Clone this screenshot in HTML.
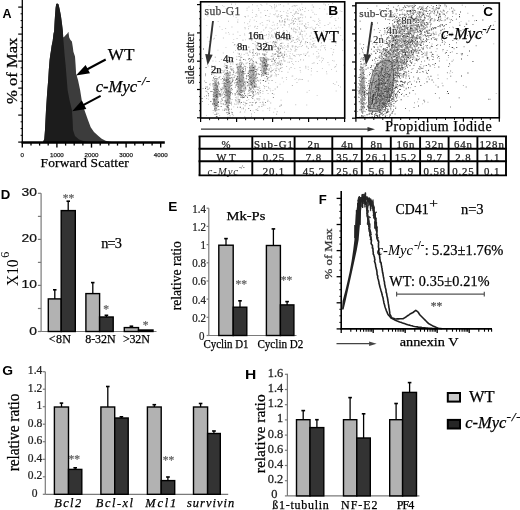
<!DOCTYPE html>
<html><head><meta charset="utf-8"><style>
html,body{margin:0;padding:0;background:#fff;}
svg{display:block;filter:blur(0.4px);}
</style></head><body>
<svg width="520" height="510" viewBox="0 0 520 510">
<rect width="520" height="510" fill="#fff"/>
<text transform="translate(2.6,17.8) scale(0.98,1)" font-family='"Liberation Sans", sans-serif' font-size="12.8" font-weight="bold">A</text>
<polygon points="40,142.5 43,142 44.3,139 45,130 46,110 47.2,92 48.2,80 48.8,70 49.6,60 50.4,54 50.8,51.8 51.6,46 52.7,40.8 53.5,33.7 54.1,31.4 54.6,22 55,15.7 55.6,8 56.2,3.9 57.2,3.6 58.5,4.2 59.6,9 60.9,15.7 62,24 62.9,31.4 63.2,37.6 64.5,36.5 66,34.8 67.2,33.7 68.4,31.8 69.2,37.6 70.5,40 71.9,41.6 72.8,47 73.4,51.8 75,56.5 75.6,65 76.1,73.7 78,80 80.1,90 81.7,100 84.4,110 87.8,119.6 90.7,127.3 94,132.1 98.4,136 101.7,138.8 105.6,140.8 110,141.8 116,142.5" fill="#3c3c3c"/>
<polygon points="40,142.5 43,142 44.3,139 45,130 46,110 47.2,92 48.2,80 48.8,70 49.6,60 50.4,54 50.8,51.8 51.6,46 52.7,40.8 53.5,33.7 54.1,31.4 54.6,22 55,15.7 55.6,8 56.2,3.9 57.2,3.6 58.5,4.2 59.6,9 60.9,15.7 62,24 62.9,31.4 63.2,37.6 63.8,45 64.6,55 65.6,65 66.8,80 67.6,90 69.5,100 71.9,110 72.6,120 73,130 75,136 79,139.5 85,141.5 92,142.5" fill="#1c1c1c"/>
<line x1="22.3" y1="0" x2="22.3" y2="143.3" stroke="#000" stroke-width="1.3"/>
<line x1="18.2" y1="7.1" x2="22.3" y2="7.1" stroke="#000" stroke-width="1.2"/>
<line x1="20.6" y1="13.8" x2="22.3" y2="13.8" stroke="#000" stroke-width="1.0"/>
<line x1="20.6" y1="20.6" x2="22.3" y2="20.6" stroke="#000" stroke-width="1.0"/>
<line x1="20.6" y1="27.4" x2="22.3" y2="27.4" stroke="#000" stroke-width="1.0"/>
<line x1="18.2" y1="34.1" x2="22.3" y2="34.1" stroke="#000" stroke-width="1.2"/>
<line x1="20.6" y1="40.9" x2="22.3" y2="40.9" stroke="#000" stroke-width="1.0"/>
<line x1="20.6" y1="47.6" x2="22.3" y2="47.6" stroke="#000" stroke-width="1.0"/>
<line x1="20.6" y1="54.4" x2="22.3" y2="54.4" stroke="#000" stroke-width="1.0"/>
<line x1="18.2" y1="61.1" x2="22.3" y2="61.1" stroke="#000" stroke-width="1.2"/>
<line x1="20.6" y1="67.8" x2="22.3" y2="67.8" stroke="#000" stroke-width="1.0"/>
<line x1="20.6" y1="74.6" x2="22.3" y2="74.6" stroke="#000" stroke-width="1.0"/>
<line x1="20.6" y1="81.3" x2="22.3" y2="81.3" stroke="#000" stroke-width="1.0"/>
<line x1="18.2" y1="88.1" x2="22.3" y2="88.1" stroke="#000" stroke-width="1.2"/>
<line x1="20.6" y1="94.8" x2="22.3" y2="94.8" stroke="#000" stroke-width="1.0"/>
<line x1="20.6" y1="101.6" x2="22.3" y2="101.6" stroke="#000" stroke-width="1.0"/>
<line x1="20.6" y1="108.3" x2="22.3" y2="108.3" stroke="#000" stroke-width="1.0"/>
<line x1="18.2" y1="115.1" x2="22.3" y2="115.1" stroke="#000" stroke-width="1.2"/>
<line x1="20.6" y1="121.8" x2="22.3" y2="121.8" stroke="#000" stroke-width="1.0"/>
<line x1="20.6" y1="128.6" x2="22.3" y2="128.6" stroke="#000" stroke-width="1.0"/>
<line x1="20.6" y1="135.3" x2="22.3" y2="135.3" stroke="#000" stroke-width="1.0"/>
<line x1="18.2" y1="142.1" x2="22.3" y2="142.1" stroke="#000" stroke-width="1.2"/>
<line x1="21.6" y1="142.5" x2="164.8" y2="142.5" stroke="#000" stroke-width="2.3"/>
<line x1="22.3" y1="142.5" x2="22.3" y2="147.6" stroke="#000" stroke-width="1.4"/>
<line x1="31" y1="142.5" x2="31" y2="145.6" stroke="#000" stroke-width="1.3"/>
<line x1="39.6" y1="142.5" x2="39.6" y2="145.6" stroke="#000" stroke-width="1.3"/>
<line x1="48.2" y1="142.5" x2="48.2" y2="145.6" stroke="#000" stroke-width="1.3"/>
<text x="22.3" y="156.5" font-family='"Liberation Sans", sans-serif' font-size="6.2" fill="#222" text-anchor="middle" stroke="#222" stroke-width="0.25">0</text>
<line x1="56.9" y1="142.5" x2="56.9" y2="147.6" stroke="#000" stroke-width="1.4"/>
<line x1="65.6" y1="142.5" x2="65.6" y2="145.6" stroke="#000" stroke-width="1.3"/>
<line x1="74.2" y1="142.5" x2="74.2" y2="145.6" stroke="#000" stroke-width="1.3"/>
<line x1="82.9" y1="142.5" x2="82.9" y2="145.6" stroke="#000" stroke-width="1.3"/>
<text x="56.9" y="156.5" font-family='"Liberation Sans", sans-serif' font-size="6.2" fill="#222" text-anchor="middle" stroke="#222" stroke-width="0.25">1000</text>
<line x1="91.5" y1="142.5" x2="91.5" y2="147.6" stroke="#000" stroke-width="1.4"/>
<line x1="100.2" y1="142.5" x2="100.2" y2="145.6" stroke="#000" stroke-width="1.3"/>
<line x1="108.8" y1="142.5" x2="108.8" y2="145.6" stroke="#000" stroke-width="1.3"/>
<line x1="117.5" y1="142.5" x2="117.5" y2="145.6" stroke="#000" stroke-width="1.3"/>
<text x="91.5" y="156.5" font-family='"Liberation Sans", sans-serif' font-size="6.2" fill="#222" text-anchor="middle" stroke="#222" stroke-width="0.25">2000</text>
<line x1="126.1" y1="142.5" x2="126.1" y2="147.6" stroke="#000" stroke-width="1.4"/>
<line x1="134.8" y1="142.5" x2="134.8" y2="145.6" stroke="#000" stroke-width="1.3"/>
<line x1="143.4" y1="142.5" x2="143.4" y2="145.6" stroke="#000" stroke-width="1.3"/>
<line x1="152.1" y1="142.5" x2="152.1" y2="145.6" stroke="#000" stroke-width="1.3"/>
<text x="126.1" y="156.5" font-family='"Liberation Sans", sans-serif' font-size="6.2" fill="#222" text-anchor="middle" stroke="#222" stroke-width="0.25">3000</text>
<line x1="160.7" y1="142.5" x2="160.7" y2="147.6" stroke="#000" stroke-width="1.4"/>
<text x="160.7" y="156.5" font-family='"Liberation Sans", sans-serif' font-size="6.2" fill="#222" text-anchor="middle" stroke="#222" stroke-width="0.25">4000</text>
<text x="40.6" y="166.6" font-family='"Liberation Serif", serif' font-size="13.4" fill="#000" textLength="88.2" lengthAdjust="spacing" stroke="#000" stroke-width="0.25">Forward Scatter</text>
<text transform="translate(16.9,104) rotate(-90)" font-family='"Liberation Serif", serif' font-size="15" fill="#000" textLength="66.3" lengthAdjust="spacingAndGlyphs" stroke="#000" stroke-width="0.25">% of Max</text>
<text x="107.7" y="60.2" font-family='"Liberation Serif", serif' font-size="17.2" fill="#000" stroke="#000" stroke-width="0.25">WT</text>
<text x="95.7" y="92" font-family='"Liberation Serif", serif' font-size="16.6" fill="#000" font-style="italic" stroke="#000" stroke-width="0.25">c-Myc<tspan font-size="12.5" dy="-6.8" letter-spacing="0.6">-/-</tspan></text>
<line x1="105.7" y1="59.5" x2="86.9" y2="69.5" stroke="#000" stroke-width="2.0"/>
<polygon points="75.9,75.4 85.6,64.9 90,73.2" fill="#000"/>
<line x1="100.6" y1="95.8" x2="83.2" y2="105.2" stroke="#000" stroke-width="2.0"/>
<polygon points="72.2,111.2 81.8,100.6 86.3,108.9" fill="#000"/>
<ellipse cx="215.6" cy="96" rx="2.2" ry="16" fill="#999" opacity="0.45"/>
<ellipse cx="227.3" cy="90" rx="2.7" ry="19" fill="#999" opacity="0.45"/>
<ellipse cx="240" cy="80" rx="2.6" ry="16" fill="#999" opacity="0.45"/>
<ellipse cx="252" cy="76" rx="2.7" ry="12" fill="#999" opacity="0.45"/>
<ellipse cx="264" cy="66" rx="2.8" ry="9" fill="#999" opacity="0.45"/>
<path d="M215.6 98.7h0.9v0.9h-0.9zM215.2 88.0h0.9v0.9h-0.9zM212.6 84.4h0.9v0.9h-0.9zM213.6 98.4h0.9v0.9h-0.9zM215.9 94.3h0.9v0.9h-0.9zM211.6 91.2h0.9v0.9h-0.9zM217.3 88.7h0.9v0.9h-0.9zM215.5 104.0h0.9v0.9h-0.9zM215.7 101.2h0.9v0.9h-0.9zM215.3 102.1h0.9v0.9h-0.9zM217.9 89.9h0.9v0.9h-0.9zM215.8 85.3h0.9v0.9h-0.9zM214.9 95.1h0.9v0.9h-0.9zM213.5 99.1h0.9v0.9h-0.9zM215.9 116.2h0.9v0.9h-0.9zM213.8 99.3h0.9v0.9h-0.9zM212.2 103.6h0.9v0.9h-0.9zM214.2 103.0h0.9v0.9h-0.9zM215.5 93.5h0.9v0.9h-0.9zM215.3 87.2h0.9v0.9h-0.9zM217.4 91.1h0.9v0.9h-0.9zM214.6 84.5h0.9v0.9h-0.9zM214.5 93.1h0.9v0.9h-0.9zM214.7 96.1h0.9v0.9h-0.9zM213.4 88.7h0.9v0.9h-0.9zM217.9 82.9h0.9v0.9h-0.9zM215.3 90.3h0.9v0.9h-0.9zM216.5 103.0h0.9v0.9h-0.9zM216.9 86.9h0.9v0.9h-0.9zM216.0 96.4h0.9v0.9h-0.9zM215.3 87.3h0.9v0.9h-0.9zM213.0 100.6h0.9v0.9h-0.9zM215.5 99.7h0.9v0.9h-0.9zM215.9 89.0h0.9v0.9h-0.9zM216.2 99.1h0.9v0.9h-0.9zM214.5 78.3h0.9v0.9h-0.9zM210.4 91.2h0.9v0.9h-0.9zM217.4 97.4h0.9v0.9h-0.9zM213.9 100.6h0.9v0.9h-0.9zM214.5 105.8h0.9v0.9h-0.9zM213.6 94.8h0.9v0.9h-0.9zM215.6 84.1h0.9v0.9h-0.9zM215.3 96.5h0.9v0.9h-0.9zM215.5 90.8h0.9v0.9h-0.9zM214.6 110.4h0.9v0.9h-0.9zM215.0 94.0h0.9v0.9h-0.9zM215.2 97.0h0.9v0.9h-0.9zM218.7 94.2h0.9v0.9h-0.9zM217.1 87.5h0.9v0.9h-0.9zM216.1 94.2h0.9v0.9h-0.9zM215.9 98.7h0.9v0.9h-0.9zM215.9 95.2h0.9v0.9h-0.9zM216.5 96.5h0.9v0.9h-0.9zM216.6 116.3h0.9v0.9h-0.9zM215.9 89.0h0.9v0.9h-0.9zM215.3 85.6h0.9v0.9h-0.9zM215.8 85.6h0.9v0.9h-0.9zM216.4 94.8h0.9v0.9h-0.9zM216.9 94.3h0.9v0.9h-0.9zM215.9 105.0h0.9v0.9h-0.9zM215.0 105.3h0.9v0.9h-0.9zM214.1 103.2h0.9v0.9h-0.9zM217.7 92.5h0.9v0.9h-0.9zM218.1 90.2h0.9v0.9h-0.9zM215.0 104.9h0.9v0.9h-0.9zM216.1 86.6h0.9v0.9h-0.9zM213.2 96.0h0.9v0.9h-0.9zM215.4 96.5h0.9v0.9h-0.9zM213.9 89.3h0.9v0.9h-0.9zM214.3 89.5h0.9v0.9h-0.9zM216.5 89.2h0.9v0.9h-0.9zM218.6 93.1h0.9v0.9h-0.9zM215.1 82.4h0.9v0.9h-0.9zM214.0 108.5h0.9v0.9h-0.9zM215.5 95.2h0.9v0.9h-0.9zM215.5 107.6h0.9v0.9h-0.9zM227.8 88.0h0.9v0.9h-0.9zM225.8 79.6h0.9v0.9h-0.9zM227.8 90.0h0.9v0.9h-0.9zM226.7 67.2h0.9v0.9h-0.9zM226.6 79.3h0.9v0.9h-0.9zM228.2 92.7h0.9v0.9h-0.9zM228.6 94.7h0.9v0.9h-0.9zM227.0 62.1h0.9v0.9h-0.9zM227.8 109.2h0.9v0.9h-0.9zM225.9 94.7h0.9v0.9h-0.9zM229.3 81.5h0.9v0.9h-0.9zM228.5 101.8h0.9v0.9h-0.9zM228.0 79.0h0.9v0.9h-0.9zM226.1 80.5h0.9v0.9h-0.9zM229.1 94.2h0.9v0.9h-0.9zM226.1 89.8h0.9v0.9h-0.9zM229.6 93.4h0.9v0.9h-0.9zM227.2 106.2h0.9v0.9h-0.9zM226.0 73.3h0.9v0.9h-0.9zM225.6 92.3h0.9v0.9h-0.9zM227.4 92.4h0.9v0.9h-0.9zM225.3 91.3h0.9v0.9h-0.9zM228.3 80.2h0.9v0.9h-0.9zM225.8 86.1h0.9v0.9h-0.9zM228.4 97.5h0.9v0.9h-0.9zM223.2 97.0h0.9v0.9h-0.9zM228.7 86.2h0.9v0.9h-0.9zM222.7 103.4h0.9v0.9h-0.9zM228.0 73.4h0.9v0.9h-0.9zM226.4 89.1h0.9v0.9h-0.9zM225.1 85.9h0.9v0.9h-0.9zM226.9 100.1h0.9v0.9h-0.9zM227.5 84.3h0.9v0.9h-0.9zM228.6 96.7h0.9v0.9h-0.9zM225.5 67.2h0.9v0.9h-0.9zM227.9 107.5h0.9v0.9h-0.9zM226.0 68.2h0.9v0.9h-0.9zM228.0 91.2h0.9v0.9h-0.9zM227.1 82.1h0.9v0.9h-0.9zM226.4 80.8h0.9v0.9h-0.9zM226.3 66.9h0.9v0.9h-0.9zM224.4 85.5h0.9v0.9h-0.9zM223.8 84.9h0.9v0.9h-0.9zM228.9 96.1h0.9v0.9h-0.9zM227.1 80.2h0.9v0.9h-0.9zM227.3 91.2h0.9v0.9h-0.9zM228.9 77.9h0.9v0.9h-0.9zM229.0 113.1h0.9v0.9h-0.9zM225.4 88.8h0.9v0.9h-0.9zM226.7 91.3h0.9v0.9h-0.9zM225.4 87.3h0.9v0.9h-0.9zM228.8 91.3h0.9v0.9h-0.9zM227.5 107.0h0.9v0.9h-0.9zM227.7 82.6h0.9v0.9h-0.9zM229.1 97.7h0.9v0.9h-0.9zM227.6 90.8h0.9v0.9h-0.9zM225.9 87.9h0.9v0.9h-0.9zM229.7 74.7h0.9v0.9h-0.9zM227.1 75.7h0.9v0.9h-0.9zM226.4 102.2h0.9v0.9h-0.9zM227.7 99.7h0.9v0.9h-0.9zM231.8 80.9h0.9v0.9h-0.9zM228.2 97.2h0.9v0.9h-0.9zM227.1 101.3h0.9v0.9h-0.9zM225.2 100.5h0.9v0.9h-0.9zM227.1 96.3h0.9v0.9h-0.9zM229.4 86.2h0.9v0.9h-0.9zM229.4 85.6h0.9v0.9h-0.9zM228.2 80.9h0.9v0.9h-0.9zM228.0 94.3h0.9v0.9h-0.9zM226.5 112.2h0.9v0.9h-0.9zM227.4 90.5h0.9v0.9h-0.9zM226.7 70.1h0.9v0.9h-0.9zM226.8 65.6h0.9v0.9h-0.9zM228.0 82.0h0.9v0.9h-0.9zM225.9 87.6h0.9v0.9h-0.9zM223.2 79.4h0.9v0.9h-0.9zM229.6 77.8h0.9v0.9h-0.9zM225.6 85.5h0.9v0.9h-0.9zM229.3 81.0h0.9v0.9h-0.9zM229.0 102.7h0.9v0.9h-0.9zM227.1 72.4h0.9v0.9h-0.9zM226.8 91.8h0.9v0.9h-0.9zM227.3 82.1h0.9v0.9h-0.9zM228.9 92.4h0.9v0.9h-0.9zM228.8 85.6h0.9v0.9h-0.9zM226.4 76.8h0.9v0.9h-0.9zM226.9 101.5h0.9v0.9h-0.9zM228.0 95.6h0.9v0.9h-0.9zM225.7 65.0h0.9v0.9h-0.9zM227.2 101.7h0.9v0.9h-0.9zM228.6 75.3h0.9v0.9h-0.9zM229.9 91.5h0.9v0.9h-0.9zM232.0 80.6h0.9v0.9h-0.9zM227.1 88.2h0.9v0.9h-0.9zM225.3 85.9h0.9v0.9h-0.9zM226.1 87.2h0.9v0.9h-0.9zM230.5 65.9h0.9v0.9h-0.9zM242.2 90.8h0.9v0.9h-0.9zM239.7 87.8h0.9v0.9h-0.9zM237.4 82.0h0.9v0.9h-0.9zM238.4 66.1h0.9v0.9h-0.9zM240.4 65.6h0.9v0.9h-0.9zM239.4 82.7h0.9v0.9h-0.9zM237.1 78.8h0.9v0.9h-0.9zM241.7 76.6h0.9v0.9h-0.9zM238.1 81.9h0.9v0.9h-0.9zM239.8 106.8h0.9v0.9h-0.9zM239.9 78.8h0.9v0.9h-0.9zM238.9 74.9h0.9v0.9h-0.9zM241.0 85.5h0.9v0.9h-0.9zM242.0 94.4h0.9v0.9h-0.9zM242.3 85.6h0.9v0.9h-0.9zM239.8 78.1h0.9v0.9h-0.9zM239.0 79.7h0.9v0.9h-0.9zM237.0 90.5h0.9v0.9h-0.9zM242.7 97.2h0.9v0.9h-0.9zM245.1 86.8h0.9v0.9h-0.9zM242.4 85.1h0.9v0.9h-0.9zM240.3 83.9h0.9v0.9h-0.9zM238.7 88.7h0.9v0.9h-0.9zM243.2 76.8h0.9v0.9h-0.9zM239.5 87.1h0.9v0.9h-0.9zM243.0 59.2h0.9v0.9h-0.9zM237.7 93.8h0.9v0.9h-0.9zM244.5 84.6h0.9v0.9h-0.9zM239.7 70.9h0.9v0.9h-0.9zM240.2 84.3h0.9v0.9h-0.9zM239.3 93.9h0.9v0.9h-0.9zM238.8 53.6h0.9v0.9h-0.9zM239.6 81.0h0.9v0.9h-0.9zM244.5 73.2h0.9v0.9h-0.9zM239.9 70.1h0.9v0.9h-0.9zM239.3 75.1h0.9v0.9h-0.9zM241.2 74.5h0.9v0.9h-0.9zM238.3 82.7h0.9v0.9h-0.9zM239.8 89.8h0.9v0.9h-0.9zM239.2 87.1h0.9v0.9h-0.9zM245.1 68.4h0.9v0.9h-0.9zM240.8 63.6h0.9v0.9h-0.9zM242.7 68.5h0.9v0.9h-0.9zM240.3 94.3h0.9v0.9h-0.9zM243.0 71.1h0.9v0.9h-0.9zM241.3 79.0h0.9v0.9h-0.9zM240.6 71.4h0.9v0.9h-0.9zM240.1 78.9h0.9v0.9h-0.9zM238.7 80.2h0.9v0.9h-0.9zM236.7 67.3h0.9v0.9h-0.9zM236.2 78.3h0.9v0.9h-0.9zM236.8 76.5h0.9v0.9h-0.9zM239.9 81.0h0.9v0.9h-0.9zM242.5 73.2h0.9v0.9h-0.9zM239.3 77.1h0.9v0.9h-0.9zM238.0 69.4h0.9v0.9h-0.9zM240.2 83.9h0.9v0.9h-0.9zM243.2 83.1h0.9v0.9h-0.9zM238.8 79.4h0.9v0.9h-0.9zM241.7 72.0h0.9v0.9h-0.9zM239.0 100.7h0.9v0.9h-0.9zM238.9 78.4h0.9v0.9h-0.9zM239.2 77.6h0.9v0.9h-0.9zM237.6 71.2h0.9v0.9h-0.9zM239.3 74.5h0.9v0.9h-0.9zM238.4 79.4h0.9v0.9h-0.9zM242.2 69.9h0.9v0.9h-0.9zM239.1 87.4h0.9v0.9h-0.9zM237.5 76.1h0.9v0.9h-0.9zM240.2 59.7h0.9v0.9h-0.9zM238.7 76.1h0.9v0.9h-0.9zM238.3 84.3h0.9v0.9h-0.9zM239.1 72.6h0.9v0.9h-0.9zM240.7 90.0h0.9v0.9h-0.9zM242.7 81.6h0.9v0.9h-0.9zM240.2 71.2h0.9v0.9h-0.9zM237.5 86.2h0.9v0.9h-0.9zM235.8 79.0h0.9v0.9h-0.9zM241.3 77.7h0.9v0.9h-0.9zM238.8 101.3h0.9v0.9h-0.9zM242.3 96.4h0.9v0.9h-0.9zM242.2 90.5h0.9v0.9h-0.9zM237.4 66.5h0.9v0.9h-0.9zM242.6 75.3h0.9v0.9h-0.9zM239.3 72.8h0.9v0.9h-0.9zM240.6 81.0h0.9v0.9h-0.9zM253.9 79.4h0.9v0.9h-0.9zM254.2 71.9h0.9v0.9h-0.9zM252.4 86.6h0.9v0.9h-0.9zM251.0 83.6h0.9v0.9h-0.9zM250.4 84.4h0.9v0.9h-0.9zM252.8 69.9h0.9v0.9h-0.9zM253.5 67.1h0.9v0.9h-0.9zM252.4 76.1h0.9v0.9h-0.9zM249.9 80.3h0.9v0.9h-0.9zM252.6 66.8h0.9v0.9h-0.9zM252.5 77.7h0.9v0.9h-0.9zM254.1 72.2h0.9v0.9h-0.9zM254.0 68.5h0.9v0.9h-0.9zM253.3 80.1h0.9v0.9h-0.9zM254.1 86.6h0.9v0.9h-0.9zM250.9 82.1h0.9v0.9h-0.9zM252.6 78.3h0.9v0.9h-0.9zM255.8 73.5h0.9v0.9h-0.9zM251.9 82.9h0.9v0.9h-0.9zM252.3 75.2h0.9v0.9h-0.9zM251.2 70.4h0.9v0.9h-0.9zM251.1 79.7h0.9v0.9h-0.9zM252.8 74.2h0.9v0.9h-0.9zM252.6 74.8h0.9v0.9h-0.9zM254.1 85.1h0.9v0.9h-0.9zM255.2 86.6h0.9v0.9h-0.9zM249.3 66.9h0.9v0.9h-0.9zM251.8 80.7h0.9v0.9h-0.9zM249.3 77.9h0.9v0.9h-0.9zM250.6 76.8h0.9v0.9h-0.9zM252.5 67.6h0.9v0.9h-0.9zM254.0 85.9h0.9v0.9h-0.9zM247.0 82.1h0.9v0.9h-0.9zM250.4 76.8h0.9v0.9h-0.9zM249.8 70.3h0.9v0.9h-0.9zM252.8 71.8h0.9v0.9h-0.9zM253.8 82.0h0.9v0.9h-0.9zM251.3 79.9h0.9v0.9h-0.9zM255.0 71.0h0.9v0.9h-0.9zM249.2 87.7h0.9v0.9h-0.9zM253.3 73.3h0.9v0.9h-0.9zM255.6 69.0h0.9v0.9h-0.9zM251.4 83.9h0.9v0.9h-0.9zM252.7 91.0h0.9v0.9h-0.9zM255.3 75.5h0.9v0.9h-0.9zM254.5 65.6h0.9v0.9h-0.9zM254.5 83.2h0.9v0.9h-0.9zM251.8 70.3h0.9v0.9h-0.9zM253.6 77.1h0.9v0.9h-0.9zM250.9 76.6h0.9v0.9h-0.9zM254.4 81.3h0.9v0.9h-0.9zM253.0 80.6h0.9v0.9h-0.9zM253.2 79.5h0.9v0.9h-0.9zM248.1 73.1h0.9v0.9h-0.9zM248.9 86.7h0.9v0.9h-0.9zM250.5 70.1h0.9v0.9h-0.9zM249.6 71.9h0.9v0.9h-0.9zM249.0 63.3h0.9v0.9h-0.9zM253.5 70.3h0.9v0.9h-0.9zM248.0 78.9h0.9v0.9h-0.9zM252.3 82.6h0.9v0.9h-0.9zM262.1 62.5h0.9v0.9h-0.9zM266.2 61.2h0.9v0.9h-0.9zM263.7 54.5h0.9v0.9h-0.9zM268.3 58.7h0.9v0.9h-0.9zM261.6 61.1h0.9v0.9h-0.9zM262.2 66.6h0.9v0.9h-0.9zM263.5 60.1h0.9v0.9h-0.9zM265.5 73.1h0.9v0.9h-0.9zM264.7 59.5h0.9v0.9h-0.9zM264.9 64.4h0.9v0.9h-0.9zM263.3 66.8h0.9v0.9h-0.9zM263.6 62.0h0.9v0.9h-0.9zM265.5 73.7h0.9v0.9h-0.9zM260.1 63.6h0.9v0.9h-0.9zM262.7 44.0h0.9v0.9h-0.9zM264.2 54.6h0.9v0.9h-0.9zM263.6 68.8h0.9v0.9h-0.9zM263.3 74.8h0.9v0.9h-0.9zM263.1 80.1h0.9v0.9h-0.9zM264.9 64.6h0.9v0.9h-0.9zM261.3 57.4h0.9v0.9h-0.9zM270.5 71.3h0.9v0.9h-0.9zM256.1 62.4h0.9v0.9h-0.9zM265.4 69.5h0.9v0.9h-0.9zM267.7 73.8h0.9v0.9h-0.9zM265.7 58.8h0.9v0.9h-0.9zM264.4 64.6h0.9v0.9h-0.9zM264.2 64.9h0.9v0.9h-0.9zM265.2 63.6h0.9v0.9h-0.9zM266.0 67.4h0.9v0.9h-0.9zM261.3 70.4h0.9v0.9h-0.9zM263.0 67.8h0.9v0.9h-0.9zM265.3 66.3h0.9v0.9h-0.9zM264.4 68.1h0.9v0.9h-0.9zM265.2 80.9h0.9v0.9h-0.9zM264.3 61.8h0.9v0.9h-0.9zM264.4 62.6h0.9v0.9h-0.9zM263.9 57.9h0.9v0.9h-0.9zM263.5 70.7h0.9v0.9h-0.9zM264.6 73.1h0.9v0.9h-0.9zM266.3 76.0h0.9v0.9h-0.9zM266.5 65.3h0.9v0.9h-0.9zM260.7 59.7h0.9v0.9h-0.9zM265.3 65.6h0.9v0.9h-0.9zM264.1 62.5h0.9v0.9h-0.9zM266.1 65.7h0.9v0.9h-0.9zM264.0 66.1h0.9v0.9h-0.9zM266.6 68.8h0.9v0.9h-0.9zM266.2 68.3h0.9v0.9h-0.9zM266.9 65.8h0.9v0.9h-0.9zM271.5 60.8h0.9v0.9h-0.9zM273.3 41.3h0.9v0.9h-0.9zM275.5 42.0h0.9v0.9h-0.9zM278.5 55.7h0.9v0.9h-0.9zM275.2 44.5h0.9v0.9h-0.9zM284.1 54.6h0.9v0.9h-0.9zM271.5 47.5h0.9v0.9h-0.9zM275.3 53.4h0.9v0.9h-0.9zM277.4 51.6h0.9v0.9h-0.9zM279.5 52.8h0.9v0.9h-0.9zM274.4 53.9h0.9v0.9h-0.9zM282.6 56.7h0.9v0.9h-0.9zM277.9 48.6h0.9v0.9h-0.9zM279.8 63.8h0.9v0.9h-0.9zM282.9 56.7h0.9v0.9h-0.9zM280.3 51.8h0.9v0.9h-0.9zM278.3 55.7h0.9v0.9h-0.9zM275.6 46.0h0.9v0.9h-0.9zM277.5 62.6h0.9v0.9h-0.9zM279.9 48.3h0.9v0.9h-0.9zM277.4 55.9h0.9v0.9h-0.9zM273.1 58.5h0.9v0.9h-0.9z" fill="#333"/>
<path d="M214.9 87.1h0.9v0.9h-0.9zM215.7 108.1h0.9v0.9h-0.9zM215.6 102.3h0.9v0.9h-0.9zM213.4 91.9h0.9v0.9h-0.9zM212.7 93.9h0.9v0.9h-0.9zM215.5 97.0h0.9v0.9h-0.9zM213.2 91.7h0.9v0.9h-0.9zM214.7 95.0h0.9v0.9h-0.9zM215.8 96.6h0.9v0.9h-0.9zM217.0 97.1h0.9v0.9h-0.9zM214.6 114.0h0.9v0.9h-0.9zM215.9 91.8h0.9v0.9h-0.9zM214.7 94.2h0.9v0.9h-0.9zM213.5 88.8h0.9v0.9h-0.9zM216.6 78.1h0.9v0.9h-0.9zM215.1 92.7h0.9v0.9h-0.9zM215.2 109.7h0.9v0.9h-0.9zM216.2 94.9h0.9v0.9h-0.9zM215.6 92.0h0.9v0.9h-0.9zM215.6 102.0h0.9v0.9h-0.9zM212.9 77.7h0.9v0.9h-0.9zM215.1 87.9h0.9v0.9h-0.9zM216.7 100.7h0.9v0.9h-0.9zM213.9 95.3h0.9v0.9h-0.9zM216.0 88.3h0.9v0.9h-0.9zM215.7 90.7h0.9v0.9h-0.9zM215.4 78.0h0.9v0.9h-0.9zM212.8 102.8h0.9v0.9h-0.9zM217.6 94.6h0.9v0.9h-0.9zM217.1 96.1h0.9v0.9h-0.9zM215.0 93.3h0.9v0.9h-0.9zM213.9 99.0h0.9v0.9h-0.9zM212.8 102.6h0.9v0.9h-0.9zM215.6 96.6h0.9v0.9h-0.9zM214.4 100.1h0.9v0.9h-0.9zM214.7 94.7h0.9v0.9h-0.9zM213.8 85.1h0.9v0.9h-0.9zM216.1 95.7h0.9v0.9h-0.9zM216.6 93.3h0.9v0.9h-0.9zM215.4 96.2h0.9v0.9h-0.9zM217.5 102.1h0.9v0.9h-0.9zM216.2 90.9h0.9v0.9h-0.9zM213.4 104.5h0.9v0.9h-0.9zM216.9 104.3h0.9v0.9h-0.9zM213.6 103.8h0.9v0.9h-0.9zM213.8 80.8h0.9v0.9h-0.9zM213.0 77.0h0.9v0.9h-0.9zM214.2 82.4h0.9v0.9h-0.9zM214.0 90.1h0.9v0.9h-0.9zM218.8 83.5h0.9v0.9h-0.9zM217.0 95.2h0.9v0.9h-0.9zM215.6 83.0h0.9v0.9h-0.9zM217.7 96.4h0.9v0.9h-0.9zM215.7 95.5h0.9v0.9h-0.9zM215.7 103.2h0.9v0.9h-0.9zM216.5 97.9h0.9v0.9h-0.9zM218.4 109.1h0.9v0.9h-0.9zM214.9 102.9h0.9v0.9h-0.9zM216.0 95.4h0.9v0.9h-0.9zM215.2 94.4h0.9v0.9h-0.9zM215.6 109.8h0.9v0.9h-0.9zM214.7 92.5h0.9v0.9h-0.9zM217.1 104.3h0.9v0.9h-0.9zM216.7 97.0h0.9v0.9h-0.9zM215.9 93.7h0.9v0.9h-0.9zM218.0 101.0h0.9v0.9h-0.9zM216.4 96.6h0.9v0.9h-0.9zM213.1 93.9h0.9v0.9h-0.9zM214.2 104.0h0.9v0.9h-0.9zM214.4 101.2h0.9v0.9h-0.9zM215.6 87.1h0.9v0.9h-0.9zM216.3 114.1h0.9v0.9h-0.9zM215.2 94.2h0.9v0.9h-0.9zM213.9 98.9h0.9v0.9h-0.9zM214.7 83.8h0.9v0.9h-0.9zM214.2 91.5h0.9v0.9h-0.9zM215.1 95.6h0.9v0.9h-0.9zM216.4 112.8h0.9v0.9h-0.9zM212.5 83.3h0.9v0.9h-0.9zM217.0 102.4h0.9v0.9h-0.9zM215.0 89.9h0.9v0.9h-0.9zM213.7 95.5h0.9v0.9h-0.9zM217.4 105.6h0.9v0.9h-0.9zM217.3 91.7h0.9v0.9h-0.9zM215.0 92.9h0.9v0.9h-0.9zM213.5 83.0h0.9v0.9h-0.9zM212.8 88.9h0.9v0.9h-0.9zM215.9 85.1h0.9v0.9h-0.9zM216.3 78.9h0.9v0.9h-0.9zM219.7 94.4h0.9v0.9h-0.9zM214.8 91.9h0.9v0.9h-0.9zM215.5 91.2h0.9v0.9h-0.9zM215.5 103.9h0.9v0.9h-0.9zM214.6 87.2h0.9v0.9h-0.9zM217.0 91.3h0.9v0.9h-0.9zM216.2 94.0h0.9v0.9h-0.9zM214.4 101.3h0.9v0.9h-0.9zM215.4 101.4h0.9v0.9h-0.9zM215.5 80.5h0.9v0.9h-0.9zM216.6 86.3h0.9v0.9h-0.9zM217.4 82.3h0.9v0.9h-0.9zM213.8 99.4h0.9v0.9h-0.9zM216.3 87.3h0.9v0.9h-0.9zM216.0 95.7h0.9v0.9h-0.9zM213.5 102.7h0.9v0.9h-0.9zM216.9 87.3h0.9v0.9h-0.9zM213.4 92.8h0.9v0.9h-0.9zM217.8 70.6h0.9v0.9h-0.9zM216.4 86.3h0.9v0.9h-0.9zM217.3 86.3h0.9v0.9h-0.9zM216.9 92.4h0.9v0.9h-0.9zM215.0 95.7h0.9v0.9h-0.9zM214.4 95.4h0.9v0.9h-0.9zM226.1 81.8h0.9v0.9h-0.9zM227.2 78.5h0.9v0.9h-0.9zM226.8 84.0h0.9v0.9h-0.9zM224.6 90.7h0.9v0.9h-0.9zM224.6 83.2h0.9v0.9h-0.9zM227.0 85.3h0.9v0.9h-0.9zM227.5 76.8h0.9v0.9h-0.9zM227.8 91.6h0.9v0.9h-0.9zM226.0 87.1h0.9v0.9h-0.9zM227.7 73.3h0.9v0.9h-0.9zM228.4 102.9h0.9v0.9h-0.9zM224.2 100.4h0.9v0.9h-0.9zM224.7 83.0h0.9v0.9h-0.9zM228.1 91.2h0.9v0.9h-0.9zM227.2 98.0h0.9v0.9h-0.9zM224.0 96.4h0.9v0.9h-0.9zM227.2 93.4h0.9v0.9h-0.9zM223.9 86.0h0.9v0.9h-0.9zM228.8 59.6h0.9v0.9h-0.9zM227.1 96.0h0.9v0.9h-0.9zM228.7 108.7h0.9v0.9h-0.9zM227.9 98.7h0.9v0.9h-0.9zM227.0 89.5h0.9v0.9h-0.9zM227.7 104.8h0.9v0.9h-0.9zM225.4 88.0h0.9v0.9h-0.9zM226.9 98.7h0.9v0.9h-0.9zM229.4 73.4h0.9v0.9h-0.9zM227.8 79.8h0.9v0.9h-0.9zM227.4 86.1h0.9v0.9h-0.9zM226.4 103.3h0.9v0.9h-0.9zM231.8 112.0h0.9v0.9h-0.9zM230.4 88.6h0.9v0.9h-0.9zM228.2 80.9h0.9v0.9h-0.9zM224.0 74.2h0.9v0.9h-0.9zM227.0 92.3h0.9v0.9h-0.9zM226.6 78.7h0.9v0.9h-0.9zM224.1 78.6h0.9v0.9h-0.9zM229.2 88.8h0.9v0.9h-0.9zM228.7 112.6h0.9v0.9h-0.9zM226.8 86.0h0.9v0.9h-0.9zM229.7 95.4h0.9v0.9h-0.9zM228.6 84.4h0.9v0.9h-0.9zM226.9 94.8h0.9v0.9h-0.9zM223.9 94.0h0.9v0.9h-0.9zM225.8 86.4h0.9v0.9h-0.9zM227.8 102.2h0.9v0.9h-0.9zM223.7 80.2h0.9v0.9h-0.9zM227.9 88.8h0.9v0.9h-0.9zM226.2 83.3h0.9v0.9h-0.9zM223.9 89.7h0.9v0.9h-0.9zM229.9 97.8h0.9v0.9h-0.9zM225.9 105.9h0.9v0.9h-0.9zM226.7 91.0h0.9v0.9h-0.9zM231.9 89.2h0.9v0.9h-0.9zM228.7 77.7h0.9v0.9h-0.9zM230.4 82.5h0.9v0.9h-0.9zM230.3 68.5h0.9v0.9h-0.9zM226.0 84.2h0.9v0.9h-0.9zM228.8 86.8h0.9v0.9h-0.9zM226.9 73.1h0.9v0.9h-0.9zM225.8 79.9h0.9v0.9h-0.9zM224.9 94.8h0.9v0.9h-0.9zM228.6 90.4h0.9v0.9h-0.9zM229.8 94.7h0.9v0.9h-0.9zM224.4 88.2h0.9v0.9h-0.9zM226.8 92.3h0.9v0.9h-0.9zM227.5 76.7h0.9v0.9h-0.9zM232.4 78.9h0.9v0.9h-0.9zM228.9 77.4h0.9v0.9h-0.9zM225.3 79.5h0.9v0.9h-0.9zM225.0 81.2h0.9v0.9h-0.9zM230.2 92.4h0.9v0.9h-0.9zM229.2 83.4h0.9v0.9h-0.9zM227.1 93.6h0.9v0.9h-0.9zM229.7 84.6h0.9v0.9h-0.9zM223.8 86.9h0.9v0.9h-0.9zM229.9 93.5h0.9v0.9h-0.9zM227.6 109.7h0.9v0.9h-0.9zM228.2 98.2h0.9v0.9h-0.9zM226.4 93.4h0.9v0.9h-0.9zM227.0 77.4h0.9v0.9h-0.9zM227.3 99.6h0.9v0.9h-0.9zM229.6 115.4h0.9v0.9h-0.9zM227.2 105.5h0.9v0.9h-0.9zM227.9 98.1h0.9v0.9h-0.9zM226.3 66.5h0.9v0.9h-0.9zM229.4 85.0h0.9v0.9h-0.9zM229.7 83.0h0.9v0.9h-0.9zM225.1 103.9h0.9v0.9h-0.9zM229.7 85.3h0.9v0.9h-0.9zM226.0 93.9h0.9v0.9h-0.9zM227.2 84.1h0.9v0.9h-0.9zM226.3 90.7h0.9v0.9h-0.9zM227.4 83.8h0.9v0.9h-0.9zM228.9 86.5h0.9v0.9h-0.9zM223.4 79.3h0.9v0.9h-0.9zM228.6 98.7h0.9v0.9h-0.9zM226.8 80.2h0.9v0.9h-0.9zM225.5 72.8h0.9v0.9h-0.9zM228.0 109.5h0.9v0.9h-0.9zM229.2 82.7h0.9v0.9h-0.9zM226.5 94.8h0.9v0.9h-0.9zM223.8 78.3h0.9v0.9h-0.9zM230.5 78.4h0.9v0.9h-0.9zM227.2 96.3h0.9v0.9h-0.9zM230.8 92.1h0.9v0.9h-0.9zM227.5 79.3h0.9v0.9h-0.9zM228.5 87.3h0.9v0.9h-0.9zM226.7 99.7h0.9v0.9h-0.9zM226.8 74.8h0.9v0.9h-0.9zM227.5 116.8h0.9v0.9h-0.9zM228.3 110.6h0.9v0.9h-0.9zM225.8 79.5h0.9v0.9h-0.9zM227.6 92.4h0.9v0.9h-0.9zM225.5 82.9h0.9v0.9h-0.9zM228.9 93.8h0.9v0.9h-0.9zM226.9 84.0h0.9v0.9h-0.9zM226.9 83.9h0.9v0.9h-0.9zM227.2 80.2h0.9v0.9h-0.9zM228.0 90.7h0.9v0.9h-0.9zM228.8 78.1h0.9v0.9h-0.9zM230.0 90.4h0.9v0.9h-0.9zM225.9 91.8h0.9v0.9h-0.9zM225.9 102.6h0.9v0.9h-0.9zM225.8 109.6h0.9v0.9h-0.9zM227.9 90.0h0.9v0.9h-0.9zM226.1 78.4h0.9v0.9h-0.9zM227.2 91.1h0.9v0.9h-0.9zM228.2 101.5h0.9v0.9h-0.9zM226.3 81.0h0.9v0.9h-0.9zM224.0 79.8h0.9v0.9h-0.9zM228.4 90.5h0.9v0.9h-0.9zM227.4 95.5h0.9v0.9h-0.9zM239.9 80.0h0.9v0.9h-0.9zM239.7 71.9h0.9v0.9h-0.9zM239.0 82.2h0.9v0.9h-0.9zM239.0 76.5h0.9v0.9h-0.9zM236.7 71.5h0.9v0.9h-0.9zM240.0 88.4h0.9v0.9h-0.9zM241.9 79.2h0.9v0.9h-0.9zM239.6 72.1h0.9v0.9h-0.9zM239.9 65.8h0.9v0.9h-0.9zM237.7 92.4h0.9v0.9h-0.9zM241.2 92.0h0.9v0.9h-0.9zM242.6 86.3h0.9v0.9h-0.9zM240.6 76.4h0.9v0.9h-0.9zM241.3 82.1h0.9v0.9h-0.9zM241.8 90.1h0.9v0.9h-0.9zM238.7 75.7h0.9v0.9h-0.9zM242.3 75.4h0.9v0.9h-0.9zM237.8 99.3h0.9v0.9h-0.9zM240.5 84.0h0.9v0.9h-0.9zM238.7 87.5h0.9v0.9h-0.9zM240.3 87.3h0.9v0.9h-0.9zM238.7 93.1h0.9v0.9h-0.9zM242.4 83.1h0.9v0.9h-0.9zM242.7 84.0h0.9v0.9h-0.9zM240.3 65.9h0.9v0.9h-0.9zM243.0 71.9h0.9v0.9h-0.9zM243.3 89.5h0.9v0.9h-0.9zM240.5 71.4h0.9v0.9h-0.9zM238.6 82.1h0.9v0.9h-0.9zM243.0 82.7h0.9v0.9h-0.9zM240.5 66.6h0.9v0.9h-0.9zM238.1 92.7h0.9v0.9h-0.9zM237.7 78.0h0.9v0.9h-0.9zM240.5 88.4h0.9v0.9h-0.9zM237.5 68.0h0.9v0.9h-0.9zM243.8 65.8h0.9v0.9h-0.9zM240.6 82.9h0.9v0.9h-0.9zM237.4 70.6h0.9v0.9h-0.9zM241.0 85.5h0.9v0.9h-0.9zM239.4 83.9h0.9v0.9h-0.9zM238.9 59.7h0.9v0.9h-0.9zM237.8 86.0h0.9v0.9h-0.9zM238.6 56.0h0.9v0.9h-0.9zM243.5 71.3h0.9v0.9h-0.9zM242.8 95.1h0.9v0.9h-0.9zM237.7 78.3h0.9v0.9h-0.9zM241.7 68.2h0.9v0.9h-0.9zM239.5 67.5h0.9v0.9h-0.9zM238.3 69.1h0.9v0.9h-0.9zM238.6 86.7h0.9v0.9h-0.9zM241.2 74.5h0.9v0.9h-0.9zM239.2 63.6h0.9v0.9h-0.9zM239.2 66.5h0.9v0.9h-0.9zM237.3 72.3h0.9v0.9h-0.9zM238.2 87.1h0.9v0.9h-0.9zM245.0 95.0h0.9v0.9h-0.9zM240.5 61.8h0.9v0.9h-0.9zM237.6 92.6h0.9v0.9h-0.9zM245.0 88.0h0.9v0.9h-0.9zM239.9 78.4h0.9v0.9h-0.9zM239.5 86.8h0.9v0.9h-0.9zM240.8 87.3h0.9v0.9h-0.9zM242.4 73.6h0.9v0.9h-0.9zM240.8 71.6h0.9v0.9h-0.9zM238.7 74.0h0.9v0.9h-0.9zM239.7 81.4h0.9v0.9h-0.9zM240.9 66.2h0.9v0.9h-0.9zM243.9 91.2h0.9v0.9h-0.9zM239.8 85.3h0.9v0.9h-0.9zM241.7 67.8h0.9v0.9h-0.9zM235.0 79.9h0.9v0.9h-0.9zM243.0 69.1h0.9v0.9h-0.9zM239.9 92.0h0.9v0.9h-0.9zM241.8 80.0h0.9v0.9h-0.9zM238.9 98.9h0.9v0.9h-0.9zM240.0 69.0h0.9v0.9h-0.9zM240.7 91.9h0.9v0.9h-0.9zM241.3 80.2h0.9v0.9h-0.9zM244.2 86.5h0.9v0.9h-0.9zM240.8 71.6h0.9v0.9h-0.9zM240.1 78.4h0.9v0.9h-0.9zM237.8 86.2h0.9v0.9h-0.9zM239.0 90.5h0.9v0.9h-0.9zM240.4 90.2h0.9v0.9h-0.9zM238.3 71.8h0.9v0.9h-0.9zM240.6 71.3h0.9v0.9h-0.9zM238.6 81.3h0.9v0.9h-0.9zM239.6 90.8h0.9v0.9h-0.9zM239.0 81.8h0.9v0.9h-0.9zM238.0 72.1h0.9v0.9h-0.9zM241.2 81.8h0.9v0.9h-0.9zM239.8 79.3h0.9v0.9h-0.9zM240.6 81.4h0.9v0.9h-0.9zM239.4 75.1h0.9v0.9h-0.9zM238.1 79.9h0.9v0.9h-0.9zM236.1 91.8h0.9v0.9h-0.9zM240.6 89.8h0.9v0.9h-0.9zM240.3 91.7h0.9v0.9h-0.9zM242.4 79.1h0.9v0.9h-0.9zM240.7 82.6h0.9v0.9h-0.9zM241.2 72.8h0.9v0.9h-0.9zM240.2 57.4h0.9v0.9h-0.9zM241.3 73.7h0.9v0.9h-0.9zM241.7 62.5h0.9v0.9h-0.9zM238.4 73.3h0.9v0.9h-0.9zM239.5 70.3h0.9v0.9h-0.9zM241.6 91.0h0.9v0.9h-0.9zM238.4 78.4h0.9v0.9h-0.9zM244.3 80.7h0.9v0.9h-0.9zM238.8 87.6h0.9v0.9h-0.9zM243.4 84.6h0.9v0.9h-0.9zM237.0 83.9h0.9v0.9h-0.9zM250.0 83.0h0.9v0.9h-0.9zM251.4 65.5h0.9v0.9h-0.9zM249.2 67.3h0.9v0.9h-0.9zM247.2 81.6h0.9v0.9h-0.9zM253.4 75.4h0.9v0.9h-0.9zM248.8 89.8h0.9v0.9h-0.9zM252.2 92.8h0.9v0.9h-0.9zM254.4 85.0h0.9v0.9h-0.9zM250.8 71.3h0.9v0.9h-0.9zM247.7 72.8h0.9v0.9h-0.9zM253.2 74.6h0.9v0.9h-0.9zM250.6 65.7h0.9v0.9h-0.9zM249.5 78.7h0.9v0.9h-0.9zM250.0 76.5h0.9v0.9h-0.9zM254.2 83.7h0.9v0.9h-0.9zM249.7 83.7h0.9v0.9h-0.9zM252.7 84.4h0.9v0.9h-0.9zM255.6 75.2h0.9v0.9h-0.9zM251.5 91.2h0.9v0.9h-0.9zM251.4 66.4h0.9v0.9h-0.9zM250.5 73.6h0.9v0.9h-0.9zM252.7 81.0h0.9v0.9h-0.9zM255.8 70.8h0.9v0.9h-0.9zM251.4 58.6h0.9v0.9h-0.9zM255.1 78.0h0.9v0.9h-0.9zM254.3 76.9h0.9v0.9h-0.9zM251.7 73.9h0.9v0.9h-0.9zM252.7 69.3h0.9v0.9h-0.9zM250.8 75.1h0.9v0.9h-0.9zM252.7 75.3h0.9v0.9h-0.9zM255.0 75.9h0.9v0.9h-0.9zM254.6 67.7h0.9v0.9h-0.9zM251.3 70.9h0.9v0.9h-0.9zM247.9 75.1h0.9v0.9h-0.9zM249.8 81.2h0.9v0.9h-0.9zM252.2 74.8h0.9v0.9h-0.9zM248.7 80.5h0.9v0.9h-0.9zM249.7 70.1h0.9v0.9h-0.9zM250.4 67.1h0.9v0.9h-0.9zM248.7 76.2h0.9v0.9h-0.9zM253.7 73.5h0.9v0.9h-0.9zM252.1 69.8h0.9v0.9h-0.9zM255.7 80.9h0.9v0.9h-0.9zM249.7 76.0h0.9v0.9h-0.9zM253.5 79.6h0.9v0.9h-0.9zM255.8 86.3h0.9v0.9h-0.9zM250.9 75.3h0.9v0.9h-0.9zM252.3 96.3h0.9v0.9h-0.9zM252.2 60.3h0.9v0.9h-0.9zM249.4 69.5h0.9v0.9h-0.9zM251.2 78.6h0.9v0.9h-0.9zM251.7 69.3h0.9v0.9h-0.9zM250.3 80.9h0.9v0.9h-0.9zM248.6 75.5h0.9v0.9h-0.9zM252.5 62.8h0.9v0.9h-0.9zM249.8 83.3h0.9v0.9h-0.9zM254.6 71.4h0.9v0.9h-0.9zM249.6 65.8h0.9v0.9h-0.9zM252.3 72.4h0.9v0.9h-0.9zM251.1 88.5h0.9v0.9h-0.9zM253.1 79.6h0.9v0.9h-0.9zM255.9 68.9h0.9v0.9h-0.9zM251.5 65.7h0.9v0.9h-0.9zM250.4 67.1h0.9v0.9h-0.9zM252.2 76.2h0.9v0.9h-0.9zM250.6 68.4h0.9v0.9h-0.9zM249.1 90.0h0.9v0.9h-0.9zM249.6 83.8h0.9v0.9h-0.9zM250.8 80.1h0.9v0.9h-0.9zM249.4 91.7h0.9v0.9h-0.9zM250.5 59.4h0.9v0.9h-0.9zM251.7 75.0h0.9v0.9h-0.9zM256.0 73.5h0.9v0.9h-0.9zM252.0 80.5h0.9v0.9h-0.9zM251.4 76.6h0.9v0.9h-0.9zM253.6 78.2h0.9v0.9h-0.9zM252.5 64.2h0.9v0.9h-0.9zM251.1 84.7h0.9v0.9h-0.9zM253.5 54.9h0.9v0.9h-0.9zM252.1 65.1h0.9v0.9h-0.9zM253.4 85.7h0.9v0.9h-0.9zM249.9 87.8h0.9v0.9h-0.9zM250.0 78.1h0.9v0.9h-0.9zM251.0 75.6h0.9v0.9h-0.9zM254.4 66.3h0.9v0.9h-0.9zM253.8 80.2h0.9v0.9h-0.9zM255.8 61.8h0.9v0.9h-0.9zM252.6 74.1h0.9v0.9h-0.9zM252.0 74.7h0.9v0.9h-0.9zM249.0 74.0h0.9v0.9h-0.9zM250.1 77.2h0.9v0.9h-0.9zM252.1 71.3h0.9v0.9h-0.9zM252.2 86.5h0.9v0.9h-0.9zM250.6 73.4h0.9v0.9h-0.9zM250.3 82.6h0.9v0.9h-0.9zM249.8 67.5h0.9v0.9h-0.9zM252.5 67.7h0.9v0.9h-0.9zM252.3 79.1h0.9v0.9h-0.9zM265.6 53.8h0.9v0.9h-0.9zM266.3 72.1h0.9v0.9h-0.9zM263.6 66.5h0.9v0.9h-0.9zM262.4 61.7h0.9v0.9h-0.9zM266.8 78.6h0.9v0.9h-0.9zM264.8 61.7h0.9v0.9h-0.9zM261.9 74.7h0.9v0.9h-0.9zM267.6 59.7h0.9v0.9h-0.9zM266.7 63.7h0.9v0.9h-0.9zM260.3 60.3h0.9v0.9h-0.9zM267.3 77.8h0.9v0.9h-0.9zM262.8 65.5h0.9v0.9h-0.9zM263.3 59.6h0.9v0.9h-0.9zM266.3 66.0h0.9v0.9h-0.9zM263.1 70.5h0.9v0.9h-0.9zM263.0 62.9h0.9v0.9h-0.9zM265.8 67.1h0.9v0.9h-0.9zM261.3 74.0h0.9v0.9h-0.9zM266.3 62.6h0.9v0.9h-0.9zM265.9 61.6h0.9v0.9h-0.9zM266.6 64.7h0.9v0.9h-0.9zM262.2 63.8h0.9v0.9h-0.9zM262.2 67.2h0.9v0.9h-0.9zM264.6 72.8h0.9v0.9h-0.9zM262.7 62.5h0.9v0.9h-0.9zM261.9 73.1h0.9v0.9h-0.9zM264.0 71.7h0.9v0.9h-0.9zM265.9 67.4h0.9v0.9h-0.9zM267.8 64.3h0.9v0.9h-0.9zM266.5 69.2h0.9v0.9h-0.9zM264.9 69.3h0.9v0.9h-0.9zM263.6 57.5h0.9v0.9h-0.9zM263.2 57.3h0.9v0.9h-0.9zM262.6 60.8h0.9v0.9h-0.9zM263.6 71.8h0.9v0.9h-0.9zM264.5 70.0h0.9v0.9h-0.9zM267.3 59.6h0.9v0.9h-0.9zM262.9 57.7h0.9v0.9h-0.9zM263.3 65.3h0.9v0.9h-0.9zM263.0 70.9h0.9v0.9h-0.9zM263.1 57.1h0.9v0.9h-0.9zM266.1 59.7h0.9v0.9h-0.9zM262.8 61.1h0.9v0.9h-0.9zM263.4 68.3h0.9v0.9h-0.9zM262.3 65.8h0.9v0.9h-0.9zM262.9 59.5h0.9v0.9h-0.9zM263.3 68.0h0.9v0.9h-0.9zM267.2 64.5h0.9v0.9h-0.9zM262.2 64.7h0.9v0.9h-0.9zM268.5 70.2h0.9v0.9h-0.9zM264.7 67.2h0.9v0.9h-0.9zM262.2 53.4h0.9v0.9h-0.9zM262.5 53.8h0.9v0.9h-0.9zM260.1 70.1h0.9v0.9h-0.9zM266.0 66.6h0.9v0.9h-0.9zM267.8 77.2h0.9v0.9h-0.9zM261.2 72.2h0.9v0.9h-0.9zM266.1 61.7h0.9v0.9h-0.9zM262.6 61.0h0.9v0.9h-0.9zM265.6 63.2h0.9v0.9h-0.9zM264.4 66.3h0.9v0.9h-0.9zM265.2 72.1h0.9v0.9h-0.9zM259.2 74.0h0.9v0.9h-0.9zM264.2 59.0h0.9v0.9h-0.9zM276.3 50.8h0.9v0.9h-0.9zM284.4 60.5h0.9v0.9h-0.9zM275.6 70.4h0.9v0.9h-0.9zM277.2 54.6h0.9v0.9h-0.9zM278.5 68.7h0.9v0.9h-0.9zM270.3 65.2h0.9v0.9h-0.9zM274.9 62.0h0.9v0.9h-0.9zM277.3 64.9h0.9v0.9h-0.9zM277.8 50.4h0.9v0.9h-0.9zM280.7 60.2h0.9v0.9h-0.9zM277.1 47.6h0.9v0.9h-0.9zM279.5 56.2h0.9v0.9h-0.9zM281.1 54.9h0.9v0.9h-0.9zM275.9 57.9h0.9v0.9h-0.9zM276.4 67.7h0.9v0.9h-0.9zM280.5 62.7h0.9v0.9h-0.9zM274.1 60.0h0.9v0.9h-0.9zM271.7 58.6h0.9v0.9h-0.9zM274.7 48.9h0.9v0.9h-0.9zM280.5 64.7h0.9v0.9h-0.9zM278.4 57.8h0.9v0.9h-0.9z" fill="#777"/>
<path d="M214.8 90.4h0.9v0.9h-0.9zM216.4 99.2h0.9v0.9h-0.9zM215.8 87.6h0.9v0.9h-0.9zM214.0 88.7h0.9v0.9h-0.9zM213.6 96.7h0.9v0.9h-0.9zM217.8 82.1h0.9v0.9h-0.9zM216.8 85.2h0.9v0.9h-0.9zM215.5 102.0h0.9v0.9h-0.9zM217.0 106.3h0.9v0.9h-0.9zM217.6 102.2h0.9v0.9h-0.9zM214.9 93.3h0.9v0.9h-0.9zM215.3 86.0h0.9v0.9h-0.9zM217.5 101.9h0.9v0.9h-0.9zM215.1 105.5h0.9v0.9h-0.9zM215.6 101.3h0.9v0.9h-0.9zM214.3 90.4h0.9v0.9h-0.9zM215.9 100.4h0.9v0.9h-0.9zM215.3 94.1h0.9v0.9h-0.9zM215.7 86.5h0.9v0.9h-0.9zM217.2 97.7h0.9v0.9h-0.9zM215.8 82.2h0.9v0.9h-0.9zM217.6 109.0h0.9v0.9h-0.9zM215.5 88.9h0.9v0.9h-0.9zM218.2 90.0h0.9v0.9h-0.9zM217.7 91.4h0.9v0.9h-0.9zM214.9 91.4h0.9v0.9h-0.9zM217.1 94.7h0.9v0.9h-0.9zM214.9 109.6h0.9v0.9h-0.9zM216.4 103.9h0.9v0.9h-0.9zM218.6 109.4h0.9v0.9h-0.9zM215.6 103.6h0.9v0.9h-0.9zM215.2 96.3h0.9v0.9h-0.9zM214.0 88.0h0.9v0.9h-0.9zM214.9 102.7h0.9v0.9h-0.9zM215.5 96.7h0.9v0.9h-0.9zM215.1 106.4h0.9v0.9h-0.9zM215.6 76.2h0.9v0.9h-0.9zM213.7 87.5h0.9v0.9h-0.9zM216.2 72.5h0.9v0.9h-0.9zM215.7 86.3h0.9v0.9h-0.9zM217.5 99.0h0.9v0.9h-0.9zM212.7 110.1h0.9v0.9h-0.9zM215.0 86.0h0.9v0.9h-0.9zM215.5 103.9h0.9v0.9h-0.9zM218.0 93.2h0.9v0.9h-0.9zM214.6 97.7h0.9v0.9h-0.9zM213.6 86.0h0.9v0.9h-0.9zM217.6 87.9h0.9v0.9h-0.9zM217.3 109.7h0.9v0.9h-0.9zM216.0 101.0h0.9v0.9h-0.9zM215.7 109.3h0.9v0.9h-0.9zM212.9 99.5h0.9v0.9h-0.9zM215.4 80.6h0.9v0.9h-0.9zM215.9 99.5h0.9v0.9h-0.9zM217.8 101.4h0.9v0.9h-0.9zM215.1 85.9h0.9v0.9h-0.9zM215.9 81.0h0.9v0.9h-0.9zM213.6 105.7h0.9v0.9h-0.9zM214.3 93.3h0.9v0.9h-0.9zM214.0 84.4h0.9v0.9h-0.9zM218.0 89.0h0.9v0.9h-0.9zM215.5 86.2h0.9v0.9h-0.9zM217.1 87.8h0.9v0.9h-0.9zM212.7 95.5h0.9v0.9h-0.9zM213.7 79.5h0.9v0.9h-0.9zM215.9 96.4h0.9v0.9h-0.9zM218.7 86.6h0.9v0.9h-0.9zM213.1 86.9h0.9v0.9h-0.9zM214.2 79.0h0.9v0.9h-0.9zM213.8 95.4h0.9v0.9h-0.9zM218.6 94.8h0.9v0.9h-0.9zM228.5 88.9h0.9v0.9h-0.9zM227.5 91.7h0.9v0.9h-0.9zM226.8 83.9h0.9v0.9h-0.9zM227.0 85.2h0.9v0.9h-0.9zM228.4 71.7h0.9v0.9h-0.9zM227.9 94.2h0.9v0.9h-0.9zM229.3 92.6h0.9v0.9h-0.9zM228.1 73.6h0.9v0.9h-0.9zM229.8 85.9h0.9v0.9h-0.9zM230.5 88.9h0.9v0.9h-0.9zM226.8 76.1h0.9v0.9h-0.9zM228.1 86.6h0.9v0.9h-0.9zM222.8 86.3h0.9v0.9h-0.9zM226.2 89.6h0.9v0.9h-0.9zM229.1 111.5h0.9v0.9h-0.9zM225.5 93.7h0.9v0.9h-0.9zM229.4 95.4h0.9v0.9h-0.9zM228.3 84.8h0.9v0.9h-0.9zM229.4 87.4h0.9v0.9h-0.9zM229.5 80.0h0.9v0.9h-0.9zM225.9 97.4h0.9v0.9h-0.9zM229.1 83.0h0.9v0.9h-0.9zM228.6 81.7h0.9v0.9h-0.9zM228.5 86.3h0.9v0.9h-0.9zM229.6 89.7h0.9v0.9h-0.9zM226.9 97.7h0.9v0.9h-0.9zM231.1 108.8h0.9v0.9h-0.9zM226.1 86.2h0.9v0.9h-0.9zM231.3 90.2h0.9v0.9h-0.9zM224.9 84.5h0.9v0.9h-0.9zM227.5 68.0h0.9v0.9h-0.9zM226.7 89.2h0.9v0.9h-0.9zM231.0 111.8h0.9v0.9h-0.9zM227.2 89.2h0.9v0.9h-0.9zM226.8 95.9h0.9v0.9h-0.9zM227.8 91.3h0.9v0.9h-0.9zM230.1 72.7h0.9v0.9h-0.9zM226.0 95.9h0.9v0.9h-0.9zM226.6 73.5h0.9v0.9h-0.9zM226.0 94.1h0.9v0.9h-0.9zM228.7 88.8h0.9v0.9h-0.9zM228.1 94.5h0.9v0.9h-0.9zM224.6 108.0h0.9v0.9h-0.9zM223.9 86.9h0.9v0.9h-0.9zM227.5 82.9h0.9v0.9h-0.9zM228.4 82.0h0.9v0.9h-0.9zM227.2 100.8h0.9v0.9h-0.9zM226.3 89.7h0.9v0.9h-0.9zM227.6 88.0h0.9v0.9h-0.9zM228.6 83.6h0.9v0.9h-0.9zM229.6 84.7h0.9v0.9h-0.9zM228.8 84.5h0.9v0.9h-0.9zM228.8 92.8h0.9v0.9h-0.9zM228.6 78.2h0.9v0.9h-0.9zM227.7 78.3h0.9v0.9h-0.9zM231.3 87.6h0.9v0.9h-0.9zM224.7 101.6h0.9v0.9h-0.9zM227.4 95.4h0.9v0.9h-0.9zM226.6 100.2h0.9v0.9h-0.9zM228.1 97.9h0.9v0.9h-0.9zM229.7 96.5h0.9v0.9h-0.9zM231.0 108.7h0.9v0.9h-0.9zM228.8 89.2h0.9v0.9h-0.9zM222.8 97.0h0.9v0.9h-0.9zM228.0 80.0h0.9v0.9h-0.9zM227.2 95.5h0.9v0.9h-0.9zM229.3 88.4h0.9v0.9h-0.9zM229.4 90.2h0.9v0.9h-0.9zM226.8 88.2h0.9v0.9h-0.9zM227.5 80.1h0.9v0.9h-0.9zM227.8 74.2h0.9v0.9h-0.9zM228.6 74.9h0.9v0.9h-0.9zM227.9 86.5h0.9v0.9h-0.9zM229.0 89.5h0.9v0.9h-0.9zM230.8 68.2h0.9v0.9h-0.9zM226.6 81.3h0.9v0.9h-0.9zM225.9 99.7h0.9v0.9h-0.9zM229.0 85.9h0.9v0.9h-0.9zM225.1 73.0h0.9v0.9h-0.9zM225.9 65.5h0.9v0.9h-0.9zM228.8 83.1h0.9v0.9h-0.9zM229.6 77.3h0.9v0.9h-0.9zM230.2 63.5h0.9v0.9h-0.9zM225.1 87.0h0.9v0.9h-0.9zM227.8 87.7h0.9v0.9h-0.9zM229.6 66.5h0.9v0.9h-0.9zM225.9 112.4h0.9v0.9h-0.9zM231.9 73.9h0.9v0.9h-0.9zM227.0 86.6h0.9v0.9h-0.9zM225.8 84.6h0.9v0.9h-0.9zM225.8 67.9h0.9v0.9h-0.9zM229.4 117.0h0.9v0.9h-0.9zM228.0 96.8h0.9v0.9h-0.9zM227.4 79.6h0.9v0.9h-0.9zM223.7 77.3h0.9v0.9h-0.9zM226.6 92.4h0.9v0.9h-0.9zM239.3 72.3h0.9v0.9h-0.9zM239.8 62.2h0.9v0.9h-0.9zM241.2 88.5h0.9v0.9h-0.9zM239.1 88.8h0.9v0.9h-0.9zM242.6 78.6h0.9v0.9h-0.9zM240.8 77.6h0.9v0.9h-0.9zM241.2 96.6h0.9v0.9h-0.9zM239.3 73.6h0.9v0.9h-0.9zM241.2 91.2h0.9v0.9h-0.9zM242.3 91.3h0.9v0.9h-0.9zM238.2 93.7h0.9v0.9h-0.9zM240.6 56.7h0.9v0.9h-0.9zM239.1 68.3h0.9v0.9h-0.9zM239.1 71.2h0.9v0.9h-0.9zM238.8 83.1h0.9v0.9h-0.9zM241.4 88.5h0.9v0.9h-0.9zM237.8 66.3h0.9v0.9h-0.9zM240.2 81.7h0.9v0.9h-0.9zM243.1 63.8h0.9v0.9h-0.9zM240.4 88.0h0.9v0.9h-0.9zM239.9 87.3h0.9v0.9h-0.9zM238.9 85.9h0.9v0.9h-0.9zM240.3 55.4h0.9v0.9h-0.9zM240.1 77.9h0.9v0.9h-0.9zM236.9 88.4h0.9v0.9h-0.9zM240.8 83.7h0.9v0.9h-0.9zM238.6 67.8h0.9v0.9h-0.9zM240.1 73.3h0.9v0.9h-0.9zM239.1 62.4h0.9v0.9h-0.9zM237.4 64.5h0.9v0.9h-0.9zM239.6 76.9h0.9v0.9h-0.9zM237.8 67.5h0.9v0.9h-0.9zM238.8 85.9h0.9v0.9h-0.9zM241.1 63.1h0.9v0.9h-0.9zM245.0 69.3h0.9v0.9h-0.9zM241.8 91.7h0.9v0.9h-0.9zM241.9 81.4h0.9v0.9h-0.9zM245.4 86.7h0.9v0.9h-0.9zM243.0 79.8h0.9v0.9h-0.9zM235.8 63.8h0.9v0.9h-0.9zM240.2 70.6h0.9v0.9h-0.9zM239.7 79.0h0.9v0.9h-0.9zM243.7 92.3h0.9v0.9h-0.9zM239.9 91.5h0.9v0.9h-0.9zM238.5 76.8h0.9v0.9h-0.9zM240.2 95.5h0.9v0.9h-0.9zM238.6 82.1h0.9v0.9h-0.9zM239.4 87.6h0.9v0.9h-0.9zM240.6 82.7h0.9v0.9h-0.9zM243.2 88.1h0.9v0.9h-0.9zM237.1 94.2h0.9v0.9h-0.9zM238.0 81.6h0.9v0.9h-0.9zM237.2 73.5h0.9v0.9h-0.9zM240.9 82.1h0.9v0.9h-0.9zM242.3 80.8h0.9v0.9h-0.9zM238.2 85.0h0.9v0.9h-0.9zM239.1 87.2h0.9v0.9h-0.9zM238.4 71.4h0.9v0.9h-0.9zM238.1 76.2h0.9v0.9h-0.9zM239.2 78.1h0.9v0.9h-0.9zM237.7 95.6h0.9v0.9h-0.9zM241.0 97.0h0.9v0.9h-0.9zM241.5 94.2h0.9v0.9h-0.9zM242.2 96.1h0.9v0.9h-0.9zM241.4 76.5h0.9v0.9h-0.9zM241.4 108.4h0.9v0.9h-0.9zM236.4 89.7h0.9v0.9h-0.9zM240.7 78.9h0.9v0.9h-0.9zM239.6 75.9h0.9v0.9h-0.9zM240.2 75.7h0.9v0.9h-0.9zM237.9 75.7h0.9v0.9h-0.9zM237.9 94.1h0.9v0.9h-0.9zM240.2 95.1h0.9v0.9h-0.9zM239.1 87.1h0.9v0.9h-0.9zM241.3 78.7h0.9v0.9h-0.9zM241.6 75.3h0.9v0.9h-0.9zM239.3 87.2h0.9v0.9h-0.9zM239.4 75.7h0.9v0.9h-0.9zM237.6 77.8h0.9v0.9h-0.9zM235.7 71.9h0.9v0.9h-0.9zM238.2 82.6h0.9v0.9h-0.9zM239.2 75.0h0.9v0.9h-0.9zM243.9 82.0h0.9v0.9h-0.9zM242.8 82.6h0.9v0.9h-0.9zM241.2 66.3h0.9v0.9h-0.9zM239.5 59.5h0.9v0.9h-0.9zM241.7 76.3h0.9v0.9h-0.9zM239.6 83.9h0.9v0.9h-0.9zM242.9 88.0h0.9v0.9h-0.9zM237.2 63.6h0.9v0.9h-0.9zM240.9 66.5h0.9v0.9h-0.9zM237.8 67.0h0.9v0.9h-0.9zM241.1 85.4h0.9v0.9h-0.9zM238.1 72.5h0.9v0.9h-0.9zM239.5 87.4h0.9v0.9h-0.9zM241.5 71.2h0.9v0.9h-0.9zM238.7 63.6h0.9v0.9h-0.9zM241.9 73.6h0.9v0.9h-0.9zM237.7 83.5h0.9v0.9h-0.9zM238.5 89.7h0.9v0.9h-0.9zM240.3 69.5h0.9v0.9h-0.9zM242.2 86.7h0.9v0.9h-0.9zM249.8 59.8h0.9v0.9h-0.9zM254.2 70.6h0.9v0.9h-0.9zM251.2 78.8h0.9v0.9h-0.9zM249.5 68.0h0.9v0.9h-0.9zM250.2 77.9h0.9v0.9h-0.9zM250.4 73.3h0.9v0.9h-0.9zM256.0 78.4h0.9v0.9h-0.9zM251.2 74.0h0.9v0.9h-0.9zM255.3 73.8h0.9v0.9h-0.9zM252.0 85.0h0.9v0.9h-0.9zM253.8 81.4h0.9v0.9h-0.9zM253.1 79.0h0.9v0.9h-0.9zM254.1 75.3h0.9v0.9h-0.9zM256.5 77.6h0.9v0.9h-0.9zM253.3 78.3h0.9v0.9h-0.9zM249.9 75.9h0.9v0.9h-0.9zM251.1 66.0h0.9v0.9h-0.9zM251.5 75.5h0.9v0.9h-0.9zM251.8 76.0h0.9v0.9h-0.9zM250.9 75.6h0.9v0.9h-0.9zM250.7 91.0h0.9v0.9h-0.9zM254.8 79.4h0.9v0.9h-0.9zM251.9 92.4h0.9v0.9h-0.9zM256.4 69.4h0.9v0.9h-0.9zM253.5 68.5h0.9v0.9h-0.9zM251.3 65.5h0.9v0.9h-0.9zM253.1 87.4h0.9v0.9h-0.9zM250.0 74.9h0.9v0.9h-0.9zM250.7 72.3h0.9v0.9h-0.9zM253.9 70.9h0.9v0.9h-0.9zM253.7 72.0h0.9v0.9h-0.9zM251.0 65.7h0.9v0.9h-0.9zM253.5 73.2h0.9v0.9h-0.9zM254.8 84.3h0.9v0.9h-0.9zM255.6 78.2h0.9v0.9h-0.9zM251.6 76.0h0.9v0.9h-0.9zM252.9 64.5h0.9v0.9h-0.9zM252.7 71.1h0.9v0.9h-0.9zM256.4 77.0h0.9v0.9h-0.9zM255.1 75.9h0.9v0.9h-0.9zM252.0 73.3h0.9v0.9h-0.9zM252.1 63.0h0.9v0.9h-0.9zM254.2 79.9h0.9v0.9h-0.9zM252.1 69.1h0.9v0.9h-0.9zM251.5 79.5h0.9v0.9h-0.9zM254.1 71.8h0.9v0.9h-0.9zM254.2 94.7h0.9v0.9h-0.9zM251.5 78.6h0.9v0.9h-0.9zM250.0 70.7h0.9v0.9h-0.9zM255.2 79.7h0.9v0.9h-0.9zM254.7 74.0h0.9v0.9h-0.9zM251.4 68.7h0.9v0.9h-0.9zM250.6 79.7h0.9v0.9h-0.9zM255.9 80.7h0.9v0.9h-0.9zM251.3 63.8h0.9v0.9h-0.9zM249.1 65.4h0.9v0.9h-0.9zM253.0 95.3h0.9v0.9h-0.9zM249.9 83.1h0.9v0.9h-0.9zM251.4 74.3h0.9v0.9h-0.9zM250.5 90.5h0.9v0.9h-0.9zM252.7 71.7h0.9v0.9h-0.9zM267.4 79.7h0.9v0.9h-0.9zM260.8 65.3h0.9v0.9h-0.9zM263.0 72.4h0.9v0.9h-0.9zM267.3 66.4h0.9v0.9h-0.9zM265.5 70.5h0.9v0.9h-0.9zM261.7 66.6h0.9v0.9h-0.9zM263.0 67.0h0.9v0.9h-0.9zM264.4 66.2h0.9v0.9h-0.9zM264.6 63.7h0.9v0.9h-0.9zM263.6 65.2h0.9v0.9h-0.9zM263.4 66.4h0.9v0.9h-0.9zM262.5 61.3h0.9v0.9h-0.9zM260.9 68.4h0.9v0.9h-0.9zM266.1 72.9h0.9v0.9h-0.9zM263.4 67.8h0.9v0.9h-0.9zM265.6 68.5h0.9v0.9h-0.9zM260.2 60.3h0.9v0.9h-0.9zM263.4 61.4h0.9v0.9h-0.9zM264.9 50.6h0.9v0.9h-0.9zM264.6 67.1h0.9v0.9h-0.9zM264.2 66.0h0.9v0.9h-0.9zM265.0 68.5h0.9v0.9h-0.9zM262.3 65.4h0.9v0.9h-0.9zM264.9 54.7h0.9v0.9h-0.9zM262.2 62.7h0.9v0.9h-0.9zM266.0 66.7h0.9v0.9h-0.9zM275.0 73.4h0.9v0.9h-0.9zM280.9 60.7h0.9v0.9h-0.9zM274.9 59.4h0.9v0.9h-0.9zM275.3 60.4h0.9v0.9h-0.9zM279.1 49.4h0.9v0.9h-0.9zM274.2 63.5h0.9v0.9h-0.9zM282.2 55.2h0.9v0.9h-0.9zM278.3 63.2h0.9v0.9h-0.9zM278.0 73.9h0.9v0.9h-0.9zM281.6 54.1h0.9v0.9h-0.9zM275.9 36.1h0.9v0.9h-0.9zM275.8 64.4h0.9v0.9h-0.9zM278.4 47.7h0.9v0.9h-0.9zM273.1 69.4h0.9v0.9h-0.9zM279.1 61.5h0.9v0.9h-0.9zM272.7 54.7h0.9v0.9h-0.9zM278.3 52.7h0.9v0.9h-0.9z" fill="#aaa"/>
<path d="M263.4 46.1h0.9v0.9h-0.9zM205.6 67.1h0.9v0.9h-0.9zM256.7 54.7h0.9v0.9h-0.9zM250.7 84.1h0.9v0.9h-0.9zM216.1 94.3h0.9v0.9h-0.9zM248.4 46.7h0.9v0.9h-0.9zM210.4 101.1h0.9v0.9h-0.9zM247.2 82.2h0.9v0.9h-0.9zM236.8 83.6h0.9v0.9h-0.9zM265.9 60.5h0.9v0.9h-0.9zM235.7 82.0h0.9v0.9h-0.9zM227.8 112.4h0.9v0.9h-0.9zM205.0 88.0h0.9v0.9h-0.9zM239.3 91.2h0.9v0.9h-0.9zM242.8 73.6h0.9v0.9h-0.9zM207.5 88.8h0.9v0.9h-0.9zM242.6 66.9h0.9v0.9h-0.9zM201.6 98.1h0.9v0.9h-0.9zM242.7 97.1h0.9v0.9h-0.9zM258.2 73.6h0.9v0.9h-0.9zM247.0 97.2h0.9v0.9h-0.9zM243.9 96.7h0.9v0.9h-0.9zM231.8 113.7h0.9v0.9h-0.9zM252.3 97.9h0.9v0.9h-0.9zM252.9 92.1h0.9v0.9h-0.9zM265.6 57.4h0.9v0.9h-0.9zM217.1 85.5h0.9v0.9h-0.9zM220.4 93.8h0.9v0.9h-0.9zM221.4 98.5h0.9v0.9h-0.9zM219.8 93.4h0.9v0.9h-0.9zM203.0 48.6h0.9v0.9h-0.9zM242.2 71.1h0.9v0.9h-0.9zM235.6 100.4h0.9v0.9h-0.9zM261.2 75.6h0.9v0.9h-0.9zM226.0 101.8h0.9v0.9h-0.9zM218.6 77.3h0.9v0.9h-0.9zM228.8 87.3h0.9v0.9h-0.9zM252.7 49.3h0.9v0.9h-0.9zM228.0 91.0h0.9v0.9h-0.9zM231.0 85.2h0.9v0.9h-0.9zM218.1 102.0h0.9v0.9h-0.9zM216.0 96.0h0.9v0.9h-0.9zM219.9 95.6h0.9v0.9h-0.9zM226.6 94.5h0.9v0.9h-0.9zM247.7 73.2h0.9v0.9h-0.9zM244.2 93.3h0.9v0.9h-0.9zM248.7 95.1h0.9v0.9h-0.9zM252.0 82.9h0.9v0.9h-0.9zM207.9 93.3h0.9v0.9h-0.9zM236.8 80.8h0.9v0.9h-0.9zM244.3 81.7h0.9v0.9h-0.9zM248.5 82.8h0.9v0.9h-0.9zM230.5 102.9h0.9v0.9h-0.9zM234.9 93.5h0.9v0.9h-0.9zM229.9 92.6h0.9v0.9h-0.9zM242.7 80.8h0.9v0.9h-0.9zM229.6 71.9h0.9v0.9h-0.9zM213.7 98.8h0.9v0.9h-0.9zM259.8 58.4h0.9v0.9h-0.9zM242.4 77.6h0.9v0.9h-0.9zM264.2 64.9h0.9v0.9h-0.9zM242.9 77.6h0.9v0.9h-0.9zM246.4 75.5h0.9v0.9h-0.9zM224.0 82.6h0.9v0.9h-0.9zM217.1 96.5h0.9v0.9h-0.9zM218.2 106.2h0.9v0.9h-0.9z" fill="#444"/>
<path d="M239.1 93.3h0.9v0.9h-0.9zM264.5 58.7h0.9v0.9h-0.9zM241.3 57.2h0.9v0.9h-0.9zM236.8 72.4h0.9v0.9h-0.9zM266.1 34.4h0.9v0.9h-0.9zM256.2 69.2h0.9v0.9h-0.9zM237.2 106.8h0.9v0.9h-0.9zM228.5 87.5h0.9v0.9h-0.9zM262.9 72.4h0.9v0.9h-0.9zM305.4 26.6h0.9v0.9h-0.9zM228.4 86.7h0.9v0.9h-0.9zM229.2 108.7h0.9v0.9h-0.9zM235.9 84.4h0.9v0.9h-0.9zM304.9 55.1h0.9v0.9h-0.9zM312.6 44.5h0.9v0.9h-0.9zM253.9 77.6h0.9v0.9h-0.9zM279.2 20.3h0.9v0.9h-0.9zM225.4 74.5h0.9v0.9h-0.9zM221.0 89.1h0.9v0.9h-0.9zM253.0 61.1h0.9v0.9h-0.9zM271.6 80.1h0.9v0.9h-0.9zM265.9 43.5h0.9v0.9h-0.9zM224.5 72.7h0.9v0.9h-0.9zM255.7 44.9h0.9v0.9h-0.9zM228.9 71.4h0.9v0.9h-0.9zM240.9 64.1h0.9v0.9h-0.9zM281.4 70.9h0.9v0.9h-0.9zM257.2 53.5h0.9v0.9h-0.9zM263.7 70.0h0.9v0.9h-0.9zM303.9 24.9h0.9v0.9h-0.9zM316.3 36.5h0.9v0.9h-0.9zM246.4 99.9h0.9v0.9h-0.9zM220.9 69.7h0.9v0.9h-0.9zM212.3 98.5h0.9v0.9h-0.9zM264.8 69.3h0.9v0.9h-0.9zM226.6 68.2h0.9v0.9h-0.9zM215.3 84.8h0.9v0.9h-0.9zM254.3 82.4h0.9v0.9h-0.9zM257.0 76.9h0.9v0.9h-0.9zM300.0 42.3h0.9v0.9h-0.9zM293.7 5.3h0.9v0.9h-0.9zM268.5 64.4h0.9v0.9h-0.9zM260.9 45.8h0.9v0.9h-0.9zM279.9 15.7h0.9v0.9h-0.9zM205.5 90.7h0.9v0.9h-0.9zM249.2 60.9h0.9v0.9h-0.9zM256.7 42.1h0.9v0.9h-0.9zM266.5 52.2h0.9v0.9h-0.9zM265.3 15.0h0.9v0.9h-0.9zM281.0 17.4h0.9v0.9h-0.9zM233.1 72.1h0.9v0.9h-0.9zM231.1 104.4h0.9v0.9h-0.9zM221.4 90.5h0.9v0.9h-0.9zM228.5 81.0h0.9v0.9h-0.9zM278.0 48.3h0.9v0.9h-0.9zM284.1 54.0h0.9v0.9h-0.9zM259.9 59.3h0.9v0.9h-0.9zM281.3 15.2h0.9v0.9h-0.9zM251.0 39.4h0.9v0.9h-0.9zM218.9 95.7h0.9v0.9h-0.9zM255.8 83.8h0.9v0.9h-0.9zM284.2 20.8h0.9v0.9h-0.9zM254.1 31.9h0.9v0.9h-0.9zM223.4 82.8h0.9v0.9h-0.9zM272.7 63.4h0.9v0.9h-0.9zM222.4 93.4h0.9v0.9h-0.9zM278.9 39.4h0.9v0.9h-0.9zM276.9 86.5h0.9v0.9h-0.9zM282.0 63.7h0.9v0.9h-0.9zM221.0 106.0h0.9v0.9h-0.9zM223.9 110.2h0.9v0.9h-0.9zM300.2 59.4h0.9v0.9h-0.9zM266.7 48.9h0.9v0.9h-0.9zM244.8 81.6h0.9v0.9h-0.9zM251.1 77.7h0.9v0.9h-0.9zM284.4 22.4h0.9v0.9h-0.9zM274.6 46.1h0.9v0.9h-0.9zM291.0 28.3h0.9v0.9h-0.9zM248.2 58.8h0.9v0.9h-0.9zM255.2 53.0h0.9v0.9h-0.9zM245.2 59.7h0.9v0.9h-0.9zM245.8 62.7h0.9v0.9h-0.9zM234.9 86.8h0.9v0.9h-0.9zM269.0 68.6h0.9v0.9h-0.9zM236.3 83.6h0.9v0.9h-0.9zM305.0 41.5h0.9v0.9h-0.9zM280.1 67.8h0.9v0.9h-0.9zM268.2 82.7h0.9v0.9h-0.9zM273.4 46.6h0.9v0.9h-0.9zM231.4 82.1h0.9v0.9h-0.9zM310.4 16.8h0.9v0.9h-0.9zM232.1 78.4h0.9v0.9h-0.9zM246.6 95.7h0.9v0.9h-0.9zM253.8 85.0h0.9v0.9h-0.9zM280.0 42.9h0.9v0.9h-0.9zM213.6 101.9h0.9v0.9h-0.9zM273.9 43.5h0.9v0.9h-0.9zM226.5 102.5h0.9v0.9h-0.9zM201.8 58.1h0.9v0.9h-0.9zM252.3 52.5h0.9v0.9h-0.9zM222.7 82.8h0.9v0.9h-0.9zM266.3 74.1h0.9v0.9h-0.9zM289.0 32.6h0.9v0.9h-0.9zM281.0 42.9h0.9v0.9h-0.9zM266.4 90.1h0.9v0.9h-0.9zM242.5 39.7h0.9v0.9h-0.9zM260.1 82.5h0.9v0.9h-0.9zM305.7 28.1h0.9v0.9h-0.9zM217.8 104.4h0.9v0.9h-0.9zM257.8 89.5h0.9v0.9h-0.9zM239.6 82.1h0.9v0.9h-0.9zM241.9 97.3h0.9v0.9h-0.9zM262.2 57.5h0.9v0.9h-0.9zM234.3 44.1h0.9v0.9h-0.9zM224.0 83.9h0.9v0.9h-0.9zM201.9 101.0h0.9v0.9h-0.9zM294.7 18.1h0.9v0.9h-0.9zM225.4 80.7h0.9v0.9h-0.9zM253.7 78.1h0.9v0.9h-0.9zM294.7 17.9h0.9v0.9h-0.9zM243.3 101.7h0.9v0.9h-0.9zM296.8 38.4h0.9v0.9h-0.9zM301.1 40.7h0.9v0.9h-0.9zM234.2 82.5h0.9v0.9h-0.9zM258.2 93.6h0.9v0.9h-0.9zM223.4 103.9h0.9v0.9h-0.9zM276.6 15.7h0.9v0.9h-0.9zM291.4 40.8h0.9v0.9h-0.9zM259.1 53.6h0.9v0.9h-0.9zM229.0 102.0h0.9v0.9h-0.9zM259.8 57.0h0.9v0.9h-0.9zM237.0 68.9h0.9v0.9h-0.9zM298.9 27.5h0.9v0.9h-0.9zM275.5 69.8h0.9v0.9h-0.9zM251.0 84.5h0.9v0.9h-0.9zM256.3 74.2h0.9v0.9h-0.9zM247.6 85.4h0.9v0.9h-0.9zM270.8 56.2h0.9v0.9h-0.9zM223.1 88.3h0.9v0.9h-0.9zM280.2 45.5h0.9v0.9h-0.9zM231.3 69.9h0.9v0.9h-0.9zM226.4 92.8h0.9v0.9h-0.9zM214.1 107.7h0.9v0.9h-0.9zM252.1 104.7h0.9v0.9h-0.9zM264.8 45.7h0.9v0.9h-0.9zM219.1 91.0h0.9v0.9h-0.9zM231.6 84.5h0.9v0.9h-0.9zM208.1 95.3h0.9v0.9h-0.9zM282.2 33.2h0.9v0.9h-0.9zM222.7 71.8h0.9v0.9h-0.9zM287.5 46.5h0.9v0.9h-0.9zM240.7 86.1h0.9v0.9h-0.9zM205.5 86.6h0.9v0.9h-0.9zM252.6 95.9h0.9v0.9h-0.9zM236.0 64.0h0.9v0.9h-0.9zM283.7 24.3h0.9v0.9h-0.9zM251.9 80.9h0.9v0.9h-0.9zM255.7 109.3h0.9v0.9h-0.9zM264.7 71.3h0.9v0.9h-0.9zM246.8 52.7h0.9v0.9h-0.9zM206.1 95.3h0.9v0.9h-0.9zM287.0 38.9h0.9v0.9h-0.9zM258.3 80.6h0.9v0.9h-0.9zM286.2 33.9h0.9v0.9h-0.9zM299.9 9.5h0.9v0.9h-0.9zM270.2 76.4h0.9v0.9h-0.9zM293.6 55.1h0.9v0.9h-0.9zM229.7 99.3h0.9v0.9h-0.9zM278.7 35.8h0.9v0.9h-0.9zM281.9 20.5h0.9v0.9h-0.9zM267.1 58.4h0.9v0.9h-0.9zM269.8 58.9h0.9v0.9h-0.9zM239.2 77.8h0.9v0.9h-0.9zM307.0 42.0h0.9v0.9h-0.9zM313.4 43.0h0.9v0.9h-0.9zM288.9 61.7h0.9v0.9h-0.9zM230.4 92.3h0.9v0.9h-0.9zM311.0 46.5h0.9v0.9h-0.9zM217.3 99.7h0.9v0.9h-0.9zM250.5 95.2h0.9v0.9h-0.9zM284.7 21.4h0.9v0.9h-0.9zM245.1 16.4h0.9v0.9h-0.9zM292.9 37.2h0.9v0.9h-0.9zM222.6 80.9h0.9v0.9h-0.9zM220.7 103.3h0.9v0.9h-0.9zM217.1 101.5h0.9v0.9h-0.9zM279.4 105.8h0.9v0.9h-0.9zM211.0 74.2h0.9v0.9h-0.9zM252.0 52.0h0.9v0.9h-0.9zM293.1 23.6h0.9v0.9h-0.9zM218.0 82.0h0.9v0.9h-0.9zM299.6 34.1h0.9v0.9h-0.9zM266.7 44.1h0.9v0.9h-0.9zM225.6 109.0h0.9v0.9h-0.9zM239.2 85.2h0.9v0.9h-0.9zM249.7 68.5h0.9v0.9h-0.9zM257.4 110.0h0.9v0.9h-0.9zM223.4 75.8h0.9v0.9h-0.9z" fill="#888"/>
<path d="M245.0 70.0h0.9v0.9h-0.9zM259.4 98.6h0.9v0.9h-0.9zM305.4 23.7h0.9v0.9h-0.9zM301.4 3.6h0.9v0.9h-0.9zM212.5 74.2h0.9v0.9h-0.9zM275.2 40.8h0.9v0.9h-0.9zM222.8 87.8h0.9v0.9h-0.9zM272.4 64.5h0.9v0.9h-0.9zM235.0 49.9h0.9v0.9h-0.9zM312.3 37.6h0.9v0.9h-0.9zM251.4 86.8h0.9v0.9h-0.9zM298.6 16.9h0.9v0.9h-0.9zM221.2 59.0h0.9v0.9h-0.9zM295.3 50.5h0.9v0.9h-0.9zM265.9 63.4h0.9v0.9h-0.9zM288.0 45.5h0.9v0.9h-0.9zM280.8 38.5h0.9v0.9h-0.9zM235.6 85.4h0.9v0.9h-0.9zM290.3 23.0h0.9v0.9h-0.9zM217.7 71.9h0.9v0.9h-0.9zM262.7 54.4h0.9v0.9h-0.9zM263.2 50.3h0.9v0.9h-0.9zM266.6 24.4h0.9v0.9h-0.9zM327.7 24.1h0.9v0.9h-0.9zM268.5 68.3h0.9v0.9h-0.9zM209.0 84.0h0.9v0.9h-0.9zM243.1 74.5h0.9v0.9h-0.9zM279.6 21.7h0.9v0.9h-0.9zM293.3 31.2h0.9v0.9h-0.9zM275.3 46.4h0.9v0.9h-0.9zM263.2 72.8h0.9v0.9h-0.9zM292.0 5.7h0.9v0.9h-0.9zM266.6 50.5h0.9v0.9h-0.9zM282.4 56.6h0.9v0.9h-0.9zM283.6 57.3h0.9v0.9h-0.9zM238.3 101.6h0.9v0.9h-0.9zM297.1 41.2h0.9v0.9h-0.9zM222.0 109.5h0.9v0.9h-0.9zM234.9 79.9h0.9v0.9h-0.9zM272.3 56.2h0.9v0.9h-0.9zM301.6 20.6h0.9v0.9h-0.9zM249.1 92.7h0.9v0.9h-0.9zM239.0 94.9h0.9v0.9h-0.9zM260.1 63.1h0.9v0.9h-0.9zM264.4 77.8h0.9v0.9h-0.9zM269.1 20.9h0.9v0.9h-0.9zM278.1 51.3h0.9v0.9h-0.9zM309.4 35.8h0.9v0.9h-0.9zM305.0 7.8h0.9v0.9h-0.9zM287.3 10.3h0.9v0.9h-0.9zM222.2 70.2h0.9v0.9h-0.9zM269.6 59.2h0.9v0.9h-0.9zM250.1 60.0h0.9v0.9h-0.9zM220.3 106.1h0.9v0.9h-0.9zM259.2 33.9h0.9v0.9h-0.9zM243.3 68.3h0.9v0.9h-0.9zM224.5 88.7h0.9v0.9h-0.9zM263.2 85.0h0.9v0.9h-0.9zM290.4 67.2h0.9v0.9h-0.9zM288.7 57.9h0.9v0.9h-0.9zM217.9 85.2h0.9v0.9h-0.9zM226.6 87.3h0.9v0.9h-0.9zM253.3 76.2h0.9v0.9h-0.9zM298.7 18.3h0.9v0.9h-0.9zM280.0 55.7h0.9v0.9h-0.9zM276.7 24.7h0.9v0.9h-0.9zM258.7 66.9h0.9v0.9h-0.9zM241.1 53.7h0.9v0.9h-0.9zM233.9 71.6h0.9v0.9h-0.9zM292.1 17.8h0.9v0.9h-0.9zM299.0 39.9h0.9v0.9h-0.9zM250.8 65.7h0.9v0.9h-0.9zM249.5 49.8h0.9v0.9h-0.9zM205.0 74.6h0.9v0.9h-0.9zM268.6 16.1h0.9v0.9h-0.9zM225.6 108.2h0.9v0.9h-0.9zM224.5 85.3h0.9v0.9h-0.9zM252.2 55.3h0.9v0.9h-0.9zM270.8 67.6h0.9v0.9h-0.9zM299.6 32.7h0.9v0.9h-0.9zM258.4 42.1h0.9v0.9h-0.9zM248.6 83.0h0.9v0.9h-0.9zM273.0 57.4h0.9v0.9h-0.9zM319.5 22.5h0.9v0.9h-0.9zM268.3 31.2h0.9v0.9h-0.9zM228.9 101.0h0.9v0.9h-0.9zM289.2 55.3h0.9v0.9h-0.9zM241.6 77.7h0.9v0.9h-0.9zM252.8 87.1h0.9v0.9h-0.9zM290.2 38.6h0.9v0.9h-0.9zM262.0 56.9h0.9v0.9h-0.9zM224.4 104.4h0.9v0.9h-0.9zM266.7 47.4h0.9v0.9h-0.9zM236.8 79.2h0.9v0.9h-0.9zM287.5 71.8h0.9v0.9h-0.9zM283.3 33.0h0.9v0.9h-0.9zM266.3 42.0h0.9v0.9h-0.9zM294.9 28.8h0.9v0.9h-0.9zM295.7 31.8h0.9v0.9h-0.9zM261.6 104.4h0.9v0.9h-0.9zM238.4 90.5h0.9v0.9h-0.9zM221.8 94.9h0.9v0.9h-0.9zM233.3 77.3h0.9v0.9h-0.9zM236.0 85.3h0.9v0.9h-0.9zM286.6 55.8h0.9v0.9h-0.9zM233.1 57.7h0.9v0.9h-0.9zM246.9 66.9h0.9v0.9h-0.9zM287.7 43.3h0.9v0.9h-0.9zM280.8 52.8h0.9v0.9h-0.9zM237.8 103.6h0.9v0.9h-0.9zM293.9 13.5h0.9v0.9h-0.9zM250.0 84.1h0.9v0.9h-0.9zM263.7 98.8h0.9v0.9h-0.9zM297.3 47.0h0.9v0.9h-0.9zM232.5 63.6h0.9v0.9h-0.9zM315.1 36.8h0.9v0.9h-0.9zM274.6 75.4h0.9v0.9h-0.9zM291.9 46.5h0.9v0.9h-0.9zM259.6 66.7h0.9v0.9h-0.9zM257.1 47.7h0.9v0.9h-0.9zM268.0 44.2h0.9v0.9h-0.9zM267.1 57.7h0.9v0.9h-0.9zM279.8 36.6h0.9v0.9h-0.9zM212.5 60.5h0.9v0.9h-0.9zM250.9 71.7h0.9v0.9h-0.9zM295.2 12.6h0.9v0.9h-0.9zM298.0 13.1h0.9v0.9h-0.9zM228.1 105.7h0.9v0.9h-0.9zM217.5 79.1h0.9v0.9h-0.9zM255.1 93.7h0.9v0.9h-0.9zM312.7 20.2h0.9v0.9h-0.9zM251.7 62.8h0.9v0.9h-0.9zM219.2 115.0h0.9v0.9h-0.9zM304.4 11.0h0.9v0.9h-0.9zM252.6 110.4h0.9v0.9h-0.9zM217.3 99.3h0.9v0.9h-0.9zM271.0 30.7h0.9v0.9h-0.9zM309.7 27.3h0.9v0.9h-0.9zM304.4 30.7h0.9v0.9h-0.9zM245.8 88.6h0.9v0.9h-0.9zM237.9 50.2h0.9v0.9h-0.9zM250.2 66.4h0.9v0.9h-0.9zM220.2 102.6h0.9v0.9h-0.9zM288.7 19.5h0.9v0.9h-0.9zM244.3 111.5h0.9v0.9h-0.9zM319.4 20.0h0.9v0.9h-0.9zM274.0 71.9h0.9v0.9h-0.9zM310.8 32.6h0.9v0.9h-0.9zM271.5 74.6h0.9v0.9h-0.9zM267.1 101.0h0.9v0.9h-0.9zM298.8 21.0h0.9v0.9h-0.9zM231.9 93.8h0.9v0.9h-0.9zM209.7 83.0h0.9v0.9h-0.9zM288.8 35.3h0.9v0.9h-0.9zM273.9 61.2h0.9v0.9h-0.9zM267.1 44.4h0.9v0.9h-0.9zM276.4 74.2h0.9v0.9h-0.9zM288.9 68.5h0.9v0.9h-0.9zM243.5 86.9h0.9v0.9h-0.9zM228.8 72.9h0.9v0.9h-0.9zM259.2 86.6h0.9v0.9h-0.9zM251.7 81.4h0.9v0.9h-0.9zM270.2 37.5h0.9v0.9h-0.9zM293.3 27.8h0.9v0.9h-0.9zM282.2 33.6h0.9v0.9h-0.9zM269.2 109.8h0.9v0.9h-0.9zM249.9 67.3h0.9v0.9h-0.9zM221.5 87.5h0.9v0.9h-0.9zM314.3 33.0h0.9v0.9h-0.9zM285.5 46.4h0.9v0.9h-0.9zM248.1 89.7h0.9v0.9h-0.9zM268.3 69.2h0.9v0.9h-0.9zM282.5 57.2h0.9v0.9h-0.9zM305.9 33.6h0.9v0.9h-0.9zM222.1 93.9h0.9v0.9h-0.9zM261.8 64.1h0.9v0.9h-0.9zM279.4 55.9h0.9v0.9h-0.9zM253.1 57.1h0.9v0.9h-0.9zM282.0 47.3h0.9v0.9h-0.9zM300.9 53.9h0.9v0.9h-0.9zM282.3 47.9h0.9v0.9h-0.9zM286.3 30.1h0.9v0.9h-0.9zM242.4 76.8h0.9v0.9h-0.9zM230.3 85.4h0.9v0.9h-0.9zM313.1 29.2h0.9v0.9h-0.9zM239.5 90.2h0.9v0.9h-0.9zM266.3 62.2h0.9v0.9h-0.9zM291.6 37.3h0.9v0.9h-0.9zM252.8 62.6h0.9v0.9h-0.9zM288.7 26.4h0.9v0.9h-0.9zM251.2 71.2h0.9v0.9h-0.9zM286.9 18.5h0.9v0.9h-0.9zM287.0 36.3h0.9v0.9h-0.9zM261.6 58.2h0.9v0.9h-0.9zM281.3 42.6h0.9v0.9h-0.9zM285.7 39.3h0.9v0.9h-0.9zM302.2 6.9h0.9v0.9h-0.9zM238.7 69.3h0.9v0.9h-0.9zM306.6 38.2h0.9v0.9h-0.9zM275.8 10.5h0.9v0.9h-0.9zM287.4 16.0h0.9v0.9h-0.9zM247.2 93.6h0.9v0.9h-0.9zM208.1 98.7h0.9v0.9h-0.9zM260.8 68.8h0.9v0.9h-0.9zM241.4 81.4h0.9v0.9h-0.9zM250.4 62.7h0.9v0.9h-0.9zM228.3 102.7h0.9v0.9h-0.9zM295.3 45.8h0.9v0.9h-0.9zM320.8 35.7h0.9v0.9h-0.9zM280.0 4.0h0.9v0.9h-0.9zM267.0 10.0h0.9v0.9h-0.9zM237.6 71.2h0.9v0.9h-0.9zM207.0 91.6h0.9v0.9h-0.9zM313.2 38.0h0.9v0.9h-0.9zM293.0 29.6h0.9v0.9h-0.9zM305.7 53.5h0.9v0.9h-0.9zM243.8 73.8h0.9v0.9h-0.9zM274.0 3.9h0.9v0.9h-0.9zM302.6 38.3h0.9v0.9h-0.9zM237.9 76.2h0.9v0.9h-0.9zM239.7 111.8h0.9v0.9h-0.9zM254.8 62.2h0.9v0.9h-0.9zM305.7 41.4h0.9v0.9h-0.9zM253.0 54.5h0.9v0.9h-0.9zM286.5 55.8h0.9v0.9h-0.9zM244.7 78.1h0.9v0.9h-0.9zM284.3 51.0h0.9v0.9h-0.9zM291.0 27.7h0.9v0.9h-0.9zM244.3 89.2h0.9v0.9h-0.9zM215.3 86.4h0.9v0.9h-0.9zM240.3 83.0h0.9v0.9h-0.9zM235.5 93.5h0.9v0.9h-0.9zM274.6 33.5h0.9v0.9h-0.9zM218.5 91.6h0.9v0.9h-0.9zM292.6 45.6h0.9v0.9h-0.9zM278.9 30.7h0.9v0.9h-0.9zM302.0 31.2h0.9v0.9h-0.9zM243.0 81.0h0.9v0.9h-0.9zM295.1 49.3h0.9v0.9h-0.9zM223.4 91.5h0.9v0.9h-0.9zM228.4 113.8h0.9v0.9h-0.9zM274.1 61.0h0.9v0.9h-0.9zM268.6 49.3h0.9v0.9h-0.9zM274.5 43.8h0.9v0.9h-0.9zM228.8 93.3h0.9v0.9h-0.9zM253.4 76.9h0.9v0.9h-0.9zM243.6 79.3h0.9v0.9h-0.9zM236.5 92.2h0.9v0.9h-0.9zM237.5 52.7h0.9v0.9h-0.9zM243.3 63.7h0.9v0.9h-0.9zM299.6 21.2h0.9v0.9h-0.9zM302.2 17.3h0.9v0.9h-0.9zM252.9 52.6h0.9v0.9h-0.9zM237.6 96.8h0.9v0.9h-0.9zM252.5 75.0h0.9v0.9h-0.9zM206.0 82.1h0.9v0.9h-0.9zM214.4 84.1h0.9v0.9h-0.9zM245.1 109.5h0.9v0.9h-0.9zM275.8 38.9h0.9v0.9h-0.9zM225.7 87.6h0.9v0.9h-0.9zM297.0 23.7h0.9v0.9h-0.9zM299.2 55.3h0.9v0.9h-0.9zM315.7 14.2h0.9v0.9h-0.9zM237.9 99.6h0.9v0.9h-0.9zM254.9 48.7h0.9v0.9h-0.9zM262.4 92.9h0.9v0.9h-0.9zM233.3 106.4h0.9v0.9h-0.9zM274.2 32.6h0.9v0.9h-0.9zM300.3 14.2h0.9v0.9h-0.9zM273.5 93.8h0.9v0.9h-0.9zM299.6 20.6h0.9v0.9h-0.9zM275.5 65.5h0.9v0.9h-0.9zM286.1 49.1h0.9v0.9h-0.9zM271.1 75.5h0.9v0.9h-0.9zM286.2 66.1h0.9v0.9h-0.9zM245.5 52.7h0.9v0.9h-0.9zM295.3 11.2h0.9v0.9h-0.9zM323.2 30.6h0.9v0.9h-0.9zM223.3 91.9h0.9v0.9h-0.9zM252.0 90.1h0.9v0.9h-0.9zM239.8 71.7h0.9v0.9h-0.9zM245.5 82.3h0.9v0.9h-0.9zM225.4 60.5h0.9v0.9h-0.9zM304.7 35.4h0.9v0.9h-0.9zM262.4 67.1h0.9v0.9h-0.9zM301.7 34.1h0.9v0.9h-0.9zM225.2 80.9h0.9v0.9h-0.9zM293.0 20.1h0.9v0.9h-0.9zM212.8 112.4h0.9v0.9h-0.9zM272.3 53.5h0.9v0.9h-0.9zM248.3 98.9h0.9v0.9h-0.9zM272.5 37.1h0.9v0.9h-0.9zM256.7 98.8h0.9v0.9h-0.9zM271.3 45.8h0.9v0.9h-0.9zM275.8 74.3h0.9v0.9h-0.9zM321.3 35.3h0.9v0.9h-0.9zM271.9 53.0h0.9v0.9h-0.9zM280.5 24.6h0.9v0.9h-0.9zM297.8 19.3h0.9v0.9h-0.9zM264.6 74.7h0.9v0.9h-0.9zM297.9 17.9h0.9v0.9h-0.9zM247.3 62.3h0.9v0.9h-0.9zM218.2 113.2h0.9v0.9h-0.9zM291.7 5.9h0.9v0.9h-0.9zM282.3 53.2h0.9v0.9h-0.9zM290.4 58.0h0.9v0.9h-0.9zM271.0 35.8h0.9v0.9h-0.9zM264.9 62.1h0.9v0.9h-0.9zM290.8 12.2h0.9v0.9h-0.9zM251.3 72.8h0.9v0.9h-0.9zM232.9 114.8h0.9v0.9h-0.9zM268.8 80.2h0.9v0.9h-0.9zM296.4 5.1h0.9v0.9h-0.9zM265.4 67.1h0.9v0.9h-0.9zM278.9 70.5h0.9v0.9h-0.9zM282.5 42.7h0.9v0.9h-0.9zM296.1 11.3h0.9v0.9h-0.9zM242.5 85.1h0.9v0.9h-0.9zM280.6 37.0h0.9v0.9h-0.9zM278.5 4.4h0.9v0.9h-0.9zM254.8 25.8h0.9v0.9h-0.9zM287.2 18.5h0.9v0.9h-0.9zM252.5 52.3h0.9v0.9h-0.9zM255.9 72.1h0.9v0.9h-0.9zM268.3 36.4h0.9v0.9h-0.9zM295.7 39.4h0.9v0.9h-0.9zM294.3 67.9h0.9v0.9h-0.9zM252.6 82.4h0.9v0.9h-0.9zM239.1 64.1h0.9v0.9h-0.9zM318.3 18.5h0.9v0.9h-0.9zM260.8 31.2h0.9v0.9h-0.9zM292.8 9.7h0.9v0.9h-0.9zM237.3 70.1h0.9v0.9h-0.9zM212.3 80.1h0.9v0.9h-0.9zM247.8 84.8h0.9v0.9h-0.9zM281.2 17.3h0.9v0.9h-0.9zM258.7 53.2h0.9v0.9h-0.9zM279.2 44.6h0.9v0.9h-0.9zM238.0 79.1h0.9v0.9h-0.9zM267.5 42.1h0.9v0.9h-0.9zM285.8 53.8h0.9v0.9h-0.9zM266.3 69.8h0.9v0.9h-0.9zM320.8 43.2h0.9v0.9h-0.9zM257.4 98.6h0.9v0.9h-0.9zM292.7 29.3h0.9v0.9h-0.9zM269.2 76.7h0.9v0.9h-0.9zM291.0 40.9h0.9v0.9h-0.9zM259.9 63.5h0.9v0.9h-0.9zM291.1 19.6h0.9v0.9h-0.9zM265.2 27.5h0.9v0.9h-0.9zM291.2 22.6h0.9v0.9h-0.9zM250.3 33.4h0.9v0.9h-0.9zM324.7 45.2h0.9v0.9h-0.9zM263.9 87.8h0.9v0.9h-0.9zM279.2 50.2h0.9v0.9h-0.9zM261.9 80.0h0.9v0.9h-0.9zM274.6 68.3h0.9v0.9h-0.9zM300.6 41.6h0.9v0.9h-0.9zM286.9 19.4h0.9v0.9h-0.9zM278.1 53.5h0.9v0.9h-0.9zM283.4 30.2h0.9v0.9h-0.9zM279.4 21.4h0.9v0.9h-0.9zM290.2 11.9h0.9v0.9h-0.9zM227.0 114.0h0.9v0.9h-0.9zM254.9 41.1h0.9v0.9h-0.9zM266.2 90.1h0.9v0.9h-0.9zM309.7 43.6h0.9v0.9h-0.9zM241.0 73.2h0.9v0.9h-0.9zM289.7 53.2h0.9v0.9h-0.9zM300.2 17.0h0.9v0.9h-0.9zM235.9 45.5h0.9v0.9h-0.9zM252.9 91.5h0.9v0.9h-0.9zM316.3 24.1h0.9v0.9h-0.9zM307.4 27.0h0.9v0.9h-0.9zM252.5 83.5h0.9v0.9h-0.9zM281.2 45.0h0.9v0.9h-0.9zM298.0 10.4h0.9v0.9h-0.9zM299.4 23.6h0.9v0.9h-0.9zM227.2 101.5h0.9v0.9h-0.9zM296.9 12.9h0.9v0.9h-0.9zM238.2 79.4h0.9v0.9h-0.9zM224.8 102.2h0.9v0.9h-0.9zM265.4 56.3h0.9v0.9h-0.9zM272.5 35.8h0.9v0.9h-0.9zM294.8 46.3h0.9v0.9h-0.9zM298.3 31.7h0.9v0.9h-0.9zM256.5 98.1h0.9v0.9h-0.9zM289.2 35.7h0.9v0.9h-0.9zM267.8 72.0h0.9v0.9h-0.9zM286.1 35.3h0.9v0.9h-0.9zM276.1 31.2h0.9v0.9h-0.9zM287.1 31.6h0.9v0.9h-0.9zM303.8 30.7h0.9v0.9h-0.9zM254.6 78.4h0.9v0.9h-0.9zM278.8 60.5h0.9v0.9h-0.9zM275.1 13.4h0.9v0.9h-0.9zM246.1 78.7h0.9v0.9h-0.9zM290.2 35.7h0.9v0.9h-0.9zM294.7 55.8h0.9v0.9h-0.9zM218.3 69.1h0.9v0.9h-0.9zM228.3 55.9h0.9v0.9h-0.9zM249.1 85.1h0.9v0.9h-0.9zM234.9 86.8h0.9v0.9h-0.9zM220.3 90.2h0.9v0.9h-0.9zM220.9 91.9h0.9v0.9h-0.9zM294.1 23.0h0.9v0.9h-0.9zM248.0 72.3h0.9v0.9h-0.9zM252.1 80.2h0.9v0.9h-0.9zM271.9 41.8h0.9v0.9h-0.9zM236.2 58.8h0.9v0.9h-0.9zM263.4 43.5h0.9v0.9h-0.9zM274.6 41.2h0.9v0.9h-0.9zM276.4 63.2h0.9v0.9h-0.9zM242.4 79.4h0.9v0.9h-0.9zM285.9 77.0h0.9v0.9h-0.9zM241.3 89.1h0.9v0.9h-0.9zM252.8 50.8h0.9v0.9h-0.9zM237.1 87.6h0.9v0.9h-0.9zM249.9 62.8h0.9v0.9h-0.9zM296.3 39.1h0.9v0.9h-0.9zM255.1 86.9h0.9v0.9h-0.9zM292.2 53.6h0.9v0.9h-0.9zM248.6 76.9h0.9v0.9h-0.9zM287.9 40.2h0.9v0.9h-0.9z" fill="#bdbdbd"/>
<path d="M283.8 47.6h0.9v0.9h-0.9zM307.8 66.6h0.9v0.9h-0.9zM294.2 27.7h0.9v0.9h-0.9zM261.7 22.0h0.9v0.9h-0.9zM251.6 92.1h0.9v0.9h-0.9zM231.1 4.1h0.9v0.9h-0.9zM305.3 65.8h0.9v0.9h-0.9zM248.3 26.2h0.9v0.9h-0.9zM300.2 71.7h0.9v0.9h-0.9zM342.3 50.1h0.9v0.9h-0.9zM260.4 16.7h0.9v0.9h-0.9zM203.7 18.7h0.9v0.9h-0.9zM217.7 21.1h0.9v0.9h-0.9zM298.5 37.3h0.9v0.9h-0.9zM208.1 104.2h0.9v0.9h-0.9zM222.8 52.6h0.9v0.9h-0.9zM222.6 12.0h0.9v0.9h-0.9zM293.0 63.9h0.9v0.9h-0.9zM237.0 21.6h0.9v0.9h-0.9zM251.4 35.7h0.9v0.9h-0.9zM252.0 42.9h0.9v0.9h-0.9zM308.5 55.5h0.9v0.9h-0.9zM322.1 60.1h0.9v0.9h-0.9zM291.8 45.6h0.9v0.9h-0.9zM237.3 14.1h0.9v0.9h-0.9zM206.3 25.2h0.9v0.9h-0.9zM245.6 63.4h0.9v0.9h-0.9zM258.2 8.0h0.9v0.9h-0.9zM222.1 4.9h0.9v0.9h-0.9zM207.3 36.8h0.9v0.9h-0.9zM292.3 20.3h0.9v0.9h-0.9zM289.0 8.3h0.9v0.9h-0.9zM227.4 61.2h0.9v0.9h-0.9zM306.3 104.5h0.9v0.9h-0.9zM215.4 60.7h0.9v0.9h-0.9zM269.6 27.5h0.9v0.9h-0.9zM281.8 67.1h0.9v0.9h-0.9zM339.7 10.5h0.9v0.9h-0.9zM244.1 22.3h0.9v0.9h-0.9zM233.3 39.2h0.9v0.9h-0.9zM254.0 112.1h0.9v0.9h-0.9zM248.3 58.1h0.9v0.9h-0.9zM225.2 28.0h0.9v0.9h-0.9zM232.4 67.8h0.9v0.9h-0.9zM244.3 34.5h0.9v0.9h-0.9zM276.0 4.7h0.9v0.9h-0.9zM324.3 8.7h0.9v0.9h-0.9zM225.5 7.9h0.9v0.9h-0.9zM270.6 74.8h0.9v0.9h-0.9zM255.9 27.9h0.9v0.9h-0.9zM299.8 70.1h0.9v0.9h-0.9zM250.9 73.1h0.9v0.9h-0.9zM321.0 61.6h0.9v0.9h-0.9zM256.7 73.1h0.9v0.9h-0.9zM273.4 14.1h0.9v0.9h-0.9zM329.9 17.0h0.9v0.9h-0.9zM307.1 52.3h0.9v0.9h-0.9zM312.9 62.5h0.9v0.9h-0.9zM318.2 56.5h0.9v0.9h-0.9zM236.7 90.8h0.9v0.9h-0.9zM319.2 60.2h0.9v0.9h-0.9zM334.1 25.1h0.9v0.9h-0.9zM335.7 90.5h0.9v0.9h-0.9zM335.6 42.8h0.9v0.9h-0.9zM280.6 104.9h0.9v0.9h-0.9zM297.2 35.8h0.9v0.9h-0.9zM297.0 8.8h0.9v0.9h-0.9zM238.4 66.4h0.9v0.9h-0.9zM228.5 56.0h0.9v0.9h-0.9zM296.5 12.4h0.9v0.9h-0.9zM237.7 103.4h0.9v0.9h-0.9zM207.4 15.5h0.9v0.9h-0.9zM268.6 100.9h0.9v0.9h-0.9zM231.2 3.4h0.9v0.9h-0.9zM249.5 69.0h0.9v0.9h-0.9zM213.2 38.5h0.9v0.9h-0.9zM246.6 9.8h0.9v0.9h-0.9zM214.1 37.8h0.9v0.9h-0.9zM286.0 78.9h0.9v0.9h-0.9zM227.1 76.2h0.9v0.9h-0.9zM219.3 26.3h0.9v0.9h-0.9zM333.3 49.0h0.9v0.9h-0.9zM282.2 27.0h0.9v0.9h-0.9zM274.1 5.6h0.9v0.9h-0.9zM284.1 111.8h0.9v0.9h-0.9zM299.3 78.8h0.9v0.9h-0.9zM280.4 39.4h0.9v0.9h-0.9zM311.6 47.2h0.9v0.9h-0.9zM249.4 65.3h0.9v0.9h-0.9zM340.1 86.6h0.9v0.9h-0.9zM297.5 17.4h0.9v0.9h-0.9zM316.4 51.1h0.9v0.9h-0.9zM290.9 66.9h0.9v0.9h-0.9zM313.2 6.5h0.9v0.9h-0.9zM215.5 34.9h0.9v0.9h-0.9zM230.4 80.6h0.9v0.9h-0.9zM218.2 13.3h0.9v0.9h-0.9zM276.9 10.4h0.9v0.9h-0.9zM314.5 40.4h0.9v0.9h-0.9zM244.6 71.0h0.9v0.9h-0.9zM340.3 35.1h0.9v0.9h-0.9zM233.7 44.9h0.9v0.9h-0.9zM223.5 6.2h0.9v0.9h-0.9zM245.1 39.4h0.9v0.9h-0.9zM307.8 80.5h0.9v0.9h-0.9zM307.8 47.7h0.9v0.9h-0.9zM262.5 110.4h0.9v0.9h-0.9zM208.5 5.2h0.9v0.9h-0.9zM204.0 96.1h0.9v0.9h-0.9zM275.2 82.2h0.9v0.9h-0.9zM276.9 40.3h0.9v0.9h-0.9zM217.5 49.7h0.9v0.9h-0.9zM310.0 35.3h0.9v0.9h-0.9zM274.3 56.4h0.9v0.9h-0.9zM240.8 72.9h0.9v0.9h-0.9zM273.3 111.8h0.9v0.9h-0.9zM232.6 76.8h0.9v0.9h-0.9zM214.5 64.9h0.9v0.9h-0.9zM338.0 85.0h0.9v0.9h-0.9zM206.1 115.2h0.9v0.9h-0.9zM278.3 69.0h0.9v0.9h-0.9zM233.0 51.8h0.9v0.9h-0.9zM308.1 48.1h0.9v0.9h-0.9zM225.5 47.2h0.9v0.9h-0.9zM216.3 14.2h0.9v0.9h-0.9zM218.9 61.0h0.9v0.9h-0.9zM247.3 23.3h0.9v0.9h-0.9zM318.1 21.2h0.9v0.9h-0.9z" fill="#c4c4c4"/>
<path d="M289.0 37.8h0.9v0.9h-0.9zM239.6 35.1h0.9v0.9h-0.9zM332.9 83.1h0.9v0.9h-0.9zM299.9 33.1h0.9v0.9h-0.9zM300.8 46.1h0.9v0.9h-0.9zM286.2 15.3h0.9v0.9h-0.9zM321.4 57.6h0.9v0.9h-0.9zM298.4 54.1h0.9v0.9h-0.9zM288.3 23.9h0.9v0.9h-0.9zM284.3 51.9h0.9v0.9h-0.9zM279.9 11.1h0.9v0.9h-0.9zM231.5 26.6h0.9v0.9h-0.9zM268.3 33.8h0.9v0.9h-0.9zM302.1 9.0h0.9v0.9h-0.9zM323.5 3.6h0.9v0.9h-0.9zM208.8 41.0h0.9v0.9h-0.9zM266.4 3.6h0.9v0.9h-0.9zM311.4 9.7h0.9v0.9h-0.9zM342.0 39.5h0.9v0.9h-0.9zM271.0 34.5h0.9v0.9h-0.9zM276.1 75.5h0.9v0.9h-0.9zM295.4 29.2h0.9v0.9h-0.9zM301.8 22.9h0.9v0.9h-0.9zM283.2 58.8h0.9v0.9h-0.9zM268.7 34.5h0.9v0.9h-0.9zM296.2 46.2h0.9v0.9h-0.9zM301.1 29.8h0.9v0.9h-0.9zM287.6 13.2h0.9v0.9h-0.9zM306.5 46.6h0.9v0.9h-0.9zM305.0 16.6h0.9v0.9h-0.9zM333.1 33.1h0.9v0.9h-0.9zM314.5 45.4h0.9v0.9h-0.9zM294.7 47.7h0.9v0.9h-0.9zM222.9 37.5h0.9v0.9h-0.9zM277.0 28.1h0.9v0.9h-0.9zM278.3 46.6h0.9v0.9h-0.9zM274.8 62.1h0.9v0.9h-0.9zM273.1 45.1h0.9v0.9h-0.9zM235.7 16.9h0.9v0.9h-0.9zM258.2 66.8h0.9v0.9h-0.9zM269.6 4.9h0.9v0.9h-0.9zM260.5 32.2h0.9v0.9h-0.9zM314.9 27.8h0.9v0.9h-0.9zM265.7 26.8h0.9v0.9h-0.9zM260.4 34.2h0.9v0.9h-0.9zM294.4 18.9h0.9v0.9h-0.9zM293.1 16.2h0.9v0.9h-0.9zM279.2 21.0h0.9v0.9h-0.9zM251.5 39.7h0.9v0.9h-0.9zM244.1 33.4h0.9v0.9h-0.9zM248.5 6.5h0.9v0.9h-0.9zM303.4 53.6h0.9v0.9h-0.9zM319.3 8.2h0.9v0.9h-0.9zM326.1 71.3h0.9v0.9h-0.9zM337.9 26.7h0.9v0.9h-0.9zM256.3 51.9h0.9v0.9h-0.9zM308.1 9.9h0.9v0.9h-0.9zM271.2 27.9h0.9v0.9h-0.9zM318.6 30.9h0.9v0.9h-0.9zM311.8 63.2h0.9v0.9h-0.9zM261.4 4.9h0.9v0.9h-0.9zM317.8 48.9h0.9v0.9h-0.9zM238.7 46.7h0.9v0.9h-0.9zM255.9 47.9h0.9v0.9h-0.9zM280.6 38.7h0.9v0.9h-0.9zM281.5 21.6h0.9v0.9h-0.9zM287.6 38.2h0.9v0.9h-0.9zM312.8 6.5h0.9v0.9h-0.9zM255.0 15.9h0.9v0.9h-0.9zM318.6 55.6h0.9v0.9h-0.9zM291.3 61.1h0.9v0.9h-0.9zM258.5 57.8h0.9v0.9h-0.9zM284.2 19.1h0.9v0.9h-0.9zM334.7 8.1h0.9v0.9h-0.9zM339.8 27.4h0.9v0.9h-0.9zM251.9 17.2h0.9v0.9h-0.9zM319.8 34.8h0.9v0.9h-0.9zM318.5 40.5h0.9v0.9h-0.9zM312.5 11.8h0.9v0.9h-0.9zM316.7 71.0h0.9v0.9h-0.9zM316.4 56.2h0.9v0.9h-0.9zM267.7 38.3h0.9v0.9h-0.9zM300.6 79.1h0.9v0.9h-0.9zM316.9 23.7h0.9v0.9h-0.9zM315.8 46.5h0.9v0.9h-0.9zM249.2 21.3h0.9v0.9h-0.9zM274.3 14.4h0.9v0.9h-0.9zM250.1 51.8h0.9v0.9h-0.9zM237.4 31.6h0.9v0.9h-0.9zM297.2 26.2h0.9v0.9h-0.9zM331.7 34.5h0.9v0.9h-0.9zM293.2 40.2h0.9v0.9h-0.9zM271.8 34.7h0.9v0.9h-0.9zM261.8 35.9h0.9v0.9h-0.9zM318.2 52.8h0.9v0.9h-0.9zM261.0 60.4h0.9v0.9h-0.9zM295.4 42.2h0.9v0.9h-0.9zM276.5 42.6h0.9v0.9h-0.9zM265.0 41.4h0.9v0.9h-0.9zM290.3 41.9h0.9v0.9h-0.9zM338.1 17.7h0.9v0.9h-0.9zM304.7 43.4h0.9v0.9h-0.9zM297.7 38.5h0.9v0.9h-0.9zM283.3 5.6h0.9v0.9h-0.9zM276.9 23.0h0.9v0.9h-0.9zM334.3 66.8h0.9v0.9h-0.9zM302.0 79.0h0.9v0.9h-0.9zM257.3 62.9h0.9v0.9h-0.9zM283.2 81.4h0.9v0.9h-0.9zM255.8 14.1h0.9v0.9h-0.9zM267.8 47.4h0.9v0.9h-0.9zM260.0 79.6h0.9v0.9h-0.9zM291.0 49.3h0.9v0.9h-0.9zM307.6 22.0h0.9v0.9h-0.9zM294.3 50.6h0.9v0.9h-0.9zM326.4 73.4h0.9v0.9h-0.9zM316.7 95.2h0.9v0.9h-0.9zM336.2 81.6h0.9v0.9h-0.9zM332.2 3.0h0.9v0.9h-0.9zM314.7 46.8h0.9v0.9h-0.9zM295.4 61.0h0.9v0.9h-0.9zM341.4 11.1h0.9v0.9h-0.9zM301.7 35.5h0.9v0.9h-0.9zM328.8 8.7h0.9v0.9h-0.9zM287.6 50.8h0.9v0.9h-0.9zM286.0 34.8h0.9v0.9h-0.9zM273.9 53.8h0.9v0.9h-0.9zM263.8 60.3h0.9v0.9h-0.9zM260.5 4.0h0.9v0.9h-0.9zM245.8 47.0h0.9v0.9h-0.9zM328.6 64.4h0.9v0.9h-0.9zM325.0 49.3h0.9v0.9h-0.9zM306.1 45.8h0.9v0.9h-0.9zM311.8 4.5h0.9v0.9h-0.9zM287.2 15.4h0.9v0.9h-0.9zM296.2 78.2h0.9v0.9h-0.9zM293.8 13.8h0.9v0.9h-0.9zM295.0 21.0h0.9v0.9h-0.9zM255.4 46.5h0.9v0.9h-0.9zM300.8 13.6h0.9v0.9h-0.9zM321.4 45.2h0.9v0.9h-0.9zM261.4 49.5h0.9v0.9h-0.9zM256.4 15.6h0.9v0.9h-0.9zM291.1 35.4h0.9v0.9h-0.9zM278.3 52.6h0.9v0.9h-0.9zM304.0 25.9h0.9v0.9h-0.9zM324.4 25.1h0.9v0.9h-0.9zM284.4 25.2h0.9v0.9h-0.9zM296.5 82.0h0.9v0.9h-0.9zM321.1 42.0h0.9v0.9h-0.9zM271.5 7.6h0.9v0.9h-0.9zM300.0 32.4h0.9v0.9h-0.9zM258.7 35.6h0.9v0.9h-0.9zM260.3 67.3h0.9v0.9h-0.9zM264.2 52.9h0.9v0.9h-0.9zM278.0 14.3h0.9v0.9h-0.9zM253.8 19.7h0.9v0.9h-0.9zM264.1 44.4h0.9v0.9h-0.9zM278.4 64.1h0.9v0.9h-0.9zM235.0 3.7h0.9v0.9h-0.9zM329.6 38.9h0.9v0.9h-0.9zM287.0 38.6h0.9v0.9h-0.9zM257.8 45.1h0.9v0.9h-0.9zM257.2 26.0h0.9v0.9h-0.9zM299.5 44.0h0.9v0.9h-0.9zM248.1 28.3h0.9v0.9h-0.9zM228.1 32.2h0.9v0.9h-0.9zM336.0 64.3h0.9v0.9h-0.9zM298.9 7.7h0.9v0.9h-0.9zM252.7 43.0h0.9v0.9h-0.9zM255.4 60.9h0.9v0.9h-0.9zM236.4 56.3h0.9v0.9h-0.9zM329.4 22.6h0.9v0.9h-0.9zM279.6 83.7h0.9v0.9h-0.9zM249.7 25.4h0.9v0.9h-0.9zM315.3 26.9h0.9v0.9h-0.9zM285.7 49.0h0.9v0.9h-0.9zM326.6 13.5h0.9v0.9h-0.9zM292.3 22.2h0.9v0.9h-0.9zM274.2 42.0h0.9v0.9h-0.9zM283.8 53.5h0.9v0.9h-0.9zM324.3 39.0h0.9v0.9h-0.9zM295.0 5.6h0.9v0.9h-0.9zM282.1 20.1h0.9v0.9h-0.9zM258.3 34.0h0.9v0.9h-0.9zM254.6 43.8h0.9v0.9h-0.9zM256.7 5.4h0.9v0.9h-0.9zM275.9 41.4h0.9v0.9h-0.9zM282.5 46.4h0.9v0.9h-0.9zM295.2 12.5h0.9v0.9h-0.9zM257.0 45.1h0.9v0.9h-0.9zM276.9 16.6h0.9v0.9h-0.9zM296.3 49.0h0.9v0.9h-0.9zM311.7 43.9h0.9v0.9h-0.9zM283.3 10.9h0.9v0.9h-0.9zM274.5 28.5h0.9v0.9h-0.9zM335.2 45.1h0.9v0.9h-0.9zM334.5 84.2h0.9v0.9h-0.9zM330.9 27.7h0.9v0.9h-0.9zM305.1 23.4h0.9v0.9h-0.9zM291.6 75.7h0.9v0.9h-0.9zM295.5 29.0h0.9v0.9h-0.9zM271.4 69.8h0.9v0.9h-0.9zM246.6 7.8h0.9v0.9h-0.9zM253.5 63.6h0.9v0.9h-0.9zM312.9 45.7h0.9v0.9h-0.9zM335.2 66.0h0.9v0.9h-0.9zM271.4 55.5h0.9v0.9h-0.9zM278.4 33.1h0.9v0.9h-0.9zM263.3 39.2h0.9v0.9h-0.9zM252.1 12.2h0.9v0.9h-0.9zM269.5 32.4h0.9v0.9h-0.9zM228.8 33.7h0.9v0.9h-0.9zM250.0 32.9h0.9v0.9h-0.9zM324.8 39.0h0.9v0.9h-0.9zM292.4 39.5h0.9v0.9h-0.9zM335.9 70.8h0.9v0.9h-0.9zM288.5 36.4h0.9v0.9h-0.9zM252.0 4.3h0.9v0.9h-0.9zM232.7 33.8h0.9v0.9h-0.9zM260.4 12.3h0.9v0.9h-0.9zM258.4 9.8h0.9v0.9h-0.9zM343.2 64.7h0.9v0.9h-0.9zM333.6 60.6h0.9v0.9h-0.9zM295.3 104.3h0.9v0.9h-0.9zM277.9 55.4h0.9v0.9h-0.9zM328.1 3.9h0.9v0.9h-0.9zM296.2 18.9h0.9v0.9h-0.9zM278.0 47.1h0.9v0.9h-0.9zM306.6 91.8h0.9v0.9h-0.9zM332.0 59.9h0.9v0.9h-0.9zM264.7 34.9h0.9v0.9h-0.9zM318.3 25.0h0.9v0.9h-0.9zM276.2 38.5h0.9v0.9h-0.9zM331.9 38.7h0.9v0.9h-0.9zM307.6 51.6h0.9v0.9h-0.9zM301.5 23.8h0.9v0.9h-0.9zM299.5 67.1h0.9v0.9h-0.9zM282.6 31.5h0.9v0.9h-0.9zM269.7 41.4h0.9v0.9h-0.9zM290.0 48.6h0.9v0.9h-0.9zM285.9 12.4h0.9v0.9h-0.9zM324.2 47.5h0.9v0.9h-0.9zM236.5 102.6h0.9v0.9h-0.9zM292.1 15.1h0.9v0.9h-0.9zM303.1 59.5h0.9v0.9h-0.9zM281.1 67.4h0.9v0.9h-0.9zM311.0 68.0h0.9v0.9h-0.9zM275.8 5.8h0.9v0.9h-0.9zM310.4 38.8h0.9v0.9h-0.9zM244.5 27.1h0.9v0.9h-0.9zM261.3 37.7h0.9v0.9h-0.9zM263.7 34.9h0.9v0.9h-0.9zM253.7 38.0h0.9v0.9h-0.9zM319.5 26.9h0.9v0.9h-0.9zM287.7 3.6h0.9v0.9h-0.9zM232.5 42.0h0.9v0.9h-0.9zM298.6 45.9h0.9v0.9h-0.9zM292.3 75.5h0.9v0.9h-0.9zM264.4 9.9h0.9v0.9h-0.9zM294.1 42.0h0.9v0.9h-0.9zM291.8 45.5h0.9v0.9h-0.9zM302.1 36.7h0.9v0.9h-0.9zM296.7 29.5h0.9v0.9h-0.9zM313.9 29.3h0.9v0.9h-0.9zM286.6 39.8h0.9v0.9h-0.9zM283.2 38.4h0.9v0.9h-0.9zM327.5 62.1h0.9v0.9h-0.9zM228.0 20.8h0.9v0.9h-0.9zM254.1 26.6h0.9v0.9h-0.9zM244.3 59.1h0.9v0.9h-0.9zM331.1 16.3h0.9v0.9h-0.9zM277.6 27.2h0.9v0.9h-0.9zM311.4 26.7h0.9v0.9h-0.9zM221.7 29.2h0.9v0.9h-0.9zM305.4 67.5h0.9v0.9h-0.9zM289.7 50.9h0.9v0.9h-0.9zM335.3 42.1h0.9v0.9h-0.9zM330.7 48.2h0.9v0.9h-0.9zM236.6 38.0h0.9v0.9h-0.9zM267.9 48.1h0.9v0.9h-0.9zM287.5 61.8h0.9v0.9h-0.9zM268.6 19.8h0.9v0.9h-0.9zM334.7 18.4h0.9v0.9h-0.9zM321.9 67.9h0.9v0.9h-0.9zM261.7 38.5h0.9v0.9h-0.9zM272.3 42.5h0.9v0.9h-0.9zM302.1 45.0h0.9v0.9h-0.9zM286.5 33.8h0.9v0.9h-0.9zM307.9 24.4h0.9v0.9h-0.9zM252.0 9.7h0.9v0.9h-0.9zM262.4 24.8h0.9v0.9h-0.9zM332.1 54.3h0.9v0.9h-0.9zM289.1 24.6h0.9v0.9h-0.9zM321.4 38.3h0.9v0.9h-0.9zM331.6 15.8h0.9v0.9h-0.9zM304.3 25.5h0.9v0.9h-0.9zM256.1 20.9h0.9v0.9h-0.9zM259.8 23.3h0.9v0.9h-0.9zM319.9 49.5h0.9v0.9h-0.9zM332.8 51.8h0.9v0.9h-0.9zM272.5 29.5h0.9v0.9h-0.9zM273.6 53.6h0.9v0.9h-0.9zM312.4 40.8h0.9v0.9h-0.9zM232.6 70.3h0.9v0.9h-0.9zM310.9 70.6h0.9v0.9h-0.9zM320.5 46.4h0.9v0.9h-0.9zM296.5 53.9h0.9v0.9h-0.9zM331.5 13.8h0.9v0.9h-0.9zM325.0 4.5h0.9v0.9h-0.9zM300.6 14.6h0.9v0.9h-0.9zM312.4 28.3h0.9v0.9h-0.9zM314.0 13.7h0.9v0.9h-0.9zM310.7 74.4h0.9v0.9h-0.9zM256.4 46.5h0.9v0.9h-0.9zM272.7 21.8h0.9v0.9h-0.9zM237.5 19.4h0.9v0.9h-0.9zM308.8 89.9h0.9v0.9h-0.9zM225.5 32.5h0.9v0.9h-0.9zM299.2 29.2h0.9v0.9h-0.9zM313.9 62.4h0.9v0.9h-0.9zM287.1 91.6h0.9v0.9h-0.9zM263.3 29.6h0.9v0.9h-0.9zM244.7 28.3h0.9v0.9h-0.9zM256.9 27.9h0.9v0.9h-0.9zM273.8 24.6h0.9v0.9h-0.9zM293.0 21.1h0.9v0.9h-0.9zM282.9 60.4h0.9v0.9h-0.9zM269.7 13.4h0.9v0.9h-0.9zM242.1 47.2h0.9v0.9h-0.9zM262.1 63.3h0.9v0.9h-0.9zM266.7 20.1h0.9v0.9h-0.9zM232.9 15.6h0.9v0.9h-0.9zM292.1 63.2h0.9v0.9h-0.9zM284.1 45.2h0.9v0.9h-0.9zM298.0 79.4h0.9v0.9h-0.9zM298.6 39.5h0.9v0.9h-0.9zM323.1 58.3h0.9v0.9h-0.9zM324.5 46.9h0.9v0.9h-0.9zM294.6 78.9h0.9v0.9h-0.9zM267.2 68.9h0.9v0.9h-0.9zM244.4 16.1h0.9v0.9h-0.9zM331.1 68.9h0.9v0.9h-0.9zM307.8 68.9h0.9v0.9h-0.9zM269.8 66.5h0.9v0.9h-0.9zM270.9 6.1h0.9v0.9h-0.9zM294.6 31.0h0.9v0.9h-0.9zM274.2 8.4h0.9v0.9h-0.9zM262.6 53.5h0.9v0.9h-0.9zM334.3 40.3h0.9v0.9h-0.9zM291.6 58.5h0.9v0.9h-0.9zM323.1 44.9h0.9v0.9h-0.9zM335.4 20.1h0.9v0.9h-0.9zM312.9 53.6h0.9v0.9h-0.9zM249.7 19.4h0.9v0.9h-0.9zM300.8 31.1h0.9v0.9h-0.9zM271.8 24.9h0.9v0.9h-0.9zM278.2 15.9h0.9v0.9h-0.9zM237.5 21.7h0.9v0.9h-0.9zM335.6 27.8h0.9v0.9h-0.9zM305.3 66.4h0.9v0.9h-0.9zM302.3 14.5h0.9v0.9h-0.9zM294.9 32.3h0.9v0.9h-0.9zM257.2 69.8h0.9v0.9h-0.9zM300.0 54.2h0.9v0.9h-0.9zM302.7 38.9h0.9v0.9h-0.9zM322.8 39.6h0.9v0.9h-0.9zM316.6 57.6h0.9v0.9h-0.9zM247.7 15.5h0.9v0.9h-0.9zM298.1 61.2h0.9v0.9h-0.9zM317.1 63.1h0.9v0.9h-0.9zM289.6 56.5h0.9v0.9h-0.9zM287.0 45.1h0.9v0.9h-0.9zM281.1 46.3h0.9v0.9h-0.9zM243.7 54.0h0.9v0.9h-0.9zM309.5 41.9h0.9v0.9h-0.9zM284.8 18.6h0.9v0.9h-0.9zM274.4 7.0h0.9v0.9h-0.9zM314.3 20.8h0.9v0.9h-0.9zM278.7 37.9h0.9v0.9h-0.9z" fill="#bdbdbd"/>
<path d="M223.0 92.4h0.9v0.9h-0.9zM241.0 95.0h0.9v0.9h-0.9zM254.6 76.8h0.9v0.9h-0.9zM222.2 99.8h0.9v0.9h-0.9zM209.1 87.7h0.9v0.9h-0.9zM230.5 82.8h0.9v0.9h-0.9zM249.2 58.1h0.9v0.9h-0.9zM249.4 77.1h0.9v0.9h-0.9zM214.3 75.7h0.9v0.9h-0.9zM246.0 75.5h0.9v0.9h-0.9zM254.9 91.3h0.9v0.9h-0.9zM252.4 87.2h0.9v0.9h-0.9zM231.3 77.0h0.9v0.9h-0.9zM218.9 93.9h0.9v0.9h-0.9zM231.4 69.0h0.9v0.9h-0.9zM244.8 89.5h0.9v0.9h-0.9zM262.4 101.8h0.9v0.9h-0.9zM271.9 93.0h0.9v0.9h-0.9zM249.0 51.4h0.9v0.9h-0.9zM249.1 70.3h0.9v0.9h-0.9zM222.1 78.1h0.9v0.9h-0.9zM216.5 89.8h0.9v0.9h-0.9zM252.4 102.1h0.9v0.9h-0.9zM265.1 102.1h0.9v0.9h-0.9zM249.8 84.1h0.9v0.9h-0.9zM206.8 86.5h0.9v0.9h-0.9zM227.3 79.3h0.9v0.9h-0.9zM246.3 103.0h0.9v0.9h-0.9zM249.9 95.0h0.9v0.9h-0.9zM249.5 102.2h0.9v0.9h-0.9zM228.5 113.1h0.9v0.9h-0.9zM231.0 88.0h0.9v0.9h-0.9zM237.1 91.0h0.9v0.9h-0.9zM235.4 84.7h0.9v0.9h-0.9zM243.5 89.9h0.9v0.9h-0.9zM241.7 80.6h0.9v0.9h-0.9zM247.8 54.7h0.9v0.9h-0.9zM225.5 91.6h0.9v0.9h-0.9zM214.9 88.5h0.9v0.9h-0.9zM202.6 87.9h0.9v0.9h-0.9zM218.1 81.5h0.9v0.9h-0.9zM251.4 104.6h0.9v0.9h-0.9zM248.3 108.0h0.9v0.9h-0.9zM243.2 84.5h0.9v0.9h-0.9zM280.8 104.5h0.9v0.9h-0.9zM217.7 83.6h0.9v0.9h-0.9zM229.0 100.5h0.9v0.9h-0.9zM255.0 102.6h0.9v0.9h-0.9zM223.9 109.6h0.9v0.9h-0.9zM214.8 56.7h0.9v0.9h-0.9zM264.3 86.2h0.9v0.9h-0.9zM258.6 106.3h0.9v0.9h-0.9zM245.2 66.3h0.9v0.9h-0.9zM254.6 86.0h0.9v0.9h-0.9zM246.0 77.8h0.9v0.9h-0.9zM257.3 79.8h0.9v0.9h-0.9zM222.4 87.5h0.9v0.9h-0.9zM252.9 93.8h0.9v0.9h-0.9zM221.5 89.1h0.9v0.9h-0.9zM272.9 97.0h0.9v0.9h-0.9zM238.8 80.5h0.9v0.9h-0.9zM218.1 83.6h0.9v0.9h-0.9zM241.1 102.1h0.9v0.9h-0.9zM233.1 70.6h0.9v0.9h-0.9zM259.8 92.3h0.9v0.9h-0.9zM249.9 89.0h0.9v0.9h-0.9zM228.1 91.2h0.9v0.9h-0.9zM250.1 110.1h0.9v0.9h-0.9zM227.9 104.7h0.9v0.9h-0.9zM261.4 106.2h0.9v0.9h-0.9zM246.8 85.3h0.9v0.9h-0.9zM276.2 113.7h0.9v0.9h-0.9zM249.8 80.6h0.9v0.9h-0.9zM220.6 100.8h0.9v0.9h-0.9zM260.1 89.9h0.9v0.9h-0.9zM247.9 70.7h0.9v0.9h-0.9zM211.0 73.8h0.9v0.9h-0.9zM249.3 71.3h0.9v0.9h-0.9zM271.8 69.9h0.9v0.9h-0.9zM223.7 70.5h0.9v0.9h-0.9zM211.5 68.9h0.9v0.9h-0.9zM220.2 88.6h0.9v0.9h-0.9zM252.7 88.2h0.9v0.9h-0.9zM205.1 73.6h0.9v0.9h-0.9zM255.7 102.1h0.9v0.9h-0.9zM228.6 105.0h0.9v0.9h-0.9zM257.4 92.1h0.9v0.9h-0.9zM234.9 99.4h0.9v0.9h-0.9zM257.5 86.8h0.9v0.9h-0.9z" fill="#777"/>
<path d="M232.4 116.7h0.9v0.9h-0.9zM248.6 89.7h0.9v0.9h-0.9zM214.9 68.0h0.9v0.9h-0.9zM257.2 108.4h0.9v0.9h-0.9zM239.6 91.1h0.9v0.9h-0.9zM237.0 84.3h0.9v0.9h-0.9zM234.0 75.5h0.9v0.9h-0.9zM257.5 68.7h0.9v0.9h-0.9zM216.6 80.4h0.9v0.9h-0.9zM259.7 95.9h0.9v0.9h-0.9zM244.7 102.2h0.9v0.9h-0.9zM235.6 103.9h0.9v0.9h-0.9zM254.2 99.7h0.9v0.9h-0.9zM240.0 79.7h0.9v0.9h-0.9zM244.3 116.6h0.9v0.9h-0.9zM207.7 65.5h0.9v0.9h-0.9zM217.5 96.6h0.9v0.9h-0.9zM280.6 99.7h0.9v0.9h-0.9zM216.2 101.8h0.9v0.9h-0.9zM267.3 108.2h0.9v0.9h-0.9zM227.5 77.2h0.9v0.9h-0.9zM245.2 83.1h0.9v0.9h-0.9zM254.4 89.5h0.9v0.9h-0.9zM212.6 85.8h0.9v0.9h-0.9zM274.5 108.4h0.9v0.9h-0.9zM242.7 81.8h0.9v0.9h-0.9zM244.6 105.3h0.9v0.9h-0.9zM269.3 107.5h0.9v0.9h-0.9zM258.6 99.5h0.9v0.9h-0.9zM229.6 87.7h0.9v0.9h-0.9zM250.6 83.1h0.9v0.9h-0.9zM250.4 101.9h0.9v0.9h-0.9zM247.8 84.0h0.9v0.9h-0.9zM262.8 103.6h0.9v0.9h-0.9zM233.0 79.9h0.9v0.9h-0.9zM245.0 103.3h0.9v0.9h-0.9zM219.5 76.0h0.9v0.9h-0.9zM209.8 84.5h0.9v0.9h-0.9zM231.8 74.5h0.9v0.9h-0.9zM276.7 111.3h0.9v0.9h-0.9zM255.9 85.2h0.9v0.9h-0.9zM229.6 71.7h0.9v0.9h-0.9zM226.9 76.7h0.9v0.9h-0.9zM225.3 91.0h0.9v0.9h-0.9zM252.9 95.1h0.9v0.9h-0.9zM230.5 101.6h0.9v0.9h-0.9zM238.1 89.2h0.9v0.9h-0.9zM233.9 77.1h0.9v0.9h-0.9zM234.7 94.8h0.9v0.9h-0.9zM213.5 100.7h0.9v0.9h-0.9zM249.5 89.9h0.9v0.9h-0.9zM251.9 78.8h0.9v0.9h-0.9zM281.8 77.5h0.9v0.9h-0.9zM259.3 88.0h0.9v0.9h-0.9zM231.2 60.0h0.9v0.9h-0.9zM206.1 91.2h0.9v0.9h-0.9zM215.6 80.0h0.9v0.9h-0.9zM223.0 83.6h0.9v0.9h-0.9zM244.4 95.8h0.9v0.9h-0.9zM238.2 98.8h0.9v0.9h-0.9zM242.3 90.3h0.9v0.9h-0.9zM250.7 78.1h0.9v0.9h-0.9zM240.6 76.8h0.9v0.9h-0.9zM223.7 91.6h0.9v0.9h-0.9zM211.3 64.9h0.9v0.9h-0.9zM242.9 79.6h0.9v0.9h-0.9zM221.2 95.4h0.9v0.9h-0.9zM270.7 75.6h0.9v0.9h-0.9zM238.9 87.5h0.9v0.9h-0.9zM248.2 85.2h0.9v0.9h-0.9zM263.1 104.7h0.9v0.9h-0.9zM239.2 100.5h0.9v0.9h-0.9zM253.2 89.0h0.9v0.9h-0.9zM232.1 93.1h0.9v0.9h-0.9zM268.0 86.7h0.9v0.9h-0.9zM249.6 71.4h0.9v0.9h-0.9zM248.2 92.9h0.9v0.9h-0.9zM236.3 85.2h0.9v0.9h-0.9zM270.3 102.6h0.9v0.9h-0.9zM235.3 73.2h0.9v0.9h-0.9zM236.2 65.4h0.9v0.9h-0.9zM233.1 73.8h0.9v0.9h-0.9zM291.9 85.1h0.9v0.9h-0.9zM254.5 79.6h0.9v0.9h-0.9zM248.7 80.8h0.9v0.9h-0.9zM251.0 113.5h0.9v0.9h-0.9zM239.8 103.4h0.9v0.9h-0.9zM238.4 101.8h0.9v0.9h-0.9zM237.7 90.4h0.9v0.9h-0.9zM250.3 79.9h0.9v0.9h-0.9zM255.3 66.3h0.9v0.9h-0.9zM231.6 99.1h0.9v0.9h-0.9zM256.7 89.1h0.9v0.9h-0.9zM240.1 97.1h0.9v0.9h-0.9zM238.2 81.6h0.9v0.9h-0.9zM238.7 85.4h0.9v0.9h-0.9zM251.4 78.6h0.9v0.9h-0.9zM233.2 68.4h0.9v0.9h-0.9zM239.5 102.0h0.9v0.9h-0.9zM240.1 111.4h0.9v0.9h-0.9zM272.5 89.9h0.9v0.9h-0.9zM256.5 93.3h0.9v0.9h-0.9zM267.5 99.8h0.9v0.9h-0.9zM224.4 63.5h0.9v0.9h-0.9zM218.2 82.7h0.9v0.9h-0.9zM255.9 101.7h0.9v0.9h-0.9zM269.6 88.4h0.9v0.9h-0.9zM236.9 72.0h0.9v0.9h-0.9zM251.6 90.9h0.9v0.9h-0.9zM266.2 85.9h0.9v0.9h-0.9zM262.9 104.7h0.9v0.9h-0.9zM230.8 102.1h0.9v0.9h-0.9zM231.8 69.3h0.9v0.9h-0.9zM239.6 99.4h0.9v0.9h-0.9zM248.0 90.8h0.9v0.9h-0.9zM227.3 97.7h0.9v0.9h-0.9zM251.1 96.9h0.9v0.9h-0.9zM274.7 88.6h0.9v0.9h-0.9zM264.5 104.7h0.9v0.9h-0.9zM215.2 87.7h0.9v0.9h-0.9zM224.7 69.5h0.9v0.9h-0.9zM220.6 79.1h0.9v0.9h-0.9zM224.6 96.2h0.9v0.9h-0.9zM243.0 90.9h0.9v0.9h-0.9zM204.2 80.5h0.9v0.9h-0.9zM249.2 105.2h0.9v0.9h-0.9zM240.9 83.9h0.9v0.9h-0.9zM258.5 98.2h0.9v0.9h-0.9zM259.3 63.5h0.9v0.9h-0.9zM262.5 90.8h0.9v0.9h-0.9zM225.8 74.1h0.9v0.9h-0.9zM267.6 93.2h0.9v0.9h-0.9zM257.2 68.3h0.9v0.9h-0.9zM235.3 75.3h0.9v0.9h-0.9zM223.6 79.2h0.9v0.9h-0.9zM251.1 115.8h0.9v0.9h-0.9zM259.7 102.0h0.9v0.9h-0.9zM206.2 98.1h0.9v0.9h-0.9zM234.2 103.5h0.9v0.9h-0.9zM212.4 79.8h0.9v0.9h-0.9zM205.2 82.1h0.9v0.9h-0.9zM270.2 90.4h0.9v0.9h-0.9zM246.3 81.0h0.9v0.9h-0.9zM265.5 80.6h0.9v0.9h-0.9zM268.3 87.7h0.9v0.9h-0.9zM245.5 103.4h0.9v0.9h-0.9zM226.2 94.0h0.9v0.9h-0.9zM243.0 108.3h0.9v0.9h-0.9zM250.7 73.2h0.9v0.9h-0.9zM228.7 88.2h0.9v0.9h-0.9zM235.9 96.7h0.9v0.9h-0.9zM242.9 103.9h0.9v0.9h-0.9zM244.2 88.1h0.9v0.9h-0.9zM212.9 103.4h0.9v0.9h-0.9zM242.9 107.5h0.9v0.9h-0.9zM234.3 93.3h0.9v0.9h-0.9zM236.5 98.4h0.9v0.9h-0.9zM258.9 90.7h0.9v0.9h-0.9zM237.2 101.4h0.9v0.9h-0.9zM205.1 75.3h0.9v0.9h-0.9zM214.0 82.9h0.9v0.9h-0.9zM223.8 65.8h0.9v0.9h-0.9zM228.8 84.8h0.9v0.9h-0.9zM221.6 82.9h0.9v0.9h-0.9zM226.1 82.8h0.9v0.9h-0.9zM236.3 59.0h0.9v0.9h-0.9zM235.3 96.9h0.9v0.9h-0.9zM223.3 85.2h0.9v0.9h-0.9zM251.4 87.5h0.9v0.9h-0.9zM259.7 79.7h0.9v0.9h-0.9zM236.0 72.3h0.9v0.9h-0.9z" fill="#aaa"/>
<rect x="200.6" y="1.8" width="144.1" height="116.2" fill="none" stroke="#000" stroke-width="1.6"/>
<line x1="197" y1="4.6" x2="200.6" y2="4.6" stroke="#000" stroke-width="1.2"/>
<line x1="199" y1="11.7" x2="200.6" y2="11.7" stroke="#000" stroke-width="0.9"/>
<line x1="199" y1="18.8" x2="200.6" y2="18.8" stroke="#000" stroke-width="0.9"/>
<line x1="199" y1="25.8" x2="200.6" y2="25.8" stroke="#000" stroke-width="0.9"/>
<line x1="197" y1="32.9" x2="200.6" y2="32.9" stroke="#000" stroke-width="1.2"/>
<line x1="199" y1="40" x2="200.6" y2="40" stroke="#000" stroke-width="0.9"/>
<line x1="199" y1="47" x2="200.6" y2="47" stroke="#000" stroke-width="0.9"/>
<line x1="199" y1="54.1" x2="200.6" y2="54.1" stroke="#000" stroke-width="0.9"/>
<line x1="197" y1="61.2" x2="200.6" y2="61.2" stroke="#000" stroke-width="1.2"/>
<line x1="199" y1="68.3" x2="200.6" y2="68.3" stroke="#000" stroke-width="0.9"/>
<line x1="199" y1="75.4" x2="200.6" y2="75.4" stroke="#000" stroke-width="0.9"/>
<line x1="199" y1="82.4" x2="200.6" y2="82.4" stroke="#000" stroke-width="0.9"/>
<line x1="197" y1="89.5" x2="200.6" y2="89.5" stroke="#000" stroke-width="1.2"/>
<line x1="199" y1="96.6" x2="200.6" y2="96.6" stroke="#000" stroke-width="0.9"/>
<line x1="199" y1="103.7" x2="200.6" y2="103.7" stroke="#000" stroke-width="0.9"/>
<line x1="199" y1="110.7" x2="200.6" y2="110.7" stroke="#000" stroke-width="0.9"/>
<line x1="197" y1="117.8" x2="200.6" y2="117.8" stroke="#000" stroke-width="1.2"/>
<line x1="200.6" y1="118" x2="200.6" y2="122" stroke="#000" stroke-width="1.2"/>
<line x1="209.6" y1="118" x2="209.6" y2="120.2" stroke="#000" stroke-width="0.9"/>
<line x1="218.6" y1="118" x2="218.6" y2="120.2" stroke="#000" stroke-width="0.9"/>
<line x1="227.6" y1="118" x2="227.6" y2="120.2" stroke="#000" stroke-width="0.9"/>
<line x1="236.6" y1="118" x2="236.6" y2="122" stroke="#000" stroke-width="1.2"/>
<line x1="245.6" y1="118" x2="245.6" y2="120.2" stroke="#000" stroke-width="0.9"/>
<line x1="254.6" y1="118" x2="254.6" y2="120.2" stroke="#000" stroke-width="0.9"/>
<line x1="263.6" y1="118" x2="263.6" y2="120.2" stroke="#000" stroke-width="0.9"/>
<line x1="272.6" y1="118" x2="272.6" y2="122" stroke="#000" stroke-width="1.2"/>
<line x1="281.6" y1="118" x2="281.6" y2="120.2" stroke="#000" stroke-width="0.9"/>
<line x1="290.6" y1="118" x2="290.6" y2="120.2" stroke="#000" stroke-width="0.9"/>
<line x1="299.6" y1="118" x2="299.6" y2="120.2" stroke="#000" stroke-width="0.9"/>
<line x1="308.6" y1="118" x2="308.6" y2="122" stroke="#000" stroke-width="1.2"/>
<line x1="317.6" y1="118" x2="317.6" y2="120.2" stroke="#000" stroke-width="0.9"/>
<line x1="326.6" y1="118" x2="326.6" y2="120.2" stroke="#000" stroke-width="0.9"/>
<line x1="335.6" y1="118" x2="335.6" y2="120.2" stroke="#000" stroke-width="0.9"/>
<line x1="344.6" y1="118" x2="344.6" y2="122" stroke="#000" stroke-width="1.2"/>
<text transform="translate(328.2,14.9) scale(1.12,1)" font-family='"Liberation Sans", sans-serif' font-size="12.3" font-weight="bold">B</text>
<text x="313.8" y="41.5" font-family='"Liberation Serif", serif' font-size="16" fill="#000" stroke="#000" stroke-width="0.25">WT</text>
<text x="204.6" y="15.3" font-family='"Liberation Serif", serif' font-size="11.6" fill="#444" textLength="35.7" lengthAdjust="spacing" stroke="#444" stroke-width="0.25">sub-G1</text>
<line x1="213" y1="21" x2="208.8" y2="55.4" stroke="#333" stroke-width="1.9"/>
<polygon points="207.6,65.3 205.2,53.9 212.7,54.8" fill="#333"/>
<text x="210.9" y="72.5" font-family='"Liberation Serif", serif' font-size="10.6" fill="#111" stroke="#111" stroke-width="0.25">2n</text>
<text x="223" y="61.5" font-family='"Liberation Serif", serif' font-size="10.6" fill="#111" stroke="#111" stroke-width="0.25">4n</text>
<text x="236.9" y="49.8" font-family='"Liberation Serif", serif' font-size="10.6" fill="#111" stroke="#111" stroke-width="0.25">8n</text>
<text x="247.9" y="39.4" font-family='"Liberation Serif", serif' font-size="10.6" fill="#111" stroke="#111" stroke-width="0.25">16n</text>
<text x="257.1" y="49.8" font-family='"Liberation Serif", serif' font-size="10.6" fill="#111" stroke="#111" stroke-width="0.25">32n</text>
<text x="275" y="39.4" font-family='"Liberation Serif", serif' font-size="10.6" fill="#111" stroke="#111" stroke-width="0.25">64n</text>
<text transform="translate(193.9,84) rotate(-90)" font-family='"Liberation Serif", serif' font-size="12.3" fill="#1a1a1a" textLength="51.3" lengthAdjust="spacingAndGlyphs" stroke="#1a1a1a" stroke-width="0.25">side scatter</text>
<path d="M362.9 59.3h0.9v0.9h-0.9zM361.5 99.2h0.9v0.9h-0.9zM363.6 110.8h0.9v0.9h-0.9zM362.8 68.9h0.9v0.9h-0.9zM362.5 83.6h0.9v0.9h-0.9zM362.3 115.5h0.9v0.9h-0.9zM361.2 79.6h0.9v0.9h-0.9zM360.4 71.6h0.9v0.9h-0.9zM362.8 73.6h0.9v0.9h-0.9zM359.9 69.7h0.9v0.9h-0.9zM357.7 86.7h0.9v0.9h-0.9zM361.3 114.9h0.9v0.9h-0.9zM361.5 91.7h0.9v0.9h-0.9zM359.7 90.2h0.9v0.9h-0.9zM360.7 63.5h0.9v0.9h-0.9zM364.6 87.3h0.9v0.9h-0.9zM362.0 92.1h0.9v0.9h-0.9zM361.6 84.8h0.9v0.9h-0.9zM361.5 87.5h0.9v0.9h-0.9zM361.8 58.7h0.9v0.9h-0.9zM359.7 81.0h0.9v0.9h-0.9zM361.6 90.0h0.9v0.9h-0.9zM363.6 98.6h0.9v0.9h-0.9zM361.1 86.8h0.9v0.9h-0.9zM363.4 97.8h0.9v0.9h-0.9zM361.4 102.1h0.9v0.9h-0.9zM361.2 76.9h0.9v0.9h-0.9zM361.7 70.1h0.9v0.9h-0.9zM358.8 101.4h0.9v0.9h-0.9zM363.8 93.9h0.9v0.9h-0.9zM359.7 83.2h0.9v0.9h-0.9zM363.4 106.0h0.9v0.9h-0.9zM363.5 81.9h0.9v0.9h-0.9zM361.9 85.2h0.9v0.9h-0.9zM363.1 76.9h0.9v0.9h-0.9zM360.7 84.9h0.9v0.9h-0.9zM362.0 86.2h0.9v0.9h-0.9zM362.7 83.0h0.9v0.9h-0.9zM362.6 81.7h0.9v0.9h-0.9zM361.8 68.1h0.9v0.9h-0.9zM361.3 84.8h0.9v0.9h-0.9zM363.7 99.1h0.9v0.9h-0.9zM361.8 98.3h0.9v0.9h-0.9zM359.2 89.9h0.9v0.9h-0.9zM363.7 92.0h0.9v0.9h-0.9zM364.5 80.4h0.9v0.9h-0.9zM362.6 92.8h0.9v0.9h-0.9zM360.2 76.0h0.9v0.9h-0.9zM361.8 100.8h0.9v0.9h-0.9zM360.4 87.3h0.9v0.9h-0.9zM364.2 93.5h0.9v0.9h-0.9zM361.9 82.4h0.9v0.9h-0.9zM363.4 71.6h0.9v0.9h-0.9zM360.3 61.0h0.9v0.9h-0.9zM359.0 79.7h0.9v0.9h-0.9zM363.9 92.2h0.9v0.9h-0.9zM364.4 91.6h0.9v0.9h-0.9zM362.3 91.1h0.9v0.9h-0.9zM361.9 96.0h0.9v0.9h-0.9zM361.7 105.9h0.9v0.9h-0.9zM362.9 57.0h0.9v0.9h-0.9zM363.7 97.5h0.9v0.9h-0.9zM363.0 77.5h0.9v0.9h-0.9zM361.9 95.2h0.9v0.9h-0.9zM360.7 89.6h0.9v0.9h-0.9zM361.3 86.6h0.9v0.9h-0.9zM360.6 82.4h0.9v0.9h-0.9zM364.5 58.8h0.9v0.9h-0.9zM361.5 105.7h0.9v0.9h-0.9zM361.9 89.1h0.9v0.9h-0.9zM358.1 96.7h0.9v0.9h-0.9zM361.1 115.6h0.9v0.9h-0.9zM362.0 77.7h0.9v0.9h-0.9zM364.5 90.5h0.9v0.9h-0.9zM361.7 71.6h0.9v0.9h-0.9zM361.5 107.3h0.9v0.9h-0.9zM362.4 73.0h0.9v0.9h-0.9zM363.5 70.3h0.9v0.9h-0.9zM360.1 88.6h0.9v0.9h-0.9zM359.3 109.4h0.9v0.9h-0.9zM361.8 83.6h0.9v0.9h-0.9zM363.6 94.9h0.9v0.9h-0.9zM362.3 89.4h0.9v0.9h-0.9zM360.4 77.3h0.9v0.9h-0.9zM363.9 90.9h0.9v0.9h-0.9zM361.3 98.4h0.9v0.9h-0.9zM361.2 103.1h0.9v0.9h-0.9zM362.4 83.0h0.9v0.9h-0.9zM363.4 68.7h0.9v0.9h-0.9zM361.4 75.2h0.9v0.9h-0.9zM362.1 102.9h0.9v0.9h-0.9zM363.2 43.9h0.9v0.9h-0.9zM362.3 100.2h0.9v0.9h-0.9zM358.5 93.3h0.9v0.9h-0.9zM358.6 91.3h0.9v0.9h-0.9zM364.9 103.4h0.9v0.9h-0.9zM360.5 72.9h0.9v0.9h-0.9zM361.6 116.2h0.9v0.9h-0.9zM363.8 100.0h0.9v0.9h-0.9zM362.8 87.8h0.9v0.9h-0.9zM360.6 85.1h0.9v0.9h-0.9zM363.1 87.2h0.9v0.9h-0.9zM362.3 112.6h0.9v0.9h-0.9zM364.1 85.9h0.9v0.9h-0.9zM360.4 66.3h0.9v0.9h-0.9zM363.9 63.3h0.9v0.9h-0.9zM363.3 89.8h0.9v0.9h-0.9zM361.0 47.8h0.9v0.9h-0.9zM360.5 99.7h0.9v0.9h-0.9zM361.8 66.9h0.9v0.9h-0.9zM360.1 77.7h0.9v0.9h-0.9zM363.5 85.0h0.9v0.9h-0.9zM363.1 81.3h0.9v0.9h-0.9zM361.7 87.6h0.9v0.9h-0.9zM361.5 96.9h0.9v0.9h-0.9zM362.5 88.2h0.9v0.9h-0.9zM362.2 97.1h0.9v0.9h-0.9zM360.2 69.1h0.9v0.9h-0.9zM364.1 88.0h0.9v0.9h-0.9zM362.8 92.3h0.9v0.9h-0.9zM362.3 67.1h0.9v0.9h-0.9zM361.5 80.4h0.9v0.9h-0.9zM361.5 84.8h0.9v0.9h-0.9zM363.1 78.1h0.9v0.9h-0.9zM361.5 100.4h0.9v0.9h-0.9zM361.2 84.6h0.9v0.9h-0.9zM363.0 72.3h0.9v0.9h-0.9zM361.6 99.0h0.9v0.9h-0.9zM359.9 74.0h0.9v0.9h-0.9zM360.1 83.4h0.9v0.9h-0.9zM362.2 106.5h0.9v0.9h-0.9zM363.2 105.9h0.9v0.9h-0.9zM361.7 85.7h0.9v0.9h-0.9zM360.8 85.0h0.9v0.9h-0.9zM361.3 93.6h0.9v0.9h-0.9zM364.0 91.0h0.9v0.9h-0.9zM360.4 74.3h0.9v0.9h-0.9zM362.6 94.6h0.9v0.9h-0.9zM362.1 85.5h0.9v0.9h-0.9zM361.2 106.2h0.9v0.9h-0.9zM360.9 92.1h0.9v0.9h-0.9zM362.2 104.2h0.9v0.9h-0.9zM361.1 94.2h0.9v0.9h-0.9zM361.4 81.9h0.9v0.9h-0.9zM361.6 92.0h0.9v0.9h-0.9zM360.4 80.5h0.9v0.9h-0.9zM363.0 47.4h0.9v0.9h-0.9zM360.3 58.7h0.9v0.9h-0.9zM359.5 92.3h0.9v0.9h-0.9zM364.0 94.4h0.9v0.9h-0.9zM361.7 101.1h0.9v0.9h-0.9zM358.6 90.6h0.9v0.9h-0.9zM362.1 87.7h0.9v0.9h-0.9zM363.0 87.2h0.9v0.9h-0.9zM362.0 107.1h0.9v0.9h-0.9zM363.8 86.4h0.9v0.9h-0.9zM361.0 81.6h0.9v0.9h-0.9zM362.2 111.6h0.9v0.9h-0.9zM361.6 90.8h0.9v0.9h-0.9zM362.5 75.6h0.9v0.9h-0.9zM362.0 49.3h0.9v0.9h-0.9zM360.8 66.9h0.9v0.9h-0.9zM361.7 96.3h0.9v0.9h-0.9zM360.2 98.5h0.9v0.9h-0.9zM360.0 102.4h0.9v0.9h-0.9zM361.1 86.4h0.9v0.9h-0.9zM360.5 87.6h0.9v0.9h-0.9zM362.7 89.2h0.9v0.9h-0.9zM361.8 72.3h0.9v0.9h-0.9zM360.9 78.8h0.9v0.9h-0.9zM360.7 84.1h0.9v0.9h-0.9zM362.0 97.9h0.9v0.9h-0.9zM362.7 88.8h0.9v0.9h-0.9zM363.8 74.0h0.9v0.9h-0.9z" fill="#555"/>
<path d="M361.3 88.1h0.9v0.9h-0.9zM358.1 77.1h0.9v0.9h-0.9zM360.4 91.6h0.9v0.9h-0.9zM359.8 87.2h0.9v0.9h-0.9zM362.3 82.8h0.9v0.9h-0.9zM358.1 82.9h0.9v0.9h-0.9zM360.2 64.4h0.9v0.9h-0.9zM359.8 94.5h0.9v0.9h-0.9zM361.9 97.9h0.9v0.9h-0.9zM361.0 73.7h0.9v0.9h-0.9zM359.5 74.6h0.9v0.9h-0.9zM360.2 67.7h0.9v0.9h-0.9zM364.0 95.8h0.9v0.9h-0.9zM364.6 115.6h0.9v0.9h-0.9zM360.9 92.0h0.9v0.9h-0.9zM363.1 92.7h0.9v0.9h-0.9zM358.8 87.8h0.9v0.9h-0.9zM360.7 82.1h0.9v0.9h-0.9zM357.2 111.1h0.9v0.9h-0.9zM359.5 69.1h0.9v0.9h-0.9zM362.5 87.5h0.9v0.9h-0.9zM361.4 99.2h0.9v0.9h-0.9zM359.3 92.3h0.9v0.9h-0.9zM362.6 85.2h0.9v0.9h-0.9zM361.7 77.0h0.9v0.9h-0.9zM360.8 101.0h0.9v0.9h-0.9zM361.8 97.2h0.9v0.9h-0.9zM363.4 101.9h0.9v0.9h-0.9zM362.5 80.8h0.9v0.9h-0.9zM364.1 78.8h0.9v0.9h-0.9zM363.4 104.5h0.9v0.9h-0.9zM360.5 91.7h0.9v0.9h-0.9zM359.0 97.2h0.9v0.9h-0.9zM364.2 107.0h0.9v0.9h-0.9zM362.4 106.3h0.9v0.9h-0.9zM363.2 60.4h0.9v0.9h-0.9zM362.7 65.5h0.9v0.9h-0.9zM360.4 66.3h0.9v0.9h-0.9zM359.6 89.8h0.9v0.9h-0.9zM361.2 80.1h0.9v0.9h-0.9zM362.5 110.8h0.9v0.9h-0.9zM363.3 98.7h0.9v0.9h-0.9zM362.1 111.0h0.9v0.9h-0.9zM363.1 94.8h0.9v0.9h-0.9zM361.5 110.6h0.9v0.9h-0.9zM361.1 90.8h0.9v0.9h-0.9zM361.5 74.1h0.9v0.9h-0.9zM361.0 101.1h0.9v0.9h-0.9zM361.6 89.6h0.9v0.9h-0.9zM363.3 87.4h0.9v0.9h-0.9zM361.2 69.0h0.9v0.9h-0.9zM360.4 93.3h0.9v0.9h-0.9zM360.9 90.1h0.9v0.9h-0.9zM363.3 90.3h0.9v0.9h-0.9zM360.9 87.7h0.9v0.9h-0.9zM362.1 107.7h0.9v0.9h-0.9zM361.0 78.5h0.9v0.9h-0.9zM362.7 115.9h0.9v0.9h-0.9zM362.3 82.3h0.9v0.9h-0.9zM359.8 69.9h0.9v0.9h-0.9zM361.5 92.1h0.9v0.9h-0.9zM362.1 78.3h0.9v0.9h-0.9zM362.7 76.1h0.9v0.9h-0.9zM362.0 76.8h0.9v0.9h-0.9zM361.4 69.3h0.9v0.9h-0.9zM362.7 80.1h0.9v0.9h-0.9zM362.0 92.2h0.9v0.9h-0.9zM361.2 64.0h0.9v0.9h-0.9zM361.3 77.4h0.9v0.9h-0.9zM361.9 77.2h0.9v0.9h-0.9zM363.9 77.8h0.9v0.9h-0.9zM364.7 65.8h0.9v0.9h-0.9zM361.3 101.6h0.9v0.9h-0.9zM362.2 67.3h0.9v0.9h-0.9zM361.2 86.0h0.9v0.9h-0.9zM363.9 89.7h0.9v0.9h-0.9zM361.5 96.0h0.9v0.9h-0.9zM357.2 89.7h0.9v0.9h-0.9zM359.2 69.0h0.9v0.9h-0.9zM360.7 63.3h0.9v0.9h-0.9zM361.5 99.4h0.9v0.9h-0.9zM363.1 88.2h0.9v0.9h-0.9zM363.1 80.6h0.9v0.9h-0.9zM361.0 57.6h0.9v0.9h-0.9zM362.0 113.1h0.9v0.9h-0.9zM360.9 83.8h0.9v0.9h-0.9zM360.1 100.4h0.9v0.9h-0.9zM363.9 102.5h0.9v0.9h-0.9zM361.9 112.2h0.9v0.9h-0.9zM364.1 80.8h0.9v0.9h-0.9zM362.4 78.5h0.9v0.9h-0.9zM361.0 103.7h0.9v0.9h-0.9zM363.3 100.4h0.9v0.9h-0.9zM363.3 91.3h0.9v0.9h-0.9zM361.4 79.9h0.9v0.9h-0.9zM364.0 86.0h0.9v0.9h-0.9zM359.5 83.1h0.9v0.9h-0.9zM362.2 82.9h0.9v0.9h-0.9zM364.5 93.4h0.9v0.9h-0.9zM363.0 69.4h0.9v0.9h-0.9zM360.7 109.5h0.9v0.9h-0.9zM362.0 95.5h0.9v0.9h-0.9zM360.2 109.5h0.9v0.9h-0.9zM359.3 53.3h0.9v0.9h-0.9zM361.6 98.8h0.9v0.9h-0.9zM364.8 97.1h0.9v0.9h-0.9zM363.0 78.7h0.9v0.9h-0.9zM360.0 67.1h0.9v0.9h-0.9zM361.9 108.0h0.9v0.9h-0.9zM361.1 108.6h0.9v0.9h-0.9zM361.4 84.6h0.9v0.9h-0.9zM362.1 116.4h0.9v0.9h-0.9zM362.7 64.2h0.9v0.9h-0.9zM362.2 94.8h0.9v0.9h-0.9zM361.2 104.9h0.9v0.9h-0.9zM360.1 87.3h0.9v0.9h-0.9zM361.5 90.1h0.9v0.9h-0.9zM362.9 108.5h0.9v0.9h-0.9zM361.7 85.8h0.9v0.9h-0.9zM363.2 85.3h0.9v0.9h-0.9zM362.3 71.6h0.9v0.9h-0.9zM361.9 82.0h0.9v0.9h-0.9zM363.2 105.0h0.9v0.9h-0.9zM360.8 83.7h0.9v0.9h-0.9zM361.3 100.3h0.9v0.9h-0.9zM362.8 106.8h0.9v0.9h-0.9zM361.8 108.5h0.9v0.9h-0.9zM361.5 74.2h0.9v0.9h-0.9zM362.3 88.6h0.9v0.9h-0.9zM362.1 83.2h0.9v0.9h-0.9zM360.1 84.9h0.9v0.9h-0.9zM364.0 81.5h0.9v0.9h-0.9zM360.5 107.8h0.9v0.9h-0.9zM360.4 93.6h0.9v0.9h-0.9zM362.1 89.2h0.9v0.9h-0.9zM360.7 76.3h0.9v0.9h-0.9zM359.6 94.4h0.9v0.9h-0.9zM363.1 94.1h0.9v0.9h-0.9zM360.1 90.5h0.9v0.9h-0.9zM362.7 109.7h0.9v0.9h-0.9zM361.3 99.5h0.9v0.9h-0.9zM361.9 76.8h0.9v0.9h-0.9zM363.9 76.7h0.9v0.9h-0.9zM359.4 92.1h0.9v0.9h-0.9zM360.8 88.7h0.9v0.9h-0.9zM361.9 80.6h0.9v0.9h-0.9zM364.0 83.3h0.9v0.9h-0.9zM361.2 75.4h0.9v0.9h-0.9zM361.8 81.5h0.9v0.9h-0.9zM360.9 87.4h0.9v0.9h-0.9zM362.5 82.7h0.9v0.9h-0.9zM360.3 106.3h0.9v0.9h-0.9zM363.2 52.5h0.9v0.9h-0.9zM363.4 74.6h0.9v0.9h-0.9zM361.8 83.2h0.9v0.9h-0.9zM362.4 76.4h0.9v0.9h-0.9zM361.1 86.7h0.9v0.9h-0.9zM359.5 109.2h0.9v0.9h-0.9zM362.9 79.5h0.9v0.9h-0.9zM360.4 100.2h0.9v0.9h-0.9zM362.7 102.4h0.9v0.9h-0.9zM365.3 97.3h0.9v0.9h-0.9zM359.4 83.8h0.9v0.9h-0.9zM361.7 85.8h0.9v0.9h-0.9zM362.6 78.0h0.9v0.9h-0.9zM362.4 115.6h0.9v0.9h-0.9zM363.5 76.0h0.9v0.9h-0.9zM363.4 107.7h0.9v0.9h-0.9zM359.6 93.2h0.9v0.9h-0.9zM362.8 96.9h0.9v0.9h-0.9zM360.7 89.5h0.9v0.9h-0.9zM364.6 96.6h0.9v0.9h-0.9zM361.9 84.6h0.9v0.9h-0.9zM362.2 78.0h0.9v0.9h-0.9zM362.8 79.0h0.9v0.9h-0.9zM362.4 82.5h0.9v0.9h-0.9zM360.9 91.7h0.9v0.9h-0.9zM362.7 67.1h0.9v0.9h-0.9zM359.8 103.5h0.9v0.9h-0.9zM362.2 95.5h0.9v0.9h-0.9zM362.1 95.8h0.9v0.9h-0.9zM361.6 79.1h0.9v0.9h-0.9zM360.6 106.7h0.9v0.9h-0.9zM362.0 96.9h0.9v0.9h-0.9zM360.7 84.3h0.9v0.9h-0.9zM360.7 96.0h0.9v0.9h-0.9zM364.2 95.5h0.9v0.9h-0.9zM363.1 57.9h0.9v0.9h-0.9zM360.3 87.6h0.9v0.9h-0.9zM361.4 76.5h0.9v0.9h-0.9zM362.9 99.0h0.9v0.9h-0.9zM361.8 57.8h0.9v0.9h-0.9zM364.7 85.3h0.9v0.9h-0.9zM361.3 82.5h0.9v0.9h-0.9zM362.0 116.1h0.9v0.9h-0.9zM361.9 93.0h0.9v0.9h-0.9zM360.9 68.1h0.9v0.9h-0.9zM360.2 69.5h0.9v0.9h-0.9zM364.5 77.2h0.9v0.9h-0.9zM362.0 71.7h0.9v0.9h-0.9zM360.9 111.6h0.9v0.9h-0.9zM363.0 75.8h0.9v0.9h-0.9zM363.3 84.8h0.9v0.9h-0.9zM361.1 88.9h0.9v0.9h-0.9zM361.2 91.2h0.9v0.9h-0.9zM362.7 69.0h0.9v0.9h-0.9zM359.3 89.5h0.9v0.9h-0.9zM361.3 109.5h0.9v0.9h-0.9zM364.0 87.3h0.9v0.9h-0.9zM361.6 96.6h0.9v0.9h-0.9zM361.8 85.5h0.9v0.9h-0.9zM361.3 73.8h0.9v0.9h-0.9zM362.6 88.2h0.9v0.9h-0.9zM362.6 89.7h0.9v0.9h-0.9zM361.8 92.7h0.9v0.9h-0.9zM364.3 99.8h0.9v0.9h-0.9zM363.0 91.5h0.9v0.9h-0.9zM360.8 76.7h0.9v0.9h-0.9zM362.6 106.5h0.9v0.9h-0.9zM362.6 103.7h0.9v0.9h-0.9zM363.9 107.6h0.9v0.9h-0.9zM364.7 77.9h0.9v0.9h-0.9zM364.8 91.6h0.9v0.9h-0.9zM361.2 106.8h0.9v0.9h-0.9zM360.8 92.5h0.9v0.9h-0.9zM363.1 54.7h0.9v0.9h-0.9zM362.0 51.5h0.9v0.9h-0.9zM362.1 83.0h0.9v0.9h-0.9zM361.4 74.7h0.9v0.9h-0.9zM362.4 90.0h0.9v0.9h-0.9zM360.1 83.2h0.9v0.9h-0.9zM359.5 116.4h0.9v0.9h-0.9zM363.6 62.7h0.9v0.9h-0.9zM363.6 63.3h0.9v0.9h-0.9zM361.6 92.0h0.9v0.9h-0.9zM362.8 86.3h0.9v0.9h-0.9zM364.3 103.6h0.9v0.9h-0.9zM361.2 71.9h0.9v0.9h-0.9zM359.7 43.5h0.9v0.9h-0.9zM363.5 83.3h0.9v0.9h-0.9zM360.1 86.0h0.9v0.9h-0.9zM359.8 76.0h0.9v0.9h-0.9zM358.5 91.5h0.9v0.9h-0.9zM360.8 95.1h0.9v0.9h-0.9zM361.5 93.1h0.9v0.9h-0.9zM364.8 99.1h0.9v0.9h-0.9z" fill="#999"/>
<path d="M399.1 75.9h0.9v0.9h-0.9zM381.7 97.8h0.9v0.9h-0.9zM417.9 24.0h0.9v0.9h-0.9zM410.3 33.0h0.9v0.9h-0.9zM375.4 82.1h0.9v0.9h-0.9zM373.7 81.6h0.9v0.9h-0.9zM408.0 32.7h0.9v0.9h-0.9zM446.3 12.4h0.9v0.9h-0.9zM407.6 47.8h0.9v0.9h-0.9zM408.2 49.3h0.9v0.9h-0.9zM391.1 50.0h0.9v0.9h-0.9zM393.2 60.7h0.9v0.9h-0.9zM403.6 74.6h0.9v0.9h-0.9zM376.8 67.5h0.9v0.9h-0.9zM391.3 34.1h0.9v0.9h-0.9zM409.8 32.4h0.9v0.9h-0.9zM436.1 5.0h0.9v0.9h-0.9zM440.3 30.4h0.9v0.9h-0.9zM399.2 65.0h0.9v0.9h-0.9zM372.0 59.8h0.9v0.9h-0.9zM461.4 54.4h0.9v0.9h-0.9zM392.1 37.8h0.9v0.9h-0.9zM422.2 20.1h0.9v0.9h-0.9zM404.1 82.6h0.9v0.9h-0.9zM448.2 65.9h0.9v0.9h-0.9zM404.2 31.1h0.9v0.9h-0.9zM414.9 18.4h0.9v0.9h-0.9zM368.6 113.8h0.9v0.9h-0.9zM397.2 70.8h0.9v0.9h-0.9zM391.7 46.8h0.9v0.9h-0.9zM389.3 61.8h0.9v0.9h-0.9zM389.8 54.5h0.9v0.9h-0.9zM400.8 27.0h0.9v0.9h-0.9zM396.3 41.0h0.9v0.9h-0.9zM390.4 109.4h0.9v0.9h-0.9zM383.9 53.1h0.9v0.9h-0.9zM386.8 43.0h0.9v0.9h-0.9zM379.4 61.8h0.9v0.9h-0.9zM395.2 43.1h0.9v0.9h-0.9zM377.1 69.9h0.9v0.9h-0.9zM389.3 64.3h0.9v0.9h-0.9zM420.5 11.6h0.9v0.9h-0.9zM376.3 84.7h0.9v0.9h-0.9zM421.4 25.5h0.9v0.9h-0.9zM400.4 48.9h0.9v0.9h-0.9zM456.5 52.9h0.9v0.9h-0.9zM407.8 33.1h0.9v0.9h-0.9zM387.7 8.3h0.9v0.9h-0.9zM410.1 10.2h0.9v0.9h-0.9zM392.3 60.0h0.9v0.9h-0.9zM406.1 44.7h0.9v0.9h-0.9zM389.4 83.6h0.9v0.9h-0.9zM405.7 36.4h0.9v0.9h-0.9zM392.5 30.8h0.9v0.9h-0.9zM389.4 52.7h0.9v0.9h-0.9zM388.9 74.2h0.9v0.9h-0.9zM395.0 54.1h0.9v0.9h-0.9zM437.2 57.4h0.9v0.9h-0.9zM416.7 55.1h0.9v0.9h-0.9zM371.1 88.7h0.9v0.9h-0.9zM402.8 7.3h0.9v0.9h-0.9zM437.1 12.3h0.9v0.9h-0.9zM385.4 62.2h0.9v0.9h-0.9zM408.6 37.4h0.9v0.9h-0.9zM389.1 85.8h0.9v0.9h-0.9zM392.2 30.5h0.9v0.9h-0.9zM394.0 50.3h0.9v0.9h-0.9zM397.2 42.5h0.9v0.9h-0.9zM426.5 52.7h0.9v0.9h-0.9zM388.8 51.6h0.9v0.9h-0.9zM381.8 74.1h0.9v0.9h-0.9zM420.6 24.0h0.9v0.9h-0.9zM407.4 28.9h0.9v0.9h-0.9zM428.0 70.1h0.9v0.9h-0.9zM375.2 74.9h0.9v0.9h-0.9zM416.6 45.0h0.9v0.9h-0.9zM412.7 36.2h0.9v0.9h-0.9zM383.5 87.2h0.9v0.9h-0.9zM399.9 30.5h0.9v0.9h-0.9zM378.5 86.9h0.9v0.9h-0.9zM420.6 33.7h0.9v0.9h-0.9zM386.6 66.8h0.9v0.9h-0.9zM390.5 85.7h0.9v0.9h-0.9zM380.7 97.0h0.9v0.9h-0.9zM409.4 32.5h0.9v0.9h-0.9zM419.7 18.5h0.9v0.9h-0.9zM400.3 69.7h0.9v0.9h-0.9zM428.6 35.1h0.9v0.9h-0.9zM394.9 27.7h0.9v0.9h-0.9zM385.5 100.7h0.9v0.9h-0.9zM411.9 6.8h0.9v0.9h-0.9zM410.1 27.5h0.9v0.9h-0.9zM409.2 34.3h0.9v0.9h-0.9zM412.4 25.5h0.9v0.9h-0.9zM441.4 19.9h0.9v0.9h-0.9zM391.4 76.8h0.9v0.9h-0.9zM401.7 21.9h0.9v0.9h-0.9zM404.8 28.0h0.9v0.9h-0.9zM374.9 113.3h0.9v0.9h-0.9zM377.5 74.4h0.9v0.9h-0.9zM399.1 51.3h0.9v0.9h-0.9zM386.5 53.7h0.9v0.9h-0.9zM458.7 97.4h0.9v0.9h-0.9zM417.1 26.1h0.9v0.9h-0.9zM395.3 62.3h0.9v0.9h-0.9zM401.9 33.5h0.9v0.9h-0.9zM403.0 38.5h0.9v0.9h-0.9zM413.3 23.1h0.9v0.9h-0.9zM442.6 48.9h0.9v0.9h-0.9zM403.7 41.5h0.9v0.9h-0.9zM375.5 105.1h0.9v0.9h-0.9zM396.3 96.7h0.9v0.9h-0.9zM371.8 82.6h0.9v0.9h-0.9zM396.3 58.7h0.9v0.9h-0.9zM397.9 56.7h0.9v0.9h-0.9zM395.5 54.8h0.9v0.9h-0.9zM406.4 47.7h0.9v0.9h-0.9zM403.0 72.9h0.9v0.9h-0.9zM416.3 35.6h0.9v0.9h-0.9zM398.6 56.4h0.9v0.9h-0.9zM392.1 66.9h0.9v0.9h-0.9zM387.8 84.9h0.9v0.9h-0.9zM404.1 25.1h0.9v0.9h-0.9zM413.3 20.3h0.9v0.9h-0.9zM392.6 73.4h0.9v0.9h-0.9zM437.7 86.6h0.9v0.9h-0.9zM396.5 42.0h0.9v0.9h-0.9zM393.3 51.2h0.9v0.9h-0.9zM420.1 33.9h0.9v0.9h-0.9zM391.8 29.4h0.9v0.9h-0.9zM391.9 82.2h0.9v0.9h-0.9zM412.3 37.0h0.9v0.9h-0.9zM410.2 28.4h0.9v0.9h-0.9zM392.0 61.9h0.9v0.9h-0.9zM373.4 46.3h0.9v0.9h-0.9zM407.4 54.9h0.9v0.9h-0.9zM418.3 20.0h0.9v0.9h-0.9zM385.9 49.2h0.9v0.9h-0.9zM379.8 109.3h0.9v0.9h-0.9zM425.2 35.0h0.9v0.9h-0.9zM410.7 24.5h0.9v0.9h-0.9zM386.6 91.7h0.9v0.9h-0.9zM387.8 89.1h0.9v0.9h-0.9zM434.5 19.5h0.9v0.9h-0.9zM377.0 96.6h0.9v0.9h-0.9zM392.8 51.2h0.9v0.9h-0.9zM387.9 60.4h0.9v0.9h-0.9zM382.5 66.8h0.9v0.9h-0.9zM382.6 77.5h0.9v0.9h-0.9zM391.9 44.3h0.9v0.9h-0.9zM393.8 56.1h0.9v0.9h-0.9zM438.4 66.6h0.9v0.9h-0.9zM406.5 51.0h0.9v0.9h-0.9zM388.1 36.4h0.9v0.9h-0.9zM390.9 60.4h0.9v0.9h-0.9zM411.7 42.2h0.9v0.9h-0.9zM395.3 35.5h0.9v0.9h-0.9zM410.8 37.1h0.9v0.9h-0.9zM372.3 110.3h0.9v0.9h-0.9zM385.6 100.5h0.9v0.9h-0.9zM398.8 35.5h0.9v0.9h-0.9zM374.8 78.8h0.9v0.9h-0.9zM391.5 58.1h0.9v0.9h-0.9zM380.6 98.5h0.9v0.9h-0.9zM391.9 74.9h0.9v0.9h-0.9zM381.7 86.4h0.9v0.9h-0.9zM408.2 31.9h0.9v0.9h-0.9zM375.1 69.4h0.9v0.9h-0.9zM415.5 37.0h0.9v0.9h-0.9zM416.0 21.4h0.9v0.9h-0.9zM405.6 44.2h0.9v0.9h-0.9zM425.8 65.1h0.9v0.9h-0.9zM419.1 26.3h0.9v0.9h-0.9zM384.2 102.4h0.9v0.9h-0.9zM419.2 27.3h0.9v0.9h-0.9zM375.8 88.0h0.9v0.9h-0.9zM407.1 40.8h0.9v0.9h-0.9zM385.1 101.5h0.9v0.9h-0.9zM403.1 34.9h0.9v0.9h-0.9zM397.9 62.6h0.9v0.9h-0.9zM408.6 23.0h0.9v0.9h-0.9zM409.6 10.3h0.9v0.9h-0.9zM456.3 47.1h0.9v0.9h-0.9zM412.2 59.0h0.9v0.9h-0.9zM427.7 16.2h0.9v0.9h-0.9zM374.2 74.8h0.9v0.9h-0.9zM423.4 26.0h0.9v0.9h-0.9zM384.2 80.9h0.9v0.9h-0.9zM401.4 60.6h0.9v0.9h-0.9zM419.8 37.7h0.9v0.9h-0.9zM366.6 55.9h0.9v0.9h-0.9zM422.6 20.3h0.9v0.9h-0.9zM388.8 46.3h0.9v0.9h-0.9zM396.7 35.1h0.9v0.9h-0.9zM387.0 33.2h0.9v0.9h-0.9zM429.3 29.5h0.9v0.9h-0.9zM376.6 86.9h0.9v0.9h-0.9zM379.5 55.6h0.9v0.9h-0.9zM387.9 79.0h0.9v0.9h-0.9zM402.9 56.2h0.9v0.9h-0.9zM410.1 60.2h0.9v0.9h-0.9zM389.8 41.8h0.9v0.9h-0.9zM407.7 36.1h0.9v0.9h-0.9zM383.5 68.7h0.9v0.9h-0.9zM417.8 59.0h0.9v0.9h-0.9zM418.7 38.2h0.9v0.9h-0.9zM410.1 61.6h0.9v0.9h-0.9zM370.4 85.4h0.9v0.9h-0.9zM470.0 30.4h0.9v0.9h-0.9zM409.3 23.1h0.9v0.9h-0.9zM382.3 41.3h0.9v0.9h-0.9zM419.6 67.7h0.9v0.9h-0.9zM411.0 51.2h0.9v0.9h-0.9zM424.6 28.2h0.9v0.9h-0.9zM384.4 43.2h0.9v0.9h-0.9zM405.4 52.1h0.9v0.9h-0.9zM397.9 54.1h0.9v0.9h-0.9zM427.7 76.4h0.9v0.9h-0.9zM381.5 77.9h0.9v0.9h-0.9zM405.4 55.1h0.9v0.9h-0.9zM392.8 85.0h0.9v0.9h-0.9zM423.0 20.3h0.9v0.9h-0.9zM414.5 10.2h0.9v0.9h-0.9zM380.6 46.3h0.9v0.9h-0.9zM390.8 64.2h0.9v0.9h-0.9zM385.0 63.4h0.9v0.9h-0.9zM410.5 41.3h0.9v0.9h-0.9zM420.4 85.0h0.9v0.9h-0.9zM422.9 38.8h0.9v0.9h-0.9zM378.1 82.4h0.9v0.9h-0.9zM385.9 112.2h0.9v0.9h-0.9zM381.7 77.9h0.9v0.9h-0.9zM414.6 24.6h0.9v0.9h-0.9zM396.6 19.1h0.9v0.9h-0.9zM392.3 43.7h0.9v0.9h-0.9zM414.5 25.1h0.9v0.9h-0.9zM388.0 44.3h0.9v0.9h-0.9zM386.7 99.3h0.9v0.9h-0.9zM475.9 20.0h0.9v0.9h-0.9zM380.6 87.1h0.9v0.9h-0.9zM419.9 30.1h0.9v0.9h-0.9zM408.1 33.9h0.9v0.9h-0.9zM384.9 86.0h0.9v0.9h-0.9zM394.9 101.3h0.9v0.9h-0.9zM410.5 26.9h0.9v0.9h-0.9zM415.9 37.0h0.9v0.9h-0.9zM416.8 38.3h0.9v0.9h-0.9zM376.7 80.9h0.9v0.9h-0.9zM425.9 30.9h0.9v0.9h-0.9zM389.6 64.0h0.9v0.9h-0.9zM385.1 71.6h0.9v0.9h-0.9zM375.0 57.6h0.9v0.9h-0.9zM393.7 56.4h0.9v0.9h-0.9zM409.4 19.4h0.9v0.9h-0.9zM426.7 57.5h0.9v0.9h-0.9zM431.1 34.4h0.9v0.9h-0.9zM416.9 30.6h0.9v0.9h-0.9zM408.1 32.9h0.9v0.9h-0.9zM412.1 36.5h0.9v0.9h-0.9zM405.6 21.7h0.9v0.9h-0.9zM399.3 31.5h0.9v0.9h-0.9zM374.2 94.4h0.9v0.9h-0.9zM442.8 9.7h0.9v0.9h-0.9zM396.8 49.6h0.9v0.9h-0.9zM386.7 89.6h0.9v0.9h-0.9zM398.2 61.6h0.9v0.9h-0.9zM383.8 103.4h0.9v0.9h-0.9zM429.2 10.2h0.9v0.9h-0.9zM419.8 36.4h0.9v0.9h-0.9zM386.6 91.1h0.9v0.9h-0.9zM414.3 18.5h0.9v0.9h-0.9zM403.4 56.3h0.9v0.9h-0.9zM409.5 64.9h0.9v0.9h-0.9zM375.5 115.2h0.9v0.9h-0.9zM429.0 13.5h0.9v0.9h-0.9zM404.0 58.6h0.9v0.9h-0.9zM450.8 18.9h0.9v0.9h-0.9zM378.8 86.6h0.9v0.9h-0.9zM438.0 18.5h0.9v0.9h-0.9zM426.3 54.5h0.9v0.9h-0.9zM388.0 91.1h0.9v0.9h-0.9zM386.3 73.4h0.9v0.9h-0.9zM411.2 23.9h0.9v0.9h-0.9zM382.7 85.6h0.9v0.9h-0.9zM376.3 109.9h0.9v0.9h-0.9zM398.3 20.2h0.9v0.9h-0.9zM392.9 50.8h0.9v0.9h-0.9zM400.1 85.3h0.9v0.9h-0.9zM393.3 31.3h0.9v0.9h-0.9zM400.6 30.5h0.9v0.9h-0.9zM404.7 38.7h0.9v0.9h-0.9zM388.3 65.5h0.9v0.9h-0.9zM378.3 75.8h0.9v0.9h-0.9zM379.4 96.0h0.9v0.9h-0.9zM390.9 65.9h0.9v0.9h-0.9zM402.2 29.0h0.9v0.9h-0.9zM416.2 81.5h0.9v0.9h-0.9zM406.4 33.0h0.9v0.9h-0.9zM410.2 27.6h0.9v0.9h-0.9zM413.9 38.4h0.9v0.9h-0.9zM369.8 106.2h0.9v0.9h-0.9zM391.3 87.0h0.9v0.9h-0.9zM396.1 56.9h0.9v0.9h-0.9zM377.8 66.7h0.9v0.9h-0.9zM369.5 98.4h0.9v0.9h-0.9zM363.2 102.6h0.9v0.9h-0.9zM402.4 49.6h0.9v0.9h-0.9zM386.1 82.2h0.9v0.9h-0.9zM401.4 41.8h0.9v0.9h-0.9zM413.4 18.8h0.9v0.9h-0.9zM388.9 56.1h0.9v0.9h-0.9zM387.2 37.5h0.9v0.9h-0.9zM409.1 23.3h0.9v0.9h-0.9zM379.4 107.2h0.9v0.9h-0.9zM377.2 62.7h0.9v0.9h-0.9zM392.0 58.7h0.9v0.9h-0.9zM404.5 51.9h0.9v0.9h-0.9zM395.1 76.9h0.9v0.9h-0.9zM395.1 71.5h0.9v0.9h-0.9zM384.9 69.3h0.9v0.9h-0.9zM413.7 32.1h0.9v0.9h-0.9zM399.1 73.5h0.9v0.9h-0.9zM396.3 51.2h0.9v0.9h-0.9zM376.7 87.1h0.9v0.9h-0.9zM409.7 30.1h0.9v0.9h-0.9zM386.5 57.9h0.9v0.9h-0.9zM410.9 17.2h0.9v0.9h-0.9zM374.7 78.7h0.9v0.9h-0.9zM419.3 36.3h0.9v0.9h-0.9zM382.6 84.7h0.9v0.9h-0.9zM396.2 75.1h0.9v0.9h-0.9zM377.5 105.8h0.9v0.9h-0.9zM406.9 54.7h0.9v0.9h-0.9zM397.0 57.3h0.9v0.9h-0.9zM407.2 43.6h0.9v0.9h-0.9zM408.2 41.8h0.9v0.9h-0.9zM387.1 59.0h0.9v0.9h-0.9zM405.4 17.1h0.9v0.9h-0.9zM403.6 51.7h0.9v0.9h-0.9zM382.7 49.3h0.9v0.9h-0.9zM390.3 49.4h0.9v0.9h-0.9zM405.7 33.2h0.9v0.9h-0.9zM391.4 69.8h0.9v0.9h-0.9zM378.1 80.2h0.9v0.9h-0.9zM385.9 88.2h0.9v0.9h-0.9zM390.5 90.3h0.9v0.9h-0.9zM407.2 10.8h0.9v0.9h-0.9zM380.6 80.1h0.9v0.9h-0.9zM395.7 47.0h0.9v0.9h-0.9zM376.5 72.2h0.9v0.9h-0.9zM387.6 51.5h0.9v0.9h-0.9zM397.7 72.6h0.9v0.9h-0.9zM426.6 81.3h0.9v0.9h-0.9zM416.4 25.0h0.9v0.9h-0.9zM404.1 29.2h0.9v0.9h-0.9zM377.5 68.3h0.9v0.9h-0.9zM390.2 95.9h0.9v0.9h-0.9zM372.4 90.2h0.9v0.9h-0.9zM369.2 107.2h0.9v0.9h-0.9zM413.7 6.1h0.9v0.9h-0.9zM380.1 113.5h0.9v0.9h-0.9zM395.7 63.9h0.9v0.9h-0.9zM420.9 51.3h0.9v0.9h-0.9zM416.3 29.0h0.9v0.9h-0.9zM396.5 58.7h0.9v0.9h-0.9zM388.4 67.4h0.9v0.9h-0.9zM394.3 65.0h0.9v0.9h-0.9zM376.5 88.2h0.9v0.9h-0.9zM403.7 48.9h0.9v0.9h-0.9zM379.3 107.1h0.9v0.9h-0.9zM404.7 42.9h0.9v0.9h-0.9zM386.2 93.6h0.9v0.9h-0.9zM396.8 62.7h0.9v0.9h-0.9zM391.8 82.9h0.9v0.9h-0.9zM410.5 31.3h0.9v0.9h-0.9zM374.3 73.0h0.9v0.9h-0.9zM372.0 95.1h0.9v0.9h-0.9zM384.9 62.3h0.9v0.9h-0.9zM392.1 82.3h0.9v0.9h-0.9zM419.3 65.9h0.9v0.9h-0.9zM423.8 41.4h0.9v0.9h-0.9zM411.2 24.5h0.9v0.9h-0.9zM384.2 80.9h0.9v0.9h-0.9zM405.8 16.2h0.9v0.9h-0.9zM409.9 27.8h0.9v0.9h-0.9zM373.7 94.7h0.9v0.9h-0.9zM388.7 45.8h0.9v0.9h-0.9zM375.5 86.1h0.9v0.9h-0.9zM380.5 74.4h0.9v0.9h-0.9zM393.4 38.5h0.9v0.9h-0.9zM379.2 104.0h0.9v0.9h-0.9zM406.3 58.5h0.9v0.9h-0.9zM403.6 33.1h0.9v0.9h-0.9zM419.0 81.3h0.9v0.9h-0.9zM412.9 52.5h0.9v0.9h-0.9zM397.0 41.2h0.9v0.9h-0.9zM441.9 40.1h0.9v0.9h-0.9zM400.0 45.7h0.9v0.9h-0.9zM395.2 108.2h0.9v0.9h-0.9zM392.6 50.1h0.9v0.9h-0.9zM373.8 78.3h0.9v0.9h-0.9zM371.2 64.9h0.9v0.9h-0.9zM387.3 80.5h0.9v0.9h-0.9zM402.7 21.4h0.9v0.9h-0.9zM430.9 38.7h0.9v0.9h-0.9zM398.3 36.6h0.9v0.9h-0.9zM391.3 46.8h0.9v0.9h-0.9zM377.3 81.4h0.9v0.9h-0.9zM416.7 25.4h0.9v0.9h-0.9zM390.3 14.1h0.9v0.9h-0.9zM415.8 60.1h0.9v0.9h-0.9zM388.2 94.9h0.9v0.9h-0.9zM387.9 66.8h0.9v0.9h-0.9zM492.9 24.7h0.9v0.9h-0.9zM417.4 35.0h0.9v0.9h-0.9zM381.3 52.8h0.9v0.9h-0.9zM412.2 40.1h0.9v0.9h-0.9zM409.5 29.7h0.9v0.9h-0.9zM389.6 76.8h0.9v0.9h-0.9zM415.1 40.1h0.9v0.9h-0.9zM393.8 65.2h0.9v0.9h-0.9zM382.1 98.8h0.9v0.9h-0.9zM415.3 17.7h0.9v0.9h-0.9zM419.8 31.2h0.9v0.9h-0.9zM404.7 81.6h0.9v0.9h-0.9zM409.4 46.4h0.9v0.9h-0.9zM396.5 68.8h0.9v0.9h-0.9zM387.0 97.6h0.9v0.9h-0.9zM380.3 91.4h0.9v0.9h-0.9zM402.4 14.2h0.9v0.9h-0.9zM388.2 56.4h0.9v0.9h-0.9zM389.8 88.6h0.9v0.9h-0.9zM398.1 35.9h0.9v0.9h-0.9zM404.9 45.1h0.9v0.9h-0.9zM414.8 25.0h0.9v0.9h-0.9zM409.4 39.8h0.9v0.9h-0.9zM383.9 97.8h0.9v0.9h-0.9zM376.5 107.9h0.9v0.9h-0.9zM395.9 100.7h0.9v0.9h-0.9zM381.0 107.1h0.9v0.9h-0.9zM394.9 95.9h0.9v0.9h-0.9zM387.3 77.1h0.9v0.9h-0.9zM385.7 67.4h0.9v0.9h-0.9zM389.9 74.2h0.9v0.9h-0.9zM392.7 52.7h0.9v0.9h-0.9zM382.9 100.5h0.9v0.9h-0.9zM387.0 49.4h0.9v0.9h-0.9zM400.0 23.1h0.9v0.9h-0.9zM396.2 42.9h0.9v0.9h-0.9zM421.7 40.8h0.9v0.9h-0.9zM404.1 20.2h0.9v0.9h-0.9zM395.8 17.1h0.9v0.9h-0.9zM393.9 74.4h0.9v0.9h-0.9zM386.0 28.2h0.9v0.9h-0.9zM416.3 58.8h0.9v0.9h-0.9zM406.3 44.5h0.9v0.9h-0.9zM400.5 40.9h0.9v0.9h-0.9zM419.1 49.8h0.9v0.9h-0.9zM384.4 81.4h0.9v0.9h-0.9zM392.7 32.7h0.9v0.9h-0.9zM422.3 12.6h0.9v0.9h-0.9zM426.3 29.9h0.9v0.9h-0.9zM432.8 6.3h0.9v0.9h-0.9zM376.4 42.5h0.9v0.9h-0.9zM426.0 41.0h0.9v0.9h-0.9zM386.0 56.3h0.9v0.9h-0.9zM388.9 83.9h0.9v0.9h-0.9zM391.5 65.1h0.9v0.9h-0.9zM422.6 41.3h0.9v0.9h-0.9zM363.6 87.4h0.9v0.9h-0.9zM420.0 9.0h0.9v0.9h-0.9zM390.7 92.9h0.9v0.9h-0.9zM397.7 56.3h0.9v0.9h-0.9zM390.6 54.3h0.9v0.9h-0.9zM417.8 8.4h0.9v0.9h-0.9zM413.5 42.2h0.9v0.9h-0.9zM386.2 111.5h0.9v0.9h-0.9zM415.9 17.3h0.9v0.9h-0.9zM385.3 62.8h0.9v0.9h-0.9zM381.4 103.1h0.9v0.9h-0.9zM421.2 42.0h0.9v0.9h-0.9zM400.5 68.9h0.9v0.9h-0.9zM396.7 60.3h0.9v0.9h-0.9zM386.5 64.7h0.9v0.9h-0.9zM386.0 85.4h0.9v0.9h-0.9zM395.0 94.1h0.9v0.9h-0.9zM409.4 57.9h0.9v0.9h-0.9zM389.9 80.3h0.9v0.9h-0.9zM403.3 61.8h0.9v0.9h-0.9zM407.3 56.9h0.9v0.9h-0.9zM392.2 45.6h0.9v0.9h-0.9zM379.7 104.7h0.9v0.9h-0.9zM423.6 27.6h0.9v0.9h-0.9zM385.8 68.4h0.9v0.9h-0.9zM397.4 53.0h0.9v0.9h-0.9zM428.8 78.7h0.9v0.9h-0.9zM417.5 78.7h0.9v0.9h-0.9zM406.9 28.7h0.9v0.9h-0.9zM388.6 41.7h0.9v0.9h-0.9zM388.6 103.2h0.9v0.9h-0.9zM392.3 61.5h0.9v0.9h-0.9zM424.1 23.3h0.9v0.9h-0.9zM380.5 78.7h0.9v0.9h-0.9zM395.0 32.2h0.9v0.9h-0.9zM397.2 58.8h0.9v0.9h-0.9zM386.2 105.8h0.9v0.9h-0.9zM398.8 66.8h0.9v0.9h-0.9zM439.4 13.9h0.9v0.9h-0.9zM363.6 84.4h0.9v0.9h-0.9zM420.8 16.5h0.9v0.9h-0.9zM416.9 70.5h0.9v0.9h-0.9zM384.9 96.5h0.9v0.9h-0.9zM400.9 62.2h0.9v0.9h-0.9zM395.9 34.9h0.9v0.9h-0.9zM384.6 53.6h0.9v0.9h-0.9zM379.0 75.4h0.9v0.9h-0.9zM401.7 84.4h0.9v0.9h-0.9zM378.9 79.3h0.9v0.9h-0.9zM431.6 79.5h0.9v0.9h-0.9zM378.3 70.9h0.9v0.9h-0.9zM426.9 35.3h0.9v0.9h-0.9zM406.2 23.6h0.9v0.9h-0.9zM425.4 26.9h0.9v0.9h-0.9zM399.5 14.4h0.9v0.9h-0.9zM392.6 89.3h0.9v0.9h-0.9zM376.8 101.8h0.9v0.9h-0.9zM393.9 46.5h0.9v0.9h-0.9zM398.7 53.2h0.9v0.9h-0.9zM394.5 80.5h0.9v0.9h-0.9zM409.1 10.7h0.9v0.9h-0.9zM400.6 9.7h0.9v0.9h-0.9zM393.8 37.6h0.9v0.9h-0.9zM431.5 18.0h0.9v0.9h-0.9zM446.7 18.3h0.9v0.9h-0.9zM404.6 40.2h0.9v0.9h-0.9zM402.2 69.2h0.9v0.9h-0.9zM402.3 31.7h0.9v0.9h-0.9zM404.1 42.0h0.9v0.9h-0.9zM416.6 41.0h0.9v0.9h-0.9zM386.8 37.3h0.9v0.9h-0.9zM395.5 44.4h0.9v0.9h-0.9zM415.2 49.8h0.9v0.9h-0.9zM409.1 77.8h0.9v0.9h-0.9zM393.1 94.5h0.9v0.9h-0.9zM437.3 10.8h0.9v0.9h-0.9zM392.9 76.9h0.9v0.9h-0.9zM430.4 19.0h0.9v0.9h-0.9zM393.8 80.3h0.9v0.9h-0.9zM391.2 44.7h0.9v0.9h-0.9zM438.4 15.7h0.9v0.9h-0.9zM413.5 33.5h0.9v0.9h-0.9zM411.8 35.7h0.9v0.9h-0.9zM381.8 100.1h0.9v0.9h-0.9zM377.3 59.9h0.9v0.9h-0.9zM397.4 39.2h0.9v0.9h-0.9zM386.4 64.5h0.9v0.9h-0.9zM445.8 52.1h0.9v0.9h-0.9zM382.0 93.1h0.9v0.9h-0.9zM389.3 40.0h0.9v0.9h-0.9zM384.2 84.4h0.9v0.9h-0.9zM402.5 67.9h0.9v0.9h-0.9zM409.7 42.3h0.9v0.9h-0.9zM394.4 39.4h0.9v0.9h-0.9zM406.8 24.4h0.9v0.9h-0.9zM377.5 84.6h0.9v0.9h-0.9zM405.2 40.0h0.9v0.9h-0.9zM393.3 47.2h0.9v0.9h-0.9zM406.4 47.8h0.9v0.9h-0.9zM442.0 24.2h0.9v0.9h-0.9zM396.6 86.6h0.9v0.9h-0.9zM380.0 85.8h0.9v0.9h-0.9zM414.2 41.0h0.9v0.9h-0.9zM430.0 20.2h0.9v0.9h-0.9zM423.0 14.1h0.9v0.9h-0.9zM405.3 62.4h0.9v0.9h-0.9zM396.6 73.0h0.9v0.9h-0.9zM399.0 89.2h0.9v0.9h-0.9zM410.2 44.8h0.9v0.9h-0.9zM408.3 47.3h0.9v0.9h-0.9zM385.3 50.5h0.9v0.9h-0.9zM411.2 16.5h0.9v0.9h-0.9zM406.2 61.2h0.9v0.9h-0.9zM402.8 57.0h0.9v0.9h-0.9zM409.5 33.3h0.9v0.9h-0.9zM406.3 46.7h0.9v0.9h-0.9zM401.4 67.3h0.9v0.9h-0.9zM413.2 44.6h0.9v0.9h-0.9zM390.9 75.7h0.9v0.9h-0.9zM384.9 115.9h0.9v0.9h-0.9zM466.3 23.8h0.9v0.9h-0.9zM387.2 97.2h0.9v0.9h-0.9zM438.7 4.7h0.9v0.9h-0.9zM427.2 13.1h0.9v0.9h-0.9zM384.5 81.4h0.9v0.9h-0.9zM407.0 56.9h0.9v0.9h-0.9zM379.2 95.2h0.9v0.9h-0.9zM405.8 39.7h0.9v0.9h-0.9zM393.5 103.2h0.9v0.9h-0.9zM412.2 30.6h0.9v0.9h-0.9zM408.4 20.4h0.9v0.9h-0.9zM386.2 42.4h0.9v0.9h-0.9zM410.8 72.2h0.9v0.9h-0.9zM395.2 79.8h0.9v0.9h-0.9zM414.2 19.2h0.9v0.9h-0.9zM386.0 71.7h0.9v0.9h-0.9zM414.9 28.4h0.9v0.9h-0.9zM406.6 46.3h0.9v0.9h-0.9zM393.7 77.9h0.9v0.9h-0.9zM427.1 5.9h0.9v0.9h-0.9zM387.7 93.8h0.9v0.9h-0.9zM387.2 60.8h0.9v0.9h-0.9zM411.1 40.0h0.9v0.9h-0.9zM403.9 73.2h0.9v0.9h-0.9zM387.6 82.0h0.9v0.9h-0.9zM424.2 101.4h0.9v0.9h-0.9zM381.7 93.0h0.9v0.9h-0.9zM381.8 78.3h0.9v0.9h-0.9zM412.8 10.7h0.9v0.9h-0.9zM368.7 113.4h0.9v0.9h-0.9zM461.1 58.6h0.9v0.9h-0.9zM419.6 43.9h0.9v0.9h-0.9zM411.7 17.4h0.9v0.9h-0.9zM397.0 67.7h0.9v0.9h-0.9zM402.8 16.4h0.9v0.9h-0.9zM390.7 70.0h0.9v0.9h-0.9zM394.4 69.9h0.9v0.9h-0.9zM410.9 24.3h0.9v0.9h-0.9zM401.2 37.9h0.9v0.9h-0.9zM407.2 27.4h0.9v0.9h-0.9zM376.3 63.6h0.9v0.9h-0.9zM419.9 22.2h0.9v0.9h-0.9zM390.5 80.9h0.9v0.9h-0.9zM391.5 98.2h0.9v0.9h-0.9zM396.6 21.2h0.9v0.9h-0.9zM378.5 56.7h0.9v0.9h-0.9zM387.8 67.0h0.9v0.9h-0.9zM403.9 58.4h0.9v0.9h-0.9zM411.7 9.5h0.9v0.9h-0.9zM406.9 51.6h0.9v0.9h-0.9zM434.4 27.0h0.9v0.9h-0.9zM396.9 21.6h0.9v0.9h-0.9zM403.0 40.3h0.9v0.9h-0.9zM384.3 64.2h0.9v0.9h-0.9zM409.0 52.1h0.9v0.9h-0.9zM432.9 33.1h0.9v0.9h-0.9zM402.2 36.4h0.9v0.9h-0.9zM408.2 70.8h0.9v0.9h-0.9zM383.8 84.8h0.9v0.9h-0.9zM397.9 51.9h0.9v0.9h-0.9zM434.0 33.7h0.9v0.9h-0.9zM391.7 53.8h0.9v0.9h-0.9zM392.9 77.7h0.9v0.9h-0.9zM408.8 23.4h0.9v0.9h-0.9zM411.1 19.5h0.9v0.9h-0.9zM380.0 75.3h0.9v0.9h-0.9zM397.0 28.9h0.9v0.9h-0.9zM380.7 103.5h0.9v0.9h-0.9zM379.7 68.4h0.9v0.9h-0.9zM390.3 53.4h0.9v0.9h-0.9zM421.4 25.3h0.9v0.9h-0.9zM421.0 31.6h0.9v0.9h-0.9zM395.7 80.7h0.9v0.9h-0.9zM410.9 50.4h0.9v0.9h-0.9zM399.0 28.7h0.9v0.9h-0.9zM395.8 72.2h0.9v0.9h-0.9zM392.8 44.2h0.9v0.9h-0.9zM397.0 61.0h0.9v0.9h-0.9zM416.5 72.1h0.9v0.9h-0.9zM397.4 40.6h0.9v0.9h-0.9zM386.3 47.2h0.9v0.9h-0.9zM394.8 43.9h0.9v0.9h-0.9zM396.0 57.9h0.9v0.9h-0.9zM393.3 53.2h0.9v0.9h-0.9zM394.1 64.5h0.9v0.9h-0.9zM406.6 27.4h0.9v0.9h-0.9zM409.4 41.8h0.9v0.9h-0.9zM360.2 28.6h0.9v0.9h-0.9zM404.2 26.1h0.9v0.9h-0.9zM444.0 35.7h0.9v0.9h-0.9zM428.4 33.1h0.9v0.9h-0.9zM437.7 8.0h0.9v0.9h-0.9zM383.1 89.3h0.9v0.9h-0.9zM403.8 47.7h0.9v0.9h-0.9zM389.9 61.0h0.9v0.9h-0.9zM389.1 84.6h0.9v0.9h-0.9zM394.0 21.9h0.9v0.9h-0.9zM410.7 55.4h0.9v0.9h-0.9zM394.4 46.1h0.9v0.9h-0.9zM394.7 53.9h0.9v0.9h-0.9zM382.1 67.9h0.9v0.9h-0.9zM404.5 41.2h0.9v0.9h-0.9zM386.9 77.1h0.9v0.9h-0.9zM382.7 92.7h0.9v0.9h-0.9zM379.9 96.8h0.9v0.9h-0.9zM392.2 45.2h0.9v0.9h-0.9zM367.9 110.4h0.9v0.9h-0.9zM394.9 64.5h0.9v0.9h-0.9zM373.8 94.6h0.9v0.9h-0.9zM371.0 48.7h0.9v0.9h-0.9zM389.3 81.6h0.9v0.9h-0.9zM395.7 60.2h0.9v0.9h-0.9zM418.1 25.6h0.9v0.9h-0.9zM412.6 89.9h0.9v0.9h-0.9zM381.0 71.7h0.9v0.9h-0.9zM387.5 92.4h0.9v0.9h-0.9zM411.0 83.8h0.9v0.9h-0.9zM420.2 31.2h0.9v0.9h-0.9zM386.2 95.5h0.9v0.9h-0.9zM415.3 22.0h0.9v0.9h-0.9zM384.7 66.5h0.9v0.9h-0.9zM359.0 76.9h0.9v0.9h-0.9zM392.6 59.8h0.9v0.9h-0.9zM395.2 46.9h0.9v0.9h-0.9zM404.9 53.1h0.9v0.9h-0.9zM424.5 17.1h0.9v0.9h-0.9zM396.9 84.0h0.9v0.9h-0.9zM431.3 29.1h0.9v0.9h-0.9zM416.7 25.2h0.9v0.9h-0.9zM375.2 105.2h0.9v0.9h-0.9zM399.2 69.9h0.9v0.9h-0.9zM408.8 44.0h0.9v0.9h-0.9zM394.5 32.3h0.9v0.9h-0.9zM411.5 28.1h0.9v0.9h-0.9zM406.9 28.1h0.9v0.9h-0.9zM417.5 19.4h0.9v0.9h-0.9zM402.5 74.7h0.9v0.9h-0.9zM375.3 53.1h0.9v0.9h-0.9zM384.8 74.7h0.9v0.9h-0.9zM406.2 72.4h0.9v0.9h-0.9zM383.2 104.3h0.9v0.9h-0.9zM386.7 111.6h0.9v0.9h-0.9zM372.4 95.5h0.9v0.9h-0.9zM379.5 9.3h0.9v0.9h-0.9zM380.6 68.9h0.9v0.9h-0.9zM394.2 21.7h0.9v0.9h-0.9zM439.7 15.9h0.9v0.9h-0.9zM482.4 19.5h0.9v0.9h-0.9zM427.0 56.9h0.9v0.9h-0.9zM377.0 84.5h0.9v0.9h-0.9zM373.6 102.9h0.9v0.9h-0.9zM403.3 66.9h0.9v0.9h-0.9zM413.9 50.1h0.9v0.9h-0.9zM431.6 11.3h0.9v0.9h-0.9zM401.5 23.5h0.9v0.9h-0.9zM392.0 92.4h0.9v0.9h-0.9zM377.6 48.8h0.9v0.9h-0.9zM405.7 33.4h0.9v0.9h-0.9zM406.9 5.4h0.9v0.9h-0.9zM380.9 72.9h0.9v0.9h-0.9zM385.1 85.8h0.9v0.9h-0.9zM377.7 92.8h0.9v0.9h-0.9zM407.0 83.6h0.9v0.9h-0.9zM434.3 39.2h0.9v0.9h-0.9zM407.7 57.0h0.9v0.9h-0.9zM399.2 9.7h0.9v0.9h-0.9zM380.8 88.4h0.9v0.9h-0.9zM409.9 21.7h0.9v0.9h-0.9zM415.0 10.5h0.9v0.9h-0.9zM374.2 113.9h0.9v0.9h-0.9zM401.7 84.0h0.9v0.9h-0.9zM372.8 81.9h0.9v0.9h-0.9zM390.9 104.1h0.9v0.9h-0.9zM389.7 114.9h0.9v0.9h-0.9zM406.3 54.5h0.9v0.9h-0.9zM426.3 15.3h0.9v0.9h-0.9zM389.9 50.1h0.9v0.9h-0.9zM408.3 10.5h0.9v0.9h-0.9zM383.5 50.3h0.9v0.9h-0.9zM393.6 64.3h0.9v0.9h-0.9zM400.6 62.2h0.9v0.9h-0.9zM383.4 106.9h0.9v0.9h-0.9zM420.7 31.1h0.9v0.9h-0.9zM383.1 58.0h0.9v0.9h-0.9zM386.6 63.1h0.9v0.9h-0.9zM375.5 102.2h0.9v0.9h-0.9zM393.6 51.9h0.9v0.9h-0.9zM393.2 6.7h0.9v0.9h-0.9zM436.3 45.0h0.9v0.9h-0.9zM435.6 33.7h0.9v0.9h-0.9zM395.9 57.1h0.9v0.9h-0.9zM400.2 35.7h0.9v0.9h-0.9zM414.6 46.6h0.9v0.9h-0.9zM391.9 63.3h0.9v0.9h-0.9zM406.0 64.7h0.9v0.9h-0.9zM394.7 87.6h0.9v0.9h-0.9zM373.8 94.7h0.9v0.9h-0.9zM397.7 56.7h0.9v0.9h-0.9zM377.1 50.8h0.9v0.9h-0.9zM439.8 16.2h0.9v0.9h-0.9zM398.3 75.0h0.9v0.9h-0.9zM380.4 79.6h0.9v0.9h-0.9zM406.5 56.8h0.9v0.9h-0.9zM387.5 84.2h0.9v0.9h-0.9zM377.9 91.3h0.9v0.9h-0.9zM406.0 27.8h0.9v0.9h-0.9zM400.7 45.5h0.9v0.9h-0.9zM455.9 18.7h0.9v0.9h-0.9zM388.6 81.3h0.9v0.9h-0.9zM392.4 74.2h0.9v0.9h-0.9zM446.0 5.7h0.9v0.9h-0.9zM379.7 106.3h0.9v0.9h-0.9zM388.6 53.6h0.9v0.9h-0.9zM384.5 74.5h0.9v0.9h-0.9zM398.6 48.6h0.9v0.9h-0.9zM401.9 35.7h0.9v0.9h-0.9zM414.6 50.9h0.9v0.9h-0.9zM385.0 91.2h0.9v0.9h-0.9zM385.8 60.5h0.9v0.9h-0.9zM398.6 45.2h0.9v0.9h-0.9zM401.2 81.1h0.9v0.9h-0.9zM406.2 47.0h0.9v0.9h-0.9zM392.0 32.7h0.9v0.9h-0.9zM406.9 61.1h0.9v0.9h-0.9zM399.9 89.1h0.9v0.9h-0.9zM379.0 88.9h0.9v0.9h-0.9zM385.7 43.1h0.9v0.9h-0.9zM402.6 55.1h0.9v0.9h-0.9zM419.5 15.9h0.9v0.9h-0.9zM399.6 61.6h0.9v0.9h-0.9zM377.8 90.1h0.9v0.9h-0.9zM421.5 68.1h0.9v0.9h-0.9zM393.5 48.9h0.9v0.9h-0.9zM398.4 57.1h0.9v0.9h-0.9zM409.5 81.3h0.9v0.9h-0.9zM389.1 93.7h0.9v0.9h-0.9zM376.0 74.5h0.9v0.9h-0.9zM377.2 96.3h0.9v0.9h-0.9zM370.3 96.9h0.9v0.9h-0.9zM404.1 35.4h0.9v0.9h-0.9zM401.7 64.9h0.9v0.9h-0.9zM392.6 56.8h0.9v0.9h-0.9zM399.9 34.8h0.9v0.9h-0.9zM399.6 28.6h0.9v0.9h-0.9zM397.7 25.3h0.9v0.9h-0.9zM443.6 10.5h0.9v0.9h-0.9zM413.0 10.3h0.9v0.9h-0.9zM383.9 77.0h0.9v0.9h-0.9zM397.2 68.4h0.9v0.9h-0.9zM381.8 77.9h0.9v0.9h-0.9zM402.6 45.4h0.9v0.9h-0.9zM389.2 88.4h0.9v0.9h-0.9zM401.9 81.5h0.9v0.9h-0.9zM402.8 36.6h0.9v0.9h-0.9zM394.0 16.1h0.9v0.9h-0.9zM388.6 56.3h0.9v0.9h-0.9zM371.1 87.6h0.9v0.9h-0.9zM407.6 52.6h0.9v0.9h-0.9zM488.3 28.1h0.9v0.9h-0.9zM461.0 75.6h0.9v0.9h-0.9zM438.7 6.8h0.9v0.9h-0.9zM367.2 85.4h0.9v0.9h-0.9zM439.9 19.4h0.9v0.9h-0.9zM392.7 54.6h0.9v0.9h-0.9zM370.7 82.9h0.9v0.9h-0.9zM397.1 74.5h0.9v0.9h-0.9zM403.5 21.9h0.9v0.9h-0.9zM390.3 86.0h0.9v0.9h-0.9zM375.8 84.6h0.9v0.9h-0.9zM401.7 44.6h0.9v0.9h-0.9zM392.8 86.2h0.9v0.9h-0.9zM390.6 78.3h0.9v0.9h-0.9zM404.3 27.6h0.9v0.9h-0.9zM387.3 94.5h0.9v0.9h-0.9zM392.7 100.7h0.9v0.9h-0.9zM390.8 57.4h0.9v0.9h-0.9zM394.1 25.9h0.9v0.9h-0.9zM393.0 38.0h0.9v0.9h-0.9zM397.5 74.7h0.9v0.9h-0.9zM400.2 81.0h0.9v0.9h-0.9zM404.6 36.7h0.9v0.9h-0.9zM387.0 46.9h0.9v0.9h-0.9zM381.5 52.5h0.9v0.9h-0.9zM378.3 106.2h0.9v0.9h-0.9zM410.0 20.1h0.9v0.9h-0.9zM440.7 29.7h0.9v0.9h-0.9zM437.1 20.1h0.9v0.9h-0.9zM390.9 86.4h0.9v0.9h-0.9zM392.7 70.1h0.9v0.9h-0.9zM409.9 42.2h0.9v0.9h-0.9zM374.1 82.2h0.9v0.9h-0.9zM386.7 83.0h0.9v0.9h-0.9zM447.9 54.9h0.9v0.9h-0.9zM386.1 60.5h0.9v0.9h-0.9zM393.6 39.9h0.9v0.9h-0.9zM390.9 45.6h0.9v0.9h-0.9zM393.3 26.5h0.9v0.9h-0.9zM390.3 27.7h0.9v0.9h-0.9zM419.2 6.6h0.9v0.9h-0.9zM380.8 104.2h0.9v0.9h-0.9zM383.7 76.7h0.9v0.9h-0.9zM403.1 24.1h0.9v0.9h-0.9zM390.3 28.8h0.9v0.9h-0.9zM391.2 56.9h0.9v0.9h-0.9zM405.8 94.0h0.9v0.9h-0.9zM413.0 51.8h0.9v0.9h-0.9zM383.5 49.0h0.9v0.9h-0.9zM400.4 69.8h0.9v0.9h-0.9zM400.8 46.9h0.9v0.9h-0.9zM387.2 71.6h0.9v0.9h-0.9zM381.4 90.6h0.9v0.9h-0.9zM404.2 61.1h0.9v0.9h-0.9zM412.4 12.6h0.9v0.9h-0.9zM407.0 43.4h0.9v0.9h-0.9zM404.4 17.0h0.9v0.9h-0.9zM387.9 96.7h0.9v0.9h-0.9zM406.8 41.4h0.9v0.9h-0.9zM418.0 22.1h0.9v0.9h-0.9zM379.0 87.7h0.9v0.9h-0.9zM381.8 112.6h0.9v0.9h-0.9zM382.6 66.9h0.9v0.9h-0.9zM398.0 35.5h0.9v0.9h-0.9zM392.7 83.9h0.9v0.9h-0.9zM399.5 14.0h0.9v0.9h-0.9zM375.6 87.2h0.9v0.9h-0.9zM403.7 18.5h0.9v0.9h-0.9zM392.4 41.6h0.9v0.9h-0.9zM408.2 26.9h0.9v0.9h-0.9zM423.9 16.6h0.9v0.9h-0.9zM385.4 76.9h0.9v0.9h-0.9zM399.6 37.7h0.9v0.9h-0.9zM379.2 85.3h0.9v0.9h-0.9zM377.3 99.9h0.9v0.9h-0.9zM374.8 93.0h0.9v0.9h-0.9zM405.8 33.8h0.9v0.9h-0.9zM382.6 85.9h0.9v0.9h-0.9zM434.7 27.9h0.9v0.9h-0.9zM394.6 36.0h0.9v0.9h-0.9zM406.4 23.7h0.9v0.9h-0.9zM400.7 46.9h0.9v0.9h-0.9zM396.7 61.6h0.9v0.9h-0.9zM392.3 23.6h0.9v0.9h-0.9zM396.3 48.8h0.9v0.9h-0.9zM451.2 7.5h0.9v0.9h-0.9zM445.7 24.1h0.9v0.9h-0.9zM379.9 60.6h0.9v0.9h-0.9zM380.4 79.1h0.9v0.9h-0.9zM431.0 45.7h0.9v0.9h-0.9zM488.4 98.8h0.9v0.9h-0.9zM385.9 94.7h0.9v0.9h-0.9zM412.2 29.3h0.9v0.9h-0.9zM416.3 20.4h0.9v0.9h-0.9zM364.2 95.6h0.9v0.9h-0.9zM396.5 55.4h0.9v0.9h-0.9zM403.7 42.4h0.9v0.9h-0.9zM409.8 18.4h0.9v0.9h-0.9zM430.2 35.1h0.9v0.9h-0.9zM399.7 78.2h0.9v0.9h-0.9zM406.6 10.6h0.9v0.9h-0.9zM409.9 11.0h0.9v0.9h-0.9zM384.3 72.1h0.9v0.9h-0.9zM374.6 91.6h0.9v0.9h-0.9zM395.4 80.0h0.9v0.9h-0.9zM383.6 88.0h0.9v0.9h-0.9zM408.6 38.8h0.9v0.9h-0.9zM390.2 75.6h0.9v0.9h-0.9zM382.9 70.7h0.9v0.9h-0.9zM397.5 49.3h0.9v0.9h-0.9zM392.1 73.4h0.9v0.9h-0.9zM391.4 47.6h0.9v0.9h-0.9zM359.7 20.7h0.9v0.9h-0.9zM404.2 5.5h0.9v0.9h-0.9zM385.9 86.8h0.9v0.9h-0.9zM408.4 75.5h0.9v0.9h-0.9zM384.4 71.7h0.9v0.9h-0.9zM387.5 77.4h0.9v0.9h-0.9zM407.1 36.1h0.9v0.9h-0.9zM393.5 45.3h0.9v0.9h-0.9zM376.3 114.8h0.9v0.9h-0.9zM483.0 4.9h0.9v0.9h-0.9zM387.0 80.3h0.9v0.9h-0.9zM411.4 22.6h0.9v0.9h-0.9zM378.1 69.9h0.9v0.9h-0.9zM380.5 70.5h0.9v0.9h-0.9zM436.3 44.9h0.9v0.9h-0.9zM401.0 66.4h0.9v0.9h-0.9zM411.0 38.9h0.9v0.9h-0.9zM382.4 76.4h0.9v0.9h-0.9zM414.7 85.9h0.9v0.9h-0.9zM437.6 26.0h0.9v0.9h-0.9zM411.7 18.2h0.9v0.9h-0.9zM374.2 115.8h0.9v0.9h-0.9zM386.9 75.6h0.9v0.9h-0.9zM393.7 73.2h0.9v0.9h-0.9zM404.3 19.9h0.9v0.9h-0.9zM421.4 21.6h0.9v0.9h-0.9zM426.7 73.0h0.9v0.9h-0.9zM408.7 18.9h0.9v0.9h-0.9zM410.4 28.1h0.9v0.9h-0.9zM392.6 77.1h0.9v0.9h-0.9zM390.7 81.6h0.9v0.9h-0.9zM403.3 51.8h0.9v0.9h-0.9zM380.5 73.5h0.9v0.9h-0.9zM408.1 57.2h0.9v0.9h-0.9zM430.9 38.2h0.9v0.9h-0.9zM402.8 74.2h0.9v0.9h-0.9zM412.0 54.0h0.9v0.9h-0.9zM417.1 40.9h0.9v0.9h-0.9zM403.1 36.5h0.9v0.9h-0.9zM404.3 43.2h0.9v0.9h-0.9zM390.9 68.8h0.9v0.9h-0.9zM398.4 66.8h0.9v0.9h-0.9zM404.8 34.7h0.9v0.9h-0.9zM396.0 61.5h0.9v0.9h-0.9zM395.2 50.3h0.9v0.9h-0.9zM385.2 70.6h0.9v0.9h-0.9zM404.6 29.5h0.9v0.9h-0.9zM366.9 105.6h0.9v0.9h-0.9zM447.1 91.0h0.9v0.9h-0.9zM379.7 41.7h0.9v0.9h-0.9zM392.2 68.9h0.9v0.9h-0.9zM387.4 61.4h0.9v0.9h-0.9zM380.7 78.7h0.9v0.9h-0.9zM396.7 50.0h0.9v0.9h-0.9zM401.3 28.4h0.9v0.9h-0.9zM401.5 63.3h0.9v0.9h-0.9zM388.6 93.6h0.9v0.9h-0.9zM380.5 96.6h0.9v0.9h-0.9zM371.7 24.1h0.9v0.9h-0.9zM389.4 53.4h0.9v0.9h-0.9zM381.4 73.3h0.9v0.9h-0.9zM426.1 38.3h0.9v0.9h-0.9zM397.6 65.0h0.9v0.9h-0.9zM422.6 48.8h0.9v0.9h-0.9zM381.0 66.8h0.9v0.9h-0.9zM380.8 34.8h0.9v0.9h-0.9zM389.8 35.1h0.9v0.9h-0.9zM403.5 35.3h0.9v0.9h-0.9zM396.7 62.2h0.9v0.9h-0.9zM394.9 32.2h0.9v0.9h-0.9zM382.9 54.3h0.9v0.9h-0.9zM394.1 42.2h0.9v0.9h-0.9zM372.6 70.2h0.9v0.9h-0.9zM450.3 75.7h0.9v0.9h-0.9zM397.9 90.6h0.9v0.9h-0.9zM390.3 93.4h0.9v0.9h-0.9zM388.8 95.1h0.9v0.9h-0.9zM383.7 95.1h0.9v0.9h-0.9zM401.5 53.8h0.9v0.9h-0.9zM382.5 70.2h0.9v0.9h-0.9zM379.1 80.2h0.9v0.9h-0.9zM437.3 12.3h0.9v0.9h-0.9zM417.8 77.6h0.9v0.9h-0.9zM421.6 54.0h0.9v0.9h-0.9zM398.1 62.8h0.9v0.9h-0.9zM404.2 63.8h0.9v0.9h-0.9zM393.5 31.4h0.9v0.9h-0.9zM398.4 57.9h0.9v0.9h-0.9zM396.5 46.5h0.9v0.9h-0.9zM407.3 47.3h0.9v0.9h-0.9zM404.2 53.9h0.9v0.9h-0.9zM396.0 29.6h0.9v0.9h-0.9zM392.7 39.8h0.9v0.9h-0.9zM444.1 13.8h0.9v0.9h-0.9zM416.8 40.7h0.9v0.9h-0.9zM380.2 87.1h0.9v0.9h-0.9zM397.5 64.0h0.9v0.9h-0.9zM413.7 20.0h0.9v0.9h-0.9zM387.2 63.1h0.9v0.9h-0.9zM394.8 46.8h0.9v0.9h-0.9zM395.4 59.5h0.9v0.9h-0.9zM386.4 95.0h0.9v0.9h-0.9zM446.8 34.9h0.9v0.9h-0.9zM378.6 66.8h0.9v0.9h-0.9zM384.0 65.9h0.9v0.9h-0.9zM397.0 69.3h0.9v0.9h-0.9zM389.6 59.4h0.9v0.9h-0.9zM412.6 57.4h0.9v0.9h-0.9zM415.3 43.8h0.9v0.9h-0.9zM416.6 41.0h0.9v0.9h-0.9zM411.0 21.1h0.9v0.9h-0.9zM390.3 78.9h0.9v0.9h-0.9zM428.3 36.5h0.9v0.9h-0.9zM379.4 52.0h0.9v0.9h-0.9zM391.7 35.0h0.9v0.9h-0.9zM394.9 94.7h0.9v0.9h-0.9zM397.4 45.8h0.9v0.9h-0.9zM381.7 83.1h0.9v0.9h-0.9zM426.9 32.8h0.9v0.9h-0.9zM399.1 92.1h0.9v0.9h-0.9zM375.9 77.9h0.9v0.9h-0.9zM439.3 13.1h0.9v0.9h-0.9zM411.3 38.9h0.9v0.9h-0.9zM373.6 50.8h0.9v0.9h-0.9zM384.7 68.2h0.9v0.9h-0.9zM384.0 83.2h0.9v0.9h-0.9zM391.6 65.7h0.9v0.9h-0.9zM400.6 73.4h0.9v0.9h-0.9zM440.5 24.3h0.9v0.9h-0.9zM387.9 52.9h0.9v0.9h-0.9zM396.7 78.4h0.9v0.9h-0.9zM417.2 30.8h0.9v0.9h-0.9zM382.5 80.0h0.9v0.9h-0.9zM392.9 78.7h0.9v0.9h-0.9zM412.3 35.6h0.9v0.9h-0.9zM416.1 38.0h0.9v0.9h-0.9zM386.0 41.2h0.9v0.9h-0.9zM410.5 25.2h0.9v0.9h-0.9zM467.1 34.9h0.9v0.9h-0.9zM416.9 12.7h0.9v0.9h-0.9zM406.5 65.5h0.9v0.9h-0.9zM401.9 49.4h0.9v0.9h-0.9zM370.5 88.4h0.9v0.9h-0.9zM389.1 76.5h0.9v0.9h-0.9zM386.6 100.9h0.9v0.9h-0.9zM387.2 51.7h0.9v0.9h-0.9zM472.5 24.2h0.9v0.9h-0.9zM380.9 91.8h0.9v0.9h-0.9zM430.9 27.9h0.9v0.9h-0.9zM386.8 27.0h0.9v0.9h-0.9zM396.3 75.6h0.9v0.9h-0.9zM392.7 14.6h0.9v0.9h-0.9zM406.9 35.8h0.9v0.9h-0.9zM406.6 55.9h0.9v0.9h-0.9zM382.9 79.0h0.9v0.9h-0.9zM427.4 24.1h0.9v0.9h-0.9zM397.4 60.0h0.9v0.9h-0.9zM377.5 64.1h0.9v0.9h-0.9zM404.0 54.6h0.9v0.9h-0.9zM404.2 40.2h0.9v0.9h-0.9zM386.0 33.7h0.9v0.9h-0.9zM402.5 29.4h0.9v0.9h-0.9zM375.4 87.0h0.9v0.9h-0.9zM379.1 105.5h0.9v0.9h-0.9zM388.5 30.1h0.9v0.9h-0.9zM391.2 69.7h0.9v0.9h-0.9zM384.9 97.2h0.9v0.9h-0.9zM377.4 46.7h0.9v0.9h-0.9zM388.6 37.4h0.9v0.9h-0.9zM383.2 94.9h0.9v0.9h-0.9zM384.9 66.2h0.9v0.9h-0.9zM391.1 58.0h0.9v0.9h-0.9zM421.8 29.9h0.9v0.9h-0.9zM429.7 65.5h0.9v0.9h-0.9zM395.2 42.0h0.9v0.9h-0.9zM381.5 65.1h0.9v0.9h-0.9zM412.8 19.0h0.9v0.9h-0.9zM384.0 77.4h0.9v0.9h-0.9zM405.1 63.1h0.9v0.9h-0.9zM413.4 8.4h0.9v0.9h-0.9zM424.7 54.7h0.9v0.9h-0.9zM415.7 58.5h0.9v0.9h-0.9zM398.6 65.2h0.9v0.9h-0.9zM396.8 31.8h0.9v0.9h-0.9zM380.8 90.0h0.9v0.9h-0.9zM399.3 84.8h0.9v0.9h-0.9zM384.9 49.6h0.9v0.9h-0.9zM401.9 33.1h0.9v0.9h-0.9zM406.0 61.5h0.9v0.9h-0.9zM420.7 33.0h0.9v0.9h-0.9zM401.6 76.4h0.9v0.9h-0.9zM366.7 57.7h0.9v0.9h-0.9zM387.5 56.7h0.9v0.9h-0.9zM387.7 89.0h0.9v0.9h-0.9zM374.0 91.8h0.9v0.9h-0.9zM418.3 47.2h0.9v0.9h-0.9zM396.8 67.2h0.9v0.9h-0.9zM383.2 62.3h0.9v0.9h-0.9zM427.2 31.4h0.9v0.9h-0.9zM388.0 101.0h0.9v0.9h-0.9zM396.2 35.8h0.9v0.9h-0.9zM392.8 69.2h0.9v0.9h-0.9zM386.7 76.5h0.9v0.9h-0.9zM409.2 92.6h0.9v0.9h-0.9zM433.6 12.8h0.9v0.9h-0.9zM378.9 113.9h0.9v0.9h-0.9zM383.3 94.2h0.9v0.9h-0.9zM371.4 91.5h0.9v0.9h-0.9zM380.9 37.3h0.9v0.9h-0.9zM392.3 98.9h0.9v0.9h-0.9zM441.5 11.7h0.9v0.9h-0.9zM397.7 45.2h0.9v0.9h-0.9zM402.4 60.2h0.9v0.9h-0.9zM391.5 48.0h0.9v0.9h-0.9zM393.3 91.1h0.9v0.9h-0.9zM410.9 62.3h0.9v0.9h-0.9zM413.6 36.8h0.9v0.9h-0.9zM403.3 19.9h0.9v0.9h-0.9zM380.4 70.2h0.9v0.9h-0.9zM407.8 81.9h0.9v0.9h-0.9zM379.6 89.3h0.9v0.9h-0.9zM388.9 83.6h0.9v0.9h-0.9zM373.8 83.8h0.9v0.9h-0.9zM395.1 40.1h0.9v0.9h-0.9zM386.0 49.4h0.9v0.9h-0.9zM406.7 27.7h0.9v0.9h-0.9zM407.2 31.0h0.9v0.9h-0.9zM400.5 45.0h0.9v0.9h-0.9zM397.2 43.6h0.9v0.9h-0.9zM367.6 67.6h0.9v0.9h-0.9zM395.6 54.3h0.9v0.9h-0.9zM382.3 98.7h0.9v0.9h-0.9zM415.3 49.1h0.9v0.9h-0.9zM386.8 88.7h0.9v0.9h-0.9zM399.3 39.6h0.9v0.9h-0.9zM387.7 76.8h0.9v0.9h-0.9zM369.9 101.2h0.9v0.9h-0.9zM426.5 39.5h0.9v0.9h-0.9zM408.4 56.4h0.9v0.9h-0.9zM385.9 77.5h0.9v0.9h-0.9zM397.4 69.9h0.9v0.9h-0.9zM370.8 110.2h0.9v0.9h-0.9zM433.5 37.3h0.9v0.9h-0.9zM390.0 72.7h0.9v0.9h-0.9zM391.4 84.8h0.9v0.9h-0.9zM426.0 7.4h0.9v0.9h-0.9zM395.7 58.8h0.9v0.9h-0.9zM397.7 66.2h0.9v0.9h-0.9zM411.4 44.3h0.9v0.9h-0.9zM393.0 25.6h0.9v0.9h-0.9zM420.3 25.4h0.9v0.9h-0.9zM394.0 27.3h0.9v0.9h-0.9zM403.1 29.6h0.9v0.9h-0.9zM368.7 100.6h0.9v0.9h-0.9zM398.7 36.3h0.9v0.9h-0.9zM379.3 85.3h0.9v0.9h-0.9zM387.1 28.4h0.9v0.9h-0.9zM419.6 12.5h0.9v0.9h-0.9zM380.6 94.7h0.9v0.9h-0.9zM389.0 94.3h0.9v0.9h-0.9zM392.3 52.0h0.9v0.9h-0.9zM397.7 73.1h0.9v0.9h-0.9zM399.8 17.2h0.9v0.9h-0.9zM411.8 18.2h0.9v0.9h-0.9zM404.0 58.7h0.9v0.9h-0.9zM403.4 29.4h0.9v0.9h-0.9zM415.0 5.2h0.9v0.9h-0.9zM369.0 74.3h0.9v0.9h-0.9zM423.8 23.4h0.9v0.9h-0.9zM393.4 97.2h0.9v0.9h-0.9zM403.0 76.6h0.9v0.9h-0.9zM406.9 27.3h0.9v0.9h-0.9zM452.5 12.5h0.9v0.9h-0.9zM389.1 60.0h0.9v0.9h-0.9zM394.6 68.3h0.9v0.9h-0.9zM380.7 93.3h0.9v0.9h-0.9zM403.5 49.3h0.9v0.9h-0.9zM398.9 54.7h0.9v0.9h-0.9zM387.9 51.5h0.9v0.9h-0.9zM401.3 33.5h0.9v0.9h-0.9zM402.6 62.5h0.9v0.9h-0.9zM394.8 93.8h0.9v0.9h-0.9zM396.4 49.4h0.9v0.9h-0.9zM409.0 53.7h0.9v0.9h-0.9zM371.7 69.2h0.9v0.9h-0.9zM400.9 39.1h0.9v0.9h-0.9zM414.5 11.9h0.9v0.9h-0.9zM390.5 82.5h0.9v0.9h-0.9zM438.3 56.0h0.9v0.9h-0.9zM379.1 57.4h0.9v0.9h-0.9zM428.5 32.8h0.9v0.9h-0.9zM411.6 9.6h0.9v0.9h-0.9zM376.6 101.6h0.9v0.9h-0.9zM385.7 78.2h0.9v0.9h-0.9zM385.1 58.6h0.9v0.9h-0.9zM396.4 9.2h0.9v0.9h-0.9zM400.0 59.3h0.9v0.9h-0.9zM391.6 66.8h0.9v0.9h-0.9zM403.3 35.0h0.9v0.9h-0.9zM410.0 41.3h0.9v0.9h-0.9zM411.3 17.8h0.9v0.9h-0.9zM452.2 47.0h0.9v0.9h-0.9zM449.6 21.9h0.9v0.9h-0.9zM422.8 29.2h0.9v0.9h-0.9zM383.4 68.5h0.9v0.9h-0.9zM389.3 96.6h0.9v0.9h-0.9zM405.4 24.7h0.9v0.9h-0.9zM400.4 51.4h0.9v0.9h-0.9zM389.6 48.5h0.9v0.9h-0.9zM415.3 28.5h0.9v0.9h-0.9zM386.1 77.4h0.9v0.9h-0.9zM400.7 99.3h0.9v0.9h-0.9zM382.5 104.1h0.9v0.9h-0.9zM405.3 46.4h0.9v0.9h-0.9zM378.7 106.0h0.9v0.9h-0.9zM435.5 27.3h0.9v0.9h-0.9zM412.9 40.8h0.9v0.9h-0.9zM397.6 71.9h0.9v0.9h-0.9zM381.2 75.5h0.9v0.9h-0.9zM396.8 80.4h0.9v0.9h-0.9zM485.2 30.4h0.9v0.9h-0.9zM389.4 58.4h0.9v0.9h-0.9zM443.9 43.7h0.9v0.9h-0.9zM389.2 43.2h0.9v0.9h-0.9zM395.9 68.1h0.9v0.9h-0.9zM386.3 73.1h0.9v0.9h-0.9zM409.5 39.8h0.9v0.9h-0.9zM438.0 17.1h0.9v0.9h-0.9zM439.0 14.2h0.9v0.9h-0.9zM435.3 38.5h0.9v0.9h-0.9zM380.5 76.2h0.9v0.9h-0.9zM365.7 65.1h0.9v0.9h-0.9zM438.8 8.2h0.9v0.9h-0.9zM408.1 42.6h0.9v0.9h-0.9zM379.4 71.5h0.9v0.9h-0.9zM378.4 82.4h0.9v0.9h-0.9zM392.8 37.1h0.9v0.9h-0.9zM397.5 27.5h0.9v0.9h-0.9zM386.7 97.7h0.9v0.9h-0.9zM392.7 40.7h0.9v0.9h-0.9zM402.1 66.9h0.9v0.9h-0.9zM402.5 35.9h0.9v0.9h-0.9zM394.2 60.8h0.9v0.9h-0.9zM387.5 91.1h0.9v0.9h-0.9zM384.5 32.4h0.9v0.9h-0.9zM420.6 40.4h0.9v0.9h-0.9zM411.4 41.2h0.9v0.9h-0.9zM380.6 96.2h0.9v0.9h-0.9zM412.9 35.1h0.9v0.9h-0.9zM425.9 22.0h0.9v0.9h-0.9zM401.4 58.8h0.9v0.9h-0.9zM401.2 56.3h0.9v0.9h-0.9zM420.3 31.3h0.9v0.9h-0.9zM422.2 14.5h0.9v0.9h-0.9zM376.3 65.1h0.9v0.9h-0.9zM372.9 96.1h0.9v0.9h-0.9zM398.3 24.7h0.9v0.9h-0.9zM408.4 6.3h0.9v0.9h-0.9zM379.3 49.5h0.9v0.9h-0.9zM421.6 27.8h0.9v0.9h-0.9zM407.0 32.7h0.9v0.9h-0.9zM407.2 43.8h0.9v0.9h-0.9zM373.7 77.9h0.9v0.9h-0.9zM403.4 40.8h0.9v0.9h-0.9zM397.5 20.6h0.9v0.9h-0.9zM418.8 36.9h0.9v0.9h-0.9zM382.3 62.5h0.9v0.9h-0.9zM419.1 14.9h0.9v0.9h-0.9zM385.9 50.9h0.9v0.9h-0.9zM383.3 11.0h0.9v0.9h-0.9zM389.1 23.2h0.9v0.9h-0.9zM382.1 94.2h0.9v0.9h-0.9zM392.2 84.3h0.9v0.9h-0.9zM377.0 89.8h0.9v0.9h-0.9zM440.0 5.3h0.9v0.9h-0.9zM408.4 14.1h0.9v0.9h-0.9zM429.6 16.6h0.9v0.9h-0.9zM404.3 49.8h0.9v0.9h-0.9zM405.6 58.9h0.9v0.9h-0.9zM387.1 42.4h0.9v0.9h-0.9zM417.2 60.4h0.9v0.9h-0.9zM410.1 10.1h0.9v0.9h-0.9zM390.6 40.7h0.9v0.9h-0.9zM376.5 79.9h0.9v0.9h-0.9zM390.9 49.4h0.9v0.9h-0.9zM410.9 14.9h0.9v0.9h-0.9zM400.4 31.4h0.9v0.9h-0.9zM403.9 35.4h0.9v0.9h-0.9zM402.7 52.1h0.9v0.9h-0.9zM426.9 32.6h0.9v0.9h-0.9zM393.3 61.9h0.9v0.9h-0.9zM412.4 18.3h0.9v0.9h-0.9zM423.3 11.4h0.9v0.9h-0.9zM390.3 75.5h0.9v0.9h-0.9zM391.8 43.9h0.9v0.9h-0.9zM419.3 12.0h0.9v0.9h-0.9zM390.4 66.5h0.9v0.9h-0.9zM397.4 43.6h0.9v0.9h-0.9zM426.7 45.0h0.9v0.9h-0.9zM403.4 63.0h0.9v0.9h-0.9zM401.5 50.8h0.9v0.9h-0.9zM387.8 50.8h0.9v0.9h-0.9zM387.4 108.8h0.9v0.9h-0.9zM421.4 14.8h0.9v0.9h-0.9zM387.2 111.3h0.9v0.9h-0.9zM467.5 72.6h0.9v0.9h-0.9zM378.9 91.1h0.9v0.9h-0.9zM377.8 89.5h0.9v0.9h-0.9zM400.7 64.7h0.9v0.9h-0.9zM397.7 46.6h0.9v0.9h-0.9zM415.1 38.6h0.9v0.9h-0.9zM362.0 78.3h0.9v0.9h-0.9zM397.8 52.0h0.9v0.9h-0.9zM370.2 98.8h0.9v0.9h-0.9zM472.5 61.1h0.9v0.9h-0.9zM400.2 61.8h0.9v0.9h-0.9zM409.5 31.3h0.9v0.9h-0.9zM393.4 28.0h0.9v0.9h-0.9zM387.2 52.0h0.9v0.9h-0.9zM439.6 25.5h0.9v0.9h-0.9zM381.0 53.8h0.9v0.9h-0.9zM403.9 62.0h0.9v0.9h-0.9zM398.7 24.4h0.9v0.9h-0.9zM434.9 63.0h0.9v0.9h-0.9zM401.6 46.4h0.9v0.9h-0.9zM382.0 56.5h0.9v0.9h-0.9zM369.6 102.6h0.9v0.9h-0.9zM392.3 91.7h0.9v0.9h-0.9zM424.4 32.0h0.9v0.9h-0.9zM412.0 43.0h0.9v0.9h-0.9zM460.4 30.3h0.9v0.9h-0.9zM390.5 62.9h0.9v0.9h-0.9zM381.7 103.7h0.9v0.9h-0.9zM460.0 11.5h0.9v0.9h-0.9zM404.9 28.2h0.9v0.9h-0.9zM395.4 32.5h0.9v0.9h-0.9zM420.2 39.2h0.9v0.9h-0.9zM418.4 20.2h0.9v0.9h-0.9zM392.4 79.9h0.9v0.9h-0.9zM412.9 13.7h0.9v0.9h-0.9zM389.2 81.5h0.9v0.9h-0.9zM441.0 38.6h0.9v0.9h-0.9zM385.7 49.8h0.9v0.9h-0.9zM397.9 53.3h0.9v0.9h-0.9zM418.1 105.6h0.9v0.9h-0.9zM401.7 33.8h0.9v0.9h-0.9zM380.3 77.4h0.9v0.9h-0.9zM387.9 80.4h0.9v0.9h-0.9zM418.1 52.6h0.9v0.9h-0.9zM474.7 36.4h0.9v0.9h-0.9zM376.1 100.4h0.9v0.9h-0.9zM383.3 72.3h0.9v0.9h-0.9zM376.6 78.7h0.9v0.9h-0.9zM414.0 9.9h0.9v0.9h-0.9zM378.7 104.9h0.9v0.9h-0.9zM383.7 99.5h0.9v0.9h-0.9zM387.5 109.3h0.9v0.9h-0.9zM459.4 24.8h0.9v0.9h-0.9zM425.7 11.1h0.9v0.9h-0.9zM418.3 13.5h0.9v0.9h-0.9zM375.4 72.8h0.9v0.9h-0.9zM376.1 101.5h0.9v0.9h-0.9zM407.5 31.0h0.9v0.9h-0.9zM402.3 26.0h0.9v0.9h-0.9zM391.9 110.9h0.9v0.9h-0.9zM391.4 50.9h0.9v0.9h-0.9zM379.5 104.1h0.9v0.9h-0.9zM395.2 67.5h0.9v0.9h-0.9zM412.7 90.2h0.9v0.9h-0.9zM396.0 9.6h0.9v0.9h-0.9zM382.4 88.6h0.9v0.9h-0.9zM394.8 53.7h0.9v0.9h-0.9zM394.1 33.6h0.9v0.9h-0.9zM423.5 99.8h0.9v0.9h-0.9zM382.9 111.2h0.9v0.9h-0.9zM449.1 44.2h0.9v0.9h-0.9zM396.5 39.4h0.9v0.9h-0.9zM377.0 79.6h0.9v0.9h-0.9zM443.9 25.3h0.9v0.9h-0.9zM388.4 59.6h0.9v0.9h-0.9zM430.8 51.8h0.9v0.9h-0.9zM397.3 48.7h0.9v0.9h-0.9zM392.9 91.1h0.9v0.9h-0.9zM376.0 88.1h0.9v0.9h-0.9zM386.4 79.2h0.9v0.9h-0.9zM434.0 10.8h0.9v0.9h-0.9zM448.0 93.0h0.9v0.9h-0.9zM396.4 66.9h0.9v0.9h-0.9zM404.5 53.8h0.9v0.9h-0.9zM384.8 55.0h0.9v0.9h-0.9zM405.4 63.4h0.9v0.9h-0.9zM379.3 112.1h0.9v0.9h-0.9zM389.2 40.3h0.9v0.9h-0.9zM405.0 107.9h0.9v0.9h-0.9zM422.6 47.8h0.9v0.9h-0.9zM410.3 16.9h0.9v0.9h-0.9zM386.5 94.9h0.9v0.9h-0.9zM461.9 53.3h0.9v0.9h-0.9zM374.2 75.0h0.9v0.9h-0.9zM401.8 13.8h0.9v0.9h-0.9zM398.2 17.8h0.9v0.9h-0.9zM403.0 62.7h0.9v0.9h-0.9zM430.5 75.8h0.9v0.9h-0.9zM381.1 90.3h0.9v0.9h-0.9zM404.4 15.0h0.9v0.9h-0.9zM370.8 53.4h0.9v0.9h-0.9zM397.4 26.5h0.9v0.9h-0.9zM393.9 67.8h0.9v0.9h-0.9zM411.0 15.7h0.9v0.9h-0.9zM370.9 93.0h0.9v0.9h-0.9zM391.8 87.1h0.9v0.9h-0.9zM390.4 34.9h0.9v0.9h-0.9zM401.4 29.0h0.9v0.9h-0.9zM391.7 69.2h0.9v0.9h-0.9zM384.8 97.1h0.9v0.9h-0.9zM412.3 48.9h0.9v0.9h-0.9zM385.2 99.0h0.9v0.9h-0.9zM384.8 70.8h0.9v0.9h-0.9zM432.5 59.0h0.9v0.9h-0.9zM413.8 46.1h0.9v0.9h-0.9zM404.5 37.0h0.9v0.9h-0.9zM384.8 59.5h0.9v0.9h-0.9zM382.4 59.9h0.9v0.9h-0.9zM410.7 19.2h0.9v0.9h-0.9zM411.2 62.8h0.9v0.9h-0.9zM403.9 51.1h0.9v0.9h-0.9zM396.1 36.4h0.9v0.9h-0.9zM375.5 85.3h0.9v0.9h-0.9zM380.4 87.4h0.9v0.9h-0.9zM441.8 42.2h0.9v0.9h-0.9zM383.8 109.3h0.9v0.9h-0.9zM421.5 24.6h0.9v0.9h-0.9zM381.2 105.2h0.9v0.9h-0.9zM469.0 50.6h0.9v0.9h-0.9zM393.9 50.4h0.9v0.9h-0.9zM413.3 49.6h0.9v0.9h-0.9zM376.7 80.9h0.9v0.9h-0.9zM419.3 30.0h0.9v0.9h-0.9zM374.6 71.0h0.9v0.9h-0.9zM408.0 54.6h0.9v0.9h-0.9zM411.2 52.1h0.9v0.9h-0.9zM388.3 111.3h0.9v0.9h-0.9zM436.2 39.6h0.9v0.9h-0.9zM404.5 50.4h0.9v0.9h-0.9zM391.3 45.0h0.9v0.9h-0.9zM406.8 51.8h0.9v0.9h-0.9zM403.4 18.4h0.9v0.9h-0.9zM421.8 25.4h0.9v0.9h-0.9zM403.9 59.3h0.9v0.9h-0.9zM387.6 44.7h0.9v0.9h-0.9zM403.7 20.8h0.9v0.9h-0.9zM408.7 20.7h0.9v0.9h-0.9zM396.6 50.3h0.9v0.9h-0.9zM396.7 61.0h0.9v0.9h-0.9zM390.5 64.1h0.9v0.9h-0.9zM423.1 43.7h0.9v0.9h-0.9zM383.1 71.6h0.9v0.9h-0.9zM399.1 18.9h0.9v0.9h-0.9zM415.4 49.3h0.9v0.9h-0.9zM409.6 26.2h0.9v0.9h-0.9zM410.3 28.8h0.9v0.9h-0.9zM386.7 64.1h0.9v0.9h-0.9zM433.0 28.3h0.9v0.9h-0.9zM409.6 5.4h0.9v0.9h-0.9zM397.4 56.4h0.9v0.9h-0.9zM396.7 27.2h0.9v0.9h-0.9zM376.2 73.5h0.9v0.9h-0.9zM372.7 110.4h0.9v0.9h-0.9zM377.0 89.2h0.9v0.9h-0.9zM397.4 91.3h0.9v0.9h-0.9zM385.0 18.5h0.9v0.9h-0.9zM370.2 67.0h0.9v0.9h-0.9zM402.3 40.1h0.9v0.9h-0.9zM374.3 70.4h0.9v0.9h-0.9zM422.6 56.4h0.9v0.9h-0.9zM359.4 84.5h0.9v0.9h-0.9zM385.9 63.5h0.9v0.9h-0.9zM376.0 86.2h0.9v0.9h-0.9zM399.9 39.9h0.9v0.9h-0.9zM422.3 70.9h0.9v0.9h-0.9zM391.6 66.7h0.9v0.9h-0.9zM374.1 59.4h0.9v0.9h-0.9zM415.8 29.0h0.9v0.9h-0.9zM395.9 36.6h0.9v0.9h-0.9zM383.5 83.0h0.9v0.9h-0.9zM416.4 19.5h0.9v0.9h-0.9zM405.9 20.3h0.9v0.9h-0.9zM383.4 89.1h0.9v0.9h-0.9zM409.7 37.5h0.9v0.9h-0.9zM432.4 27.3h0.9v0.9h-0.9zM377.8 105.2h0.9v0.9h-0.9zM383.4 89.9h0.9v0.9h-0.9zM409.8 12.4h0.9v0.9h-0.9zM384.0 62.5h0.9v0.9h-0.9zM384.5 110.6h0.9v0.9h-0.9zM416.3 26.2h0.9v0.9h-0.9zM431.8 53.7h0.9v0.9h-0.9zM393.3 105.6h0.9v0.9h-0.9zM385.4 66.2h0.9v0.9h-0.9zM432.5 54.1h0.9v0.9h-0.9zM389.1 70.1h0.9v0.9h-0.9zM376.3 43.7h0.9v0.9h-0.9zM383.8 85.4h0.9v0.9h-0.9zM425.6 9.9h0.9v0.9h-0.9zM390.6 95.8h0.9v0.9h-0.9zM411.2 52.3h0.9v0.9h-0.9zM384.9 68.0h0.9v0.9h-0.9zM403.8 49.7h0.9v0.9h-0.9zM388.5 68.3h0.9v0.9h-0.9zM378.8 102.5h0.9v0.9h-0.9zM382.1 102.6h0.9v0.9h-0.9zM374.4 67.5h0.9v0.9h-0.9zM379.2 42.2h0.9v0.9h-0.9zM381.9 87.0h0.9v0.9h-0.9zM373.5 91.5h0.9v0.9h-0.9zM386.2 54.1h0.9v0.9h-0.9zM394.4 63.2h0.9v0.9h-0.9zM405.1 54.0h0.9v0.9h-0.9zM394.6 72.0h0.9v0.9h-0.9zM395.0 39.9h0.9v0.9h-0.9zM381.8 81.5h0.9v0.9h-0.9zM397.7 21.6h0.9v0.9h-0.9zM394.8 74.3h0.9v0.9h-0.9zM394.5 70.1h0.9v0.9h-0.9zM374.0 46.8h0.9v0.9h-0.9zM404.2 49.2h0.9v0.9h-0.9zM409.2 34.1h0.9v0.9h-0.9zM404.9 44.8h0.9v0.9h-0.9zM400.2 26.0h0.9v0.9h-0.9zM440.2 10.7h0.9v0.9h-0.9zM384.8 52.2h0.9v0.9h-0.9zM384.3 100.1h0.9v0.9h-0.9zM396.8 54.9h0.9v0.9h-0.9zM390.7 61.2h0.9v0.9h-0.9zM397.1 52.7h0.9v0.9h-0.9zM397.7 32.4h0.9v0.9h-0.9zM371.0 66.4h0.9v0.9h-0.9zM395.0 87.0h0.9v0.9h-0.9zM410.4 56.8h0.9v0.9h-0.9zM399.0 56.4h0.9v0.9h-0.9zM413.8 27.4h0.9v0.9h-0.9zM385.0 74.5h0.9v0.9h-0.9zM402.3 68.5h0.9v0.9h-0.9zM419.9 19.4h0.9v0.9h-0.9zM404.4 40.8h0.9v0.9h-0.9zM381.9 64.3h0.9v0.9h-0.9zM396.5 76.9h0.9v0.9h-0.9zM369.4 41.0h0.9v0.9h-0.9zM389.2 92.2h0.9v0.9h-0.9zM451.6 46.9h0.9v0.9h-0.9zM444.7 19.6h0.9v0.9h-0.9zM389.5 96.3h0.9v0.9h-0.9zM391.6 34.3h0.9v0.9h-0.9zM405.5 47.3h0.9v0.9h-0.9zM415.2 21.8h0.9v0.9h-0.9zM401.4 86.1h0.9v0.9h-0.9zM393.1 64.7h0.9v0.9h-0.9zM447.0 31.3h0.9v0.9h-0.9zM413.1 30.4h0.9v0.9h-0.9zM415.6 43.3h0.9v0.9h-0.9zM398.4 57.3h0.9v0.9h-0.9zM424.4 24.0h0.9v0.9h-0.9zM384.1 96.1h0.9v0.9h-0.9zM394.6 55.5h0.9v0.9h-0.9zM402.4 50.8h0.9v0.9h-0.9zM374.7 83.5h0.9v0.9h-0.9zM373.5 70.5h0.9v0.9h-0.9zM398.4 53.9h0.9v0.9h-0.9zM389.3 90.4h0.9v0.9h-0.9zM421.0 44.9h0.9v0.9h-0.9zM399.0 32.6h0.9v0.9h-0.9zM395.3 40.7h0.9v0.9h-0.9zM394.5 21.2h0.9v0.9h-0.9zM401.7 34.0h0.9v0.9h-0.9zM395.5 82.3h0.9v0.9h-0.9zM399.2 20.6h0.9v0.9h-0.9zM408.1 41.2h0.9v0.9h-0.9zM403.4 62.3h0.9v0.9h-0.9zM394.3 59.1h0.9v0.9h-0.9zM395.4 55.6h0.9v0.9h-0.9zM401.8 61.5h0.9v0.9h-0.9zM397.5 35.9h0.9v0.9h-0.9zM395.4 85.7h0.9v0.9h-0.9zM408.1 87.3h0.9v0.9h-0.9zM391.2 72.3h0.9v0.9h-0.9zM366.9 92.9h0.9v0.9h-0.9zM412.0 40.5h0.9v0.9h-0.9zM387.8 44.1h0.9v0.9h-0.9zM452.4 39.9h0.9v0.9h-0.9zM384.0 83.5h0.9v0.9h-0.9zM369.0 85.5h0.9v0.9h-0.9zM390.0 74.0h0.9v0.9h-0.9zM376.5 101.5h0.9v0.9h-0.9zM391.9 36.2h0.9v0.9h-0.9zM429.5 47.5h0.9v0.9h-0.9zM395.5 38.8h0.9v0.9h-0.9zM412.4 25.4h0.9v0.9h-0.9zM405.3 7.0h0.9v0.9h-0.9zM394.8 53.7h0.9v0.9h-0.9zM416.2 20.1h0.9v0.9h-0.9zM399.8 61.5h0.9v0.9h-0.9zM394.1 78.5h0.9v0.9h-0.9zM389.0 74.9h0.9v0.9h-0.9zM376.7 87.3h0.9v0.9h-0.9zM381.0 88.7h0.9v0.9h-0.9zM386.1 97.1h0.9v0.9h-0.9zM456.1 38.9h0.9v0.9h-0.9zM383.8 95.2h0.9v0.9h-0.9zM405.7 75.5h0.9v0.9h-0.9zM459.1 16.0h0.9v0.9h-0.9zM414.2 32.0h0.9v0.9h-0.9zM427.0 58.4h0.9v0.9h-0.9zM408.2 31.7h0.9v0.9h-0.9zM409.8 42.2h0.9v0.9h-0.9zM388.3 91.8h0.9v0.9h-0.9zM398.6 39.7h0.9v0.9h-0.9zM403.7 44.7h0.9v0.9h-0.9zM398.2 36.8h0.9v0.9h-0.9zM381.2 96.5h0.9v0.9h-0.9zM411.4 50.0h0.9v0.9h-0.9zM409.2 22.5h0.9v0.9h-0.9zM424.5 17.8h0.9v0.9h-0.9zM382.0 64.4h0.9v0.9h-0.9zM397.5 65.3h0.9v0.9h-0.9zM419.9 45.0h0.9v0.9h-0.9zM427.2 22.6h0.9v0.9h-0.9zM408.9 55.4h0.9v0.9h-0.9zM384.9 49.4h0.9v0.9h-0.9zM400.5 74.9h0.9v0.9h-0.9zM383.3 48.0h0.9v0.9h-0.9zM411.7 47.8h0.9v0.9h-0.9zM391.0 64.6h0.9v0.9h-0.9zM394.8 37.1h0.9v0.9h-0.9zM391.3 66.0h0.9v0.9h-0.9zM394.4 76.7h0.9v0.9h-0.9zM396.9 49.2h0.9v0.9h-0.9zM442.2 28.9h0.9v0.9h-0.9zM402.5 84.5h0.9v0.9h-0.9zM383.9 28.0h0.9v0.9h-0.9zM397.0 87.9h0.9v0.9h-0.9zM459.1 14.2h0.9v0.9h-0.9z" fill="#333"/>
<path d="M404.6 38.8h0.9v0.9h-0.9zM400.2 36.4h0.9v0.9h-0.9zM385.9 65.6h0.9v0.9h-0.9zM370.6 69.2h0.9v0.9h-0.9zM377.3 115.2h0.9v0.9h-0.9zM444.8 42.2h0.9v0.9h-0.9zM399.6 19.1h0.9v0.9h-0.9zM374.1 79.8h0.9v0.9h-0.9zM436.2 14.6h0.9v0.9h-0.9zM417.7 36.4h0.9v0.9h-0.9zM377.8 108.8h0.9v0.9h-0.9zM415.7 52.4h0.9v0.9h-0.9zM378.1 28.2h0.9v0.9h-0.9zM387.6 81.3h0.9v0.9h-0.9zM401.1 68.6h0.9v0.9h-0.9zM393.6 87.8h0.9v0.9h-0.9zM414.2 45.3h0.9v0.9h-0.9zM386.3 62.2h0.9v0.9h-0.9zM404.7 71.8h0.9v0.9h-0.9zM385.7 105.5h0.9v0.9h-0.9zM394.7 69.3h0.9v0.9h-0.9zM391.3 62.9h0.9v0.9h-0.9zM382.4 81.4h0.9v0.9h-0.9zM402.3 40.2h0.9v0.9h-0.9zM383.5 58.9h0.9v0.9h-0.9zM420.3 16.8h0.9v0.9h-0.9zM374.2 86.9h0.9v0.9h-0.9zM395.0 53.5h0.9v0.9h-0.9zM396.5 16.3h0.9v0.9h-0.9zM400.8 41.1h0.9v0.9h-0.9zM412.6 24.3h0.9v0.9h-0.9zM433.1 56.6h0.9v0.9h-0.9zM425.5 52.7h0.9v0.9h-0.9zM450.0 106.5h0.9v0.9h-0.9zM410.1 13.6h0.9v0.9h-0.9zM380.1 77.0h0.9v0.9h-0.9zM408.5 16.7h0.9v0.9h-0.9zM385.7 74.6h0.9v0.9h-0.9zM405.6 42.5h0.9v0.9h-0.9zM409.3 41.2h0.9v0.9h-0.9zM395.9 59.2h0.9v0.9h-0.9zM381.9 63.3h0.9v0.9h-0.9zM387.3 73.1h0.9v0.9h-0.9zM402.4 24.5h0.9v0.9h-0.9zM392.1 65.9h0.9v0.9h-0.9zM386.2 52.5h0.9v0.9h-0.9zM412.6 10.1h0.9v0.9h-0.9zM389.4 14.8h0.9v0.9h-0.9zM380.4 83.7h0.9v0.9h-0.9zM417.3 16.4h0.9v0.9h-0.9zM382.6 74.5h0.9v0.9h-0.9zM381.0 58.6h0.9v0.9h-0.9zM404.6 28.5h0.9v0.9h-0.9zM392.8 84.9h0.9v0.9h-0.9zM451.6 60.8h0.9v0.9h-0.9zM388.3 43.7h0.9v0.9h-0.9zM414.7 40.4h0.9v0.9h-0.9zM390.7 76.2h0.9v0.9h-0.9zM387.4 105.9h0.9v0.9h-0.9zM396.5 53.8h0.9v0.9h-0.9zM402.9 17.2h0.9v0.9h-0.9zM396.7 73.0h0.9v0.9h-0.9zM393.8 100.3h0.9v0.9h-0.9zM375.4 89.0h0.9v0.9h-0.9zM389.9 48.9h0.9v0.9h-0.9zM412.2 4.9h0.9v0.9h-0.9zM460.8 53.3h0.9v0.9h-0.9zM405.1 67.9h0.9v0.9h-0.9zM435.9 8.5h0.9v0.9h-0.9zM388.4 65.1h0.9v0.9h-0.9zM421.2 23.5h0.9v0.9h-0.9zM385.6 67.6h0.9v0.9h-0.9zM415.5 11.7h0.9v0.9h-0.9zM402.7 30.5h0.9v0.9h-0.9zM400.7 48.9h0.9v0.9h-0.9zM391.9 25.4h0.9v0.9h-0.9zM413.6 25.0h0.9v0.9h-0.9zM382.0 107.1h0.9v0.9h-0.9zM375.7 92.7h0.9v0.9h-0.9zM403.0 26.1h0.9v0.9h-0.9zM417.1 34.4h0.9v0.9h-0.9zM371.2 113.6h0.9v0.9h-0.9zM379.7 103.1h0.9v0.9h-0.9zM393.2 26.3h0.9v0.9h-0.9zM394.8 50.7h0.9v0.9h-0.9zM413.2 76.6h0.9v0.9h-0.9zM371.8 104.4h0.9v0.9h-0.9zM378.3 87.8h0.9v0.9h-0.9zM403.9 90.2h0.9v0.9h-0.9zM393.3 63.1h0.9v0.9h-0.9zM405.5 55.2h0.9v0.9h-0.9zM404.4 57.6h0.9v0.9h-0.9zM394.1 48.4h0.9v0.9h-0.9zM399.5 72.7h0.9v0.9h-0.9zM395.6 74.5h0.9v0.9h-0.9zM386.6 83.1h0.9v0.9h-0.9zM393.9 38.5h0.9v0.9h-0.9zM394.9 28.0h0.9v0.9h-0.9zM376.5 108.9h0.9v0.9h-0.9zM394.7 56.3h0.9v0.9h-0.9zM384.4 81.6h0.9v0.9h-0.9zM408.1 50.0h0.9v0.9h-0.9zM393.3 19.4h0.9v0.9h-0.9zM403.8 49.3h0.9v0.9h-0.9zM374.0 102.1h0.9v0.9h-0.9zM387.5 80.9h0.9v0.9h-0.9zM418.9 11.0h0.9v0.9h-0.9zM420.8 20.6h0.9v0.9h-0.9zM420.5 6.3h0.9v0.9h-0.9zM395.3 34.3h0.9v0.9h-0.9zM409.6 46.1h0.9v0.9h-0.9zM388.7 71.7h0.9v0.9h-0.9zM422.5 6.9h0.9v0.9h-0.9zM442.9 13.6h0.9v0.9h-0.9zM422.8 71.5h0.9v0.9h-0.9zM388.5 91.0h0.9v0.9h-0.9zM386.5 54.3h0.9v0.9h-0.9zM406.9 59.9h0.9v0.9h-0.9zM410.7 53.6h0.9v0.9h-0.9zM426.5 39.0h0.9v0.9h-0.9zM376.6 98.1h0.9v0.9h-0.9zM395.8 34.5h0.9v0.9h-0.9zM400.9 49.9h0.9v0.9h-0.9zM381.3 76.3h0.9v0.9h-0.9zM397.7 23.0h0.9v0.9h-0.9zM386.9 83.8h0.9v0.9h-0.9zM406.1 37.4h0.9v0.9h-0.9zM438.9 60.5h0.9v0.9h-0.9zM386.8 73.0h0.9v0.9h-0.9zM389.3 54.9h0.9v0.9h-0.9zM390.2 32.5h0.9v0.9h-0.9zM432.2 64.2h0.9v0.9h-0.9zM405.3 49.6h0.9v0.9h-0.9zM393.7 62.5h0.9v0.9h-0.9zM398.2 68.3h0.9v0.9h-0.9zM403.6 55.8h0.9v0.9h-0.9zM417.9 19.4h0.9v0.9h-0.9zM384.0 79.0h0.9v0.9h-0.9zM379.7 102.3h0.9v0.9h-0.9zM405.7 63.6h0.9v0.9h-0.9zM402.0 47.3h0.9v0.9h-0.9zM402.5 50.3h0.9v0.9h-0.9zM390.0 55.2h0.9v0.9h-0.9zM443.5 37.8h0.9v0.9h-0.9zM398.2 54.4h0.9v0.9h-0.9zM380.1 61.4h0.9v0.9h-0.9zM397.6 71.0h0.9v0.9h-0.9zM396.6 71.9h0.9v0.9h-0.9zM420.1 44.0h0.9v0.9h-0.9zM381.9 85.2h0.9v0.9h-0.9zM391.1 56.5h0.9v0.9h-0.9zM413.4 56.2h0.9v0.9h-0.9zM389.1 95.7h0.9v0.9h-0.9zM401.1 59.3h0.9v0.9h-0.9zM454.3 9.8h0.9v0.9h-0.9zM449.1 45.9h0.9v0.9h-0.9zM374.2 90.9h0.9v0.9h-0.9zM397.1 80.4h0.9v0.9h-0.9zM379.2 102.9h0.9v0.9h-0.9zM374.5 63.2h0.9v0.9h-0.9zM395.2 71.7h0.9v0.9h-0.9zM375.3 69.7h0.9v0.9h-0.9zM376.3 58.0h0.9v0.9h-0.9zM395.0 31.8h0.9v0.9h-0.9zM401.4 17.5h0.9v0.9h-0.9zM375.9 68.8h0.9v0.9h-0.9zM394.4 43.2h0.9v0.9h-0.9zM417.2 29.4h0.9v0.9h-0.9zM394.7 42.7h0.9v0.9h-0.9zM385.4 95.1h0.9v0.9h-0.9zM405.1 40.6h0.9v0.9h-0.9zM422.8 13.0h0.9v0.9h-0.9zM388.7 76.9h0.9v0.9h-0.9zM377.6 65.0h0.9v0.9h-0.9zM376.9 100.9h0.9v0.9h-0.9zM389.8 49.8h0.9v0.9h-0.9zM422.9 47.5h0.9v0.9h-0.9zM387.5 62.5h0.9v0.9h-0.9zM431.0 55.5h0.9v0.9h-0.9zM402.1 81.4h0.9v0.9h-0.9zM406.8 28.3h0.9v0.9h-0.9zM379.6 67.3h0.9v0.9h-0.9zM380.4 96.0h0.9v0.9h-0.9zM397.9 62.2h0.9v0.9h-0.9zM383.2 90.4h0.9v0.9h-0.9zM386.5 55.3h0.9v0.9h-0.9zM408.2 17.6h0.9v0.9h-0.9zM432.8 31.7h0.9v0.9h-0.9zM384.1 69.4h0.9v0.9h-0.9zM413.3 21.1h0.9v0.9h-0.9zM412.4 32.4h0.9v0.9h-0.9zM411.2 22.9h0.9v0.9h-0.9zM389.6 75.6h0.9v0.9h-0.9zM386.2 74.4h0.9v0.9h-0.9zM452.0 16.2h0.9v0.9h-0.9zM383.7 57.8h0.9v0.9h-0.9zM426.5 7.6h0.9v0.9h-0.9zM399.1 60.8h0.9v0.9h-0.9zM384.7 87.7h0.9v0.9h-0.9zM401.2 62.6h0.9v0.9h-0.9zM380.3 97.6h0.9v0.9h-0.9zM405.2 41.1h0.9v0.9h-0.9zM383.8 84.1h0.9v0.9h-0.9zM392.8 26.6h0.9v0.9h-0.9zM439.5 19.5h0.9v0.9h-0.9zM379.3 86.4h0.9v0.9h-0.9zM394.9 64.6h0.9v0.9h-0.9zM394.5 66.2h0.9v0.9h-0.9zM435.9 15.0h0.9v0.9h-0.9zM372.6 85.4h0.9v0.9h-0.9zM426.4 9.4h0.9v0.9h-0.9zM398.8 31.0h0.9v0.9h-0.9zM433.2 81.7h0.9v0.9h-0.9zM384.9 107.6h0.9v0.9h-0.9zM374.3 107.2h0.9v0.9h-0.9zM416.8 28.5h0.9v0.9h-0.9zM403.4 40.6h0.9v0.9h-0.9zM381.6 67.2h0.9v0.9h-0.9zM412.8 20.3h0.9v0.9h-0.9zM422.4 22.0h0.9v0.9h-0.9zM401.9 65.3h0.9v0.9h-0.9zM401.1 50.4h0.9v0.9h-0.9zM363.2 73.0h0.9v0.9h-0.9zM373.5 104.6h0.9v0.9h-0.9zM369.6 88.3h0.9v0.9h-0.9zM410.5 30.4h0.9v0.9h-0.9zM423.1 9.8h0.9v0.9h-0.9zM404.4 68.8h0.9v0.9h-0.9zM415.4 32.2h0.9v0.9h-0.9zM404.6 14.1h0.9v0.9h-0.9zM442.6 38.2h0.9v0.9h-0.9zM386.7 66.5h0.9v0.9h-0.9zM423.0 21.5h0.9v0.9h-0.9zM393.4 37.9h0.9v0.9h-0.9zM384.5 68.8h0.9v0.9h-0.9zM384.4 40.4h0.9v0.9h-0.9zM396.7 70.2h0.9v0.9h-0.9zM402.2 52.1h0.9v0.9h-0.9zM396.5 36.6h0.9v0.9h-0.9zM388.5 78.8h0.9v0.9h-0.9zM408.8 42.2h0.9v0.9h-0.9zM418.3 19.6h0.9v0.9h-0.9zM381.6 83.5h0.9v0.9h-0.9zM393.6 46.4h0.9v0.9h-0.9zM445.1 14.9h0.9v0.9h-0.9zM403.3 22.7h0.9v0.9h-0.9zM374.7 86.1h0.9v0.9h-0.9zM383.7 75.3h0.9v0.9h-0.9zM386.9 79.0h0.9v0.9h-0.9zM373.3 65.4h0.9v0.9h-0.9zM402.2 54.1h0.9v0.9h-0.9zM424.2 60.5h0.9v0.9h-0.9zM405.6 49.6h0.9v0.9h-0.9zM390.5 74.8h0.9v0.9h-0.9zM370.3 77.9h0.9v0.9h-0.9zM420.6 33.2h0.9v0.9h-0.9zM400.5 20.4h0.9v0.9h-0.9zM451.8 11.0h0.9v0.9h-0.9zM412.3 38.4h0.9v0.9h-0.9zM375.9 104.3h0.9v0.9h-0.9zM430.3 12.9h0.9v0.9h-0.9zM402.5 22.0h0.9v0.9h-0.9zM403.6 35.5h0.9v0.9h-0.9zM400.5 21.1h0.9v0.9h-0.9zM407.2 51.9h0.9v0.9h-0.9zM401.8 54.9h0.9v0.9h-0.9zM406.0 62.0h0.9v0.9h-0.9zM381.7 85.3h0.9v0.9h-0.9zM361.2 111.4h0.9v0.9h-0.9zM398.6 56.2h0.9v0.9h-0.9zM425.9 11.0h0.9v0.9h-0.9zM378.2 69.7h0.9v0.9h-0.9zM405.9 25.1h0.9v0.9h-0.9zM439.3 25.2h0.9v0.9h-0.9zM398.9 40.0h0.9v0.9h-0.9zM387.6 71.1h0.9v0.9h-0.9zM376.1 88.4h0.9v0.9h-0.9zM384.0 87.9h0.9v0.9h-0.9zM385.0 69.1h0.9v0.9h-0.9zM411.3 15.8h0.9v0.9h-0.9zM430.4 33.4h0.9v0.9h-0.9zM412.2 36.6h0.9v0.9h-0.9zM397.3 46.9h0.9v0.9h-0.9zM377.1 22.6h0.9v0.9h-0.9zM405.7 71.5h0.9v0.9h-0.9zM424.2 10.0h0.9v0.9h-0.9zM393.5 56.2h0.9v0.9h-0.9zM392.5 52.5h0.9v0.9h-0.9zM405.4 27.0h0.9v0.9h-0.9zM391.2 80.4h0.9v0.9h-0.9zM389.1 41.2h0.9v0.9h-0.9zM386.9 89.3h0.9v0.9h-0.9zM400.2 33.2h0.9v0.9h-0.9zM384.0 78.3h0.9v0.9h-0.9zM402.2 44.1h0.9v0.9h-0.9zM382.3 62.5h0.9v0.9h-0.9zM401.0 64.6h0.9v0.9h-0.9zM383.8 60.8h0.9v0.9h-0.9zM399.3 45.3h0.9v0.9h-0.9zM412.7 38.8h0.9v0.9h-0.9zM387.7 95.2h0.9v0.9h-0.9zM409.6 16.4h0.9v0.9h-0.9zM393.3 16.3h0.9v0.9h-0.9zM383.7 59.3h0.9v0.9h-0.9zM392.8 35.9h0.9v0.9h-0.9zM381.2 76.9h0.9v0.9h-0.9zM401.8 8.9h0.9v0.9h-0.9zM402.7 51.0h0.9v0.9h-0.9zM407.1 38.2h0.9v0.9h-0.9zM436.6 48.3h0.9v0.9h-0.9zM439.6 16.9h0.9v0.9h-0.9zM411.5 68.8h0.9v0.9h-0.9zM379.9 96.2h0.9v0.9h-0.9zM424.3 19.8h0.9v0.9h-0.9zM427.1 31.5h0.9v0.9h-0.9zM387.3 94.1h0.9v0.9h-0.9zM384.0 88.4h0.9v0.9h-0.9zM400.2 33.1h0.9v0.9h-0.9zM428.8 59.6h0.9v0.9h-0.9zM386.2 98.9h0.9v0.9h-0.9zM401.3 59.2h0.9v0.9h-0.9zM393.5 59.1h0.9v0.9h-0.9zM397.0 62.7h0.9v0.9h-0.9zM413.6 107.0h0.9v0.9h-0.9zM406.1 34.7h0.9v0.9h-0.9zM397.7 32.6h0.9v0.9h-0.9zM374.2 103.2h0.9v0.9h-0.9zM378.8 70.0h0.9v0.9h-0.9zM424.1 34.3h0.9v0.9h-0.9zM408.4 46.8h0.9v0.9h-0.9zM396.7 20.2h0.9v0.9h-0.9zM413.0 14.0h0.9v0.9h-0.9zM405.9 58.5h0.9v0.9h-0.9zM386.6 43.1h0.9v0.9h-0.9zM382.9 70.7h0.9v0.9h-0.9zM405.5 42.6h0.9v0.9h-0.9zM388.0 75.8h0.9v0.9h-0.9zM414.1 51.2h0.9v0.9h-0.9zM400.8 61.4h0.9v0.9h-0.9zM400.7 64.5h0.9v0.9h-0.9zM388.8 44.8h0.9v0.9h-0.9zM396.8 27.8h0.9v0.9h-0.9zM396.4 75.1h0.9v0.9h-0.9zM391.4 80.1h0.9v0.9h-0.9zM449.9 52.1h0.9v0.9h-0.9zM388.9 64.8h0.9v0.9h-0.9zM393.9 38.3h0.9v0.9h-0.9zM381.9 76.3h0.9v0.9h-0.9zM380.9 98.0h0.9v0.9h-0.9zM402.2 50.9h0.9v0.9h-0.9zM409.6 51.1h0.9v0.9h-0.9zM388.9 99.7h0.9v0.9h-0.9zM388.0 78.0h0.9v0.9h-0.9zM414.8 48.2h0.9v0.9h-0.9zM380.0 102.0h0.9v0.9h-0.9zM482.0 34.1h0.9v0.9h-0.9zM417.2 8.2h0.9v0.9h-0.9zM410.9 5.6h0.9v0.9h-0.9zM397.5 36.5h0.9v0.9h-0.9zM383.6 102.5h0.9v0.9h-0.9zM438.4 34.6h0.9v0.9h-0.9zM431.9 46.0h0.9v0.9h-0.9zM399.2 15.2h0.9v0.9h-0.9zM419.8 42.6h0.9v0.9h-0.9zM411.6 34.5h0.9v0.9h-0.9zM392.3 78.6h0.9v0.9h-0.9zM419.5 44.1h0.9v0.9h-0.9zM413.8 20.2h0.9v0.9h-0.9zM397.5 80.9h0.9v0.9h-0.9zM404.1 21.9h0.9v0.9h-0.9zM417.7 48.2h0.9v0.9h-0.9zM383.6 95.2h0.9v0.9h-0.9zM364.2 93.0h0.9v0.9h-0.9zM401.7 56.0h0.9v0.9h-0.9zM387.7 97.2h0.9v0.9h-0.9zM379.9 75.0h0.9v0.9h-0.9zM417.6 44.2h0.9v0.9h-0.9zM402.2 53.7h0.9v0.9h-0.9zM418.0 68.2h0.9v0.9h-0.9zM378.7 72.0h0.9v0.9h-0.9zM409.9 55.3h0.9v0.9h-0.9zM390.9 36.5h0.9v0.9h-0.9zM400.7 46.1h0.9v0.9h-0.9zM402.2 25.0h0.9v0.9h-0.9zM408.8 32.8h0.9v0.9h-0.9zM391.5 50.2h0.9v0.9h-0.9zM404.4 50.4h0.9v0.9h-0.9zM395.5 46.9h0.9v0.9h-0.9zM374.9 85.9h0.9v0.9h-0.9zM399.0 27.3h0.9v0.9h-0.9zM390.6 34.2h0.9v0.9h-0.9zM388.5 62.2h0.9v0.9h-0.9zM408.7 36.5h0.9v0.9h-0.9zM376.8 102.5h0.9v0.9h-0.9zM373.4 90.8h0.9v0.9h-0.9zM406.0 46.8h0.9v0.9h-0.9zM410.2 24.6h0.9v0.9h-0.9zM383.8 104.4h0.9v0.9h-0.9zM381.2 55.0h0.9v0.9h-0.9zM420.9 47.3h0.9v0.9h-0.9zM438.7 21.2h0.9v0.9h-0.9zM446.9 72.3h0.9v0.9h-0.9zM439.6 32.9h0.9v0.9h-0.9zM429.6 17.5h0.9v0.9h-0.9zM402.4 42.4h0.9v0.9h-0.9zM447.3 11.2h0.9v0.9h-0.9zM405.2 56.8h0.9v0.9h-0.9zM406.7 55.0h0.9v0.9h-0.9zM405.7 55.6h0.9v0.9h-0.9zM412.1 28.5h0.9v0.9h-0.9zM395.4 8.6h0.9v0.9h-0.9zM407.1 67.1h0.9v0.9h-0.9zM396.8 62.7h0.9v0.9h-0.9zM387.8 83.3h0.9v0.9h-0.9zM427.0 13.2h0.9v0.9h-0.9zM396.5 51.7h0.9v0.9h-0.9zM442.5 85.3h0.9v0.9h-0.9zM426.0 36.0h0.9v0.9h-0.9zM407.2 46.1h0.9v0.9h-0.9zM461.8 4.7h0.9v0.9h-0.9zM397.7 39.5h0.9v0.9h-0.9zM387.1 96.1h0.9v0.9h-0.9zM399.5 70.0h0.9v0.9h-0.9zM372.8 95.0h0.9v0.9h-0.9zM379.4 100.9h0.9v0.9h-0.9zM395.2 63.2h0.9v0.9h-0.9zM389.6 102.5h0.9v0.9h-0.9zM385.0 62.3h0.9v0.9h-0.9zM379.0 96.8h0.9v0.9h-0.9zM385.5 93.5h0.9v0.9h-0.9zM409.0 35.4h0.9v0.9h-0.9zM389.4 32.7h0.9v0.9h-0.9zM388.5 88.9h0.9v0.9h-0.9zM383.6 92.1h0.9v0.9h-0.9zM392.3 48.3h0.9v0.9h-0.9zM379.8 80.3h0.9v0.9h-0.9zM382.2 59.6h0.9v0.9h-0.9zM422.8 24.9h0.9v0.9h-0.9zM379.7 30.2h0.9v0.9h-0.9zM382.5 108.5h0.9v0.9h-0.9zM375.9 36.1h0.9v0.9h-0.9zM420.4 66.8h0.9v0.9h-0.9zM382.8 105.7h0.9v0.9h-0.9zM403.6 13.7h0.9v0.9h-0.9zM389.6 71.2h0.9v0.9h-0.9zM380.7 101.3h0.9v0.9h-0.9zM387.2 74.6h0.9v0.9h-0.9zM377.4 96.8h0.9v0.9h-0.9zM414.1 102.4h0.9v0.9h-0.9zM381.1 95.5h0.9v0.9h-0.9zM413.5 26.5h0.9v0.9h-0.9zM396.7 21.8h0.9v0.9h-0.9zM400.8 49.6h0.9v0.9h-0.9zM396.4 37.9h0.9v0.9h-0.9zM384.7 59.4h0.9v0.9h-0.9zM393.7 29.9h0.9v0.9h-0.9zM450.2 70.6h0.9v0.9h-0.9zM395.3 106.7h0.9v0.9h-0.9zM435.3 9.5h0.9v0.9h-0.9zM406.3 33.3h0.9v0.9h-0.9zM380.3 72.1h0.9v0.9h-0.9zM397.5 57.3h0.9v0.9h-0.9zM384.5 87.7h0.9v0.9h-0.9zM374.9 61.4h0.9v0.9h-0.9zM391.2 99.6h0.9v0.9h-0.9zM442.2 25.0h0.9v0.9h-0.9zM409.7 16.3h0.9v0.9h-0.9zM384.7 66.7h0.9v0.9h-0.9zM386.5 66.8h0.9v0.9h-0.9zM379.9 105.9h0.9v0.9h-0.9zM395.3 50.3h0.9v0.9h-0.9zM415.4 30.0h0.9v0.9h-0.9zM387.8 67.6h0.9v0.9h-0.9zM405.6 88.6h0.9v0.9h-0.9zM408.7 41.9h0.9v0.9h-0.9zM412.7 7.1h0.9v0.9h-0.9zM372.2 96.1h0.9v0.9h-0.9zM396.7 76.3h0.9v0.9h-0.9zM370.3 87.8h0.9v0.9h-0.9zM410.2 22.3h0.9v0.9h-0.9zM413.4 65.0h0.9v0.9h-0.9zM388.4 56.9h0.9v0.9h-0.9zM406.6 41.3h0.9v0.9h-0.9zM380.1 105.2h0.9v0.9h-0.9zM377.6 62.9h0.9v0.9h-0.9zM385.2 87.7h0.9v0.9h-0.9zM384.5 30.6h0.9v0.9h-0.9zM419.4 14.2h0.9v0.9h-0.9zM443.0 26.2h0.9v0.9h-0.9zM400.9 29.3h0.9v0.9h-0.9zM402.0 60.1h0.9v0.9h-0.9zM387.6 19.0h0.9v0.9h-0.9zM370.2 93.6h0.9v0.9h-0.9zM370.6 94.2h0.9v0.9h-0.9zM404.5 22.8h0.9v0.9h-0.9zM397.1 94.3h0.9v0.9h-0.9zM399.2 40.8h0.9v0.9h-0.9zM387.8 63.3h0.9v0.9h-0.9zM416.0 45.8h0.9v0.9h-0.9zM411.7 47.4h0.9v0.9h-0.9zM432.7 9.7h0.9v0.9h-0.9zM452.5 10.5h0.9v0.9h-0.9zM412.3 48.9h0.9v0.9h-0.9zM415.8 42.3h0.9v0.9h-0.9zM374.6 87.3h0.9v0.9h-0.9zM384.9 77.6h0.9v0.9h-0.9zM397.5 75.1h0.9v0.9h-0.9zM411.6 15.0h0.9v0.9h-0.9zM414.9 28.1h0.9v0.9h-0.9zM408.3 39.7h0.9v0.9h-0.9zM401.4 9.4h0.9v0.9h-0.9zM392.1 87.7h0.9v0.9h-0.9zM434.9 93.0h0.9v0.9h-0.9zM382.7 106.8h0.9v0.9h-0.9zM446.7 49.9h0.9v0.9h-0.9zM373.8 29.3h0.9v0.9h-0.9zM393.6 65.6h0.9v0.9h-0.9zM374.5 107.8h0.9v0.9h-0.9zM387.7 76.7h0.9v0.9h-0.9zM387.9 83.4h0.9v0.9h-0.9zM384.9 103.4h0.9v0.9h-0.9zM385.0 109.9h0.9v0.9h-0.9zM403.3 60.3h0.9v0.9h-0.9zM417.3 18.6h0.9v0.9h-0.9zM416.5 15.4h0.9v0.9h-0.9zM422.4 28.5h0.9v0.9h-0.9zM412.3 19.6h0.9v0.9h-0.9zM379.4 76.7h0.9v0.9h-0.9zM422.2 52.4h0.9v0.9h-0.9zM380.4 95.6h0.9v0.9h-0.9zM394.6 70.4h0.9v0.9h-0.9zM429.3 6.9h0.9v0.9h-0.9zM391.6 70.6h0.9v0.9h-0.9zM390.1 54.5h0.9v0.9h-0.9zM406.3 37.2h0.9v0.9h-0.9zM377.2 85.9h0.9v0.9h-0.9zM383.5 72.2h0.9v0.9h-0.9zM382.9 71.3h0.9v0.9h-0.9zM386.5 97.4h0.9v0.9h-0.9zM384.0 88.3h0.9v0.9h-0.9zM428.0 63.8h0.9v0.9h-0.9zM417.2 42.3h0.9v0.9h-0.9zM414.0 4.7h0.9v0.9h-0.9zM382.3 74.6h0.9v0.9h-0.9zM393.0 61.1h0.9v0.9h-0.9zM385.1 65.9h0.9v0.9h-0.9zM390.4 53.2h0.9v0.9h-0.9zM415.9 16.3h0.9v0.9h-0.9zM397.6 76.4h0.9v0.9h-0.9zM387.1 59.7h0.9v0.9h-0.9zM385.3 63.1h0.9v0.9h-0.9zM383.7 64.8h0.9v0.9h-0.9zM412.6 52.1h0.9v0.9h-0.9zM418.6 27.8h0.9v0.9h-0.9zM407.7 17.8h0.9v0.9h-0.9zM411.2 30.3h0.9v0.9h-0.9zM386.1 8.1h0.9v0.9h-0.9zM440.1 44.8h0.9v0.9h-0.9zM415.9 18.1h0.9v0.9h-0.9zM392.8 74.1h0.9v0.9h-0.9zM377.4 99.5h0.9v0.9h-0.9zM380.2 104.1h0.9v0.9h-0.9zM451.8 51.4h0.9v0.9h-0.9zM387.3 66.6h0.9v0.9h-0.9zM391.7 41.2h0.9v0.9h-0.9zM398.7 25.2h0.9v0.9h-0.9zM422.6 5.7h0.9v0.9h-0.9zM437.8 19.6h0.9v0.9h-0.9zM391.0 38.3h0.9v0.9h-0.9zM403.4 30.8h0.9v0.9h-0.9zM378.9 32.0h0.9v0.9h-0.9zM382.3 94.6h0.9v0.9h-0.9zM389.2 103.1h0.9v0.9h-0.9zM379.1 91.2h0.9v0.9h-0.9zM395.8 63.6h0.9v0.9h-0.9zM389.0 115.8h0.9v0.9h-0.9zM390.1 68.7h0.9v0.9h-0.9zM404.5 32.8h0.9v0.9h-0.9zM375.5 90.9h0.9v0.9h-0.9zM407.9 63.9h0.9v0.9h-0.9zM394.3 70.5h0.9v0.9h-0.9zM378.2 92.8h0.9v0.9h-0.9zM426.9 47.5h0.9v0.9h-0.9zM417.3 21.9h0.9v0.9h-0.9zM405.7 60.1h0.9v0.9h-0.9zM444.5 4.2h0.9v0.9h-0.9zM377.8 99.1h0.9v0.9h-0.9zM441.5 37.9h0.9v0.9h-0.9zM435.5 31.7h0.9v0.9h-0.9zM387.2 69.1h0.9v0.9h-0.9zM407.0 32.4h0.9v0.9h-0.9zM425.0 39.9h0.9v0.9h-0.9zM415.4 43.7h0.9v0.9h-0.9zM414.3 36.4h0.9v0.9h-0.9zM398.4 23.2h0.9v0.9h-0.9zM392.3 96.1h0.9v0.9h-0.9zM416.3 44.5h0.9v0.9h-0.9zM412.5 10.0h0.9v0.9h-0.9zM417.0 41.8h0.9v0.9h-0.9zM417.0 26.8h0.9v0.9h-0.9zM412.9 29.8h0.9v0.9h-0.9zM379.6 82.2h0.9v0.9h-0.9zM472.4 15.3h0.9v0.9h-0.9zM385.2 103.3h0.9v0.9h-0.9zM372.4 75.0h0.9v0.9h-0.9zM382.2 86.7h0.9v0.9h-0.9zM391.7 55.2h0.9v0.9h-0.9zM404.5 38.9h0.9v0.9h-0.9zM404.9 26.4h0.9v0.9h-0.9zM377.4 72.6h0.9v0.9h-0.9zM391.1 61.8h0.9v0.9h-0.9zM395.6 63.2h0.9v0.9h-0.9zM395.5 25.3h0.9v0.9h-0.9zM405.7 20.1h0.9v0.9h-0.9zM384.1 102.6h0.9v0.9h-0.9zM414.5 42.5h0.9v0.9h-0.9zM409.2 16.6h0.9v0.9h-0.9zM417.2 38.1h0.9v0.9h-0.9zM417.4 50.6h0.9v0.9h-0.9zM385.7 85.7h0.9v0.9h-0.9zM394.8 70.1h0.9v0.9h-0.9zM382.4 84.0h0.9v0.9h-0.9zM431.8 8.0h0.9v0.9h-0.9zM400.8 44.9h0.9v0.9h-0.9zM375.4 66.3h0.9v0.9h-0.9zM442.5 13.6h0.9v0.9h-0.9zM375.4 52.6h0.9v0.9h-0.9zM408.5 51.8h0.9v0.9h-0.9zM400.2 59.0h0.9v0.9h-0.9zM388.4 40.0h0.9v0.9h-0.9zM385.2 67.3h0.9v0.9h-0.9zM388.6 66.7h0.9v0.9h-0.9zM405.7 28.0h0.9v0.9h-0.9zM423.8 18.9h0.9v0.9h-0.9zM433.9 64.7h0.9v0.9h-0.9zM411.3 29.5h0.9v0.9h-0.9zM398.0 5.2h0.9v0.9h-0.9zM368.5 100.8h0.9v0.9h-0.9zM370.6 96.3h0.9v0.9h-0.9zM380.2 82.9h0.9v0.9h-0.9zM404.7 6.5h0.9v0.9h-0.9zM384.7 89.0h0.9v0.9h-0.9zM381.6 75.9h0.9v0.9h-0.9zM388.2 97.2h0.9v0.9h-0.9zM444.4 31.8h0.9v0.9h-0.9zM384.0 108.9h0.9v0.9h-0.9zM465.7 22.7h0.9v0.9h-0.9zM397.0 48.0h0.9v0.9h-0.9zM391.1 28.6h0.9v0.9h-0.9zM370.1 73.1h0.9v0.9h-0.9zM394.4 69.7h0.9v0.9h-0.9zM381.9 110.7h0.9v0.9h-0.9zM377.3 76.7h0.9v0.9h-0.9zM398.1 55.7h0.9v0.9h-0.9zM377.0 107.0h0.9v0.9h-0.9zM412.7 51.5h0.9v0.9h-0.9zM409.1 42.9h0.9v0.9h-0.9zM398.7 63.5h0.9v0.9h-0.9zM390.9 91.6h0.9v0.9h-0.9zM375.7 91.1h0.9v0.9h-0.9zM396.1 72.0h0.9v0.9h-0.9zM376.4 88.1h0.9v0.9h-0.9zM382.4 80.9h0.9v0.9h-0.9zM385.9 76.0h0.9v0.9h-0.9zM419.0 58.3h0.9v0.9h-0.9zM406.2 36.0h0.9v0.9h-0.9zM392.0 71.5h0.9v0.9h-0.9zM410.8 39.7h0.9v0.9h-0.9zM429.7 26.4h0.9v0.9h-0.9zM390.9 58.9h0.9v0.9h-0.9zM428.6 64.2h0.9v0.9h-0.9zM384.9 47.9h0.9v0.9h-0.9zM385.1 83.2h0.9v0.9h-0.9zM392.0 31.3h0.9v0.9h-0.9zM384.6 91.4h0.9v0.9h-0.9zM389.0 95.6h0.9v0.9h-0.9zM411.9 36.0h0.9v0.9h-0.9zM419.1 34.0h0.9v0.9h-0.9zM417.4 23.9h0.9v0.9h-0.9zM411.1 33.8h0.9v0.9h-0.9zM386.0 103.1h0.9v0.9h-0.9zM416.1 27.6h0.9v0.9h-0.9zM389.7 32.7h0.9v0.9h-0.9zM421.4 7.2h0.9v0.9h-0.9zM411.2 35.6h0.9v0.9h-0.9zM397.2 41.0h0.9v0.9h-0.9zM383.6 93.5h0.9v0.9h-0.9zM393.4 77.8h0.9v0.9h-0.9zM402.3 22.4h0.9v0.9h-0.9zM397.5 43.9h0.9v0.9h-0.9zM404.7 81.0h0.9v0.9h-0.9zM399.8 59.8h0.9v0.9h-0.9zM380.4 86.4h0.9v0.9h-0.9zM424.3 31.1h0.9v0.9h-0.9zM433.6 20.6h0.9v0.9h-0.9zM422.1 8.7h0.9v0.9h-0.9zM394.3 61.9h0.9v0.9h-0.9zM408.1 40.6h0.9v0.9h-0.9zM384.9 90.9h0.9v0.9h-0.9zM391.2 30.8h0.9v0.9h-0.9zM414.0 41.3h0.9v0.9h-0.9zM400.3 60.7h0.9v0.9h-0.9zM439.7 26.3h0.9v0.9h-0.9zM387.4 59.5h0.9v0.9h-0.9zM417.3 49.6h0.9v0.9h-0.9zM416.2 28.4h0.9v0.9h-0.9zM392.2 80.4h0.9v0.9h-0.9zM406.8 10.2h0.9v0.9h-0.9zM439.6 14.5h0.9v0.9h-0.9zM382.5 90.2h0.9v0.9h-0.9zM392.7 99.0h0.9v0.9h-0.9zM387.1 92.5h0.9v0.9h-0.9zM367.2 8.2h0.9v0.9h-0.9zM419.5 72.1h0.9v0.9h-0.9zM404.9 35.8h0.9v0.9h-0.9zM403.2 23.4h0.9v0.9h-0.9zM399.9 68.5h0.9v0.9h-0.9zM391.1 43.6h0.9v0.9h-0.9zM392.1 40.2h0.9v0.9h-0.9zM389.3 100.7h0.9v0.9h-0.9zM381.7 98.9h0.9v0.9h-0.9zM386.4 78.4h0.9v0.9h-0.9zM388.2 92.9h0.9v0.9h-0.9zM428.3 39.2h0.9v0.9h-0.9zM378.1 102.6h0.9v0.9h-0.9zM406.9 13.0h0.9v0.9h-0.9zM418.3 31.3h0.9v0.9h-0.9zM381.1 55.7h0.9v0.9h-0.9zM399.7 73.0h0.9v0.9h-0.9zM379.9 85.0h0.9v0.9h-0.9zM406.4 63.6h0.9v0.9h-0.9zM390.7 85.2h0.9v0.9h-0.9zM411.8 24.9h0.9v0.9h-0.9zM406.9 56.8h0.9v0.9h-0.9zM417.6 42.7h0.9v0.9h-0.9zM408.0 33.8h0.9v0.9h-0.9zM405.6 74.4h0.9v0.9h-0.9zM392.1 20.0h0.9v0.9h-0.9zM394.2 48.1h0.9v0.9h-0.9zM377.9 63.5h0.9v0.9h-0.9zM397.6 42.3h0.9v0.9h-0.9zM404.7 42.1h0.9v0.9h-0.9zM381.0 79.0h0.9v0.9h-0.9zM396.4 53.2h0.9v0.9h-0.9zM407.6 58.7h0.9v0.9h-0.9zM399.0 73.6h0.9v0.9h-0.9zM401.0 22.4h0.9v0.9h-0.9zM370.4 98.3h0.9v0.9h-0.9zM378.5 75.2h0.9v0.9h-0.9zM390.4 102.2h0.9v0.9h-0.9zM372.4 86.9h0.9v0.9h-0.9zM405.8 22.6h0.9v0.9h-0.9zM391.0 51.4h0.9v0.9h-0.9zM384.3 48.5h0.9v0.9h-0.9zM381.8 91.4h0.9v0.9h-0.9zM388.6 44.0h0.9v0.9h-0.9zM413.9 42.8h0.9v0.9h-0.9zM416.7 43.6h0.9v0.9h-0.9zM404.0 44.2h0.9v0.9h-0.9zM398.5 48.8h0.9v0.9h-0.9zM366.4 94.6h0.9v0.9h-0.9zM404.4 33.3h0.9v0.9h-0.9zM381.7 58.4h0.9v0.9h-0.9zM386.5 97.8h0.9v0.9h-0.9zM398.3 64.6h0.9v0.9h-0.9zM390.6 81.4h0.9v0.9h-0.9zM430.9 23.6h0.9v0.9h-0.9zM396.9 99.9h0.9v0.9h-0.9zM398.3 23.7h0.9v0.9h-0.9zM389.1 40.7h0.9v0.9h-0.9zM417.9 19.1h0.9v0.9h-0.9zM394.1 56.4h0.9v0.9h-0.9zM416.4 38.2h0.9v0.9h-0.9zM420.8 28.6h0.9v0.9h-0.9zM422.4 22.8h0.9v0.9h-0.9zM384.4 53.4h0.9v0.9h-0.9zM438.0 8.3h0.9v0.9h-0.9zM375.0 94.7h0.9v0.9h-0.9zM387.5 61.6h0.9v0.9h-0.9zM426.5 51.5h0.9v0.9h-0.9zM427.7 30.4h0.9v0.9h-0.9zM374.4 93.4h0.9v0.9h-0.9zM394.2 49.2h0.9v0.9h-0.9zM395.2 80.1h0.9v0.9h-0.9zM397.2 53.4h0.9v0.9h-0.9zM380.7 97.5h0.9v0.9h-0.9zM409.7 45.0h0.9v0.9h-0.9zM377.7 85.3h0.9v0.9h-0.9zM377.1 79.6h0.9v0.9h-0.9zM382.1 88.4h0.9v0.9h-0.9zM402.1 56.0h0.9v0.9h-0.9zM392.8 54.0h0.9v0.9h-0.9zM372.9 99.3h0.9v0.9h-0.9zM372.1 70.5h0.9v0.9h-0.9zM364.9 93.9h0.9v0.9h-0.9zM417.7 11.6h0.9v0.9h-0.9zM430.8 46.0h0.9v0.9h-0.9zM412.6 67.9h0.9v0.9h-0.9zM386.7 57.3h0.9v0.9h-0.9zM429.1 42.2h0.9v0.9h-0.9zM391.9 67.4h0.9v0.9h-0.9zM388.8 80.0h0.9v0.9h-0.9zM382.2 69.4h0.9v0.9h-0.9zM453.6 48.3h0.9v0.9h-0.9zM387.8 94.9h0.9v0.9h-0.9zM389.4 52.0h0.9v0.9h-0.9zM390.3 67.3h0.9v0.9h-0.9zM396.3 67.1h0.9v0.9h-0.9zM394.0 35.0h0.9v0.9h-0.9zM386.6 66.6h0.9v0.9h-0.9zM388.7 75.7h0.9v0.9h-0.9zM395.3 43.8h0.9v0.9h-0.9zM395.5 58.3h0.9v0.9h-0.9zM413.5 25.1h0.9v0.9h-0.9zM381.4 69.3h0.9v0.9h-0.9zM386.8 71.2h0.9v0.9h-0.9zM368.7 100.2h0.9v0.9h-0.9zM403.6 30.1h0.9v0.9h-0.9zM410.0 24.1h0.9v0.9h-0.9zM358.9 101.0h0.9v0.9h-0.9zM403.4 30.4h0.9v0.9h-0.9zM370.6 97.7h0.9v0.9h-0.9zM370.9 65.0h0.9v0.9h-0.9zM422.6 67.7h0.9v0.9h-0.9zM414.5 31.4h0.9v0.9h-0.9zM414.5 19.6h0.9v0.9h-0.9zM415.5 28.2h0.9v0.9h-0.9zM406.3 46.2h0.9v0.9h-0.9zM409.2 39.3h0.9v0.9h-0.9zM462.6 28.9h0.9v0.9h-0.9zM380.7 70.1h0.9v0.9h-0.9zM403.7 71.0h0.9v0.9h-0.9zM380.7 50.4h0.9v0.9h-0.9zM384.8 74.9h0.9v0.9h-0.9zM428.8 22.2h0.9v0.9h-0.9zM404.7 42.4h0.9v0.9h-0.9zM393.0 61.6h0.9v0.9h-0.9zM390.8 71.9h0.9v0.9h-0.9zM401.4 22.8h0.9v0.9h-0.9zM399.5 27.5h0.9v0.9h-0.9zM395.3 51.0h0.9v0.9h-0.9zM449.1 63.1h0.9v0.9h-0.9zM437.3 43.9h0.9v0.9h-0.9zM390.5 82.5h0.9v0.9h-0.9zM385.6 79.2h0.9v0.9h-0.9zM421.0 8.6h0.9v0.9h-0.9zM385.6 55.5h0.9v0.9h-0.9zM405.8 87.8h0.9v0.9h-0.9zM376.3 94.9h0.9v0.9h-0.9zM411.3 22.1h0.9v0.9h-0.9zM399.8 57.6h0.9v0.9h-0.9zM411.6 13.1h0.9v0.9h-0.9zM381.5 71.9h0.9v0.9h-0.9zM455.8 81.3h0.9v0.9h-0.9zM397.2 46.9h0.9v0.9h-0.9zM394.2 45.0h0.9v0.9h-0.9zM387.3 84.8h0.9v0.9h-0.9zM387.1 71.6h0.9v0.9h-0.9zM405.5 77.7h0.9v0.9h-0.9zM383.9 55.2h0.9v0.9h-0.9zM373.3 76.4h0.9v0.9h-0.9zM388.4 66.3h0.9v0.9h-0.9zM399.3 30.0h0.9v0.9h-0.9zM395.4 83.9h0.9v0.9h-0.9zM380.6 87.3h0.9v0.9h-0.9zM379.1 88.2h0.9v0.9h-0.9zM391.4 92.7h0.9v0.9h-0.9zM430.0 23.8h0.9v0.9h-0.9zM388.2 105.1h0.9v0.9h-0.9zM400.9 42.4h0.9v0.9h-0.9zM409.8 47.3h0.9v0.9h-0.9zM382.7 71.4h0.9v0.9h-0.9zM423.2 53.1h0.9v0.9h-0.9zM381.8 78.1h0.9v0.9h-0.9zM385.8 61.0h0.9v0.9h-0.9zM417.8 52.3h0.9v0.9h-0.9zM468.5 30.5h0.9v0.9h-0.9zM437.7 77.9h0.9v0.9h-0.9zM389.3 19.3h0.9v0.9h-0.9zM378.9 103.5h0.9v0.9h-0.9zM387.7 58.9h0.9v0.9h-0.9zM363.2 115.9h0.9v0.9h-0.9zM385.3 95.1h0.9v0.9h-0.9zM386.0 56.0h0.9v0.9h-0.9zM421.8 21.6h0.9v0.9h-0.9zM411.4 34.3h0.9v0.9h-0.9zM381.2 94.1h0.9v0.9h-0.9zM393.8 25.1h0.9v0.9h-0.9zM404.3 41.9h0.9v0.9h-0.9zM418.5 16.6h0.9v0.9h-0.9zM456.0 42.3h0.9v0.9h-0.9zM385.6 57.9h0.9v0.9h-0.9zM408.5 31.7h0.9v0.9h-0.9zM376.9 96.2h0.9v0.9h-0.9zM374.6 78.3h0.9v0.9h-0.9zM393.1 29.6h0.9v0.9h-0.9zM386.3 81.0h0.9v0.9h-0.9zM392.0 58.6h0.9v0.9h-0.9zM377.4 75.8h0.9v0.9h-0.9zM419.4 68.8h0.9v0.9h-0.9zM411.8 38.0h0.9v0.9h-0.9zM377.9 100.5h0.9v0.9h-0.9zM376.4 5.6h0.9v0.9h-0.9zM396.4 31.0h0.9v0.9h-0.9zM377.7 71.5h0.9v0.9h-0.9zM388.2 81.7h0.9v0.9h-0.9zM379.4 103.2h0.9v0.9h-0.9zM463.6 46.3h0.9v0.9h-0.9zM386.3 106.0h0.9v0.9h-0.9zM373.9 74.8h0.9v0.9h-0.9zM384.7 72.2h0.9v0.9h-0.9zM381.4 95.4h0.9v0.9h-0.9zM429.5 10.0h0.9v0.9h-0.9zM400.5 32.8h0.9v0.9h-0.9zM389.3 83.6h0.9v0.9h-0.9zM409.5 29.3h0.9v0.9h-0.9zM401.7 40.8h0.9v0.9h-0.9zM396.7 25.8h0.9v0.9h-0.9zM385.7 58.9h0.9v0.9h-0.9zM406.5 17.9h0.9v0.9h-0.9zM413.1 54.6h0.9v0.9h-0.9zM419.3 21.4h0.9v0.9h-0.9zM411.9 7.7h0.9v0.9h-0.9zM397.6 52.7h0.9v0.9h-0.9zM400.8 56.9h0.9v0.9h-0.9zM391.6 46.3h0.9v0.9h-0.9zM388.4 99.1h0.9v0.9h-0.9zM398.4 67.4h0.9v0.9h-0.9zM435.9 7.0h0.9v0.9h-0.9zM385.2 54.5h0.9v0.9h-0.9zM397.7 50.2h0.9v0.9h-0.9zM381.1 97.7h0.9v0.9h-0.9zM388.7 91.2h0.9v0.9h-0.9zM383.3 83.8h0.9v0.9h-0.9zM381.9 75.0h0.9v0.9h-0.9zM393.0 77.0h0.9v0.9h-0.9zM374.8 105.6h0.9v0.9h-0.9zM385.6 75.4h0.9v0.9h-0.9zM406.6 48.5h0.9v0.9h-0.9zM421.1 61.3h0.9v0.9h-0.9zM387.3 74.6h0.9v0.9h-0.9zM402.8 57.4h0.9v0.9h-0.9zM378.2 67.6h0.9v0.9h-0.9zM398.9 68.2h0.9v0.9h-0.9zM421.0 42.2h0.9v0.9h-0.9zM387.6 56.3h0.9v0.9h-0.9zM375.8 103.1h0.9v0.9h-0.9zM405.7 65.9h0.9v0.9h-0.9zM392.8 28.3h0.9v0.9h-0.9zM380.7 66.2h0.9v0.9h-0.9zM417.3 56.2h0.9v0.9h-0.9zM396.5 52.4h0.9v0.9h-0.9zM410.0 25.7h0.9v0.9h-0.9zM404.1 61.8h0.9v0.9h-0.9zM411.8 42.4h0.9v0.9h-0.9zM394.8 18.3h0.9v0.9h-0.9zM400.6 79.9h0.9v0.9h-0.9zM382.1 85.1h0.9v0.9h-0.9zM384.2 100.2h0.9v0.9h-0.9zM444.9 52.8h0.9v0.9h-0.9zM397.9 68.6h0.9v0.9h-0.9zM383.0 90.0h0.9v0.9h-0.9zM387.6 76.7h0.9v0.9h-0.9zM400.4 23.1h0.9v0.9h-0.9zM394.6 113.6h0.9v0.9h-0.9zM395.5 81.7h0.9v0.9h-0.9zM375.3 91.2h0.9v0.9h-0.9zM399.9 43.2h0.9v0.9h-0.9zM410.1 46.5h0.9v0.9h-0.9zM406.7 33.9h0.9v0.9h-0.9zM384.8 68.1h0.9v0.9h-0.9zM393.0 26.6h0.9v0.9h-0.9zM412.2 9.9h0.9v0.9h-0.9zM409.5 65.3h0.9v0.9h-0.9zM380.0 74.7h0.9v0.9h-0.9zM403.7 60.2h0.9v0.9h-0.9zM406.2 42.2h0.9v0.9h-0.9zM419.3 37.8h0.9v0.9h-0.9zM404.5 50.8h0.9v0.9h-0.9zM422.8 19.6h0.9v0.9h-0.9zM421.6 7.5h0.9v0.9h-0.9zM394.8 44.9h0.9v0.9h-0.9zM397.7 57.6h0.9v0.9h-0.9zM389.5 83.7h0.9v0.9h-0.9zM416.7 45.5h0.9v0.9h-0.9zM418.5 32.2h0.9v0.9h-0.9zM465.7 86.5h0.9v0.9h-0.9zM467.2 55.2h0.9v0.9h-0.9zM392.5 60.5h0.9v0.9h-0.9zM400.4 53.0h0.9v0.9h-0.9zM405.9 26.4h0.9v0.9h-0.9zM386.4 80.4h0.9v0.9h-0.9zM393.8 68.6h0.9v0.9h-0.9zM393.9 47.2h0.9v0.9h-0.9zM367.1 60.1h0.9v0.9h-0.9zM376.0 91.3h0.9v0.9h-0.9zM438.9 97.5h0.9v0.9h-0.9zM393.9 61.0h0.9v0.9h-0.9zM416.5 44.5h0.9v0.9h-0.9zM428.2 57.4h0.9v0.9h-0.9zM367.3 89.7h0.9v0.9h-0.9zM382.5 98.9h0.9v0.9h-0.9zM406.7 47.6h0.9v0.9h-0.9zM411.7 37.6h0.9v0.9h-0.9zM384.8 56.3h0.9v0.9h-0.9zM379.7 51.8h0.9v0.9h-0.9zM387.9 93.7h0.9v0.9h-0.9zM379.8 86.5h0.9v0.9h-0.9zM410.4 55.4h0.9v0.9h-0.9zM377.2 115.6h0.9v0.9h-0.9zM384.3 68.9h0.9v0.9h-0.9zM394.8 85.6h0.9v0.9h-0.9zM407.2 47.7h0.9v0.9h-0.9zM411.5 27.3h0.9v0.9h-0.9zM437.1 7.7h0.9v0.9h-0.9zM388.3 85.1h0.9v0.9h-0.9zM385.3 66.3h0.9v0.9h-0.9zM396.5 65.6h0.9v0.9h-0.9zM389.9 56.2h0.9v0.9h-0.9zM405.1 48.0h0.9v0.9h-0.9zM405.6 26.0h0.9v0.9h-0.9zM464.2 26.1h0.9v0.9h-0.9zM378.1 107.7h0.9v0.9h-0.9zM427.4 23.1h0.9v0.9h-0.9zM389.3 49.8h0.9v0.9h-0.9zM409.2 21.9h0.9v0.9h-0.9zM406.9 34.9h0.9v0.9h-0.9zM395.2 46.1h0.9v0.9h-0.9zM379.9 93.1h0.9v0.9h-0.9zM415.8 38.1h0.9v0.9h-0.9zM407.8 22.3h0.9v0.9h-0.9zM382.8 49.2h0.9v0.9h-0.9zM386.3 101.5h0.9v0.9h-0.9zM406.0 42.1h0.9v0.9h-0.9zM382.3 51.4h0.9v0.9h-0.9zM398.0 25.5h0.9v0.9h-0.9zM380.8 55.9h0.9v0.9h-0.9zM383.0 72.0h0.9v0.9h-0.9zM383.4 34.2h0.9v0.9h-0.9zM378.4 81.1h0.9v0.9h-0.9zM386.4 39.2h0.9v0.9h-0.9zM380.3 82.5h0.9v0.9h-0.9zM397.1 9.5h0.9v0.9h-0.9zM404.5 66.6h0.9v0.9h-0.9zM372.1 81.5h0.9v0.9h-0.9zM381.1 58.2h0.9v0.9h-0.9zM427.5 29.8h0.9v0.9h-0.9zM406.4 11.5h0.9v0.9h-0.9zM376.1 90.8h0.9v0.9h-0.9zM389.8 77.7h0.9v0.9h-0.9zM405.3 36.6h0.9v0.9h-0.9zM420.6 37.2h0.9v0.9h-0.9zM426.1 71.8h0.9v0.9h-0.9zM410.0 56.9h0.9v0.9h-0.9zM397.4 43.4h0.9v0.9h-0.9zM385.9 39.4h0.9v0.9h-0.9zM402.7 63.9h0.9v0.9h-0.9zM405.7 26.6h0.9v0.9h-0.9zM377.4 92.8h0.9v0.9h-0.9zM486.4 32.1h0.9v0.9h-0.9zM398.9 57.9h0.9v0.9h-0.9zM428.6 32.4h0.9v0.9h-0.9zM377.7 100.2h0.9v0.9h-0.9zM390.8 58.1h0.9v0.9h-0.9zM384.3 94.4h0.9v0.9h-0.9zM392.8 76.1h0.9v0.9h-0.9zM397.8 85.5h0.9v0.9h-0.9zM385.9 71.5h0.9v0.9h-0.9zM427.6 11.2h0.9v0.9h-0.9zM455.6 13.5h0.9v0.9h-0.9zM391.7 56.0h0.9v0.9h-0.9zM405.3 54.9h0.9v0.9h-0.9zM452.2 20.0h0.9v0.9h-0.9zM382.1 83.4h0.9v0.9h-0.9zM365.1 89.2h0.9v0.9h-0.9zM402.8 36.6h0.9v0.9h-0.9zM382.7 70.9h0.9v0.9h-0.9zM425.4 8.1h0.9v0.9h-0.9zM400.1 61.7h0.9v0.9h-0.9zM409.7 17.7h0.9v0.9h-0.9zM416.8 22.1h0.9v0.9h-0.9zM420.8 8.0h0.9v0.9h-0.9zM405.8 50.8h0.9v0.9h-0.9zM413.4 13.1h0.9v0.9h-0.9zM387.4 83.2h0.9v0.9h-0.9zM417.6 26.4h0.9v0.9h-0.9zM400.8 38.7h0.9v0.9h-0.9zM390.9 62.6h0.9v0.9h-0.9zM380.3 81.9h0.9v0.9h-0.9zM388.5 45.6h0.9v0.9h-0.9zM396.0 66.1h0.9v0.9h-0.9zM400.5 27.1h0.9v0.9h-0.9zM392.2 46.5h0.9v0.9h-0.9zM418.2 98.6h0.9v0.9h-0.9zM392.7 95.8h0.9v0.9h-0.9zM388.2 13.2h0.9v0.9h-0.9zM412.8 52.7h0.9v0.9h-0.9zM402.8 73.7h0.9v0.9h-0.9zM386.1 38.6h0.9v0.9h-0.9zM379.5 107.2h0.9v0.9h-0.9zM422.1 9.3h0.9v0.9h-0.9zM395.1 61.7h0.9v0.9h-0.9zM396.2 11.2h0.9v0.9h-0.9zM406.7 24.3h0.9v0.9h-0.9zM378.6 90.5h0.9v0.9h-0.9zM402.5 25.5h0.9v0.9h-0.9zM404.0 72.7h0.9v0.9h-0.9zM430.0 21.6h0.9v0.9h-0.9zM416.7 36.8h0.9v0.9h-0.9zM398.0 30.6h0.9v0.9h-0.9zM422.0 19.9h0.9v0.9h-0.9zM392.7 39.2h0.9v0.9h-0.9zM398.9 28.4h0.9v0.9h-0.9zM407.7 43.1h0.9v0.9h-0.9zM403.1 21.1h0.9v0.9h-0.9zM447.4 17.3h0.9v0.9h-0.9zM390.8 33.8h0.9v0.9h-0.9zM401.9 22.9h0.9v0.9h-0.9zM397.1 22.8h0.9v0.9h-0.9zM394.7 88.6h0.9v0.9h-0.9zM378.7 91.5h0.9v0.9h-0.9zM424.2 21.9h0.9v0.9h-0.9zM385.2 101.4h0.9v0.9h-0.9zM442.0 40.1h0.9v0.9h-0.9zM388.5 26.6h0.9v0.9h-0.9zM403.4 86.5h0.9v0.9h-0.9zM384.9 67.4h0.9v0.9h-0.9zM399.9 81.4h0.9v0.9h-0.9zM387.2 66.4h0.9v0.9h-0.9zM396.0 72.9h0.9v0.9h-0.9zM397.5 40.2h0.9v0.9h-0.9zM410.3 43.8h0.9v0.9h-0.9zM372.9 87.2h0.9v0.9h-0.9zM420.4 63.9h0.9v0.9h-0.9zM404.0 29.7h0.9v0.9h-0.9zM420.1 49.5h0.9v0.9h-0.9zM393.9 66.1h0.9v0.9h-0.9zM418.4 24.8h0.9v0.9h-0.9zM411.1 40.3h0.9v0.9h-0.9zM413.8 6.4h0.9v0.9h-0.9zM424.9 35.3h0.9v0.9h-0.9zM369.0 54.1h0.9v0.9h-0.9zM389.4 82.9h0.9v0.9h-0.9zM396.7 95.6h0.9v0.9h-0.9zM382.2 68.0h0.9v0.9h-0.9zM385.9 62.0h0.9v0.9h-0.9zM394.8 43.3h0.9v0.9h-0.9zM375.2 108.6h0.9v0.9h-0.9zM412.5 40.7h0.9v0.9h-0.9zM397.0 91.7h0.9v0.9h-0.9zM404.2 15.3h0.9v0.9h-0.9zM398.6 61.1h0.9v0.9h-0.9zM390.6 102.9h0.9v0.9h-0.9zM390.1 78.4h0.9v0.9h-0.9zM465.8 23.9h0.9v0.9h-0.9zM403.6 95.6h0.9v0.9h-0.9zM385.8 66.9h0.9v0.9h-0.9zM429.1 30.0h0.9v0.9h-0.9zM436.8 54.7h0.9v0.9h-0.9zM376.4 91.9h0.9v0.9h-0.9zM406.3 40.4h0.9v0.9h-0.9zM399.3 23.9h0.9v0.9h-0.9zM367.9 57.7h0.9v0.9h-0.9zM366.1 90.1h0.9v0.9h-0.9zM416.1 51.1h0.9v0.9h-0.9zM383.1 71.3h0.9v0.9h-0.9zM409.4 31.7h0.9v0.9h-0.9zM426.2 24.6h0.9v0.9h-0.9zM382.5 90.1h0.9v0.9h-0.9zM409.7 60.6h0.9v0.9h-0.9zM380.2 108.5h0.9v0.9h-0.9zM389.1 79.3h0.9v0.9h-0.9zM398.9 41.9h0.9v0.9h-0.9zM396.1 71.5h0.9v0.9h-0.9zM427.8 15.6h0.9v0.9h-0.9zM390.1 73.4h0.9v0.9h-0.9zM404.5 13.7h0.9v0.9h-0.9zM475.7 45.3h0.9v0.9h-0.9zM398.2 24.5h0.9v0.9h-0.9zM413.6 29.5h0.9v0.9h-0.9zM400.3 58.2h0.9v0.9h-0.9zM378.4 99.7h0.9v0.9h-0.9zM393.2 44.0h0.9v0.9h-0.9zM444.3 5.4h0.9v0.9h-0.9zM388.4 55.8h0.9v0.9h-0.9z" fill="#777"/>
<path d="M381.3 104.0h0.9v0.9h-0.9zM390.2 49.9h0.9v0.9h-0.9zM366.6 115.3h0.9v0.9h-0.9zM384.1 63.6h0.9v0.9h-0.9zM430.0 25.3h0.9v0.9h-0.9zM415.8 39.4h0.9v0.9h-0.9zM402.6 36.4h0.9v0.9h-0.9zM407.2 34.8h0.9v0.9h-0.9zM392.1 75.6h0.9v0.9h-0.9zM387.7 56.7h0.9v0.9h-0.9zM383.6 88.0h0.9v0.9h-0.9zM389.7 79.0h0.9v0.9h-0.9zM385.6 57.4h0.9v0.9h-0.9zM425.1 45.2h0.9v0.9h-0.9zM413.6 33.0h0.9v0.9h-0.9zM384.3 68.8h0.9v0.9h-0.9zM404.2 83.2h0.9v0.9h-0.9zM398.8 25.6h0.9v0.9h-0.9zM390.0 33.9h0.9v0.9h-0.9zM385.0 97.0h0.9v0.9h-0.9zM434.4 14.4h0.9v0.9h-0.9zM372.3 70.4h0.9v0.9h-0.9zM404.5 38.3h0.9v0.9h-0.9zM384.3 81.5h0.9v0.9h-0.9zM399.9 49.9h0.9v0.9h-0.9zM378.7 105.8h0.9v0.9h-0.9zM380.6 57.3h0.9v0.9h-0.9zM486.6 29.2h0.9v0.9h-0.9zM416.0 14.1h0.9v0.9h-0.9zM393.0 73.4h0.9v0.9h-0.9zM395.0 49.0h0.9v0.9h-0.9zM412.8 23.4h0.9v0.9h-0.9zM460.6 21.2h0.9v0.9h-0.9zM385.5 79.6h0.9v0.9h-0.9zM397.4 35.6h0.9v0.9h-0.9zM387.1 73.4h0.9v0.9h-0.9zM437.5 74.6h0.9v0.9h-0.9zM384.2 83.4h0.9v0.9h-0.9zM375.1 82.1h0.9v0.9h-0.9zM409.4 20.2h0.9v0.9h-0.9zM397.5 69.1h0.9v0.9h-0.9zM400.2 50.6h0.9v0.9h-0.9zM388.4 95.9h0.9v0.9h-0.9zM393.5 27.5h0.9v0.9h-0.9zM396.5 40.5h0.9v0.9h-0.9zM393.8 38.1h0.9v0.9h-0.9zM391.2 88.8h0.9v0.9h-0.9zM413.8 64.8h0.9v0.9h-0.9zM413.0 53.8h0.9v0.9h-0.9zM397.8 37.1h0.9v0.9h-0.9zM387.7 82.2h0.9v0.9h-0.9zM404.8 57.1h0.9v0.9h-0.9zM384.2 64.2h0.9v0.9h-0.9zM380.9 98.0h0.9v0.9h-0.9zM423.1 27.0h0.9v0.9h-0.9zM374.2 98.6h0.9v0.9h-0.9zM404.5 81.9h0.9v0.9h-0.9zM404.9 56.8h0.9v0.9h-0.9zM385.0 105.1h0.9v0.9h-0.9zM380.6 113.3h0.9v0.9h-0.9zM381.4 103.4h0.9v0.9h-0.9zM385.4 50.9h0.9v0.9h-0.9zM383.6 100.0h0.9v0.9h-0.9zM411.6 31.0h0.9v0.9h-0.9zM379.8 109.4h0.9v0.9h-0.9zM379.5 98.1h0.9v0.9h-0.9zM382.9 106.0h0.9v0.9h-0.9zM397.3 62.9h0.9v0.9h-0.9zM396.0 83.6h0.9v0.9h-0.9zM394.6 14.6h0.9v0.9h-0.9zM443.5 13.8h0.9v0.9h-0.9zM408.3 22.7h0.9v0.9h-0.9zM379.8 92.0h0.9v0.9h-0.9zM402.4 17.0h0.9v0.9h-0.9zM417.7 16.5h0.9v0.9h-0.9zM408.5 53.8h0.9v0.9h-0.9zM403.5 29.2h0.9v0.9h-0.9zM385.6 104.1h0.9v0.9h-0.9zM386.2 59.7h0.9v0.9h-0.9zM407.9 27.3h0.9v0.9h-0.9zM416.9 22.4h0.9v0.9h-0.9zM377.6 85.6h0.9v0.9h-0.9zM387.2 87.8h0.9v0.9h-0.9zM403.9 40.1h0.9v0.9h-0.9zM401.2 38.8h0.9v0.9h-0.9zM395.3 77.5h0.9v0.9h-0.9zM433.2 8.2h0.9v0.9h-0.9zM414.5 63.1h0.9v0.9h-0.9zM415.8 23.5h0.9v0.9h-0.9zM412.2 17.4h0.9v0.9h-0.9zM412.3 21.7h0.9v0.9h-0.9zM414.1 29.8h0.9v0.9h-0.9zM386.9 59.4h0.9v0.9h-0.9zM388.9 51.3h0.9v0.9h-0.9zM383.2 86.4h0.9v0.9h-0.9zM435.4 84.8h0.9v0.9h-0.9zM403.8 26.7h0.9v0.9h-0.9zM402.6 43.4h0.9v0.9h-0.9zM393.8 87.2h0.9v0.9h-0.9zM397.7 26.9h0.9v0.9h-0.9zM467.4 12.8h0.9v0.9h-0.9zM405.8 19.3h0.9v0.9h-0.9zM382.2 44.5h0.9v0.9h-0.9zM423.4 8.3h0.9v0.9h-0.9zM371.0 100.8h0.9v0.9h-0.9zM396.6 51.1h0.9v0.9h-0.9zM392.2 55.3h0.9v0.9h-0.9zM387.3 42.1h0.9v0.9h-0.9zM408.7 37.4h0.9v0.9h-0.9zM402.6 24.1h0.9v0.9h-0.9zM406.8 43.4h0.9v0.9h-0.9zM417.4 17.9h0.9v0.9h-0.9zM389.2 81.0h0.9v0.9h-0.9zM382.7 92.9h0.9v0.9h-0.9zM388.4 43.5h0.9v0.9h-0.9zM380.7 54.3h0.9v0.9h-0.9zM432.3 7.8h0.9v0.9h-0.9zM407.4 38.3h0.9v0.9h-0.9zM394.0 25.7h0.9v0.9h-0.9zM407.7 55.0h0.9v0.9h-0.9zM378.8 103.8h0.9v0.9h-0.9zM394.7 47.3h0.9v0.9h-0.9zM374.8 78.4h0.9v0.9h-0.9zM406.4 52.2h0.9v0.9h-0.9zM376.7 104.8h0.9v0.9h-0.9zM381.2 89.1h0.9v0.9h-0.9zM391.0 78.6h0.9v0.9h-0.9zM396.2 24.5h0.9v0.9h-0.9zM411.9 57.0h0.9v0.9h-0.9zM402.8 56.3h0.9v0.9h-0.9zM417.3 58.7h0.9v0.9h-0.9zM407.5 22.4h0.9v0.9h-0.9zM414.9 93.5h0.9v0.9h-0.9zM385.6 81.0h0.9v0.9h-0.9zM378.9 100.4h0.9v0.9h-0.9zM399.4 40.2h0.9v0.9h-0.9zM416.5 23.7h0.9v0.9h-0.9zM402.6 39.6h0.9v0.9h-0.9zM408.7 25.2h0.9v0.9h-0.9zM420.2 23.0h0.9v0.9h-0.9zM406.4 37.9h0.9v0.9h-0.9zM390.6 48.3h0.9v0.9h-0.9zM381.2 59.7h0.9v0.9h-0.9zM418.0 42.7h0.9v0.9h-0.9zM388.5 86.9h0.9v0.9h-0.9zM368.3 100.2h0.9v0.9h-0.9zM414.4 57.3h0.9v0.9h-0.9zM399.4 85.4h0.9v0.9h-0.9zM382.9 65.5h0.9v0.9h-0.9zM394.4 13.0h0.9v0.9h-0.9zM387.9 5.0h0.9v0.9h-0.9zM384.6 114.4h0.9v0.9h-0.9zM382.2 76.8h0.9v0.9h-0.9zM434.3 67.0h0.9v0.9h-0.9zM394.4 19.4h0.9v0.9h-0.9zM391.6 75.3h0.9v0.9h-0.9zM363.8 114.9h0.9v0.9h-0.9zM377.3 82.3h0.9v0.9h-0.9zM403.4 60.5h0.9v0.9h-0.9zM418.9 27.5h0.9v0.9h-0.9zM400.9 38.9h0.9v0.9h-0.9zM398.1 25.4h0.9v0.9h-0.9zM382.6 75.4h0.9v0.9h-0.9zM378.5 72.9h0.9v0.9h-0.9zM399.2 42.4h0.9v0.9h-0.9zM417.8 7.4h0.9v0.9h-0.9zM377.7 82.4h0.9v0.9h-0.9zM408.1 15.3h0.9v0.9h-0.9zM446.5 59.7h0.9v0.9h-0.9zM397.6 48.1h0.9v0.9h-0.9zM374.8 93.5h0.9v0.9h-0.9zM371.7 112.9h0.9v0.9h-0.9zM390.5 60.3h0.9v0.9h-0.9zM386.8 61.3h0.9v0.9h-0.9zM428.8 29.2h0.9v0.9h-0.9zM380.2 87.0h0.9v0.9h-0.9zM383.5 105.9h0.9v0.9h-0.9zM390.6 74.9h0.9v0.9h-0.9zM384.6 92.9h0.9v0.9h-0.9zM391.4 33.1h0.9v0.9h-0.9zM397.8 27.8h0.9v0.9h-0.9zM396.7 57.8h0.9v0.9h-0.9zM377.6 81.5h0.9v0.9h-0.9zM404.9 18.3h0.9v0.9h-0.9zM383.8 77.2h0.9v0.9h-0.9zM399.5 38.0h0.9v0.9h-0.9zM400.6 10.3h0.9v0.9h-0.9zM416.8 24.1h0.9v0.9h-0.9zM412.3 54.9h0.9v0.9h-0.9zM411.2 20.1h0.9v0.9h-0.9zM404.0 35.7h0.9v0.9h-0.9zM401.6 14.0h0.9v0.9h-0.9zM416.8 28.1h0.9v0.9h-0.9zM420.7 35.4h0.9v0.9h-0.9zM408.7 53.3h0.9v0.9h-0.9zM386.3 58.8h0.9v0.9h-0.9zM379.3 45.5h0.9v0.9h-0.9zM372.5 93.5h0.9v0.9h-0.9zM425.4 29.4h0.9v0.9h-0.9zM425.9 78.4h0.9v0.9h-0.9zM409.2 43.6h0.9v0.9h-0.9zM371.9 43.3h0.9v0.9h-0.9zM389.7 26.1h0.9v0.9h-0.9zM386.8 75.0h0.9v0.9h-0.9zM401.8 33.3h0.9v0.9h-0.9zM394.8 58.7h0.9v0.9h-0.9zM393.3 84.7h0.9v0.9h-0.9zM391.1 106.0h0.9v0.9h-0.9zM371.3 54.0h0.9v0.9h-0.9zM388.0 94.9h0.9v0.9h-0.9zM401.4 28.0h0.9v0.9h-0.9zM377.3 99.6h0.9v0.9h-0.9zM417.1 15.5h0.9v0.9h-0.9zM389.3 83.8h0.9v0.9h-0.9zM398.4 59.0h0.9v0.9h-0.9zM414.4 31.3h0.9v0.9h-0.9zM401.6 26.4h0.9v0.9h-0.9zM381.5 89.4h0.9v0.9h-0.9zM403.1 50.4h0.9v0.9h-0.9zM397.6 43.8h0.9v0.9h-0.9zM413.9 24.8h0.9v0.9h-0.9zM388.7 53.6h0.9v0.9h-0.9zM372.3 78.4h0.9v0.9h-0.9zM399.5 52.6h0.9v0.9h-0.9zM401.7 66.1h0.9v0.9h-0.9zM405.9 39.9h0.9v0.9h-0.9zM385.8 73.3h0.9v0.9h-0.9zM374.1 70.8h0.9v0.9h-0.9zM433.2 34.6h0.9v0.9h-0.9zM418.3 44.0h0.9v0.9h-0.9zM379.8 100.3h0.9v0.9h-0.9zM374.6 89.6h0.9v0.9h-0.9zM409.6 15.8h0.9v0.9h-0.9zM371.9 73.8h0.9v0.9h-0.9zM382.0 98.1h0.9v0.9h-0.9zM420.0 28.7h0.9v0.9h-0.9zM403.7 64.5h0.9v0.9h-0.9zM365.0 111.3h0.9v0.9h-0.9zM381.9 80.0h0.9v0.9h-0.9zM399.1 58.1h0.9v0.9h-0.9zM400.2 31.4h0.9v0.9h-0.9zM394.1 72.8h0.9v0.9h-0.9zM382.4 96.9h0.9v0.9h-0.9zM389.3 65.4h0.9v0.9h-0.9zM393.1 83.6h0.9v0.9h-0.9zM422.6 10.3h0.9v0.9h-0.9zM409.4 47.1h0.9v0.9h-0.9zM408.4 5.2h0.9v0.9h-0.9zM400.2 51.2h0.9v0.9h-0.9zM375.8 91.2h0.9v0.9h-0.9zM400.4 69.6h0.9v0.9h-0.9zM407.6 49.4h0.9v0.9h-0.9zM420.7 43.5h0.9v0.9h-0.9zM406.4 55.4h0.9v0.9h-0.9zM457.6 39.7h0.9v0.9h-0.9zM380.7 84.0h0.9v0.9h-0.9zM366.1 92.5h0.9v0.9h-0.9zM411.7 14.6h0.9v0.9h-0.9zM388.9 82.1h0.9v0.9h-0.9zM396.9 13.0h0.9v0.9h-0.9zM385.0 70.8h0.9v0.9h-0.9zM409.3 50.2h0.9v0.9h-0.9zM474.1 20.3h0.9v0.9h-0.9zM372.7 98.9h0.9v0.9h-0.9zM366.7 46.5h0.9v0.9h-0.9zM405.0 71.1h0.9v0.9h-0.9zM390.3 54.8h0.9v0.9h-0.9zM403.5 8.7h0.9v0.9h-0.9zM421.2 19.0h0.9v0.9h-0.9zM429.7 52.1h0.9v0.9h-0.9zM411.5 47.1h0.9v0.9h-0.9zM400.8 35.1h0.9v0.9h-0.9zM400.3 86.1h0.9v0.9h-0.9zM389.2 95.5h0.9v0.9h-0.9zM373.3 87.8h0.9v0.9h-0.9zM384.4 87.8h0.9v0.9h-0.9zM387.7 53.9h0.9v0.9h-0.9zM375.7 58.1h0.9v0.9h-0.9zM390.5 55.1h0.9v0.9h-0.9zM386.5 75.9h0.9v0.9h-0.9zM411.4 15.0h0.9v0.9h-0.9zM444.1 28.0h0.9v0.9h-0.9zM421.8 34.2h0.9v0.9h-0.9zM401.4 56.9h0.9v0.9h-0.9zM381.3 74.3h0.9v0.9h-0.9zM412.0 20.8h0.9v0.9h-0.9zM377.3 75.6h0.9v0.9h-0.9zM409.8 32.4h0.9v0.9h-0.9zM442.2 41.3h0.9v0.9h-0.9zM423.2 35.0h0.9v0.9h-0.9zM382.1 69.9h0.9v0.9h-0.9zM394.6 63.5h0.9v0.9h-0.9zM426.5 55.7h0.9v0.9h-0.9zM397.7 72.4h0.9v0.9h-0.9zM435.0 8.5h0.9v0.9h-0.9zM404.4 34.2h0.9v0.9h-0.9zM406.3 45.1h0.9v0.9h-0.9zM393.3 84.4h0.9v0.9h-0.9zM405.5 75.3h0.9v0.9h-0.9zM414.8 28.6h0.9v0.9h-0.9zM420.6 28.0h0.9v0.9h-0.9zM388.8 49.9h0.9v0.9h-0.9zM386.9 63.5h0.9v0.9h-0.9zM389.0 33.9h0.9v0.9h-0.9zM417.2 22.0h0.9v0.9h-0.9zM378.7 93.1h0.9v0.9h-0.9zM385.0 65.7h0.9v0.9h-0.9zM396.3 57.6h0.9v0.9h-0.9zM395.8 14.9h0.9v0.9h-0.9zM385.3 108.1h0.9v0.9h-0.9zM420.5 32.5h0.9v0.9h-0.9zM414.4 46.2h0.9v0.9h-0.9zM389.5 40.7h0.9v0.9h-0.9zM389.3 102.1h0.9v0.9h-0.9zM396.4 59.3h0.9v0.9h-0.9zM405.3 21.8h0.9v0.9h-0.9zM380.6 90.8h0.9v0.9h-0.9zM411.0 26.3h0.9v0.9h-0.9zM405.5 27.8h0.9v0.9h-0.9zM391.6 87.9h0.9v0.9h-0.9zM401.6 28.0h0.9v0.9h-0.9zM402.5 54.7h0.9v0.9h-0.9zM383.7 92.1h0.9v0.9h-0.9zM442.3 50.4h0.9v0.9h-0.9zM396.0 45.9h0.9v0.9h-0.9zM434.3 12.0h0.9v0.9h-0.9zM414.6 31.5h0.9v0.9h-0.9zM375.1 105.2h0.9v0.9h-0.9zM404.6 49.9h0.9v0.9h-0.9zM376.6 80.3h0.9v0.9h-0.9zM377.9 83.4h0.9v0.9h-0.9zM416.5 50.1h0.9v0.9h-0.9zM449.3 64.3h0.9v0.9h-0.9zM444.0 40.9h0.9v0.9h-0.9zM392.2 45.4h0.9v0.9h-0.9zM401.9 29.5h0.9v0.9h-0.9zM416.5 19.8h0.9v0.9h-0.9zM377.4 83.1h0.9v0.9h-0.9zM488.6 26.0h0.9v0.9h-0.9zM393.7 53.0h0.9v0.9h-0.9zM362.7 59.8h0.9v0.9h-0.9zM405.5 22.2h0.9v0.9h-0.9zM400.5 30.0h0.9v0.9h-0.9zM380.9 36.3h0.9v0.9h-0.9zM409.2 36.7h0.9v0.9h-0.9zM382.9 62.8h0.9v0.9h-0.9zM401.3 40.3h0.9v0.9h-0.9zM394.7 69.0h0.9v0.9h-0.9zM386.5 86.1h0.9v0.9h-0.9zM427.0 26.4h0.9v0.9h-0.9zM379.4 99.4h0.9v0.9h-0.9zM392.1 64.4h0.9v0.9h-0.9zM389.9 86.0h0.9v0.9h-0.9zM408.9 110.4h0.9v0.9h-0.9zM380.2 95.7h0.9v0.9h-0.9zM400.0 26.2h0.9v0.9h-0.9zM376.8 90.3h0.9v0.9h-0.9zM413.7 41.0h0.9v0.9h-0.9zM403.7 44.0h0.9v0.9h-0.9zM409.9 31.6h0.9v0.9h-0.9zM381.4 61.7h0.9v0.9h-0.9zM398.3 25.0h0.9v0.9h-0.9zM377.9 98.0h0.9v0.9h-0.9zM406.7 31.1h0.9v0.9h-0.9zM381.1 65.8h0.9v0.9h-0.9zM402.5 32.8h0.9v0.9h-0.9zM462.9 85.1h0.9v0.9h-0.9zM404.4 29.8h0.9v0.9h-0.9zM415.6 52.6h0.9v0.9h-0.9zM411.8 61.5h0.9v0.9h-0.9zM388.6 63.4h0.9v0.9h-0.9zM383.4 75.8h0.9v0.9h-0.9zM372.7 82.0h0.9v0.9h-0.9zM382.7 75.8h0.9v0.9h-0.9zM381.1 55.0h0.9v0.9h-0.9zM420.7 21.6h0.9v0.9h-0.9zM381.2 102.1h0.9v0.9h-0.9zM376.6 64.1h0.9v0.9h-0.9zM384.6 99.4h0.9v0.9h-0.9zM465.1 6.4h0.9v0.9h-0.9zM375.2 84.3h0.9v0.9h-0.9zM430.1 11.9h0.9v0.9h-0.9zM388.7 56.0h0.9v0.9h-0.9zM402.5 23.1h0.9v0.9h-0.9zM376.2 68.7h0.9v0.9h-0.9zM446.8 78.3h0.9v0.9h-0.9zM393.1 85.0h0.9v0.9h-0.9zM379.7 68.7h0.9v0.9h-0.9zM388.4 76.3h0.9v0.9h-0.9zM400.7 62.4h0.9v0.9h-0.9zM393.5 94.6h0.9v0.9h-0.9zM421.2 42.5h0.9v0.9h-0.9zM392.1 12.2h0.9v0.9h-0.9zM395.5 48.5h0.9v0.9h-0.9zM389.9 69.6h0.9v0.9h-0.9zM384.1 105.2h0.9v0.9h-0.9zM407.6 31.7h0.9v0.9h-0.9zM397.2 46.0h0.9v0.9h-0.9zM403.5 62.5h0.9v0.9h-0.9zM382.3 54.1h0.9v0.9h-0.9zM397.4 5.8h0.9v0.9h-0.9zM404.9 47.8h0.9v0.9h-0.9zM413.2 31.4h0.9v0.9h-0.9zM407.4 32.1h0.9v0.9h-0.9zM397.4 47.3h0.9v0.9h-0.9zM378.3 99.5h0.9v0.9h-0.9zM375.6 69.1h0.9v0.9h-0.9zM407.8 30.0h0.9v0.9h-0.9zM393.0 28.4h0.9v0.9h-0.9zM382.6 71.8h0.9v0.9h-0.9zM393.2 82.2h0.9v0.9h-0.9zM394.5 55.1h0.9v0.9h-0.9zM403.3 43.8h0.9v0.9h-0.9zM378.3 102.2h0.9v0.9h-0.9zM433.7 10.0h0.9v0.9h-0.9zM400.2 60.0h0.9v0.9h-0.9zM399.9 49.5h0.9v0.9h-0.9zM443.8 28.8h0.9v0.9h-0.9zM398.1 38.7h0.9v0.9h-0.9zM384.3 88.8h0.9v0.9h-0.9zM391.5 39.4h0.9v0.9h-0.9zM426.6 81.7h0.9v0.9h-0.9zM440.4 17.8h0.9v0.9h-0.9zM422.0 48.4h0.9v0.9h-0.9zM420.9 22.3h0.9v0.9h-0.9zM427.5 101.8h0.9v0.9h-0.9zM384.6 58.5h0.9v0.9h-0.9zM407.9 51.3h0.9v0.9h-0.9zM409.8 52.3h0.9v0.9h-0.9zM426.3 25.5h0.9v0.9h-0.9zM426.0 46.2h0.9v0.9h-0.9zM415.8 28.6h0.9v0.9h-0.9zM385.6 62.4h0.9v0.9h-0.9zM436.5 38.0h0.9v0.9h-0.9zM384.1 67.8h0.9v0.9h-0.9zM394.0 63.5h0.9v0.9h-0.9zM451.9 71.9h0.9v0.9h-0.9zM386.0 89.9h0.9v0.9h-0.9zM402.2 37.8h0.9v0.9h-0.9zM381.9 63.2h0.9v0.9h-0.9zM415.1 19.8h0.9v0.9h-0.9zM384.7 110.5h0.9v0.9h-0.9zM390.8 105.1h0.9v0.9h-0.9zM390.2 97.4h0.9v0.9h-0.9zM386.4 89.1h0.9v0.9h-0.9zM448.9 18.7h0.9v0.9h-0.9zM418.6 68.5h0.9v0.9h-0.9zM388.1 68.3h0.9v0.9h-0.9zM406.7 19.2h0.9v0.9h-0.9zM395.1 54.7h0.9v0.9h-0.9zM450.2 20.6h0.9v0.9h-0.9zM396.6 48.7h0.9v0.9h-0.9zM425.3 32.4h0.9v0.9h-0.9zM384.8 74.0h0.9v0.9h-0.9zM393.8 47.7h0.9v0.9h-0.9zM429.3 13.3h0.9v0.9h-0.9zM381.6 100.7h0.9v0.9h-0.9zM383.9 67.6h0.9v0.9h-0.9zM372.6 96.3h0.9v0.9h-0.9zM388.4 75.0h0.9v0.9h-0.9zM407.5 31.2h0.9v0.9h-0.9zM382.2 108.9h0.9v0.9h-0.9zM388.2 94.7h0.9v0.9h-0.9zM416.9 35.6h0.9v0.9h-0.9zM410.7 44.5h0.9v0.9h-0.9zM413.3 23.2h0.9v0.9h-0.9zM388.8 61.3h0.9v0.9h-0.9zM395.9 76.2h0.9v0.9h-0.9zM395.8 63.7h0.9v0.9h-0.9zM415.9 38.7h0.9v0.9h-0.9zM387.6 88.7h0.9v0.9h-0.9zM442.3 28.7h0.9v0.9h-0.9zM375.7 91.8h0.9v0.9h-0.9zM392.0 48.7h0.9v0.9h-0.9zM379.8 115.8h0.9v0.9h-0.9zM376.8 109.0h0.9v0.9h-0.9zM399.8 65.3h0.9v0.9h-0.9zM413.8 39.0h0.9v0.9h-0.9zM392.5 51.5h0.9v0.9h-0.9zM419.7 29.7h0.9v0.9h-0.9zM406.3 56.7h0.9v0.9h-0.9zM376.9 106.9h0.9v0.9h-0.9zM401.3 27.8h0.9v0.9h-0.9zM383.2 70.8h0.9v0.9h-0.9zM404.4 37.8h0.9v0.9h-0.9zM397.8 81.6h0.9v0.9h-0.9zM413.3 12.0h0.9v0.9h-0.9zM409.4 40.8h0.9v0.9h-0.9zM406.8 44.9h0.9v0.9h-0.9zM399.0 65.7h0.9v0.9h-0.9zM391.8 50.1h0.9v0.9h-0.9zM415.6 45.2h0.9v0.9h-0.9zM386.6 114.9h0.9v0.9h-0.9zM401.6 39.0h0.9v0.9h-0.9zM391.6 93.9h0.9v0.9h-0.9zM426.0 25.8h0.9v0.9h-0.9zM377.1 86.7h0.9v0.9h-0.9zM433.5 9.1h0.9v0.9h-0.9zM379.2 63.1h0.9v0.9h-0.9zM413.5 4.5h0.9v0.9h-0.9zM416.4 24.3h0.9v0.9h-0.9zM396.9 71.2h0.9v0.9h-0.9zM374.6 115.0h0.9v0.9h-0.9zM399.3 41.3h0.9v0.9h-0.9zM389.7 71.7h0.9v0.9h-0.9zM404.4 51.2h0.9v0.9h-0.9zM390.8 89.3h0.9v0.9h-0.9zM400.5 43.0h0.9v0.9h-0.9zM418.8 41.9h0.9v0.9h-0.9zM384.8 85.7h0.9v0.9h-0.9zM405.6 47.5h0.9v0.9h-0.9zM430.0 15.8h0.9v0.9h-0.9zM383.6 88.4h0.9v0.9h-0.9zM393.9 65.9h0.9v0.9h-0.9zM396.1 65.6h0.9v0.9h-0.9zM381.9 78.3h0.9v0.9h-0.9zM389.8 39.8h0.9v0.9h-0.9zM393.8 53.7h0.9v0.9h-0.9zM379.9 87.1h0.9v0.9h-0.9zM404.2 21.7h0.9v0.9h-0.9zM441.7 82.8h0.9v0.9h-0.9zM380.5 103.1h0.9v0.9h-0.9zM394.0 42.1h0.9v0.9h-0.9zM399.1 46.0h0.9v0.9h-0.9zM401.5 20.3h0.9v0.9h-0.9zM401.1 33.0h0.9v0.9h-0.9zM413.9 20.6h0.9v0.9h-0.9zM406.6 14.3h0.9v0.9h-0.9zM401.6 68.5h0.9v0.9h-0.9zM378.4 76.0h0.9v0.9h-0.9zM379.5 99.0h0.9v0.9h-0.9zM384.0 90.8h0.9v0.9h-0.9zM452.9 59.6h0.9v0.9h-0.9zM384.4 88.4h0.9v0.9h-0.9zM398.1 26.5h0.9v0.9h-0.9zM398.7 57.8h0.9v0.9h-0.9zM387.4 81.6h0.9v0.9h-0.9zM418.7 13.2h0.9v0.9h-0.9zM386.5 78.1h0.9v0.9h-0.9zM422.7 7.9h0.9v0.9h-0.9zM417.1 26.9h0.9v0.9h-0.9zM398.2 63.6h0.9v0.9h-0.9zM425.0 33.9h0.9v0.9h-0.9zM393.8 91.3h0.9v0.9h-0.9zM388.2 65.9h0.9v0.9h-0.9zM427.7 5.7h0.9v0.9h-0.9zM403.6 27.6h0.9v0.9h-0.9zM425.0 32.4h0.9v0.9h-0.9zM383.4 49.6h0.9v0.9h-0.9zM404.9 42.0h0.9v0.9h-0.9zM453.1 8.6h0.9v0.9h-0.9zM390.9 54.3h0.9v0.9h-0.9zM405.6 49.7h0.9v0.9h-0.9zM396.7 43.9h0.9v0.9h-0.9zM408.6 59.4h0.9v0.9h-0.9zM402.4 45.7h0.9v0.9h-0.9zM381.0 88.0h0.9v0.9h-0.9zM396.2 33.7h0.9v0.9h-0.9zM380.7 61.5h0.9v0.9h-0.9zM394.4 74.0h0.9v0.9h-0.9zM378.1 106.0h0.9v0.9h-0.9zM409.8 60.5h0.9v0.9h-0.9zM422.5 35.6h0.9v0.9h-0.9zM406.6 25.6h0.9v0.9h-0.9zM407.8 44.9h0.9v0.9h-0.9zM378.6 82.0h0.9v0.9h-0.9zM374.7 108.2h0.9v0.9h-0.9zM385.7 87.1h0.9v0.9h-0.9zM431.9 18.0h0.9v0.9h-0.9zM366.8 75.4h0.9v0.9h-0.9zM413.1 37.9h0.9v0.9h-0.9zM396.2 92.7h0.9v0.9h-0.9zM374.0 71.9h0.9v0.9h-0.9zM393.6 41.5h0.9v0.9h-0.9zM408.8 52.9h0.9v0.9h-0.9zM390.7 73.7h0.9v0.9h-0.9zM468.4 20.6h0.9v0.9h-0.9zM415.8 38.9h0.9v0.9h-0.9zM385.1 81.6h0.9v0.9h-0.9zM396.6 36.4h0.9v0.9h-0.9zM390.3 69.3h0.9v0.9h-0.9zM390.4 51.8h0.9v0.9h-0.9zM386.9 72.4h0.9v0.9h-0.9zM412.2 29.0h0.9v0.9h-0.9zM420.6 12.4h0.9v0.9h-0.9zM397.8 33.5h0.9v0.9h-0.9zM389.9 89.2h0.9v0.9h-0.9zM423.4 45.9h0.9v0.9h-0.9zM403.4 27.5h0.9v0.9h-0.9zM408.8 29.5h0.9v0.9h-0.9zM405.3 37.8h0.9v0.9h-0.9zM395.8 68.0h0.9v0.9h-0.9zM409.7 25.6h0.9v0.9h-0.9zM410.2 50.3h0.9v0.9h-0.9zM383.5 87.1h0.9v0.9h-0.9zM424.8 25.1h0.9v0.9h-0.9zM376.2 49.5h0.9v0.9h-0.9zM387.2 59.2h0.9v0.9h-0.9zM410.4 12.1h0.9v0.9h-0.9zM392.6 90.6h0.9v0.9h-0.9zM416.8 52.9h0.9v0.9h-0.9zM385.0 65.3h0.9v0.9h-0.9zM420.2 22.1h0.9v0.9h-0.9zM379.6 103.5h0.9v0.9h-0.9zM392.2 53.2h0.9v0.9h-0.9zM393.3 45.9h0.9v0.9h-0.9zM394.1 82.2h0.9v0.9h-0.9zM437.4 12.8h0.9v0.9h-0.9zM381.1 108.4h0.9v0.9h-0.9zM413.7 41.9h0.9v0.9h-0.9zM384.5 85.2h0.9v0.9h-0.9zM433.3 64.2h0.9v0.9h-0.9zM380.4 70.0h0.9v0.9h-0.9zM401.8 93.0h0.9v0.9h-0.9zM404.5 47.2h0.9v0.9h-0.9zM390.8 84.8h0.9v0.9h-0.9zM380.1 44.2h0.9v0.9h-0.9zM397.8 64.3h0.9v0.9h-0.9zM391.2 28.4h0.9v0.9h-0.9zM386.8 96.4h0.9v0.9h-0.9zM384.0 98.1h0.9v0.9h-0.9zM405.5 14.3h0.9v0.9h-0.9zM408.4 28.9h0.9v0.9h-0.9zM389.9 69.7h0.9v0.9h-0.9zM449.4 72.7h0.9v0.9h-0.9zM423.2 66.2h0.9v0.9h-0.9zM396.2 52.7h0.9v0.9h-0.9zM427.6 19.1h0.9v0.9h-0.9zM404.7 66.2h0.9v0.9h-0.9zM371.5 85.0h0.9v0.9h-0.9zM398.1 57.0h0.9v0.9h-0.9zM411.8 50.8h0.9v0.9h-0.9zM379.0 110.3h0.9v0.9h-0.9zM394.6 47.3h0.9v0.9h-0.9zM403.0 46.1h0.9v0.9h-0.9zM371.7 71.5h0.9v0.9h-0.9zM445.3 5.3h0.9v0.9h-0.9zM400.7 60.5h0.9v0.9h-0.9zM390.9 79.5h0.9v0.9h-0.9zM406.4 38.2h0.9v0.9h-0.9zM412.6 55.8h0.9v0.9h-0.9zM402.7 70.2h0.9v0.9h-0.9zM410.3 23.8h0.9v0.9h-0.9zM382.5 83.8h0.9v0.9h-0.9zM408.7 10.7h0.9v0.9h-0.9zM419.2 41.1h0.9v0.9h-0.9zM388.8 94.9h0.9v0.9h-0.9zM375.5 44.0h0.9v0.9h-0.9zM385.4 76.5h0.9v0.9h-0.9zM389.7 103.1h0.9v0.9h-0.9zM433.0 33.3h0.9v0.9h-0.9zM391.4 41.6h0.9v0.9h-0.9zM378.4 81.1h0.9v0.9h-0.9zM392.0 66.4h0.9v0.9h-0.9zM385.8 73.9h0.9v0.9h-0.9zM382.2 101.9h0.9v0.9h-0.9zM383.3 86.7h0.9v0.9h-0.9zM431.0 30.2h0.9v0.9h-0.9zM364.0 97.6h0.9v0.9h-0.9zM375.5 49.2h0.9v0.9h-0.9zM379.6 89.2h0.9v0.9h-0.9zM390.3 51.7h0.9v0.9h-0.9zM379.2 77.1h0.9v0.9h-0.9zM386.5 95.3h0.9v0.9h-0.9zM421.6 56.7h0.9v0.9h-0.9zM413.0 34.3h0.9v0.9h-0.9zM399.8 37.4h0.9v0.9h-0.9zM421.1 42.5h0.9v0.9h-0.9zM428.7 16.4h0.9v0.9h-0.9zM395.8 53.5h0.9v0.9h-0.9zM394.6 86.2h0.9v0.9h-0.9zM389.9 79.3h0.9v0.9h-0.9zM406.3 73.9h0.9v0.9h-0.9zM394.8 46.2h0.9v0.9h-0.9zM392.5 54.4h0.9v0.9h-0.9zM376.4 113.0h0.9v0.9h-0.9zM389.4 104.3h0.9v0.9h-0.9zM430.9 5.1h0.9v0.9h-0.9zM430.4 11.3h0.9v0.9h-0.9zM371.0 40.8h0.9v0.9h-0.9zM403.5 23.3h0.9v0.9h-0.9zM385.9 97.4h0.9v0.9h-0.9zM389.6 89.1h0.9v0.9h-0.9zM393.9 25.9h0.9v0.9h-0.9zM372.2 91.5h0.9v0.9h-0.9zM414.6 24.8h0.9v0.9h-0.9zM379.0 62.7h0.9v0.9h-0.9zM407.2 30.3h0.9v0.9h-0.9zM378.7 116.4h0.9v0.9h-0.9zM389.7 72.3h0.9v0.9h-0.9zM414.4 51.3h0.9v0.9h-0.9zM383.0 63.6h0.9v0.9h-0.9zM385.8 82.3h0.9v0.9h-0.9zM399.9 24.5h0.9v0.9h-0.9zM419.3 13.5h0.9v0.9h-0.9zM389.7 57.1h0.9v0.9h-0.9zM394.0 91.4h0.9v0.9h-0.9zM397.5 68.3h0.9v0.9h-0.9zM386.1 51.7h0.9v0.9h-0.9zM399.0 44.1h0.9v0.9h-0.9zM402.1 18.2h0.9v0.9h-0.9zM400.5 23.5h0.9v0.9h-0.9zM382.7 68.7h0.9v0.9h-0.9zM396.9 50.8h0.9v0.9h-0.9zM410.7 22.5h0.9v0.9h-0.9zM381.0 54.3h0.9v0.9h-0.9zM397.7 17.0h0.9v0.9h-0.9zM387.4 66.8h0.9v0.9h-0.9zM385.0 77.6h0.9v0.9h-0.9zM438.9 13.3h0.9v0.9h-0.9zM390.9 49.8h0.9v0.9h-0.9zM383.0 40.4h0.9v0.9h-0.9zM390.2 113.7h0.9v0.9h-0.9zM392.9 90.8h0.9v0.9h-0.9zM402.1 39.1h0.9v0.9h-0.9zM380.8 110.7h0.9v0.9h-0.9zM385.2 58.0h0.9v0.9h-0.9zM386.9 101.2h0.9v0.9h-0.9zM383.9 91.3h0.9v0.9h-0.9zM379.8 93.9h0.9v0.9h-0.9zM374.7 99.2h0.9v0.9h-0.9zM377.9 99.3h0.9v0.9h-0.9zM384.6 52.1h0.9v0.9h-0.9zM382.7 54.4h0.9v0.9h-0.9zM424.2 15.0h0.9v0.9h-0.9zM386.9 108.8h0.9v0.9h-0.9zM379.1 76.2h0.9v0.9h-0.9zM391.8 37.6h0.9v0.9h-0.9zM411.1 35.2h0.9v0.9h-0.9zM382.7 73.5h0.9v0.9h-0.9zM428.9 14.8h0.9v0.9h-0.9zM390.9 63.5h0.9v0.9h-0.9zM418.6 20.9h0.9v0.9h-0.9zM389.9 86.1h0.9v0.9h-0.9zM415.9 32.1h0.9v0.9h-0.9zM419.2 36.0h0.9v0.9h-0.9zM397.7 63.8h0.9v0.9h-0.9zM377.4 86.1h0.9v0.9h-0.9zM421.9 22.0h0.9v0.9h-0.9zM385.4 82.4h0.9v0.9h-0.9zM395.2 41.8h0.9v0.9h-0.9zM390.0 105.5h0.9v0.9h-0.9zM407.7 26.5h0.9v0.9h-0.9zM385.5 76.3h0.9v0.9h-0.9zM411.4 24.0h0.9v0.9h-0.9zM380.2 91.9h0.9v0.9h-0.9zM399.6 57.4h0.9v0.9h-0.9zM378.4 79.2h0.9v0.9h-0.9zM400.0 50.9h0.9v0.9h-0.9zM376.2 84.8h0.9v0.9h-0.9zM393.3 57.1h0.9v0.9h-0.9zM409.1 51.6h0.9v0.9h-0.9zM390.7 69.3h0.9v0.9h-0.9zM375.5 101.6h0.9v0.9h-0.9zM388.8 54.7h0.9v0.9h-0.9zM397.6 55.8h0.9v0.9h-0.9zM382.9 61.5h0.9v0.9h-0.9zM399.5 44.2h0.9v0.9h-0.9zM378.8 101.4h0.9v0.9h-0.9zM425.9 47.2h0.9v0.9h-0.9zM410.5 53.6h0.9v0.9h-0.9zM406.3 33.6h0.9v0.9h-0.9zM388.0 108.9h0.9v0.9h-0.9zM384.8 73.1h0.9v0.9h-0.9zM385.7 90.6h0.9v0.9h-0.9zM383.6 104.8h0.9v0.9h-0.9zM369.2 71.9h0.9v0.9h-0.9zM401.7 40.2h0.9v0.9h-0.9zM388.5 62.4h0.9v0.9h-0.9zM397.9 57.6h0.9v0.9h-0.9zM370.8 87.8h0.9v0.9h-0.9zM408.9 17.3h0.9v0.9h-0.9zM383.0 68.7h0.9v0.9h-0.9zM409.2 6.0h0.9v0.9h-0.9zM413.5 24.1h0.9v0.9h-0.9zM407.7 58.0h0.9v0.9h-0.9zM381.1 60.6h0.9v0.9h-0.9zM445.6 7.4h0.9v0.9h-0.9zM409.0 34.2h0.9v0.9h-0.9zM414.5 59.5h0.9v0.9h-0.9zM451.1 35.3h0.9v0.9h-0.9zM395.2 30.1h0.9v0.9h-0.9zM416.5 26.0h0.9v0.9h-0.9zM404.7 63.0h0.9v0.9h-0.9zM406.0 57.0h0.9v0.9h-0.9zM409.0 61.2h0.9v0.9h-0.9zM382.2 95.9h0.9v0.9h-0.9zM412.0 53.4h0.9v0.9h-0.9zM367.6 84.8h0.9v0.9h-0.9zM419.3 21.2h0.9v0.9h-0.9zM404.6 71.4h0.9v0.9h-0.9zM411.7 30.5h0.9v0.9h-0.9zM387.9 66.7h0.9v0.9h-0.9zM432.0 56.0h0.9v0.9h-0.9zM394.6 82.1h0.9v0.9h-0.9zM383.9 41.8h0.9v0.9h-0.9zM396.2 37.7h0.9v0.9h-0.9zM386.5 61.5h0.9v0.9h-0.9zM403.9 59.7h0.9v0.9h-0.9zM424.7 14.3h0.9v0.9h-0.9zM438.2 35.4h0.9v0.9h-0.9zM495.8 92.9h0.9v0.9h-0.9zM426.4 23.7h0.9v0.9h-0.9zM449.2 8.7h0.9v0.9h-0.9zM393.5 66.1h0.9v0.9h-0.9zM391.9 58.6h0.9v0.9h-0.9zM425.4 41.4h0.9v0.9h-0.9zM409.0 49.0h0.9v0.9h-0.9zM402.0 13.8h0.9v0.9h-0.9zM401.0 41.0h0.9v0.9h-0.9zM384.1 65.5h0.9v0.9h-0.9zM421.3 38.5h0.9v0.9h-0.9zM400.3 32.2h0.9v0.9h-0.9zM399.1 7.8h0.9v0.9h-0.9zM397.2 42.9h0.9v0.9h-0.9zM397.5 44.7h0.9v0.9h-0.9zM414.0 32.6h0.9v0.9h-0.9zM390.7 101.7h0.9v0.9h-0.9zM386.4 77.9h0.9v0.9h-0.9zM369.4 116.5h0.9v0.9h-0.9zM368.4 96.5h0.9v0.9h-0.9zM387.1 61.1h0.9v0.9h-0.9zM399.8 34.8h0.9v0.9h-0.9zM406.5 22.2h0.9v0.9h-0.9zM425.5 70.1h0.9v0.9h-0.9zM418.6 28.9h0.9v0.9h-0.9zM392.6 104.9h0.9v0.9h-0.9zM386.7 77.1h0.9v0.9h-0.9zM375.2 88.2h0.9v0.9h-0.9zM386.6 98.5h0.9v0.9h-0.9zM453.1 27.3h0.9v0.9h-0.9zM435.5 51.1h0.9v0.9h-0.9zM377.6 89.8h0.9v0.9h-0.9zM382.0 86.6h0.9v0.9h-0.9zM402.6 48.9h0.9v0.9h-0.9zM401.6 18.0h0.9v0.9h-0.9zM404.2 39.7h0.9v0.9h-0.9zM389.9 76.2h0.9v0.9h-0.9zM413.8 30.1h0.9v0.9h-0.9zM394.4 76.9h0.9v0.9h-0.9zM423.5 64.9h0.9v0.9h-0.9zM399.9 59.5h0.9v0.9h-0.9zM397.0 61.7h0.9v0.9h-0.9zM391.6 98.4h0.9v0.9h-0.9zM383.5 91.3h0.9v0.9h-0.9zM373.0 76.0h0.9v0.9h-0.9zM431.3 33.2h0.9v0.9h-0.9zM452.3 26.5h0.9v0.9h-0.9zM405.9 34.9h0.9v0.9h-0.9zM370.7 107.6h0.9v0.9h-0.9zM389.3 69.5h0.9v0.9h-0.9zM369.3 79.8h0.9v0.9h-0.9zM411.6 44.2h0.9v0.9h-0.9zM421.4 31.6h0.9v0.9h-0.9zM388.1 57.8h0.9v0.9h-0.9zM428.3 69.4h0.9v0.9h-0.9zM415.4 20.2h0.9v0.9h-0.9zM384.5 81.5h0.9v0.9h-0.9zM398.6 69.8h0.9v0.9h-0.9zM413.4 9.3h0.9v0.9h-0.9zM375.7 102.1h0.9v0.9h-0.9zM398.9 47.0h0.9v0.9h-0.9zM390.9 102.4h0.9v0.9h-0.9zM408.5 40.9h0.9v0.9h-0.9zM384.3 30.0h0.9v0.9h-0.9zM377.4 95.0h0.9v0.9h-0.9zM417.4 22.3h0.9v0.9h-0.9zM403.3 38.1h0.9v0.9h-0.9zM384.3 113.1h0.9v0.9h-0.9zM381.9 92.7h0.9v0.9h-0.9zM386.0 86.3h0.9v0.9h-0.9zM396.9 41.9h0.9v0.9h-0.9zM419.2 78.9h0.9v0.9h-0.9zM385.3 96.2h0.9v0.9h-0.9zM414.8 20.2h0.9v0.9h-0.9zM400.4 40.5h0.9v0.9h-0.9zM411.1 11.0h0.9v0.9h-0.9zM405.6 49.7h0.9v0.9h-0.9zM418.7 52.5h0.9v0.9h-0.9zM378.4 59.7h0.9v0.9h-0.9zM398.8 58.4h0.9v0.9h-0.9zM399.2 36.0h0.9v0.9h-0.9zM373.3 107.8h0.9v0.9h-0.9zM380.0 70.8h0.9v0.9h-0.9zM443.7 20.4h0.9v0.9h-0.9zM406.2 24.5h0.9v0.9h-0.9zM415.0 27.1h0.9v0.9h-0.9zM411.0 46.8h0.9v0.9h-0.9zM425.1 36.4h0.9v0.9h-0.9zM404.3 42.0h0.9v0.9h-0.9zM411.1 36.1h0.9v0.9h-0.9zM410.2 25.4h0.9v0.9h-0.9zM385.2 87.1h0.9v0.9h-0.9zM412.9 9.9h0.9v0.9h-0.9zM418.6 56.3h0.9v0.9h-0.9zM384.5 103.2h0.9v0.9h-0.9zM386.7 62.3h0.9v0.9h-0.9zM389.0 85.8h0.9v0.9h-0.9zM369.6 111.0h0.9v0.9h-0.9zM387.4 90.2h0.9v0.9h-0.9zM393.9 41.3h0.9v0.9h-0.9zM387.3 63.1h0.9v0.9h-0.9zM399.8 63.2h0.9v0.9h-0.9zM404.4 44.6h0.9v0.9h-0.9zM401.8 65.8h0.9v0.9h-0.9zM405.9 18.0h0.9v0.9h-0.9zM388.0 96.8h0.9v0.9h-0.9zM383.5 75.5h0.9v0.9h-0.9zM396.0 24.1h0.9v0.9h-0.9zM388.7 53.4h0.9v0.9h-0.9zM385.4 96.2h0.9v0.9h-0.9zM402.5 32.1h0.9v0.9h-0.9zM444.7 16.5h0.9v0.9h-0.9zM402.2 11.7h0.9v0.9h-0.9zM432.0 36.9h0.9v0.9h-0.9zM384.2 62.2h0.9v0.9h-0.9zM407.5 96.1h0.9v0.9h-0.9zM410.2 87.3h0.9v0.9h-0.9zM426.8 27.2h0.9v0.9h-0.9zM459.2 17.2h0.9v0.9h-0.9zM417.7 11.3h0.9v0.9h-0.9zM393.2 71.3h0.9v0.9h-0.9zM390.5 60.7h0.9v0.9h-0.9zM379.3 94.3h0.9v0.9h-0.9zM429.0 20.6h0.9v0.9h-0.9zM415.3 29.7h0.9v0.9h-0.9zM402.9 19.7h0.9v0.9h-0.9zM385.7 59.2h0.9v0.9h-0.9zM431.6 43.6h0.9v0.9h-0.9zM381.4 78.9h0.9v0.9h-0.9zM381.6 72.3h0.9v0.9h-0.9zM395.2 70.4h0.9v0.9h-0.9zM402.6 59.3h0.9v0.9h-0.9zM422.2 103.4h0.9v0.9h-0.9zM388.5 60.4h0.9v0.9h-0.9zM405.6 36.7h0.9v0.9h-0.9zM397.5 37.2h0.9v0.9h-0.9zM433.9 18.5h0.9v0.9h-0.9zM377.9 97.8h0.9v0.9h-0.9zM396.9 53.6h0.9v0.9h-0.9zM393.2 102.9h0.9v0.9h-0.9zM398.7 61.8h0.9v0.9h-0.9zM408.3 73.2h0.9v0.9h-0.9zM388.8 88.0h0.9v0.9h-0.9zM401.9 56.9h0.9v0.9h-0.9zM378.3 90.8h0.9v0.9h-0.9zM374.7 87.1h0.9v0.9h-0.9zM382.4 73.5h0.9v0.9h-0.9zM391.2 57.9h0.9v0.9h-0.9zM440.3 32.4h0.9v0.9h-0.9zM381.6 57.6h0.9v0.9h-0.9zM425.5 25.1h0.9v0.9h-0.9zM417.2 101.4h0.9v0.9h-0.9zM411.1 46.6h0.9v0.9h-0.9zM388.8 63.8h0.9v0.9h-0.9zM389.5 69.0h0.9v0.9h-0.9zM420.0 36.3h0.9v0.9h-0.9zM408.8 32.7h0.9v0.9h-0.9zM399.2 66.9h0.9v0.9h-0.9zM396.5 37.2h0.9v0.9h-0.9zM405.9 60.1h0.9v0.9h-0.9zM395.5 74.6h0.9v0.9h-0.9zM398.1 68.6h0.9v0.9h-0.9zM380.2 86.2h0.9v0.9h-0.9zM382.3 100.5h0.9v0.9h-0.9zM382.5 83.5h0.9v0.9h-0.9zM415.8 17.0h0.9v0.9h-0.9zM413.6 27.7h0.9v0.9h-0.9zM385.7 57.5h0.9v0.9h-0.9zM408.1 53.0h0.9v0.9h-0.9zM378.7 84.6h0.9v0.9h-0.9zM380.2 58.0h0.9v0.9h-0.9zM405.6 34.1h0.9v0.9h-0.9zM370.8 103.3h0.9v0.9h-0.9zM400.5 60.5h0.9v0.9h-0.9zM382.0 83.5h0.9v0.9h-0.9zM411.5 36.1h0.9v0.9h-0.9zM379.8 110.4h0.9v0.9h-0.9zM414.5 30.2h0.9v0.9h-0.9zM378.5 75.2h0.9v0.9h-0.9zM421.3 20.9h0.9v0.9h-0.9zM431.4 19.6h0.9v0.9h-0.9zM375.2 99.4h0.9v0.9h-0.9zM446.7 92.9h0.9v0.9h-0.9zM494.6 20.9h0.9v0.9h-0.9zM420.0 38.3h0.9v0.9h-0.9zM393.6 62.2h0.9v0.9h-0.9zM405.4 64.1h0.9v0.9h-0.9zM393.3 30.9h0.9v0.9h-0.9zM396.3 41.1h0.9v0.9h-0.9zM439.1 58.1h0.9v0.9h-0.9zM380.2 89.2h0.9v0.9h-0.9zM398.3 69.8h0.9v0.9h-0.9zM399.5 33.1h0.9v0.9h-0.9zM381.2 94.1h0.9v0.9h-0.9zM376.5 111.3h0.9v0.9h-0.9zM382.8 90.9h0.9v0.9h-0.9zM372.9 111.4h0.9v0.9h-0.9zM403.9 10.1h0.9v0.9h-0.9zM375.4 99.8h0.9v0.9h-0.9zM384.0 85.9h0.9v0.9h-0.9zM391.6 38.8h0.9v0.9h-0.9zM423.4 23.0h0.9v0.9h-0.9zM407.7 48.2h0.9v0.9h-0.9zM381.4 91.2h0.9v0.9h-0.9zM390.3 87.8h0.9v0.9h-0.9zM392.2 74.3h0.9v0.9h-0.9zM393.5 63.7h0.9v0.9h-0.9zM389.8 94.8h0.9v0.9h-0.9zM386.4 58.3h0.9v0.9h-0.9zM403.9 54.3h0.9v0.9h-0.9zM449.1 26.9h0.9v0.9h-0.9zM380.1 102.3h0.9v0.9h-0.9zM374.4 81.1h0.9v0.9h-0.9zM404.6 44.0h0.9v0.9h-0.9zM371.0 87.6h0.9v0.9h-0.9zM405.2 77.4h0.9v0.9h-0.9zM406.2 30.7h0.9v0.9h-0.9zM398.4 30.9h0.9v0.9h-0.9zM393.9 46.6h0.9v0.9h-0.9zM383.9 90.2h0.9v0.9h-0.9zM392.2 54.6h0.9v0.9h-0.9zM386.6 105.7h0.9v0.9h-0.9zM402.1 40.2h0.9v0.9h-0.9zM403.0 18.1h0.9v0.9h-0.9zM412.9 57.5h0.9v0.9h-0.9zM369.7 56.7h0.9v0.9h-0.9zM424.1 82.9h0.9v0.9h-0.9zM392.7 53.4h0.9v0.9h-0.9zM419.0 17.1h0.9v0.9h-0.9zM397.7 54.0h0.9v0.9h-0.9zM363.0 89.4h0.9v0.9h-0.9zM401.5 85.6h0.9v0.9h-0.9zM383.5 53.9h0.9v0.9h-0.9zM396.5 65.7h0.9v0.9h-0.9zM392.9 110.9h0.9v0.9h-0.9zM375.9 98.9h0.9v0.9h-0.9zM458.9 22.3h0.9v0.9h-0.9zM385.6 87.9h0.9v0.9h-0.9zM385.1 65.3h0.9v0.9h-0.9zM395.6 27.6h0.9v0.9h-0.9zM398.6 52.5h0.9v0.9h-0.9zM397.3 53.0h0.9v0.9h-0.9zM380.8 104.2h0.9v0.9h-0.9zM421.7 6.8h0.9v0.9h-0.9zM379.0 94.1h0.9v0.9h-0.9zM405.9 5.0h0.9v0.9h-0.9zM418.2 50.3h0.9v0.9h-0.9zM385.6 93.6h0.9v0.9h-0.9zM413.9 80.5h0.9v0.9h-0.9zM402.9 30.0h0.9v0.9h-0.9zM416.6 45.3h0.9v0.9h-0.9zM360.9 104.6h0.9v0.9h-0.9zM421.4 15.6h0.9v0.9h-0.9zM489.9 98.8h0.9v0.9h-0.9zM376.9 73.6h0.9v0.9h-0.9zM375.1 83.3h0.9v0.9h-0.9zM396.9 87.9h0.9v0.9h-0.9zM392.9 49.2h0.9v0.9h-0.9zM463.9 34.9h0.9v0.9h-0.9zM414.2 49.3h0.9v0.9h-0.9zM395.0 73.4h0.9v0.9h-0.9zM394.5 47.6h0.9v0.9h-0.9zM451.7 32.6h0.9v0.9h-0.9zM406.6 47.5h0.9v0.9h-0.9zM414.6 48.9h0.9v0.9h-0.9zM389.9 106.5h0.9v0.9h-0.9zM414.5 25.0h0.9v0.9h-0.9zM398.3 35.6h0.9v0.9h-0.9zM395.4 70.6h0.9v0.9h-0.9zM390.3 44.2h0.9v0.9h-0.9zM448.1 56.9h0.9v0.9h-0.9zM396.2 67.5h0.9v0.9h-0.9zM402.4 56.2h0.9v0.9h-0.9zM382.6 99.5h0.9v0.9h-0.9zM417.2 32.3h0.9v0.9h-0.9zM386.0 55.1h0.9v0.9h-0.9zM427.0 30.1h0.9v0.9h-0.9zM410.6 29.3h0.9v0.9h-0.9zM391.4 104.1h0.9v0.9h-0.9zM389.5 86.1h0.9v0.9h-0.9zM386.4 59.6h0.9v0.9h-0.9zM424.2 51.7h0.9v0.9h-0.9zM413.2 50.2h0.9v0.9h-0.9zM427.9 18.6h0.9v0.9h-0.9zM402.2 53.3h0.9v0.9h-0.9zM423.8 29.2h0.9v0.9h-0.9zM386.1 47.2h0.9v0.9h-0.9zM389.2 86.5h0.9v0.9h-0.9zM396.8 29.9h0.9v0.9h-0.9zM402.3 62.2h0.9v0.9h-0.9zM493.3 43.4h0.9v0.9h-0.9zM404.6 27.6h0.9v0.9h-0.9zM379.4 74.3h0.9v0.9h-0.9zM391.4 70.1h0.9v0.9h-0.9zM382.5 89.9h0.9v0.9h-0.9zM402.8 51.4h0.9v0.9h-0.9zM396.7 39.6h0.9v0.9h-0.9zM398.7 96.7h0.9v0.9h-0.9zM393.9 38.7h0.9v0.9h-0.9zM379.9 72.0h0.9v0.9h-0.9zM398.7 51.9h0.9v0.9h-0.9zM424.2 13.5h0.9v0.9h-0.9zM383.2 77.9h0.9v0.9h-0.9zM404.9 28.1h0.9v0.9h-0.9zM399.5 25.4h0.9v0.9h-0.9zM395.0 61.0h0.9v0.9h-0.9zM398.0 58.3h0.9v0.9h-0.9zM390.4 52.1h0.9v0.9h-0.9zM383.0 80.5h0.9v0.9h-0.9zM439.1 7.1h0.9v0.9h-0.9zM393.2 110.6h0.9v0.9h-0.9zM379.0 98.3h0.9v0.9h-0.9zM408.2 47.1h0.9v0.9h-0.9zM381.1 62.8h0.9v0.9h-0.9z" fill="#aaa"/>
<path d="M369,111 C367.5,98 369,84 373,72 C377,62 386,58 391,62 C395,67 394,84 391,96 C388,104 383,109 377,111.5 Z" fill="#9a9a9a" fill-opacity="0.6" stroke="#444" stroke-width="0.7"/>
<path d="M370.3,108.5 C369.5,98 370.5,88 373.5,78 C375.5,72 379,72 379,80 C379,90 377,100 373.5,108.5 Z" fill="#a0a0a0" fill-opacity="0.6" stroke="#444" stroke-width="0.6"/>
<path d="M388.8 97.3h0.9v0.9h-0.9zM373.6 95.8h0.9v0.9h-0.9zM380.6 73.8h0.9v0.9h-0.9zM388.0 96.7h0.9v0.9h-0.9zM389.3 96.1h0.9v0.9h-0.9zM375.4 100.5h0.9v0.9h-0.9zM378.1 75.6h0.9v0.9h-0.9zM385.1 88.7h0.9v0.9h-0.9zM379.6 90.4h0.9v0.9h-0.9zM376.6 84.5h0.9v0.9h-0.9zM371.2 97.9h0.9v0.9h-0.9zM374.0 115.7h0.9v0.9h-0.9zM381.3 91.2h0.9v0.9h-0.9zM391.9 101.2h0.9v0.9h-0.9zM386.9 80.4h0.9v0.9h-0.9zM383.7 62.5h0.9v0.9h-0.9zM385.0 106.7h0.9v0.9h-0.9zM377.4 101.0h0.9v0.9h-0.9zM378.8 95.8h0.9v0.9h-0.9zM400.0 67.8h0.9v0.9h-0.9zM377.9 89.5h0.9v0.9h-0.9zM376.0 102.2h0.9v0.9h-0.9zM366.1 102.4h0.9v0.9h-0.9zM396.5 81.1h0.9v0.9h-0.9zM377.3 93.3h0.9v0.9h-0.9zM376.8 66.1h0.9v0.9h-0.9zM388.9 75.7h0.9v0.9h-0.9zM365.6 68.8h0.9v0.9h-0.9zM378.0 88.5h0.9v0.9h-0.9zM382.7 51.4h0.9v0.9h-0.9zM393.8 90.3h0.9v0.9h-0.9zM380.3 83.9h0.9v0.9h-0.9zM362.2 86.9h0.9v0.9h-0.9zM379.5 83.2h0.9v0.9h-0.9zM391.1 112.7h0.9v0.9h-0.9zM371.0 103.7h0.9v0.9h-0.9zM373.3 93.8h0.9v0.9h-0.9zM381.7 98.0h0.9v0.9h-0.9zM380.4 109.7h0.9v0.9h-0.9zM385.2 107.4h0.9v0.9h-0.9zM390.4 86.7h0.9v0.9h-0.9zM382.3 93.4h0.9v0.9h-0.9zM389.5 97.0h0.9v0.9h-0.9zM371.6 84.5h0.9v0.9h-0.9zM378.7 83.0h0.9v0.9h-0.9zM379.0 107.5h0.9v0.9h-0.9zM374.3 83.4h0.9v0.9h-0.9zM381.0 82.3h0.9v0.9h-0.9zM373.0 94.0h0.9v0.9h-0.9zM387.0 79.9h0.9v0.9h-0.9zM378.2 104.7h0.9v0.9h-0.9zM383.2 103.1h0.9v0.9h-0.9zM385.2 105.6h0.9v0.9h-0.9zM377.4 64.1h0.9v0.9h-0.9zM375.1 97.2h0.9v0.9h-0.9zM387.4 90.8h0.9v0.9h-0.9zM388.5 60.6h0.9v0.9h-0.9zM378.5 76.0h0.9v0.9h-0.9zM396.2 85.7h0.9v0.9h-0.9zM376.4 102.6h0.9v0.9h-0.9zM382.0 64.5h0.9v0.9h-0.9zM383.9 76.4h0.9v0.9h-0.9zM390.7 100.2h0.9v0.9h-0.9zM375.3 112.7h0.9v0.9h-0.9zM387.2 95.6h0.9v0.9h-0.9zM381.0 71.5h0.9v0.9h-0.9zM376.2 91.0h0.9v0.9h-0.9zM384.5 71.4h0.9v0.9h-0.9zM396.1 93.6h0.9v0.9h-0.9zM380.8 95.0h0.9v0.9h-0.9zM382.3 80.6h0.9v0.9h-0.9zM381.3 100.2h0.9v0.9h-0.9zM380.2 72.3h0.9v0.9h-0.9zM391.6 66.1h0.9v0.9h-0.9zM385.6 90.6h0.9v0.9h-0.9zM387.9 89.6h0.9v0.9h-0.9zM385.6 113.2h0.9v0.9h-0.9zM386.1 86.4h0.9v0.9h-0.9zM389.4 93.8h0.9v0.9h-0.9zM362.5 104.2h0.9v0.9h-0.9zM373.7 91.9h0.9v0.9h-0.9zM386.9 67.1h0.9v0.9h-0.9zM386.2 98.9h0.9v0.9h-0.9zM390.3 90.2h0.9v0.9h-0.9zM392.7 79.1h0.9v0.9h-0.9zM380.3 79.4h0.9v0.9h-0.9zM378.7 100.4h0.9v0.9h-0.9zM375.6 70.2h0.9v0.9h-0.9zM375.7 106.4h0.9v0.9h-0.9zM391.2 68.1h0.9v0.9h-0.9zM378.9 102.2h0.9v0.9h-0.9zM399.4 84.7h0.9v0.9h-0.9zM375.5 103.1h0.9v0.9h-0.9zM381.2 96.0h0.9v0.9h-0.9zM375.5 89.1h0.9v0.9h-0.9zM384.7 100.7h0.9v0.9h-0.9zM376.8 106.1h0.9v0.9h-0.9zM377.6 107.1h0.9v0.9h-0.9zM387.7 92.5h0.9v0.9h-0.9zM375.8 86.8h0.9v0.9h-0.9zM376.6 88.6h0.9v0.9h-0.9zM378.0 98.1h0.9v0.9h-0.9zM380.7 80.0h0.9v0.9h-0.9zM395.9 97.6h0.9v0.9h-0.9zM393.1 109.4h0.9v0.9h-0.9zM393.4 74.6h0.9v0.9h-0.9zM389.4 88.1h0.9v0.9h-0.9zM384.4 62.4h0.9v0.9h-0.9zM371.1 103.9h0.9v0.9h-0.9zM387.2 109.8h0.9v0.9h-0.9zM383.4 95.3h0.9v0.9h-0.9zM377.9 83.8h0.9v0.9h-0.9zM388.4 89.2h0.9v0.9h-0.9zM375.0 97.1h0.9v0.9h-0.9zM383.0 114.2h0.9v0.9h-0.9zM393.6 98.7h0.9v0.9h-0.9zM389.0 105.8h0.9v0.9h-0.9zM393.7 92.8h0.9v0.9h-0.9zM381.2 70.3h0.9v0.9h-0.9zM387.5 103.9h0.9v0.9h-0.9zM382.7 92.7h0.9v0.9h-0.9zM387.0 97.2h0.9v0.9h-0.9zM388.7 94.7h0.9v0.9h-0.9zM388.3 70.7h0.9v0.9h-0.9zM387.7 92.9h0.9v0.9h-0.9zM373.3 74.4h0.9v0.9h-0.9zM387.7 87.0h0.9v0.9h-0.9zM376.9 87.2h0.9v0.9h-0.9zM389.6 84.9h0.9v0.9h-0.9zM379.3 103.1h0.9v0.9h-0.9zM379.8 87.4h0.9v0.9h-0.9zM382.3 96.7h0.9v0.9h-0.9zM388.0 103.6h0.9v0.9h-0.9zM384.0 104.5h0.9v0.9h-0.9zM381.3 112.8h0.9v0.9h-0.9zM383.5 98.7h0.9v0.9h-0.9zM379.4 94.5h0.9v0.9h-0.9zM376.6 108.7h0.9v0.9h-0.9zM390.0 88.4h0.9v0.9h-0.9zM383.3 82.2h0.9v0.9h-0.9zM388.7 99.4h0.9v0.9h-0.9zM392.5 80.6h0.9v0.9h-0.9zM398.4 75.6h0.9v0.9h-0.9zM376.2 81.4h0.9v0.9h-0.9zM380.3 100.4h0.9v0.9h-0.9zM382.6 82.8h0.9v0.9h-0.9zM375.0 86.0h0.9v0.9h-0.9zM381.9 80.8h0.9v0.9h-0.9zM383.0 65.3h0.9v0.9h-0.9zM389.4 69.2h0.9v0.9h-0.9zM374.6 110.6h0.9v0.9h-0.9zM379.3 103.6h0.9v0.9h-0.9zM390.9 95.2h0.9v0.9h-0.9zM382.7 98.4h0.9v0.9h-0.9zM387.5 74.6h0.9v0.9h-0.9zM389.0 83.5h0.9v0.9h-0.9zM368.3 97.5h0.9v0.9h-0.9zM383.4 93.2h0.9v0.9h-0.9zM392.4 92.7h0.9v0.9h-0.9zM371.9 113.8h0.9v0.9h-0.9zM371.9 112.1h0.9v0.9h-0.9zM376.1 96.9h0.9v0.9h-0.9zM391.9 89.8h0.9v0.9h-0.9zM383.6 98.3h0.9v0.9h-0.9zM376.9 115.2h0.9v0.9h-0.9zM379.7 109.6h0.9v0.9h-0.9zM376.9 116.0h0.9v0.9h-0.9zM369.3 102.2h0.9v0.9h-0.9zM386.2 55.6h0.9v0.9h-0.9zM385.0 72.9h0.9v0.9h-0.9zM371.4 82.0h0.9v0.9h-0.9zM386.9 47.4h0.9v0.9h-0.9zM378.6 111.5h0.9v0.9h-0.9zM379.1 109.4h0.9v0.9h-0.9zM384.9 86.0h0.9v0.9h-0.9zM377.6 87.5h0.9v0.9h-0.9zM373.5 87.9h0.9v0.9h-0.9zM392.3 96.4h0.9v0.9h-0.9zM369.8 97.0h0.9v0.9h-0.9zM378.2 89.2h0.9v0.9h-0.9zM393.2 75.5h0.9v0.9h-0.9zM387.4 76.2h0.9v0.9h-0.9zM387.0 111.9h0.9v0.9h-0.9zM382.1 92.4h0.9v0.9h-0.9zM378.1 79.0h0.9v0.9h-0.9zM368.2 88.2h0.9v0.9h-0.9zM368.5 80.5h0.9v0.9h-0.9zM393.4 83.2h0.9v0.9h-0.9zM372.0 111.2h0.9v0.9h-0.9zM381.4 113.5h0.9v0.9h-0.9zM383.1 78.9h0.9v0.9h-0.9zM384.5 102.6h0.9v0.9h-0.9zM388.7 77.0h0.9v0.9h-0.9zM397.6 68.3h0.9v0.9h-0.9zM379.9 99.2h0.9v0.9h-0.9zM381.2 78.0h0.9v0.9h-0.9zM379.4 82.2h0.9v0.9h-0.9zM365.6 78.2h0.9v0.9h-0.9zM379.0 83.9h0.9v0.9h-0.9zM378.3 87.4h0.9v0.9h-0.9zM386.7 94.0h0.9v0.9h-0.9zM374.8 93.8h0.9v0.9h-0.9zM374.8 108.3h0.9v0.9h-0.9zM385.9 73.4h0.9v0.9h-0.9zM387.8 103.4h0.9v0.9h-0.9zM367.1 106.4h0.9v0.9h-0.9zM388.7 73.3h0.9v0.9h-0.9zM381.4 84.0h0.9v0.9h-0.9zM380.3 92.5h0.9v0.9h-0.9zM390.3 107.8h0.9v0.9h-0.9zM381.9 102.4h0.9v0.9h-0.9zM378.8 78.3h0.9v0.9h-0.9zM364.0 92.1h0.9v0.9h-0.9zM378.5 73.7h0.9v0.9h-0.9zM372.0 91.6h0.9v0.9h-0.9zM389.1 100.8h0.9v0.9h-0.9zM364.1 106.7h0.9v0.9h-0.9zM374.4 93.4h0.9v0.9h-0.9zM392.7 92.2h0.9v0.9h-0.9zM384.6 69.8h0.9v0.9h-0.9zM360.9 109.3h0.9v0.9h-0.9zM386.5 92.1h0.9v0.9h-0.9zM374.9 98.3h0.9v0.9h-0.9zM378.9 114.9h0.9v0.9h-0.9zM385.2 83.1h0.9v0.9h-0.9zM391.1 91.5h0.9v0.9h-0.9zM374.5 98.9h0.9v0.9h-0.9zM369.8 92.6h0.9v0.9h-0.9zM389.3 89.7h0.9v0.9h-0.9zM377.6 95.0h0.9v0.9h-0.9zM368.2 106.9h0.9v0.9h-0.9zM381.3 68.6h0.9v0.9h-0.9zM379.7 95.8h0.9v0.9h-0.9zM377.7 75.3h0.9v0.9h-0.9zM375.7 72.8h0.9v0.9h-0.9zM381.3 68.8h0.9v0.9h-0.9zM388.2 88.0h0.9v0.9h-0.9zM375.7 89.5h0.9v0.9h-0.9zM386.5 96.5h0.9v0.9h-0.9zM375.0 81.1h0.9v0.9h-0.9zM393.0 74.5h0.9v0.9h-0.9zM390.4 84.2h0.9v0.9h-0.9zM379.3 80.6h0.9v0.9h-0.9zM380.7 90.2h0.9v0.9h-0.9zM401.1 94.0h0.9v0.9h-0.9zM389.7 94.4h0.9v0.9h-0.9zM373.0 104.3h0.9v0.9h-0.9zM372.6 90.0h0.9v0.9h-0.9zM393.0 85.0h0.9v0.9h-0.9zM387.6 92.5h0.9v0.9h-0.9zM379.3 109.4h0.9v0.9h-0.9zM378.7 94.2h0.9v0.9h-0.9zM382.9 95.7h0.9v0.9h-0.9zM391.3 99.2h0.9v0.9h-0.9zM383.6 90.7h0.9v0.9h-0.9zM391.7 85.1h0.9v0.9h-0.9zM384.0 74.0h0.9v0.9h-0.9zM381.2 83.3h0.9v0.9h-0.9zM387.0 97.0h0.9v0.9h-0.9zM387.6 90.0h0.9v0.9h-0.9zM368.0 106.5h0.9v0.9h-0.9zM378.6 99.2h0.9v0.9h-0.9zM375.0 92.3h0.9v0.9h-0.9zM398.4 75.8h0.9v0.9h-0.9zM378.8 89.3h0.9v0.9h-0.9zM382.8 75.5h0.9v0.9h-0.9zM369.3 107.2h0.9v0.9h-0.9zM395.0 94.6h0.9v0.9h-0.9zM377.6 87.3h0.9v0.9h-0.9zM377.4 108.1h0.9v0.9h-0.9zM366.3 92.9h0.9v0.9h-0.9zM376.1 96.7h0.9v0.9h-0.9zM383.5 101.4h0.9v0.9h-0.9zM383.0 103.9h0.9v0.9h-0.9zM375.4 85.2h0.9v0.9h-0.9zM386.2 99.9h0.9v0.9h-0.9zM368.9 86.8h0.9v0.9h-0.9zM388.5 101.0h0.9v0.9h-0.9zM384.0 79.8h0.9v0.9h-0.9zM383.7 99.7h0.9v0.9h-0.9zM388.3 57.7h0.9v0.9h-0.9zM387.8 100.6h0.9v0.9h-0.9zM376.8 84.9h0.9v0.9h-0.9zM377.9 62.4h0.9v0.9h-0.9zM385.2 68.6h0.9v0.9h-0.9zM369.7 105.7h0.9v0.9h-0.9zM382.5 104.8h0.9v0.9h-0.9zM389.7 88.0h0.9v0.9h-0.9zM384.6 82.4h0.9v0.9h-0.9zM378.4 87.6h0.9v0.9h-0.9zM374.5 108.1h0.9v0.9h-0.9zM380.4 90.4h0.9v0.9h-0.9zM378.3 78.6h0.9v0.9h-0.9zM371.3 99.9h0.9v0.9h-0.9zM394.9 75.1h0.9v0.9h-0.9zM381.6 99.1h0.9v0.9h-0.9zM379.9 66.2h0.9v0.9h-0.9zM368.7 108.0h0.9v0.9h-0.9zM373.3 98.8h0.9v0.9h-0.9zM371.7 95.8h0.9v0.9h-0.9zM389.4 100.0h0.9v0.9h-0.9zM374.8 70.7h0.9v0.9h-0.9zM368.4 92.1h0.9v0.9h-0.9zM386.4 97.0h0.9v0.9h-0.9zM386.8 83.2h0.9v0.9h-0.9zM403.4 82.1h0.9v0.9h-0.9zM380.1 112.2h0.9v0.9h-0.9zM381.5 69.9h0.9v0.9h-0.9zM373.6 82.1h0.9v0.9h-0.9zM383.8 76.1h0.9v0.9h-0.9zM379.5 99.7h0.9v0.9h-0.9zM375.2 92.3h0.9v0.9h-0.9zM374.6 94.2h0.9v0.9h-0.9zM393.6 88.1h0.9v0.9h-0.9zM386.7 91.4h0.9v0.9h-0.9zM366.6 114.0h0.9v0.9h-0.9zM381.7 87.1h0.9v0.9h-0.9zM387.3 98.3h0.9v0.9h-0.9zM385.5 108.1h0.9v0.9h-0.9zM376.2 80.3h0.9v0.9h-0.9zM370.1 107.9h0.9v0.9h-0.9zM381.2 87.8h0.9v0.9h-0.9zM388.3 88.1h0.9v0.9h-0.9zM379.5 111.1h0.9v0.9h-0.9zM371.9 91.4h0.9v0.9h-0.9zM377.6 104.8h0.9v0.9h-0.9zM385.5 89.3h0.9v0.9h-0.9zM383.8 103.5h0.9v0.9h-0.9zM381.9 103.2h0.9v0.9h-0.9zM371.7 116.3h0.9v0.9h-0.9zM385.4 87.5h0.9v0.9h-0.9zM378.9 104.9h0.9v0.9h-0.9zM384.6 82.8h0.9v0.9h-0.9zM384.8 81.9h0.9v0.9h-0.9zM380.1 95.1h0.9v0.9h-0.9zM376.6 99.3h0.9v0.9h-0.9zM381.9 75.0h0.9v0.9h-0.9zM390.1 82.1h0.9v0.9h-0.9zM384.8 109.1h0.9v0.9h-0.9zM381.6 87.6h0.9v0.9h-0.9zM382.2 68.6h0.9v0.9h-0.9zM395.1 73.6h0.9v0.9h-0.9zM396.0 87.0h0.9v0.9h-0.9zM367.0 93.5h0.9v0.9h-0.9zM379.8 101.0h0.9v0.9h-0.9zM383.8 87.9h0.9v0.9h-0.9zM369.3 104.1h0.9v0.9h-0.9zM383.6 72.4h0.9v0.9h-0.9zM387.9 91.2h0.9v0.9h-0.9zM389.1 85.9h0.9v0.9h-0.9zM387.1 73.1h0.9v0.9h-0.9zM387.4 90.7h0.9v0.9h-0.9zM365.9 82.2h0.9v0.9h-0.9zM383.9 84.5h0.9v0.9h-0.9zM383.7 83.2h0.9v0.9h-0.9zM380.8 110.2h0.9v0.9h-0.9zM378.2 109.6h0.9v0.9h-0.9zM369.6 110.4h0.9v0.9h-0.9zM387.6 86.3h0.9v0.9h-0.9zM371.0 112.8h0.9v0.9h-0.9zM380.5 94.5h0.9v0.9h-0.9zM377.5 111.4h0.9v0.9h-0.9zM376.5 83.5h0.9v0.9h-0.9zM389.6 69.6h0.9v0.9h-0.9zM389.3 89.5h0.9v0.9h-0.9zM373.1 105.8h0.9v0.9h-0.9zM387.5 100.4h0.9v0.9h-0.9zM377.8 94.7h0.9v0.9h-0.9zM378.8 115.8h0.9v0.9h-0.9zM385.9 90.8h0.9v0.9h-0.9zM378.2 90.3h0.9v0.9h-0.9zM376.0 64.0h0.9v0.9h-0.9zM386.4 106.1h0.9v0.9h-0.9zM378.9 72.8h0.9v0.9h-0.9zM382.3 83.1h0.9v0.9h-0.9zM371.5 113.8h0.9v0.9h-0.9zM368.4 83.0h0.9v0.9h-0.9zM382.3 114.8h0.9v0.9h-0.9zM382.6 102.2h0.9v0.9h-0.9zM381.8 61.7h0.9v0.9h-0.9zM389.6 114.2h0.9v0.9h-0.9zM382.0 78.3h0.9v0.9h-0.9zM369.5 112.8h0.9v0.9h-0.9zM378.0 89.0h0.9v0.9h-0.9zM378.8 84.3h0.9v0.9h-0.9zM391.5 83.7h0.9v0.9h-0.9zM387.6 79.1h0.9v0.9h-0.9zM365.9 109.0h0.9v0.9h-0.9zM374.8 87.1h0.9v0.9h-0.9zM377.3 95.1h0.9v0.9h-0.9zM371.1 83.8h0.9v0.9h-0.9zM381.5 69.4h0.9v0.9h-0.9zM383.8 89.1h0.9v0.9h-0.9zM378.0 94.9h0.9v0.9h-0.9zM389.5 95.0h0.9v0.9h-0.9zM390.0 75.1h0.9v0.9h-0.9zM381.4 39.3h0.9v0.9h-0.9zM374.6 95.2h0.9v0.9h-0.9zM382.4 109.4h0.9v0.9h-0.9zM376.6 69.9h0.9v0.9h-0.9zM370.1 82.1h0.9v0.9h-0.9zM379.0 92.9h0.9v0.9h-0.9zM399.0 76.8h0.9v0.9h-0.9zM378.5 84.8h0.9v0.9h-0.9zM382.3 92.9h0.9v0.9h-0.9zM387.9 71.4h0.9v0.9h-0.9zM374.1 103.3h0.9v0.9h-0.9zM368.5 92.9h0.9v0.9h-0.9zM389.5 94.3h0.9v0.9h-0.9zM392.0 112.5h0.9v0.9h-0.9zM392.2 81.9h0.9v0.9h-0.9zM394.0 55.9h0.9v0.9h-0.9zM388.0 90.8h0.9v0.9h-0.9zM388.7 74.3h0.9v0.9h-0.9zM382.0 106.1h0.9v0.9h-0.9zM388.1 74.0h0.9v0.9h-0.9zM384.6 96.7h0.9v0.9h-0.9zM385.1 102.9h0.9v0.9h-0.9zM377.3 94.2h0.9v0.9h-0.9zM393.5 56.1h0.9v0.9h-0.9zM389.1 76.2h0.9v0.9h-0.9zM384.8 91.0h0.9v0.9h-0.9zM384.1 91.3h0.9v0.9h-0.9zM383.2 95.0h0.9v0.9h-0.9zM368.1 98.8h0.9v0.9h-0.9zM386.1 80.7h0.9v0.9h-0.9zM390.3 49.4h0.9v0.9h-0.9zM386.3 88.1h0.9v0.9h-0.9zM385.4 96.8h0.9v0.9h-0.9zM383.3 101.7h0.9v0.9h-0.9zM387.9 80.4h0.9v0.9h-0.9zM379.6 70.9h0.9v0.9h-0.9zM387.4 101.0h0.9v0.9h-0.9zM386.3 86.6h0.9v0.9h-0.9zM384.9 115.6h0.9v0.9h-0.9zM378.5 87.7h0.9v0.9h-0.9zM382.9 76.6h0.9v0.9h-0.9zM375.2 68.0h0.9v0.9h-0.9zM382.4 67.6h0.9v0.9h-0.9zM372.9 79.8h0.9v0.9h-0.9zM380.9 105.6h0.9v0.9h-0.9zM391.6 88.9h0.9v0.9h-0.9zM393.1 97.7h0.9v0.9h-0.9zM390.5 104.2h0.9v0.9h-0.9zM380.9 67.8h0.9v0.9h-0.9zM383.9 96.5h0.9v0.9h-0.9zM380.2 74.9h0.9v0.9h-0.9zM391.7 98.1h0.9v0.9h-0.9zM384.9 65.6h0.9v0.9h-0.9zM385.5 77.0h0.9v0.9h-0.9z" fill="#444"/>
<path d="M381,104 C381,92 383,80 388,68 M385,100 C387,88 390,76 393,66" stroke="#666" stroke-width="0.6" fill="none"/>
<path d="M372,104 L373.5,94" stroke="#333" stroke-width="1.2"/>
<rect x="355.9" y="3" width="143.40000000000003" height="114.8" fill="none" stroke="#000" stroke-width="1.6"/>
<line x1="352" y1="5.8" x2="355.9" y2="5.8" stroke="#000" stroke-width="1.2"/>
<line x1="354" y1="12.8" x2="355.9" y2="12.8" stroke="#000" stroke-width="0.9"/>
<line x1="354" y1="19.9" x2="355.9" y2="19.9" stroke="#000" stroke-width="0.9"/>
<line x1="354" y1="26.9" x2="355.9" y2="26.9" stroke="#000" stroke-width="0.9"/>
<line x1="352" y1="33.9" x2="355.9" y2="33.9" stroke="#000" stroke-width="1.2"/>
<line x1="354" y1="40.9" x2="355.9" y2="40.9" stroke="#000" stroke-width="0.9"/>
<line x1="354" y1="48" x2="355.9" y2="48" stroke="#000" stroke-width="0.9"/>
<line x1="354" y1="55" x2="355.9" y2="55" stroke="#000" stroke-width="0.9"/>
<line x1="352" y1="62" x2="355.9" y2="62" stroke="#000" stroke-width="1.2"/>
<line x1="354" y1="69" x2="355.9" y2="69" stroke="#000" stroke-width="0.9"/>
<line x1="354" y1="76" x2="355.9" y2="76" stroke="#000" stroke-width="0.9"/>
<line x1="354" y1="83.1" x2="355.9" y2="83.1" stroke="#000" stroke-width="0.9"/>
<line x1="352" y1="90.1" x2="355.9" y2="90.1" stroke="#000" stroke-width="1.2"/>
<line x1="354" y1="97.1" x2="355.9" y2="97.1" stroke="#000" stroke-width="0.9"/>
<line x1="354" y1="104.2" x2="355.9" y2="104.2" stroke="#000" stroke-width="0.9"/>
<line x1="354" y1="111.2" x2="355.9" y2="111.2" stroke="#000" stroke-width="0.9"/>
<line x1="352" y1="118.2" x2="355.9" y2="118.2" stroke="#000" stroke-width="1.2"/>
<line x1="355.9" y1="117.8" x2="355.9" y2="121.8" stroke="#000" stroke-width="1.2"/>
<line x1="364.9" y1="117.8" x2="364.9" y2="120" stroke="#000" stroke-width="0.9"/>
<line x1="373.8" y1="117.8" x2="373.8" y2="120" stroke="#000" stroke-width="0.9"/>
<line x1="382.8" y1="117.8" x2="382.8" y2="120" stroke="#000" stroke-width="0.9"/>
<line x1="391.8" y1="117.8" x2="391.8" y2="121.8" stroke="#000" stroke-width="1.2"/>
<line x1="400.7" y1="117.8" x2="400.7" y2="120" stroke="#000" stroke-width="0.9"/>
<line x1="409.7" y1="117.8" x2="409.7" y2="120" stroke="#000" stroke-width="0.9"/>
<line x1="418.6" y1="117.8" x2="418.6" y2="120" stroke="#000" stroke-width="0.9"/>
<line x1="427.6" y1="117.8" x2="427.6" y2="121.8" stroke="#000" stroke-width="1.2"/>
<line x1="436.6" y1="117.8" x2="436.6" y2="120" stroke="#000" stroke-width="0.9"/>
<line x1="445.5" y1="117.8" x2="445.5" y2="120" stroke="#000" stroke-width="0.9"/>
<line x1="454.5" y1="117.8" x2="454.5" y2="120" stroke="#000" stroke-width="0.9"/>
<line x1="463.4" y1="117.8" x2="463.4" y2="121.8" stroke="#000" stroke-width="1.2"/>
<line x1="472.4" y1="117.8" x2="472.4" y2="120" stroke="#000" stroke-width="0.9"/>
<line x1="481.4" y1="117.8" x2="481.4" y2="120" stroke="#000" stroke-width="0.9"/>
<line x1="490.3" y1="117.8" x2="490.3" y2="120" stroke="#000" stroke-width="0.9"/>
<line x1="499.3" y1="117.8" x2="499.3" y2="121.8" stroke="#000" stroke-width="1.2"/>
<text transform="translate(483.3,15.5) scale(1.1,1)" font-family='"Liberation Sans", sans-serif' font-size="12.3" font-weight="bold">C</text>
<text x="441" y="39.4" font-family='"Liberation Serif", serif' font-size="16.6" fill="#000" font-style="italic" stroke="#000" stroke-width="0.25">c-Myc<tspan font-size="12" dy="-6.5" letter-spacing="0.6">-/-</tspan></text>
<line x1="372" y1="22" x2="367.3" y2="55.4" stroke="#333" stroke-width="1.9"/>
<polygon points="365.9,65.3 363.7,53.9 371.1,54.9" fill="#333"/>
<text x="373" y="43.2" font-family='"Liberation Serif", serif' font-size="10.8" fill="#111" stroke="#fff" stroke-width="1.6" stroke-opacity="0.8" paint-order="stroke">2n</text>
<text x="386.5" y="34.4" font-family='"Liberation Serif", serif' font-size="10.8" fill="#111" stroke="#fff" stroke-width="1.6" stroke-opacity="0.8" paint-order="stroke">4n</text>
<text x="401.2" y="24.2" font-family='"Liberation Serif", serif' font-size="10.8" fill="#111" stroke="#fff" stroke-width="1.6" stroke-opacity="0.8" paint-order="stroke">8n</text>
<text x="359.3" y="17" font-family='"Liberation Serif", serif' font-size="11.3" fill="#444" textLength="34.2" lengthAdjust="spacing" stroke="#444" stroke-width="0.25">sub-G1</text>
<line x1="201" y1="129.2" x2="368.5" y2="129.2" stroke="#333" stroke-width="1.3"/>
<polygon points="375,129.2 367.5,131.4 367.5,126.9" fill="#333"/>
<text x="385.3" y="130.8" font-family='"Liberation Serif", serif' font-size="14" fill="#000" textLength="106.3" lengthAdjust="spacing" stroke="#000" stroke-width="0.25">Propidium Iodide</text>
<text x="227.2" y="148.4" font-family='"Liberation Serif", serif' font-size="10.8" fill="#222" text-anchor="middle" letter-spacing="2.6" stroke="#222" stroke-width="0.25">%</text>
<text x="274" y="148.4" font-family='"Liberation Serif", serif' font-size="10.8" fill="#222" text-anchor="middle" letter-spacing="1.1" stroke="#222" stroke-width="0.25">Sub-G1</text>
<text x="313.9" y="148.4" font-family='"Liberation Serif", serif' font-size="10.8" fill="#222" text-anchor="middle" letter-spacing="0.9" stroke="#222" stroke-width="0.25">2n</text>
<text x="347.5" y="148.4" font-family='"Liberation Serif", serif' font-size="10.8" fill="#222" text-anchor="middle" letter-spacing="0.9" stroke="#222" stroke-width="0.25">4n</text>
<text x="376.8" y="148.4" font-family='"Liberation Serif", serif' font-size="10.8" fill="#222" text-anchor="middle" letter-spacing="0.9" stroke="#222" stroke-width="0.25">8n</text>
<text x="405.9" y="148.4" font-family='"Liberation Serif", serif' font-size="10.8" fill="#222" text-anchor="middle" letter-spacing="0.9" stroke="#222" stroke-width="0.25">16n</text>
<text x="434.8" y="148.4" font-family='"Liberation Serif", serif' font-size="10.8" fill="#222" text-anchor="middle" letter-spacing="0.9" stroke="#222" stroke-width="0.25">32n</text>
<text x="463.4" y="148.4" font-family='"Liberation Serif", serif' font-size="10.8" fill="#222" text-anchor="middle" letter-spacing="0.9" stroke="#222" stroke-width="0.25">64n</text>
<text x="492.1" y="148.4" font-family='"Liberation Serif", serif' font-size="10.8" fill="#222" text-anchor="middle" letter-spacing="0.9" stroke="#222" stroke-width="0.25">128n</text>
<text x="227.2" y="160.8" font-family='"Liberation Serif", serif' font-size="10.8" fill="#222" text-anchor="middle" letter-spacing="2.6" stroke="#222" stroke-width="0.25">WT</text>
<text x="273.9" y="160.8" font-family='"Liberation Serif", serif' font-size="10.8" fill="#222" text-anchor="middle" letter-spacing="0.9" stroke="#222" stroke-width="0.25">0.25</text>
<text x="313.9" y="160.8" font-family='"Liberation Serif", serif' font-size="10.8" fill="#222" text-anchor="middle" letter-spacing="0.9" stroke="#222" stroke-width="0.25">7.8</text>
<text x="347.5" y="160.8" font-family='"Liberation Serif", serif' font-size="10.8" fill="#222" text-anchor="middle" letter-spacing="0.9" stroke="#222" stroke-width="0.25">35.7</text>
<text x="376.8" y="160.8" font-family='"Liberation Serif", serif' font-size="10.8" fill="#222" text-anchor="middle" letter-spacing="0.9" stroke="#222" stroke-width="0.25">26.1</text>
<text x="405.9" y="160.8" font-family='"Liberation Serif", serif' font-size="10.8" fill="#222" text-anchor="middle" letter-spacing="0.9" stroke="#222" stroke-width="0.25">15.2</text>
<text x="434.8" y="160.8" font-family='"Liberation Serif", serif' font-size="10.8" fill="#222" text-anchor="middle" letter-spacing="0.9" stroke="#222" stroke-width="0.25">9.7</text>
<text x="463.4" y="160.8" font-family='"Liberation Serif", serif' font-size="10.8" fill="#222" text-anchor="middle" letter-spacing="0.9" stroke="#222" stroke-width="0.25">2.8</text>
<text x="492.1" y="160.8" font-family='"Liberation Serif", serif' font-size="10.8" fill="#222" text-anchor="middle" letter-spacing="0.9" stroke="#222" stroke-width="0.25">1.1</text>
<text x="207.6" y="175" font-family='"Liberation Serif", serif' font-size="10.8" fill="#222" font-style="italic" letter-spacing="0.9">c-Myc<tspan font-size="6" dy="-6" letter-spacing="0">-/-</tspan></text>
<text x="273.9" y="175" font-family='"Liberation Serif", serif' font-size="10.8" fill="#222" text-anchor="middle" letter-spacing="0.9" stroke="#222" stroke-width="0.25">20.1</text>
<text x="313.9" y="175" font-family='"Liberation Serif", serif' font-size="10.8" fill="#222" text-anchor="middle" letter-spacing="0.9" stroke="#222" stroke-width="0.25">45.2</text>
<text x="347.5" y="175" font-family='"Liberation Serif", serif' font-size="10.8" fill="#222" text-anchor="middle" letter-spacing="0.9" stroke="#222" stroke-width="0.25">25.6</text>
<text x="376.8" y="175" font-family='"Liberation Serif", serif' font-size="10.8" fill="#222" text-anchor="middle" letter-spacing="0.9" stroke="#222" stroke-width="0.25">5.6</text>
<text x="405.9" y="175" font-family='"Liberation Serif", serif' font-size="10.8" fill="#222" text-anchor="middle" letter-spacing="0.9" stroke="#222" stroke-width="0.25">1.9</text>
<text x="434.8" y="175" font-family='"Liberation Serif", serif' font-size="10.8" fill="#222" text-anchor="middle" letter-spacing="0.9" stroke="#222" stroke-width="0.25">0.58</text>
<text x="463.4" y="175" font-family='"Liberation Serif", serif' font-size="10.8" fill="#222" text-anchor="middle" letter-spacing="0.9" stroke="#222" stroke-width="0.25">0.25</text>
<text x="492.1" y="175" font-family='"Liberation Serif", serif' font-size="10.8" fill="#222" text-anchor="middle" letter-spacing="0.9" stroke="#222" stroke-width="0.25">0.1</text>
<line x1="198.6" y1="136.4" x2="507" y2="136.4" stroke="#000" stroke-width="1.9"/>
<line x1="198.6" y1="148.8" x2="507" y2="148.8" stroke="#000" stroke-width="1.9"/>
<line x1="198.6" y1="161.2" x2="507" y2="161.2" stroke="#000" stroke-width="1.9"/>
<line x1="198.6" y1="175.4" x2="507" y2="175.4" stroke="#000" stroke-width="1.9"/>
<line x1="199.6" y1="136.4" x2="199.6" y2="175.4" stroke="#000" stroke-width="1.9"/>
<line x1="252.3" y1="136.4" x2="252.3" y2="175.4" stroke="#000" stroke-width="1.9"/>
<line x1="294.6" y1="136.4" x2="294.6" y2="175.4" stroke="#000" stroke-width="1.9"/>
<line x1="332.3" y1="136.4" x2="332.3" y2="175.4" stroke="#000" stroke-width="1.9"/>
<line x1="361.8" y1="136.4" x2="361.8" y2="175.4" stroke="#000" stroke-width="1.9"/>
<line x1="390.8" y1="136.4" x2="390.8" y2="175.4" stroke="#000" stroke-width="1.9"/>
<line x1="420.1" y1="136.4" x2="420.1" y2="175.4" stroke="#000" stroke-width="1.9"/>
<line x1="448.6" y1="136.4" x2="448.6" y2="175.4" stroke="#000" stroke-width="1.9"/>
<line x1="477.4" y1="136.4" x2="477.4" y2="175.4" stroke="#000" stroke-width="1.9"/>
<line x1="506" y1="136.4" x2="506" y2="175.4" stroke="#000" stroke-width="1.9"/>
<text transform="translate(0.8,199.3) scale(1.1,1)" font-family='"Liberation Sans", sans-serif' font-size="12.0" font-weight="bold">D</text>
<line x1="41.1" y1="193.3" x2="41.1" y2="331.5" stroke="#7a7a7a" stroke-width="1.2"/>
<line x1="41.1" y1="331.5" x2="156.5" y2="331.5" stroke="#7a7a7a" stroke-width="1.2"/>
<line x1="37.9" y1="331.5" x2="41.1" y2="331.5" stroke="#7a7a7a" stroke-width="1.2"/>
<text transform="translate(36.9,334.5) scale(1.2,1)" font-family='"Liberation Sans", sans-serif' font-size="11.5" fill="#111" text-anchor="end" stroke="#111" stroke-width="0.25">0</text>
<line x1="37.9" y1="308.5" x2="41.1" y2="308.5" stroke="#7a7a7a" stroke-width="1.2"/>
<line x1="37.9" y1="285.4" x2="41.1" y2="285.4" stroke="#7a7a7a" stroke-width="1.2"/>
<text transform="translate(36.9,288.4) scale(1.2,1)" font-family='"Liberation Sans", sans-serif' font-size="11.5" fill="#111" text-anchor="end" stroke="#111" stroke-width="0.25">10</text>
<line x1="37.9" y1="262.4" x2="41.1" y2="262.4" stroke="#7a7a7a" stroke-width="1.2"/>
<line x1="37.9" y1="239.4" x2="41.1" y2="239.4" stroke="#7a7a7a" stroke-width="1.2"/>
<text transform="translate(36.9,242.4) scale(1.2,1)" font-family='"Liberation Sans", sans-serif' font-size="11.5" fill="#111" text-anchor="end" stroke="#111" stroke-width="0.25">20</text>
<line x1="37.9" y1="216.4" x2="41.1" y2="216.4" stroke="#7a7a7a" stroke-width="1.2"/>
<line x1="37.9" y1="193.3" x2="41.1" y2="193.3" stroke="#7a7a7a" stroke-width="1.2"/>
<text transform="translate(36.9,196.3) scale(1.2,1)" font-family='"Liberation Sans", sans-serif' font-size="11.5" fill="#111" text-anchor="end" stroke="#111" stroke-width="0.25">30</text>
<rect x="48.3" y="298.9" width="12.9" height="32.6" fill="#b2b2b2" stroke="#000" stroke-width="1.4"/>
<line x1="54.8" y1="298.9" x2="54.8" y2="289.8" stroke="#000" stroke-width="1.3"/>
<line x1="53" y1="289.8" x2="56.5" y2="289.8" stroke="#000" stroke-width="1.6"/>
<rect x="61.2" y="210.6" width="14.1" height="120.9" fill="#333" stroke="#000" stroke-width="1.4"/>
<line x1="68.2" y1="210.6" x2="68.2" y2="201.2" stroke="#000" stroke-width="1.3"/>
<line x1="66.5" y1="201.2" x2="70" y2="201.2" stroke="#000" stroke-width="1.6"/>
<rect x="85.9" y="293.6" width="13.7" height="37.9" fill="#b2b2b2" stroke="#000" stroke-width="1.4"/>
<line x1="92.8" y1="293.6" x2="92.8" y2="282.6" stroke="#000" stroke-width="1.3"/>
<line x1="91" y1="282.6" x2="94.5" y2="282.6" stroke="#000" stroke-width="1.6"/>
<rect x="99.6" y="317" width="13.6" height="14.5" fill="#333" stroke="#000" stroke-width="1.4"/>
<line x1="106.4" y1="317" x2="106.4" y2="315.3" stroke="#000" stroke-width="1.3"/>
<line x1="104.6" y1="315.3" x2="108.2" y2="315.3" stroke="#000" stroke-width="1.6"/>
<rect x="124.3" y="327.6" width="14.2" height="3.9" fill="#b2b2b2" stroke="#000" stroke-width="1.4"/>
<line x1="131.4" y1="327.6" x2="131.4" y2="326.2" stroke="#000" stroke-width="1.3"/>
<line x1="129.6" y1="326.2" x2="133.2" y2="326.2" stroke="#000" stroke-width="1.6"/>
<rect x="138.5" y="330" width="14.5" height="1.5" fill="#333" stroke="#000" stroke-width="1.4"/>
<text x="68.6" y="202" font-family='"Liberation Serif", serif' font-size="11.5" fill="#666" text-anchor="middle" stroke="#666" stroke-width="0.25">**</text>
<text x="106.2" y="313" font-family='"Liberation Serif", serif' font-size="11.5" fill="#666" text-anchor="middle" stroke="#666" stroke-width="0.25">*</text>
<text x="145.5" y="328.6" font-family='"Liberation Serif", serif' font-size="11.5" fill="#666" text-anchor="middle" stroke="#666" stroke-width="0.25">*</text>
<text x="48.8" y="342.9" font-family='"Liberation Serif", serif' font-size="12" fill="#000" textLength="22.2" lengthAdjust="spacing" stroke="#000" stroke-width="0.25">&lt;8N</text>
<text x="85.2" y="342.9" font-family='"Liberation Serif", serif' font-size="12" fill="#000" textLength="30.4" lengthAdjust="spacing" stroke="#000" stroke-width="0.25">8-32N</text>
<text x="122.9" y="342.9" font-family='"Liberation Serif", serif' font-size="12" fill="#000" textLength="26.9" lengthAdjust="spacing" stroke="#000" stroke-width="0.25">&gt;32N</text>
<text x="101.2" y="247.9" font-family='"Liberation Serif", serif' font-size="14.3" fill="#000" textLength="20.8" lengthAdjust="spacing" stroke="#000" stroke-width="0.25">n=3</text>
<text transform="translate(18.2,286) rotate(-90)" font-family='"Liberation Serif", serif' font-size="17"><tspan textLength="26.6" lengthAdjust="spacingAndGlyphs">X10</tspan><tspan x="28.3" dy="-9.4" font-size="12">6</tspan></text>
<text transform="translate(168.2,211.4) scale(1.0,1)" font-family='"Liberation Sans", sans-serif' font-size="13.6" font-weight="bold">E</text>
<line x1="208.8" y1="208.3" x2="208.8" y2="335.5" stroke="#7a7a7a" stroke-width="1.2"/>
<line x1="208.8" y1="335.5" x2="296.5" y2="335.5" stroke="#7a7a7a" stroke-width="1.2"/>
<line x1="206.6" y1="335.5" x2="208.8" y2="335.5" stroke="#7a7a7a" stroke-width="1.2"/>
<text transform="translate(204.5,339.9) scale(0.93,1)" font-family='"Liberation Serif", serif' font-size="11.8" fill="#222" text-anchor="end" stroke="#222" stroke-width="0.25">0</text>
<line x1="206.6" y1="317.3" x2="208.8" y2="317.3" stroke="#7a7a7a" stroke-width="1.2"/>
<text transform="translate(206,321.7) scale(0.93,1)" font-family='"Liberation Serif", serif' font-size="11.8" fill="#222" text-anchor="end" stroke="#222" stroke-width="0.25">0.2</text>
<line x1="206.6" y1="299.1" x2="208.8" y2="299.1" stroke="#7a7a7a" stroke-width="1.2"/>
<text transform="translate(206,303.5) scale(0.93,1)" font-family='"Liberation Serif", serif' font-size="11.8" fill="#222" text-anchor="end" stroke="#222" stroke-width="0.25">0.4</text>
<line x1="206.6" y1="281" x2="208.8" y2="281" stroke="#7a7a7a" stroke-width="1.2"/>
<text transform="translate(206,285.4) scale(0.93,1)" font-family='"Liberation Serif", serif' font-size="11.8" fill="#222" text-anchor="end" stroke="#222" stroke-width="0.25">0.6</text>
<line x1="206.6" y1="262.8" x2="208.8" y2="262.8" stroke="#7a7a7a" stroke-width="1.2"/>
<text transform="translate(206,267.2) scale(0.93,1)" font-family='"Liberation Serif", serif' font-size="11.8" fill="#222" text-anchor="end" stroke="#222" stroke-width="0.25">0.8</text>
<line x1="206.6" y1="244.6" x2="208.8" y2="244.6" stroke="#7a7a7a" stroke-width="1.2"/>
<text transform="translate(206,249) scale(0.93,1)" font-family='"Liberation Serif", serif' font-size="11.8" fill="#222" text-anchor="end" stroke="#222" stroke-width="0.25">1</text>
<line x1="206.6" y1="226.4" x2="208.8" y2="226.4" stroke="#7a7a7a" stroke-width="1.2"/>
<text transform="translate(206,230.8) scale(0.93,1)" font-family='"Liberation Serif", serif' font-size="11.8" fill="#222" text-anchor="end" stroke="#222" stroke-width="0.25">1.2</text>
<line x1="206.6" y1="208.2" x2="208.8" y2="208.2" stroke="#7a7a7a" stroke-width="1.2"/>
<text transform="translate(206,212.6) scale(0.93,1)" font-family='"Liberation Serif", serif' font-size="11.8" fill="#222" text-anchor="end" stroke="#222" stroke-width="0.25">1.4</text>
<rect x="218.8" y="245.2" width="14.4" height="90.3" fill="#b2b2b2" stroke="#000" stroke-width="1.4"/>
<line x1="226" y1="245.2" x2="226" y2="238.6" stroke="#000" stroke-width="1.3"/>
<line x1="224.2" y1="238.6" x2="227.8" y2="238.6" stroke="#000" stroke-width="1.6"/>
<rect x="233.2" y="307.2" width="13.6" height="28.3" fill="#333" stroke="#000" stroke-width="1.4"/>
<line x1="240" y1="307.2" x2="240" y2="300.8" stroke="#000" stroke-width="1.3"/>
<line x1="238.2" y1="300.8" x2="241.8" y2="300.8" stroke="#000" stroke-width="1.6"/>
<rect x="266.4" y="245.5" width="14" height="90" fill="#b2b2b2" stroke="#000" stroke-width="1.4"/>
<line x1="273.4" y1="245.5" x2="273.4" y2="228.9" stroke="#000" stroke-width="1.3"/>
<line x1="271.6" y1="228.9" x2="275.2" y2="228.9" stroke="#000" stroke-width="1.6"/>
<rect x="280.4" y="304.9" width="13.5" height="30.6" fill="#333" stroke="#000" stroke-width="1.4"/>
<line x1="287.1" y1="304.9" x2="287.1" y2="301.6" stroke="#000" stroke-width="1.3"/>
<line x1="285.3" y1="301.6" x2="288.9" y2="301.6" stroke="#000" stroke-width="1.6"/>
<text x="241.3" y="287.5" font-family='"Liberation Serif", serif' font-size="11.5" fill="#666" text-anchor="middle" stroke="#666" stroke-width="0.25">**</text>
<text x="286.6" y="284.1" font-family='"Liberation Serif", serif' font-size="11.5" fill="#666" text-anchor="middle" stroke="#666" stroke-width="0.25">**</text>
<text x="226.6" y="220.2" font-family='"Liberation Serif", serif' font-size="12.8" fill="#000" textLength="38.7" lengthAdjust="spacingAndGlyphs" stroke="#000" stroke-width="0.25">Mk-Ps</text>
<text x="203.4" y="347.7" font-family='"Liberation Serif", serif' font-size="12.2" fill="#000" textLength="45.2" lengthAdjust="spacingAndGlyphs" stroke="#000" stroke-width="0.25">Cyclin D1</text>
<text x="257.4" y="347.7" font-family='"Liberation Serif", serif' font-size="12.2" fill="#000" textLength="46" lengthAdjust="spacingAndGlyphs" stroke="#000" stroke-width="0.25">Cyclin D2</text>
<text transform="translate(181,310.3) rotate(-90)" font-family='"Liberation Serif", serif' font-size="15" fill="#000" textLength="69.2" lengthAdjust="spacingAndGlyphs" stroke="#000" stroke-width="0.25">relative ratio</text>
<text transform="translate(318.7,203.8) scale(0.98,1)" font-family='"Liberation Sans", sans-serif' font-size="13.4" font-weight="bold">F</text>
<polygon points="342,309.5 342.6,301 345.5,290 347.6,281 349.6,272 351.6,261 353.2,250 354.4,240 354.9,228 355.8,215 357.2,205 358.3,199.5 359.5,198.5 360.8,200 361.2,208 360.8,215 359.6,228 358.6,240 356.8,250 354.4,261 352,272 350,281 348,290 345.6,301 343.6,309.5" fill="#222"/>
<polyline points="358.6,198.6 359.3,197.5 361.6,198.6 362.1,197.7 362.5,194.9 364.4,197.6 365.4,193 365.4,198.2 367.1,197.5 368.2,200.1 369.3,199 370,199.2 371.4,201.2 371.2,201.7 372.4,202.3 371.8,204.6 372.7,206.6 373.5,205.9 373.7,208.7 373.7,210.6 373.5,211 373.6,212.5 374.8,214.2 375,215.5 374.9,216.2 374.7,217.9 375.9,218.5 375.4,221.1 375.8,222.8 375.6,222.7 375.9,224.2 376.1,225.9 376.5,226.1 376.5,227.5 376.3,228.3 376.9,230.5 376.7,232 376.8,232.5 376.8,234.8 376.6,235.6 377,237.5 377.4,237.5 377.1,238.2 378,241 378.5,240.8 378.7,242.5 378.4,243.6 378.6,244.8 378.4,246.1 378.6,247.8 378.9,248.7 379,250 378.7,251.2 379.1,252.9 379.6,253 379.2,254.6 379.6,255.9 379.7,257.7 379.8,258.3 380.1,259.9 380.2,262.1 381,262.2 381.1,263.8 381.4,265.1 381.6,266.5 381.8,267.5 382.1,268.5 382.1,269.5 382.4,271 382.5,272.2 382.7,273.1 383,274.1 383.2,275.6 383.4,276.7 383.7,278 383.9,279.7 384.1,281 384.5,282 384.5,283.3 384.7,284.6 385,285.7 385.2,287.2 385.5,288.1 385.9,289.5 386.1,290.8 386.1,292.2 386.6,293.4 386.8,294.7 387,296.1 387.4,297.5 387.6,298.5 387.7,299.7 388,301.1 388.2,302.5 388.4,303.9 388.6,305 388.8,306.1 388.9,307.5 389.2,308.6 389.3,309.7 389.5,310.9 389.7,312.1 389.8,313.4 390,314.5 390.7,315.7 391.3,316.8 392,318 393.3,318.3 394.7,318.7 396,319 397.3,318.9 398.7,318.9 400,318.8 401.5,318.8 403,318.8 404.5,317.9 406,317 407,316.2 408,315.5 409,314.8 410,314 411.5,313.2 413,312.5 414.4,311.4 415.8,310.3 416.9,311.1 418,312 418.7,313 419.3,314 420,315 421,316 422,317 423,318 424,319 424.9,319.9 425.8,320.8 426.7,321.7 427.6,322.6 428.5,323.5 429.6,324.1 430.8,324.8 431.9,325.4 433,326 434.2,326.5 435.4,327 436.5,327.5 437.7,328 439.1,328.3 440.6,328.5 442,328.8" fill="none" stroke="#1e1e1e" stroke-width="1.6" stroke-linejoin="round"/>
<polyline points="358.5,200.9 360,200.7 360.9,198.2 362.1,199.7 363.5,200.9 364.5,199.5 365.4,201.7 365.6,203.2 366.3,204.4 366.8,206.8 366.8,207.8 367,208.6 367.3,210.8 367.2,211.4 367.2,213.5 367.7,214.7 367.4,214.1 367.2,215.6 367.9,216.4 367.9,219.6 368,220.3 368.7,220.9 369,223.4 368.8,224.6 368.8,226.4 369.2,226.8 369.2,228.3 369.4,229.2 370.2,230.9 370.5,232.2 369.8,232.5 370.8,233.8 370.3,235.4 370.6,235.4 370.6,237.7 371.1,238.9 371.3,239.8 371.5,240 371.1,243.3 371.4,244.1 372.4,245.4 372.5,246 372.3,247.9 372.9,248.1 373,250 373,251.1 373.3,252.5 373.2,254 373.9,255.1 374,255.7 374.5,257.5 374.6,259 374.9,259.3 374.5,261.4 375,262.6 375.2,263.2 375.6,265 375.7,266.5 376.2,267.9 376.2,268.8 376.6,269.5 376.8,271.1 377,272.2 377,273.5 377.2,274.9 377.8,276.1 377.6,277.1 378,278.8 378.4,279.8 378.6,280.8 379,282.6 379,283.4 379.4,284.6 379.6,285.5 380,287.2 380.3,288.1 380.7,289.6 381.1,291 381.5,292.2 381.8,293.2 382.1,294.8 382.4,295.9 382.8,297 383.1,298.1 383.3,299.7 383.5,300.6 383.8,301.8 383.9,302.9 384.3,304.1 384.7,305.5 385,306.8 385.4,308 385.9,309.3 386.3,310.6 386.9,311.8 387.4,313.2 388,314.5 389,315.6 390,316.8 391,318 392.2,318.6 393.5,319.3 394.7,319.9 396,320.5 397.2,321 398.4,321.4 399.6,321.9 400.8,322.3 402,322.8 403.2,323.2 404.4,323.6 405.6,324 406.8,324.4 408,324.8 409.3,325.1 410.6,325.5 412,325.8 413.3,326.2 414.6,326.5 415.8,326.7 417.1,326.9 418.3,327.1 419.5,327.2 420.8,327.4 422,327.6 423.3,327.7 424.7,327.8 426,328 427.3,328.1 428.7,328.2 430,328.3 431.4,328.4 432.8,328.5 434.2,328.5 435.6,328.6 437,328.7" fill="none" stroke="#1e1e1e" stroke-width="1.6" stroke-linejoin="round"/>
<polyline points="357.6,201.3 359,196.8 360.2,198.8 362.8,199.9 362,194.8 363.3,194.3 364.8,196.6 367.6,197 365.6,197.7 367.8,201.2 368.4,198.1 369.4,197.9 369.9,200.3 371.6,201.5 371.5,205 373,199.9 373.6,207.2 372.7,207.7 373,206.3 373.5,211 373.7,210.2 374.8,211.9 373.2,215.2 374.7,213.7 374.8,216.3 373.8,218 376,221 375.6,220 375.2,222.2 376.4,221.2 374.6,221.7 374.7,228.3 376,226.8 375.9,227.6 376.1,230.2 377.3,227.1 376.5,233.4 376,234.4 377.6,235.7 376.9,234.1 377,237.5 378.2,237.7 377.4,239.3 378,240" fill="none" stroke="#2a2a2a" stroke-width="1.1" stroke-linejoin="round"/>
<polyline points="358.6,201.7 360.2,200.9 362,197.2 362.8,201.7 359.9,200 364.4,197.7 364.8,202.5 366.9,206.6 366.1,204.8 366.6,210.4 367.9,206.5 367.1,207.5 367.2,211.7 366.7,212 366.9,211.8 367.4,213.3 366.7,213.6 367.6,215.6 370.3,217.4 367.5,218.5 367.8,220 367.3,224.1 368.1,224.7 368.6,223.4 370.1,224.6 369,228.6 369.8,228.1 370,225.4 369.5,227.3 369.9,230.2 369.8,233.2 370.2,235.1 369.9,235.5 370.7,236.1 371.2,237.5 370.2,239.6 371.2,240" fill="none" stroke="#2a2a2a" stroke-width="1.1" stroke-linejoin="round"/>
<polyline points="359.4,196.1 359.6,197.9 362.4,200.7 362,198.1 362.4,198.9 364.3,198.7 365.5,194.5 364.5,194.7 367,199.7 368.8,202.1 370.7,199.9 371.1,199.3 370.2,199.1 370.3,201.9 371.1,202.8 371,203.8 372.4,204.8 373.8,208.4 372.4,207.9 374,206.8 374.3,207.5 373.9,213.6 376.5,212.2 373.5,214.7 373.7,217.7 374.8,216.3 376,218.1 375.9,219.4 375.8,223.2 375.9,225.2 375.9,224.3 375.9,225.7 376.5,226.1 375.1,227.5 376.5,229.8 376.2,230.7 376.5,229.8 376.9,231.7 376.2,234.5 377.2,237.2 376.9,237.2 377.8,237.4 376.9,238.4 378,240" fill="none" stroke="#2a2a2a" stroke-width="1.1" stroke-linejoin="round"/>
<polyline points="359.1,202.6 358.4,198.2 361.7,197.5 361.5,202.1 362.6,199.4 364.1,196 366.6,202.9 365.8,202.4 366.8,205.3 366.7,207.9 365.8,205.9 367.5,208.3 367.3,210.9 367.9,212.7 368.1,212.6 368.3,210.6 367,216.8 367.8,217 368.1,219.2 367.4,217.8 367.9,219.7 368.9,219.4 369,224.6 369.9,223.6 368.5,226.4 369.8,227.2 368.8,228.7 369.3,231.1 368.7,230.8 370.2,233.1 370.9,232.4 369.6,234.9 371.3,234.5 369.5,234.9 371,238.1 371.1,239.6 371.2,240" fill="none" stroke="#2a2a2a" stroke-width="1.1" stroke-linejoin="round"/>
<line x1="358.2" y1="201.4" x2="358.2" y2="210.5" stroke="#262626" stroke-width="0.9"/>
<line x1="369.8" y1="199.9" x2="369.8" y2="203.7" stroke="#262626" stroke-width="0.9"/>
<line x1="364.3" y1="196.7" x2="364.3" y2="207.5" stroke="#262626" stroke-width="0.9"/>
<line x1="367.8" y1="199.6" x2="367.8" y2="210.4" stroke="#262626" stroke-width="0.9"/>
<line x1="367.1" y1="198.8" x2="367.1" y2="204" stroke="#262626" stroke-width="0.9"/>
<line x1="359.8" y1="199.6" x2="359.8" y2="208.8" stroke="#262626" stroke-width="0.9"/>
<line x1="360" y1="199.1" x2="360" y2="203.7" stroke="#262626" stroke-width="0.9"/>
<line x1="358.4" y1="200.3" x2="358.4" y2="209.7" stroke="#262626" stroke-width="0.9"/>
<line x1="358.4" y1="201" x2="358.4" y2="207.9" stroke="#262626" stroke-width="0.9"/>
<line x1="371.3" y1="202.6" x2="371.3" y2="206.8" stroke="#262626" stroke-width="0.9"/>
<line x1="369.7" y1="200.1" x2="369.7" y2="204.4" stroke="#262626" stroke-width="0.9"/>
<line x1="365.1" y1="196.9" x2="365.1" y2="201.1" stroke="#262626" stroke-width="0.9"/>
<line x1="361.2" y1="198.5" x2="361.2" y2="206.7" stroke="#262626" stroke-width="0.9"/>
<line x1="357.7" y1="204" x2="357.7" y2="207.7" stroke="#262626" stroke-width="0.9"/>
<line x1="370.4" y1="200.9" x2="370.4" y2="211.2" stroke="#262626" stroke-width="0.9"/>
<line x1="361" y1="199.8" x2="361" y2="207" stroke="#262626" stroke-width="0.9"/>
<line x1="358" y1="203" x2="358" y2="208.3" stroke="#262626" stroke-width="0.9"/>
<line x1="370.5" y1="200.3" x2="370.5" y2="204.9" stroke="#262626" stroke-width="0.9"/>
<line x1="372.3" y1="204.6" x2="372.3" y2="210.9" stroke="#262626" stroke-width="0.9"/>
<line x1="360.4" y1="199.4" x2="360.4" y2="210.1" stroke="#262626" stroke-width="0.9"/>
<line x1="365.1" y1="196.5" x2="365.1" y2="204.9" stroke="#262626" stroke-width="0.9"/>
<line x1="369.3" y1="200.8" x2="369.3" y2="205.1" stroke="#262626" stroke-width="0.9"/>
<line x1="370.3" y1="200.6" x2="370.3" y2="208.5" stroke="#262626" stroke-width="0.9"/>
<line x1="364.5" y1="196.1" x2="364.5" y2="203.1" stroke="#262626" stroke-width="0.9"/>
<line x1="360.7" y1="198.8" x2="360.7" y2="209.4" stroke="#262626" stroke-width="0.9"/>
<line x1="369.8" y1="200.8" x2="369.8" y2="205.7" stroke="#262626" stroke-width="0.9"/>
<line x1="358.9" y1="199.5" x2="358.9" y2="203.9" stroke="#262626" stroke-width="0.9"/>
<line x1="362.1" y1="197.8" x2="362.1" y2="207.6" stroke="#262626" stroke-width="0.9"/>
<line x1="362.9" y1="198.5" x2="362.9" y2="203.3" stroke="#262626" stroke-width="0.9"/>
<line x1="370.5" y1="200.9" x2="370.5" y2="210.3" stroke="#262626" stroke-width="0.9"/>
<line x1="359.2" y1="199" x2="359.2" y2="214" stroke="#222" stroke-width="1.2"/>
<line x1="362.6" y1="196.5" x2="362.6" y2="208" stroke="#222" stroke-width="1.2"/>
<line x1="365.4" y1="195.2" x2="365.4" y2="205" stroke="#222" stroke-width="1.2"/>
<line x1="370.9" y1="200" x2="370.9" y2="209" stroke="#222" stroke-width="1.2"/>
<line x1="373.5" y1="207" x2="373.5" y2="216" stroke="#222" stroke-width="1.2"/>
<line x1="356.4" y1="210" x2="356.4" y2="224" stroke="#222" stroke-width="1.2"/>
<line x1="357.6" y1="203" x2="357.6" y2="218" stroke="#222" stroke-width="1.2"/>
<line x1="368.2" y1="198.5" x2="368.2" y2="206" stroke="#222" stroke-width="1.2"/>
<line x1="375.2" y1="213" x2="375.2" y2="224" stroke="#222" stroke-width="1.2"/>
<line x1="376.5" y1="222" x2="376.5" y2="232" stroke="#222" stroke-width="1.2"/>
<line x1="354.8" y1="225" x2="354.8" y2="238" stroke="#222" stroke-width="1.2"/>
<line x1="360.2" y1="200" x2="360.2" y2="225" stroke="#222" stroke-width="1.2"/>
<line x1="363.8" y1="197" x2="363.8" y2="204" stroke="#222" stroke-width="1.2"/>
<line x1="341.2" y1="190.9" x2="341.2" y2="329.6" stroke="#000" stroke-width="1.6"/>
<line x1="340.4" y1="328.9" x2="492" y2="328.9" stroke="#000" stroke-width="1.6"/>
<line x1="336.6" y1="328.9" x2="341.2" y2="328.9" stroke="#000" stroke-width="1.3"/>
<line x1="339.3" y1="322.4" x2="341.2" y2="322.4" stroke="#000" stroke-width="0.9"/>
<line x1="339.3" y1="315.8" x2="341.2" y2="315.8" stroke="#000" stroke-width="0.9"/>
<line x1="339.3" y1="309.3" x2="341.2" y2="309.3" stroke="#000" stroke-width="0.9"/>
<line x1="336.6" y1="302.8" x2="341.2" y2="302.8" stroke="#000" stroke-width="1.3"/>
<line x1="339.3" y1="296.3" x2="341.2" y2="296.3" stroke="#000" stroke-width="0.9"/>
<line x1="339.3" y1="289.7" x2="341.2" y2="289.7" stroke="#000" stroke-width="0.9"/>
<line x1="339.3" y1="283.2" x2="341.2" y2="283.2" stroke="#000" stroke-width="0.9"/>
<line x1="336.6" y1="276.7" x2="341.2" y2="276.7" stroke="#000" stroke-width="1.3"/>
<line x1="339.3" y1="270.2" x2="341.2" y2="270.2" stroke="#000" stroke-width="0.9"/>
<line x1="339.3" y1="263.6" x2="341.2" y2="263.6" stroke="#000" stroke-width="0.9"/>
<line x1="339.3" y1="257.1" x2="341.2" y2="257.1" stroke="#000" stroke-width="0.9"/>
<line x1="336.6" y1="250.6" x2="341.2" y2="250.6" stroke="#000" stroke-width="1.3"/>
<line x1="339.3" y1="244.1" x2="341.2" y2="244.1" stroke="#000" stroke-width="0.9"/>
<line x1="339.3" y1="237.5" x2="341.2" y2="237.5" stroke="#000" stroke-width="0.9"/>
<line x1="339.3" y1="231" x2="341.2" y2="231" stroke="#000" stroke-width="0.9"/>
<line x1="336.6" y1="224.5" x2="341.2" y2="224.5" stroke="#000" stroke-width="1.3"/>
<line x1="339.3" y1="218" x2="341.2" y2="218" stroke="#000" stroke-width="0.9"/>
<line x1="339.3" y1="211.4" x2="341.2" y2="211.4" stroke="#000" stroke-width="0.9"/>
<line x1="339.3" y1="204.9" x2="341.2" y2="204.9" stroke="#000" stroke-width="0.9"/>
<line x1="336.6" y1="198.4" x2="341.2" y2="198.4" stroke="#000" stroke-width="1.3"/>
<line x1="341.2" y1="328.9" x2="341.2" y2="333.1" stroke="#000" stroke-width="1.3"/>
<line x1="350.8" y1="328.9" x2="350.8" y2="331.7" stroke="#000" stroke-width="1.1"/>
<line x1="356.5" y1="328.9" x2="356.5" y2="331.7" stroke="#000" stroke-width="1.1"/>
<line x1="360.5" y1="328.9" x2="360.5" y2="331.7" stroke="#000" stroke-width="1.1"/>
<line x1="363.6" y1="328.9" x2="363.6" y2="331.7" stroke="#000" stroke-width="1.1"/>
<line x1="366.1" y1="328.9" x2="366.1" y2="331.7" stroke="#000" stroke-width="1.1"/>
<line x1="368.2" y1="328.9" x2="368.2" y2="331.7" stroke="#000" stroke-width="1.1"/>
<line x1="370.1" y1="328.9" x2="370.1" y2="331.7" stroke="#000" stroke-width="1.1"/>
<line x1="371.7" y1="328.9" x2="371.7" y2="331.7" stroke="#000" stroke-width="1.1"/>
<line x1="373.2" y1="328.9" x2="373.2" y2="333.1" stroke="#000" stroke-width="1.3"/>
<line x1="382.8" y1="328.9" x2="382.8" y2="331.7" stroke="#000" stroke-width="1.1"/>
<line x1="388.5" y1="328.9" x2="388.5" y2="331.7" stroke="#000" stroke-width="1.1"/>
<line x1="392.5" y1="328.9" x2="392.5" y2="331.7" stroke="#000" stroke-width="1.1"/>
<line x1="395.6" y1="328.9" x2="395.6" y2="331.7" stroke="#000" stroke-width="1.1"/>
<line x1="398.1" y1="328.9" x2="398.1" y2="331.7" stroke="#000" stroke-width="1.1"/>
<line x1="400.2" y1="328.9" x2="400.2" y2="331.7" stroke="#000" stroke-width="1.1"/>
<line x1="402.1" y1="328.9" x2="402.1" y2="331.7" stroke="#000" stroke-width="1.1"/>
<line x1="403.7" y1="328.9" x2="403.7" y2="331.7" stroke="#000" stroke-width="1.1"/>
<line x1="405.2" y1="328.9" x2="405.2" y2="333.1" stroke="#000" stroke-width="1.3"/>
<line x1="414.8" y1="328.9" x2="414.8" y2="331.7" stroke="#000" stroke-width="1.1"/>
<line x1="420.5" y1="328.9" x2="420.5" y2="331.7" stroke="#000" stroke-width="1.1"/>
<line x1="424.5" y1="328.9" x2="424.5" y2="331.7" stroke="#000" stroke-width="1.1"/>
<line x1="427.6" y1="328.9" x2="427.6" y2="331.7" stroke="#000" stroke-width="1.1"/>
<line x1="430.1" y1="328.9" x2="430.1" y2="331.7" stroke="#000" stroke-width="1.1"/>
<line x1="432.2" y1="328.9" x2="432.2" y2="331.7" stroke="#000" stroke-width="1.1"/>
<line x1="434.1" y1="328.9" x2="434.1" y2="331.7" stroke="#000" stroke-width="1.1"/>
<line x1="435.7" y1="328.9" x2="435.7" y2="331.7" stroke="#000" stroke-width="1.1"/>
<line x1="437.2" y1="328.9" x2="437.2" y2="333.1" stroke="#000" stroke-width="1.3"/>
<line x1="446.8" y1="328.9" x2="446.8" y2="331.7" stroke="#000" stroke-width="1.1"/>
<line x1="452.5" y1="328.9" x2="452.5" y2="331.7" stroke="#000" stroke-width="1.1"/>
<line x1="456.5" y1="328.9" x2="456.5" y2="331.7" stroke="#000" stroke-width="1.1"/>
<line x1="459.6" y1="328.9" x2="459.6" y2="331.7" stroke="#000" stroke-width="1.1"/>
<line x1="462.1" y1="328.9" x2="462.1" y2="331.7" stroke="#000" stroke-width="1.1"/>
<line x1="464.2" y1="328.9" x2="464.2" y2="331.7" stroke="#000" stroke-width="1.1"/>
<line x1="466.1" y1="328.9" x2="466.1" y2="331.7" stroke="#000" stroke-width="1.1"/>
<line x1="467.7" y1="328.9" x2="467.7" y2="331.7" stroke="#000" stroke-width="1.1"/>
<line x1="469.2" y1="328.9" x2="469.2" y2="333.1" stroke="#000" stroke-width="1.3"/>
<line x1="478.8" y1="328.9" x2="478.8" y2="331.7" stroke="#000" stroke-width="1.1"/>
<line x1="484.5" y1="328.9" x2="484.5" y2="331.7" stroke="#000" stroke-width="1.1"/>
<line x1="488.5" y1="328.9" x2="488.5" y2="331.7" stroke="#000" stroke-width="1.1"/>
<line x1="491.6" y1="328.9" x2="491.6" y2="331.7" stroke="#000" stroke-width="1.1"/>
<text transform="translate(332.1,279.2) rotate(-90)" font-family='"Liberation Serif", serif' font-size="11" fill="#333" textLength="50.9" lengthAdjust="spacingAndGlyphs" stroke="#333" stroke-width="0.25">% of Max</text>
<text x="395.6" y="214.4" font-family='"Liberation Serif", serif' font-size="13.8" fill="#000" textLength="33.1" lengthAdjust="spacing" stroke="#000" stroke-width="0.25">CD41</text>
<text x="429.2" y="208.3" font-family='"Liberation Serif", serif' font-size="13" fill="#000" textLength="8.6" lengthAdjust="spacingAndGlyphs" stroke="#000" stroke-width="0.25">+</text>
<text x="461.1" y="214.4" font-family='"Liberation Serif", serif' font-size="14.5" fill="#000" textLength="22.4" lengthAdjust="spacing" stroke="#000" stroke-width="0.25">n=3</text>
<text x="376.7" y="255.4" font-family='"Liberation Serif", serif' font-size="14.5" font-style="italic">c-Myc</text>
<text x="414.2" y="249.2" font-family='"Liberation Serif", serif' font-size="12.5" fill="#000" textLength="10" lengthAdjust="spacingAndGlyphs" stroke="#000" stroke-width="0.25">-/-</text>
<text x="424.8" y="255.4" font-family='"Liberation Serif", serif' font-size="14.5" fill="#000" textLength="2.5" lengthAdjust="spacing" stroke="#000" stroke-width="0.25">:</text>
<text x="431.9" y="255.4" font-family='"Liberation Serif", serif' font-size="14.5" fill="#000" textLength="71.4" lengthAdjust="spacing" stroke="#000" stroke-width="0.25">5.23±1.76%</text>
<text x="389.2" y="286.3" font-family='"Liberation Serif", serif' font-size="14.2" fill="#000" textLength="100.4" lengthAdjust="spacing" stroke="#000" stroke-width="0.25">WT: 0.35±0.21%</text>
<line x1="396.6" y1="294.2" x2="484.3" y2="294.2" stroke="#555" stroke-width="1.2"/>
<line x1="396.6" y1="291.8" x2="396.6" y2="296.6" stroke="#555" stroke-width="1.2"/>
<line x1="484.3" y1="291.8" x2="484.3" y2="296.6" stroke="#555" stroke-width="1.2"/>
<text x="436.5" y="309.8" font-family='"Liberation Serif", serif' font-size="11.5" fill="#555" text-anchor="middle" stroke="#555" stroke-width="0.25">**</text>
<text x="399.8" y="346.4" font-family='"Liberation Serif", serif' font-size="13.3" fill="#000" textLength="58.7" lengthAdjust="spacingAndGlyphs" stroke="#000" stroke-width="0.25">annexin V</text>
<line x1="336.5" y1="343.7" x2="370.1" y2="343.7" stroke="#444" stroke-width="1.3"/>
<polygon points="376.6,343.7 369.1,345.9 369.1,341.4" fill="#444"/>
<text transform="translate(2.3,374.8) scale(1.05,1)" font-family='"Liberation Sans", sans-serif' font-size="13.2" font-weight="bold">G</text>
<line x1="45.3" y1="371.8" x2="45.3" y2="494.3" stroke="#7a7a7a" stroke-width="1.2"/>
<line x1="45.3" y1="494.3" x2="228.2" y2="494.3" stroke="#7a7a7a" stroke-width="1.2"/>
<line x1="42.8" y1="494.3" x2="45.3" y2="494.3" stroke="#7a7a7a" stroke-width="1.2"/>
<text transform="translate(37.5,496.8) scale(0.94,1)" font-family='"Liberation Serif", serif' font-size="12.3" fill="#222" text-anchor="end" stroke="#222" stroke-width="0.25">0</text>
<line x1="42.8" y1="476.8" x2="45.3" y2="476.8" stroke="#7a7a7a" stroke-width="1.2"/>
<text transform="translate(42.3,479.3) scale(0.94,1)" font-family='"Liberation Serif", serif' font-size="12.3" fill="#222" text-anchor="end" stroke="#222" stroke-width="0.25">0.2</text>
<line x1="42.8" y1="459.3" x2="45.3" y2="459.3" stroke="#7a7a7a" stroke-width="1.2"/>
<text transform="translate(42.3,461.8) scale(0.94,1)" font-family='"Liberation Serif", serif' font-size="12.3" fill="#222" text-anchor="end" stroke="#222" stroke-width="0.25">0.4</text>
<line x1="42.8" y1="441.7" x2="45.3" y2="441.7" stroke="#7a7a7a" stroke-width="1.2"/>
<text transform="translate(42.3,444.2) scale(0.94,1)" font-family='"Liberation Serif", serif' font-size="12.3" fill="#222" text-anchor="end" stroke="#222" stroke-width="0.25">0.6</text>
<line x1="42.8" y1="424.2" x2="45.3" y2="424.2" stroke="#7a7a7a" stroke-width="1.2"/>
<text transform="translate(42.3,426.7) scale(0.94,1)" font-family='"Liberation Serif", serif' font-size="12.3" fill="#222" text-anchor="end" stroke="#222" stroke-width="0.25">0.8</text>
<line x1="42.8" y1="406.7" x2="45.3" y2="406.7" stroke="#7a7a7a" stroke-width="1.2"/>
<text transform="translate(42.3,409.2) scale(0.94,1)" font-family='"Liberation Serif", serif' font-size="12.3" fill="#222" text-anchor="end" stroke="#222" stroke-width="0.25">1</text>
<line x1="42.8" y1="389.2" x2="45.3" y2="389.2" stroke="#7a7a7a" stroke-width="1.2"/>
<text transform="translate(42.3,391.7) scale(0.94,1)" font-family='"Liberation Serif", serif' font-size="12.3" fill="#222" text-anchor="end" stroke="#222" stroke-width="0.25">1.2</text>
<line x1="42.8" y1="371.7" x2="45.3" y2="371.7" stroke="#7a7a7a" stroke-width="1.2"/>
<text transform="translate(42.3,374.2) scale(0.94,1)" font-family='"Liberation Serif", serif' font-size="12.3" fill="#222" text-anchor="end" stroke="#222" stroke-width="0.25">1.4</text>
<rect x="54.4" y="407" width="14.1" height="87.3" fill="#b2b2b2" stroke="#000" stroke-width="1.4"/>
<line x1="61.5" y1="407" x2="61.5" y2="403.1" stroke="#000" stroke-width="1.3"/>
<line x1="59.7" y1="403.1" x2="63.2" y2="403.1" stroke="#000" stroke-width="1.6"/>
<rect x="68.5" y="469.4" width="13.3" height="24.9" fill="#333" stroke="#000" stroke-width="1.4"/>
<line x1="75.2" y1="469.4" x2="75.2" y2="467.8" stroke="#000" stroke-width="1.3"/>
<line x1="73.4" y1="467.8" x2="77" y2="467.8" stroke="#000" stroke-width="1.6"/>
<rect x="100.9" y="407" width="13.8" height="87.3" fill="#b2b2b2" stroke="#000" stroke-width="1.4"/>
<line x1="107.8" y1="407" x2="107.8" y2="386.5" stroke="#000" stroke-width="1.3"/>
<line x1="106" y1="386.5" x2="109.6" y2="386.5" stroke="#000" stroke-width="1.6"/>
<rect x="114.7" y="418" width="13.5" height="76.3" fill="#333" stroke="#000" stroke-width="1.4"/>
<line x1="121.4" y1="418" x2="121.4" y2="416.8" stroke="#000" stroke-width="1.3"/>
<line x1="119.6" y1="416.8" x2="123.2" y2="416.8" stroke="#000" stroke-width="1.6"/>
<rect x="147.4" y="407" width="13.8" height="87.3" fill="#b2b2b2" stroke="#000" stroke-width="1.4"/>
<line x1="154.3" y1="407" x2="154.3" y2="404.7" stroke="#000" stroke-width="1.3"/>
<line x1="152.5" y1="404.7" x2="156.1" y2="404.7" stroke="#000" stroke-width="1.6"/>
<rect x="161.2" y="480.6" width="13.5" height="13.7" fill="#333" stroke="#000" stroke-width="1.4"/>
<line x1="167.9" y1="480.6" x2="167.9" y2="477" stroke="#000" stroke-width="1.3"/>
<line x1="166.1" y1="477" x2="169.8" y2="477" stroke="#000" stroke-width="1.6"/>
<rect x="193.5" y="407" width="14.1" height="87.3" fill="#b2b2b2" stroke="#000" stroke-width="1.4"/>
<line x1="200.6" y1="407" x2="200.6" y2="403.5" stroke="#000" stroke-width="1.3"/>
<line x1="198.8" y1="403.5" x2="202.4" y2="403.5" stroke="#000" stroke-width="1.6"/>
<rect x="207.6" y="433.5" width="12.7" height="60.8" fill="#333" stroke="#000" stroke-width="1.4"/>
<line x1="213.9" y1="433.5" x2="213.9" y2="431" stroke="#000" stroke-width="1.3"/>
<line x1="212.1" y1="431" x2="215.8" y2="431" stroke="#000" stroke-width="1.6"/>
<text x="74.2" y="462.5" font-family='"Liberation Serif", serif' font-size="11.5" fill="#666" text-anchor="middle" stroke="#666" stroke-width="0.25">**</text>
<text x="168.4" y="463.5" font-family='"Liberation Serif", serif' font-size="11.5" fill="#666" text-anchor="middle" stroke="#666" stroke-width="0.25">**</text>
<text x="54.3" y="506.5" font-family='"Liberation Serif", serif' font-size="12.4" fill="#000" textLength="26.8" lengthAdjust="spacing" font-style="italic" stroke="#000" stroke-width="0.25">Bcl2</text>
<text x="95.8" y="506.5" font-family='"Liberation Serif", serif' font-size="12.4" fill="#000" textLength="37.2" lengthAdjust="spacing" font-style="italic" stroke="#000" stroke-width="0.25">Bcl-xl</text>
<text x="145.3" y="506.5" font-family='"Liberation Serif", serif' font-size="12.4" fill="#000" textLength="30.9" lengthAdjust="spacing" font-style="italic" stroke="#000" stroke-width="0.25">Mcl1</text>
<text x="187" y="506.5" font-family='"Liberation Serif", serif' font-size="12.4" fill="#000" textLength="47.1" lengthAdjust="spacing" font-style="italic" stroke="#000" stroke-width="0.25">survivin</text>
<text transform="translate(19.4,471.3) rotate(-90)" font-family='"Liberation Serif", serif' font-size="16" fill="#000" textLength="77.7" lengthAdjust="spacingAndGlyphs" stroke="#000" stroke-width="0.25">relative ratio</text>
<text transform="translate(245,378.8) scale(1.15,1)" font-family='"Liberation Sans", sans-serif' font-size="13.6" font-weight="bold">H</text>
<line x1="287.4" y1="373.8" x2="287.4" y2="495.9" stroke="#7a7a7a" stroke-width="1.2"/>
<line x1="287.4" y1="495.9" x2="419.4" y2="495.9" stroke="#7a7a7a" stroke-width="1.2"/>
<line x1="284.9" y1="495.9" x2="287.4" y2="495.9" stroke="#7a7a7a" stroke-width="1.2"/>
<text transform="translate(277.4,498.4) scale(1.07,1)" font-family='"Liberation Serif", serif' font-size="11.6" fill="#222" text-anchor="end" stroke="#222" stroke-width="0.25">0</text>
<line x1="284.9" y1="480.7" x2="287.4" y2="480.7" stroke="#7a7a7a" stroke-width="1.2"/>
<text transform="translate(283.2,483.2) scale(1.07,1)" font-family='"Liberation Serif", serif' font-size="11.6" fill="#222" text-anchor="end" stroke="#222" stroke-width="0.25">0.2</text>
<line x1="284.9" y1="465.5" x2="287.4" y2="465.5" stroke="#7a7a7a" stroke-width="1.2"/>
<text transform="translate(283.2,468) scale(1.07,1)" font-family='"Liberation Serif", serif' font-size="11.6" fill="#222" text-anchor="end" stroke="#222" stroke-width="0.25">0.4</text>
<line x1="284.9" y1="450.3" x2="287.4" y2="450.3" stroke="#7a7a7a" stroke-width="1.2"/>
<text transform="translate(283.2,452.8) scale(1.07,1)" font-family='"Liberation Serif", serif' font-size="11.6" fill="#222" text-anchor="end" stroke="#222" stroke-width="0.25">0.6</text>
<line x1="284.9" y1="435.1" x2="287.4" y2="435.1" stroke="#7a7a7a" stroke-width="1.2"/>
<text transform="translate(283.2,437.6) scale(1.07,1)" font-family='"Liberation Serif", serif' font-size="11.6" fill="#222" text-anchor="end" stroke="#222" stroke-width="0.25">0.8</text>
<line x1="284.9" y1="419.9" x2="287.4" y2="419.9" stroke="#7a7a7a" stroke-width="1.2"/>
<text transform="translate(283.2,422.4) scale(1.07,1)" font-family='"Liberation Serif", serif' font-size="11.6" fill="#222" text-anchor="end" stroke="#222" stroke-width="0.25">1</text>
<line x1="284.9" y1="404.7" x2="287.4" y2="404.7" stroke="#7a7a7a" stroke-width="1.2"/>
<text transform="translate(283.2,407.2) scale(1.07,1)" font-family='"Liberation Serif", serif' font-size="11.6" fill="#222" text-anchor="end" stroke="#222" stroke-width="0.25">1.2</text>
<line x1="284.9" y1="389.5" x2="287.4" y2="389.5" stroke="#7a7a7a" stroke-width="1.2"/>
<text transform="translate(283.2,392) scale(1.07,1)" font-family='"Liberation Serif", serif' font-size="11.6" fill="#222" text-anchor="end" stroke="#222" stroke-width="0.25">1.4</text>
<line x1="284.9" y1="374.3" x2="287.4" y2="374.3" stroke="#7a7a7a" stroke-width="1.2"/>
<text transform="translate(283.2,376.8) scale(1.07,1)" font-family='"Liberation Serif", serif' font-size="11.6" fill="#222" text-anchor="end" stroke="#222" stroke-width="0.25">1.6</text>
<rect x="296.5" y="419.7" width="13.5" height="76.2" fill="#b2b2b2" stroke="#000" stroke-width="1.4"/>
<line x1="303.2" y1="419.7" x2="303.2" y2="410.6" stroke="#000" stroke-width="1.3"/>
<line x1="301.4" y1="410.6" x2="305.1" y2="410.6" stroke="#000" stroke-width="1.6"/>
<rect x="310" y="427.6" width="13.8" height="68.3" fill="#333" stroke="#000" stroke-width="1.4"/>
<line x1="316.9" y1="427.6" x2="316.9" y2="419.7" stroke="#000" stroke-width="1.3"/>
<line x1="315.1" y1="419.7" x2="318.7" y2="419.7" stroke="#000" stroke-width="1.6"/>
<rect x="343.5" y="419.7" width="13.3" height="76.2" fill="#b2b2b2" stroke="#000" stroke-width="1.4"/>
<line x1="350.1" y1="419.7" x2="350.1" y2="397.6" stroke="#000" stroke-width="1.3"/>
<line x1="348.3" y1="397.6" x2="351.9" y2="397.6" stroke="#000" stroke-width="1.6"/>
<rect x="356.8" y="438" width="13.5" height="57.9" fill="#333" stroke="#000" stroke-width="1.4"/>
<line x1="363.6" y1="438" x2="363.6" y2="413.8" stroke="#000" stroke-width="1.3"/>
<line x1="361.8" y1="413.8" x2="365.4" y2="413.8" stroke="#000" stroke-width="1.6"/>
<rect x="389.7" y="419.7" width="12.9" height="76.2" fill="#b2b2b2" stroke="#000" stroke-width="1.4"/>
<line x1="396.1" y1="419.7" x2="396.1" y2="403.5" stroke="#000" stroke-width="1.3"/>
<line x1="394.3" y1="403.5" x2="397.9" y2="403.5" stroke="#000" stroke-width="1.6"/>
<rect x="402.6" y="392.4" width="13.9" height="103.5" fill="#333" stroke="#000" stroke-width="1.4"/>
<line x1="409.6" y1="392.4" x2="409.6" y2="382.6" stroke="#000" stroke-width="1.3"/>
<line x1="407.8" y1="382.6" x2="411.4" y2="382.6" stroke="#000" stroke-width="1.6"/>
<text x="272.2" y="509.1" font-family='"Liberation Serif", serif' font-size="12" fill="#000" textLength="56.6" lengthAdjust="spacing" stroke="#000" stroke-width="0.25">ß1-tubulin</text>
<text x="341.1" y="509.1" font-family='"Liberation Serif", serif' font-size="12" fill="#000" textLength="36.5" lengthAdjust="spacing" stroke="#000" stroke-width="0.25">NF-E2</text>
<text x="396.7" y="509.1" font-family='"Liberation Serif", serif' font-size="12" fill="#000" textLength="17.5" lengthAdjust="spacing" stroke="#000" stroke-width="0.25">PF4</text>
<text transform="translate(264.8,473.3) rotate(-90)" font-family='"Liberation Serif", serif' font-size="15.2" fill="#000" textLength="79" lengthAdjust="spacingAndGlyphs" stroke="#000" stroke-width="0.25">relative ratio</text>
<rect x="447.8" y="393" width="12.2" height="8.6" fill="#c8c8c8" stroke="#000" stroke-width="2.0"/>
<rect x="447.8" y="419.9" width="12.2" height="8.6" fill="#262626" stroke="#000" stroke-width="2.0"/>
<text x="468.9" y="401.7" font-family='"Liberation Serif", serif' font-size="16.5" fill="#000" stroke="#000" stroke-width="0.25">WT</text>
<text x="465.2" y="427.7" font-family='"Liberation Serif", serif' font-size="16.5" fill="#000" font-style="italic" stroke="#000" stroke-width="0.25">c-Myc<tspan font-size="13.5" dy="-6.8" letter-spacing="0.8">-/-</tspan></text>
</svg></body></html>
